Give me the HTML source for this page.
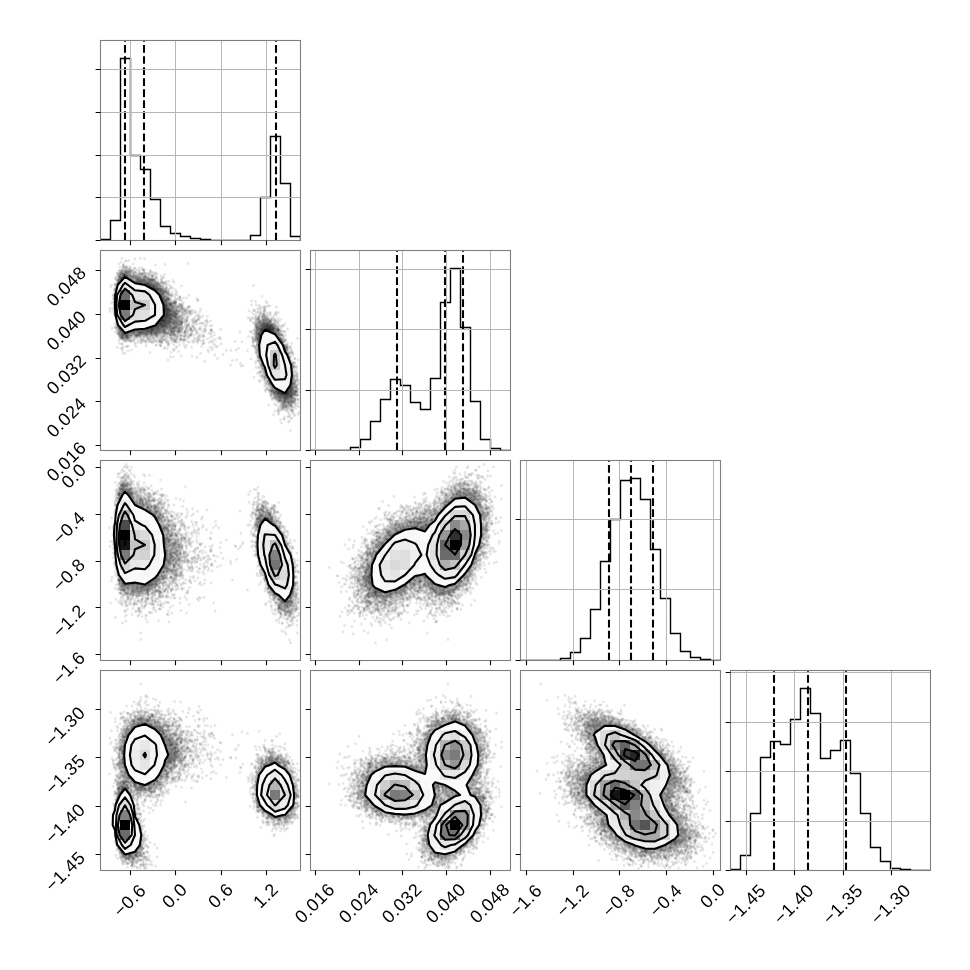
<!DOCTYPE html>
<html><head><meta charset="utf-8"><title>corner</title>
<style>html,body{margin:0;padding:0;background:#fff}svg{display:block}</style>
</head><body>
<svg width="970" height="970" viewBox="0 0 970 970" font-family="'Liberation Sans', sans-serif" font-size="16.7">
<rect width="970" height="970" fill="#fff"/>
<defs>
<clipPath id="c00"><rect x="100.0" y="40.0" width="200" height="200"/></clipPath>
<clipPath id="c10"><rect x="100.0" y="250.0" width="200" height="200"/></clipPath>
<clipPath id="c11"><rect x="310.0" y="250.0" width="200" height="200"/></clipPath>
<clipPath id="c20"><rect x="100.0" y="460.0" width="200" height="200"/></clipPath>
<clipPath id="c21"><rect x="310.0" y="460.0" width="200" height="200"/></clipPath>
<clipPath id="c22"><rect x="520.0" y="460.0" width="200" height="200"/></clipPath>
<clipPath id="c30"><rect x="100.0" y="670.0" width="200" height="200"/></clipPath>
<clipPath id="c31"><rect x="310.0" y="670.0" width="200" height="200"/></clipPath>
<clipPath id="c32"><rect x="520.0" y="670.0" width="200" height="200"/></clipPath>
<clipPath id="c33"><rect x="730.0" y="670.0" width="200" height="200"/></clipPath>
<filter id="hb" x="-5%" y="-5%" width="110%" height="110%"><feGaussianBlur stdDeviation="1.2"/></filter>
</defs>
<g clip-path="url(#c00)">
<path d="M100.5 240.5V239.5H110.5V220.5H120.5V58.5H130.5V155.5H140.5V169.5H150.5V199.5H160.5V226.5H170.5V233.5H180.5V236.5H190.5V238.5H200.5V239.5H210.5V240.5H220.5V240.5H230.5V240.5H240.5V240.5H250.5V235.5H260.5V197.5H270.5V136.5H280.5V183.5H290.5V236.5H300.5V240.5" stroke="#000" stroke-width="1.4" fill="none" stroke-linejoin="miter"/>
<path d="M125 240.5V40.5M144 240.5V40.5M276 240.5V40.5" stroke="#000" stroke-width="2.08" stroke-dasharray="7.71 3.33" fill="none"/>
<path d="M130.5 40.5v200M175.5 40.5v200M221.5 40.5v200M266.5 40.5v200M100.5 69.5h200M100.5 112.5h200M100.5 155.5h200M100.5 197.5h200M100.5 240.5h200" stroke="#b6b6b6" stroke-width="1" fill="none"/>
</g>
<rect x="100.5" y="40.5" width="200" height="200" fill="none" stroke="#7f7f7f" stroke-width="1.1"/>
<path d="M130.5 240.5v4.86M175.5 240.5v4.86M221.5 240.5v4.86M266.5 240.5v4.86M100.5 69.5h-4.86M100.5 112.5h-4.86M100.5 155.5h-4.86M100.5 197.5h-4.86M100.5 240.5h-4.86" stroke="#000" stroke-width="1.1" fill="none"/>
<g clip-path="url(#c10)">
<g transform="translate(-.5 -.5)">
<g filter="url(#hb)">
<path d="M122.1 271l2.9-0.9l3 0.3l2 1.4l3 3.9l12 0.8l9 3.1l4 2.5l7.1 6.9l1.6 2l2.3 6.6l3.4 4.4l2.5 6l2.8 4l0.8 2l0 7l1 4l-0.6 2l-1.9 2.5l-3 1.9l-5 0l-4 2l-8 2.7l-17 1.8l-6-1.7l-4 3l-4 1.5l-3-0.3l-2-1.4l-1.6-2l-1-3l-0.3-5l1-3l-2.9-9l-0.1-9l-0.9-3l0.9-3l0.1-9l1.9-6l-1.4-6l2.4-7l1.5-2ZM263.2 319l1.8-0.5l2 0.2l5 2.4l5.7 4.9l4.1 7l0.2 3l-2.2 3l0 2l4 6l1.2 4.6l3.8 6.4l1.2 4.6l1.8 3.4l0.2 13.3l3.2 1.7l1.5 3l0.3 5l-0.5 7l-3.8 7l-2.7 1.8l-3-0.2l-8-3l-6.7-6.6l-1.7-3l0-3l2.4-3l0-1.3l-5.8-9.7l-1.2-6.6l-2.8-5.4l-3-8l-0.2-10.3l-4-2.1l-1.5-3.6l0.2-8l0.8-3l5-7Z" fill="#000" fill-opacity="0.100" fill-rule="evenodd"/>
<path d="M122.5 272l2.5-0.9l3 0.5l1.6 1.4l2.4 4l1 0.4l10 0l8 2.2l6 3.1l7.7 7.3l1.2 2l2 6l3.8 5l1.8 5l2.9 4l0.8 2l0.4 3l-0.6 4l1.1 4l-0.7 2l-1.4 1.6l-3 1.6l-4-0.1l-13 5.1l-6 0.2l-10 1.4l-7-2.3l-3 3.4l-3 1.4l-3 0.2l-2.5-1.5l-2.1-4l-0.3-4l0.6-3l-3-10l-0.2-9l-1-3l1-3l0-8l2.2-9l-1-3l0.2-2l2.5-6ZM263.5 320l2.5-0.4l5 2.1l5 4l1.7 2.3l2.9 5l0.4 2l-0.7 2l-1.9 2l1.4 3l2.6 3l2.6 7.5l3.3 5.5l1.5 5l1.5 3l0.5 14l0.2 0.6l2 0.8l1.4 1.6l0.6 6l-0.9 7l-3.1 6l-2 1.6l-2 0.1l-8-2.7l-7-6.9l-1.2-2.1l0.1-3l2-3l-0.7-2l-5.5-9l-1.5-7l-2.5-5l-3-8l-0.5-11l-0.2-0.6l-3.2-1.4l-1.3-3l0.3-8l0.9-3l4.3-6ZM132 330.9l-0.2 0.1l0.2 0.6l1 0.1l0.8-0.7l-0.8-0.1Z" fill="#000" fill-opacity="0.100" fill-rule="evenodd"/>
<path d="M125.8 272l2.2 0.7l1.2 1.3l1.3 3l0 1l-1.1 2l2.6 2.2l1 0.3l1-0.5l-0.9-2l0.4-1l1.5-0.7l5-0.4l6 0.9l9.8 4.2l8.2 7.5l1.3 2.5l1.4 5l3.9 5l1.8 5l3.6 6l0.4 3l-0.8 4l1.1 4l-1.7 2.7l-2 1.1l-4 0.2l-12 5.1l-7 0.3l-9 1.6l-3-0.5l-2.6-1.5l-0.7-1l0.2-1l2.5-2l-2.4-0.5l-4.3 1.5l-0.5 1l1 1l0 2l-2.2 2.4l-4 1.1l-2-0.5l-1.2-1l-1.7-4l-0.1-3l0.6-2l-3.5-11l-0.2-9l-0.9-3l0.9-3l0.2-9l2.3-9l-0.8-2l0.1-2l2.8-6l1.5-1.3ZM263.4 321l2.6-0.4l4 1.5l6.7 5.9l2.9 5l0.5 2l-0.3 1l-1.8 1.5l-0.2 1.5l4.6 7l2.1 6l2.9 5l3.5 9l0.4 14l0.7 1.6l2.4 1.4l0.7 6l-0.7 6l-3 6l-1.4 1.4l-2 0.2l-8-2.6l-3-3.6l-3-2.5l-1.3-1.9l-0.2-2l2.1-3l-0.3-1l-6.2-11l-1.2-6l-5.8-14l-0.6-12l-0.5-0.6l-2-0.5l-1-1l-0.7-1.9l1-10l4-6Z" fill="#000" fill-opacity="0.136" fill-rule="evenodd"/>
<path d="M125 273l2 0.3l1.6 1.7l0.6 2l-1.3 2l0.5 1l6.6 4.5l1 0.3l1.9-0.8l-2.8-3l0.1-1l0.8-0.5l4-0.6l6 1l9 3.9l8 6.9l1.3 2.3l0.9 5l4.7 6l1.7 5l2.6 4l0.6 4l-0.9 4l0.9 3l-0.8 2.2l-1.1 0.8l-3.9 0.7l-12.1 5.3l-6.9 0.3l-9 1.7l-3.6-1l-0.8-1l0.2-1l2.2-1.2l4-0.8l1.4-1l-1.4-0.6l-3 1.1l-5-0.6l-3.5 1.1l-3.3 2l1.8 2l-0.9 2l-1.1 0.7l-3 0.7l-2.8-1.4l-1.2-3l0.3-5l-1.9-4l-2-7l-0.2-9l-1-3l1-3l0.2-9l2.8-9l-0.6-4l2.4-5ZM263.6 322l2.4-0.4l3 1.1l5.7 4.3l1.3 1.6l2.8 5.4l0 1l-1.8 1.6l0.3 2.4l4.3 6l2.5 7l3.5 6l1.4 4.9l1.6 3.1l0.2 16l0.2 0.5l2 0.5l0.8 1l0.3 5l-0.9 6l-3.2 5.8l-1 0.6l-8-1.9l-7-7l-0.4-2.5l1.6-2l0.1-1l-6.9-12l-1.4-6.9l-2.6-5.1l-3-8l-0.1-13l-0.3-1.1l-2 0.4l-1-0.6l-0.8-1.7l-0.1-2l1.3-8Z" fill="#000" fill-opacity="0.186" fill-rule="evenodd"/>
<path d="M123.8 275l1.2-0.6l2 0.6l0.4 2l-1 2l8.6 6.1l4 0l2 0.6l4-0.7l-6.1-3l-0.3-1l0.4-0.2l8.6 1.2l6.8 3l3.6 3.8l4 2.4l0.9 1.8l-0.1 2l-0.8 2.3l-1-0.1l-0.4 0.8l1.4 4.5l1.2 1.5l-0.4-3l0.2-1l1 0l4 4l3.7 9l0.9 4l-0.4 2l-2.7 5l-1.8 2l-12.7 6l-10 0l1.5-3l-1.5-1l-2-0.2l-3 1l-6 0l-5.8 2.2l-1.2 1l-1.1 1l0.7 1l-0.1 1l-1.5 0.5l-2-0.8l-0.6-1.7l0.6-3l-3.3-6l-2-7l-0.2-9l-1-3l1-3l0.2-9l1.9-7l1.7-3l-0.6-3ZM264.4 323l1.6-0.2l3 1.2l6.1 5l1.4 4l0 1l-1.4 1l1.7 4l5.5 8l1.4 5l3.6 6l1.4 5l1.6 3l0.3 14l-0.6 3l1 1.7l1-0.2l0.3 0.5l0.6 4l-0.9 5.3l-3 4.1l-6 0.2l-2-0.5l-6-6.1l-0.1-2l1.4-2l-6-11l-1.6-2l-1.4-7l-2.6-5l-3-8l-0.3-11l0.6-3.8l-1-1.5l-1 1.1l-1 0l-0.8-1.8l1.6-9l3.2-4.9ZM139.7 333l1.3-0.9l1.1 0.9Z" fill="#000" fill-opacity="0.246" fill-rule="evenodd"/>
<path d="M125 280l1-0.4l9 5.9l10 0.9l2 1.6l2 0.5l5 2.8l4 3.7l4.6 10l0.4 10.5l1 0.8l0.7-1.3l0.5-6l0.8-1.8l1 0.1l1 1.2l1.5 6.5l0.1 2l-0.6 1l-5 5.9l-5 3.2l-2-0.1l-0.2-2l-0.8-0.2l-2.8 1.2l-0.2 0.7l-1-0.3l-5 1.3l-4-0.3l-3 1l-6 0l-8 3.2l-2-1.7l-3-3.9l-2-5.1l-1.2-4.9l0-8l-1-3l1-3l0-8l2.2-8l3-4.2ZM149 285l1-0.2l2.3 1.2l1.2 1l-0.2 1l-1.8 0l-1.5-0.7l-1-1.3ZM162 317.7l-3 2.8l0 1.5l3-3l0.6-1ZM264.8 325l1.2-0.2l2 0.5l5 3.2l1 1.2l0.3 2.3l-1.7 2l2.9 3l2.9 5l2.6 3.1l2.4 6.9l3.5 6l1.5 5l1.6 3.1l0.3 13.9l-0.6 2l0 3l-1.1 3l0.4 0.7l2 0.6l0.1 2.7l-1.1 2.9l-2 1.3l-6 0.4l-5.1-4.6l-0.3-1l0.4-0.5l2.2-0.5l-1.2-0.6l-3-4.4l-5.9-10l-1.5-7l-2.5-5l-3.1-8.1l-0.3-10.9l0.7-2l0-4l1.8-5l-0.2-0.5l-2.1 0.5l-0.9-2l1.1-3ZM153.5 327l3.5 0l-1 0.3l-0.8 1.7l-1.2 0.9l-2.1 0.1l-1.8-1l0.9-1.1Z" fill="#000" fill-opacity="0.326" fill-rule="evenodd"/>
<path d="M124.7 281l1.3-0.6l1 0.4l8 5.1l10 1.1l2 1.6l7 3.4l4 4l4.3 10l0.1 9l-0.4 1.3l-3.7 3.7l-1.3 2.5l-1.6 1.5l-8.4 3.1l-5 0.1l-2 0.8l-6 0.1l-8 2.9l-4-4.2l-1.8-3.8l-2-7l-0.1-8l-0.9-3l0.9-3l0.1-8l1-4l1.3-4ZM265 329l1-0.8l1 0l3 0.8l1.9 1l0.2 1l-1.1 0.9l-3-0.3l0-0.6ZM265.5 333l1.5-0.9l2 0.2l6 4.7l3.6 6l2.4 2.9l2.1 6.1l2.9 4.9l3.5 9.1l0.4 14l-0.9 5l-2.2 4l-0.1 1l0.3 1.3l1-0.2l1.2 0.9l-0.2 1l-1 1l-2.3 0l-0.7-2l-7-3.8l-4.5-6.2l-4.3-8l-1.3-6l-5.7-14l-0.1-10l0.7-2l0-3Z" fill="#000" fill-opacity="0.448" fill-rule="evenodd"/>
<path d="M125.9 281l4.1 1.9l5 3.6l10 1.2l9 5l3.3 3.3l4.3 10l0.1 9l-0.3 1l-3.9 4l-1 2l-1.5 1.4l-9 3.2l-3-0.2l-3 1l-6 0.1l-7 2.7l-1.3-0.2l-3.7-3.9l-2.1-5.1l-1.2-5l0-8l-1-3l1-3l0-8l2.2-8ZM266.9 333l7.1 3.7l4.1 6.3l1.9 2l2.5 7l3.5 5.8l1.5 5.2l1.6 3l0.2 14l-1 5l-3.3 5.8l-7-3.5l-4-5.3l-2.4-5l-1.6-2l-1.5-7l-2.5-4.8l-3.1-8.2l-0.2-11l0.7-2l0-3l2.2-5Z" fill="#000" fill-opacity="0.594" fill-rule="evenodd"/>
</g>
<g fill="none" stroke="#000" stroke-opacity=".1" stroke-width="2.8" stroke-linecap="round">
<path d="M111 287.5h0m7-13.5h0m-1.5 6h0m1.5 7.5h0m-0.5 0h0m-1.5 7h0m1.5 31.5h0m2 1.5h0m-1 7.5h0m7-65.5h0m-4 4.5h0m2.5 1h0m3 1.5h0m1 2.5h0m-4.5 0h0m-2 3.5h0m-1.5 1h0m1.5 45.5h0m6.5 9.5h0m-6.5 0h0m-1 0.5h0m2.5 5.5h0m7.5-77.5h0m-0.5 7.5h0m0.5 1.5h0m-1.5 4.5h0m2.5 1h0m2.5 2h0m-4.5 48h0m5 0.5h0m-4.5 0h0m5 0h0m-1.5 1.5h0m-3.5 8h0m12.5-66.5h0m-0.5 6.5h0m-2.5 47.5h0m3.5 2h0m0 0.5h0m7.5-57.5h0m-0.5 2h0m0.5 4h0m-1.5 0h0m-2 1.5h0m1 1.5h0m1.5 3.5h0m1 2h0m1.5 42h0m-2.5 0.5h0m-3 1h0m5 9h0m-5 1h0m10-68.5h0m-0.5 5.5h0m-3.5 2h0m7 5h0m-2 1h0m0.5 5h0m1 29h0m0 1.5h0m-2.5 3h0m2 0.5h0m-0.5 1.5h0m-1.5 0h0m1.5 2.5h0m-1 2.5h0m1.5 3h0m6.5-52h0m-4.5 0.5h0m2.5 3h0m4 1.5h0m0 3h0m-2 0.5h0m0.5 0.5h0m-1 0h0m-4 4h0m0.5 0.5h0m3 1h0m4 8h0m-4 3h0m2.5 6.5h0m-2 0.5h0m-2 4h0m2 1.5h0m-1 1h0m3 2h0m-5.5 1h0m5.5 7h0m-3 5h0m3.5 0.5h0m0.5 3.5h0m6-60.5h0m-5.5 13h0m7.5 1.5h0m-7 5.5h0m3 1.5h0m3.5 0.5h0m-2 0.5h0m-2.5 2h0m-2 10h0m3 4h0m-0.5 1.5h0m3.5 9h0m-3 0.5h0m-2.5 2h0m5.5 8.5h0m7.5-40h0m-1.5 4h0m-1.5 2h0m0 0.5h0m-0.5 0h0m3 1.5h0m-1.5 2h0m-3 4h0m4.5 1h0m-5 0h0m2.5 0.5h0m0 4.5h0m-2.5 1h0m3 2.5h0m2 1h0m-5.5 4.5h0m3 0.5h0m1 15h0m10.5-31h0m7-15.5h0m0.5 17.5h0m-1.5 5.5h0m0.5 12.5h0m10.5-13h0m-6.5 6h0m2 8h0m-1 11.5h0m3 15h0m5.5-35.5h0m2 11h0m-1.5 0.5h0m1 4h0m29 22h0m15-44h0m-5.5 12h0m1.5 1h0m7-21h0m4 8h0m-3.5 3h0m3 7h0m-2 12h0m-1 0h0m-1 0.5h0m1.5 2h0m0.5 0h0m-2 1h0m2 0h0m-0.5 0h0m0 0.5h0m0.5 7h0m0 0.5h0m-1 5h0m2.5 2h0m-5.5 7.5h0m6 1h0m6.5-49.5h0m-1.5 1h0m2.5 2h0m-1.5 3h0m-1 1h0m4.5 1h0m-2.5 1h0m-5.5 1h0m3 0.5h0m-2.5 35h0m0 7h0m1.5 3.5h0m5.5 8h0m-1.5 1h0m-1 5h0m2.5 1.5h0m0 4h0m-2.5 10.5h0m6-81.5h0m4.5 1h0m-0.5 5.5h0m-1 0.5h0m-2 6h0m-4 48h0m3 2.5h0m-1.5 0.5h0m4.5 6.5h0m-1.5 4h0m3.5 2.5h0m-1.5 9.5h0m0.5 4.5h0m3.5-72h0m-0.5 0.5h0m5 3h0m-2.5 2.5h0m3 1.5h0m0 3.5h0m-4.5 38.5h0m3.5 0.5h0m0.5 4.5h0m-2.5 4h0m0 0.5h0m1.5 0.5h0m1.5 0.5h0m-3.5 6h0m1 8.5h0m6-66.5h0m-2 6.5h0m-0.5 1.5h0m4 6.5h0m-0.5 10h0m0 1h0m1.5 2h0m-0.5 0h0m-2 1h0m4.5 3.5h0m-5 1h0m5.5 8.5h0m-4 0.5h0m-1.5 3.5h0m2 1.5h0m3 4h0m-1.5 0.5h0m-5 0.5h0m2 0.5h0m1 3h0m-3 3.5h0m-0.5 7.5h0m9.5-11.5h0"/>
<path d="M116 290h0m-1.5 13.5h0m1.5 1h0m0 2h0m-2.5 3h0m5 14.5h0m0.5 3.5h0m-1 6.5h0m9-66h0m-3 0h0m3 4h0m-2.5 5h0m-3.5 0.5h0m0.5 53h0m-1.5 3h0m1.5 1.5h0m5 1h0m-5.5 2h0m2 0.5h0m4.5 0h0m-3.5 9h0m9.5-83h0m-5 12h0m0 1.5h0m0 1.5h0m5.5 52h0m-1.5 1h0m1.5 0.5h0m-4 0.5h0m2.5 1.5h0m10-61h0m-5.5 5.5h0m7 1h0m-0.5 0.5h0m-2.5 1.5h0m-2.5 0.5h0m-1 0.5h0m-0.5 0.5h0m5.5 55.5h0m2.5-66.5h0m3.5 1h0m-0.5 0.5h0m-2 3h0m3.5 3h0m-1.5 2.5h0m-2.5 2.5h0m5 0.5h0m-1 42h0m-0.5 0h0m-1.5 0.5h0m2 3.5h0m-2 2h0m2.5 6h0m6-74.5h0m1 12.5h0m-2 8h0m0.5 4h0m4.5 31.5h0m-2 5h0m2 6.5h0m-3 2h0m-5 0h0m8 5h0m-2 2h0m8-53h0m1 3.5h0m-4.5 2h0m1.5 4.5h0m1.5 2h0m-0.5 0.5h0m-1.5 1.5h0m2 8h0m-1.5 1.5h0m-2.5 12h0m4.5 2.5h0m-1 5h0m-3 4.5h0m0.5 1.5h0m-0.5 5h0m12.5-60h0m-5.5 2.5h0m2 1h0m1.5 6.5h0m-4 1h0m1.5 10h0m4.5 0h0m-3 2h0m-2 4h0m4.5 0.5h0m-3.5 1h0m-1.5 1.5h0m5.5 2h0m-3 8h0m3.5 5.5h0m-0.5 0.5h0m-1.5 0.5h0m0 2h0m1.5 0h0m-6 2.5h0m2.5 3h0m0.5 4.5h0m-2.5 0h0m8.5-49h0m4.5 12h0m-5 4.5h0m3.5 3h0m3.5 1.5h0m-3 1.5h0m-3.5 0h0m4 1.5h0m0 1h0m-2.5 1h0m0.5 3h0m2.5 1h0m-4.5 1.5h0m5 0.5h0m-2 2h0m-1.5 0.5h0m0.5 5h0m0 1h0m2 3.5h0m0.5 3h0m-4.5 7.5h0m4 9.5h0m6-42.5h0m0.5 5.5h0m-1 9.5h0m-1.5 4.5h0m4.5 2h0m-1 2.5h0m5.5-19h0m-2 8h0m3 2.5h0m4.5 6h0m1-26h0m-1 25h0m1 3h0m53-51.5h0m0.5 25h0m-2 2h0m-1 19h0m0 27.5h0m3 18.5h0m8-81h0m-4.5 12h0m4.5 8h0m-4 1.5h0m1.5 1.5h0m0 2.5h0m-4 2h0m6.5 2.5h0m-5 3h0m6 0.5h0m-2 0.5h0m1 0.5h0m-2 3h0m-1 10h0m0.5 2h0m-1 4h0m0.5 7h0m0.5 0.5h0m2 2h0m1.5 2.5h0m-0.5 7h0m-3.5 11.5h0m4.5-65h0m5 0h0m-1 3h0m1 0.5h0m-2 2h0m4 0.5h0m0.5 1.5h0m0.5 0.5h0m-7.5 41h0m1.5 3h0m-0.5 1.5h0m1 0.5h0m0 1.5h0m-0.5 0.5h0m0.5 3.5h0m-2 2h0m1 3h0m0 2.5h0m12.5-60h0m-5 4h0m-1 7h0m7.5 0.5h0m-1.5 3.5h0m0.5 1.5h0m-6 44.5h0m2 9.5h0m0 1.5h0m1 1h0m3 0.5h0m-1.5 0.5h0m1.5 0.5h0m-2 8h0m2.5 7h0m6.5-88h0m-2 11h0m1 2h0m-3.5 2.5h0m4 1.5h0m-2 1h0m4.5 3.5h0m-1.5 0h0m-2.5 0h0m1.5 1.5h0m1 1.5h0m-1 1.5h0m-4 43.5h0m6.5 5h0m-6.5 2.5h0m2 0.5h0m1.5 3h0m1.5 3.5h0m-2.5 1.5h0m-1 1h0m9.5-58.5h0m-0.5 31.5h0m-0.5 1h0m5 10h0m-5 0.5h0m1 0.5h0m1 2.5h0m-1 8.5h0m-1.5 0.5h0m1.5 3.5h0m1 1h0m4-20h0"/>
<path d="M120 278.5h0m-2 9.5h0m-0.5 3.5h0m-0.5 2h0m-1.5 8h0m0.5 11h0m0.5 2.5h0m0 3h0m2 4h0m-1 5.5h0m-1.5 5.5h0m6.5-60h0m1.5 2.5h0m-1.5 5h0m-2 47.5h0m4 4.5h0m-2.5 12h0m13.5-85h0m-5 13h0m-0.5 0.5h0m1.5 4.5h0m0.5 3h0m-1 1h0m2.5 48.5h0m-0.5 0.5h0m0 0h0m-4.5 7.5h0m5 2.5h0m-2.5 1h0m3.5 0h0m6.5-59h0m-2.5 1h0m-2.5 0h0m7 0.5h0m-5.5 45.5h0m4.5 0h0m-4.5 2.5h0m0.5 0.5h0m1.5 2.5h0m2 8h0m4.5-68h0m0 5.5h0m3 5h0m-1 1h0m-1.5 57.5h0m6.5-64h0m5 1h0m-2.5 0h0m1.5 0.5h0m0 6h0m-2.5 0.5h0m1.5 0.5h0m4 1h0m-5.5 1.5h0m-2 39.5h0m0 1.5h0m3.5 2.5h0m2 1.5h0m-5.5 0.5h0m13-71.5h0m-5 21h0m6.5 3h0m-1.5 3h0m2 1.5h0m-6 6h0m5 7h0m0.5 3h0m-3.5 3h0m1 0h0m-2 7.5h0m3 1h0m-3 3.5h0m2 1.5h0m-1.5 1h0m-2.5 3.5h0m5 0h0m-1 1.5h0m-1 1.5h0m3.5 0.5h0m2.5-44h0m6.5 10h0m-4 4h0m-0.5 1h0m3 7.5h0m-5 7h0m1.5 1h0m3 2.5h0m1 5h0m-2 4.5h0m-0.5 2h0m0 0.5h0m1 0h0m-3 0h0m8-35.5h0m5.5 3.5h0m-8 0h0m5.5 2.5h0m1 7h0m-4.5 0.5h0m-0.5 1h0m-1.5 3.5h0m4 3h0m-3.5 4.5h0m6 2.5h0m-2 3h0m-1.5 2.5h0m1 6.5h0m8.5-75.5h0m1.5 43.5h0m-4 2h0m-1 1h0m4 0.5h0m-0.5 2.5h0m-2 7h0m4 8h0m-5 4h0m6.5 0.5h0m-8 7.5h0m9-8.5h0m7 4.5h0m6-6.5h0m-2.5 7h0m-2.5 4.5h0m2.5 3h0m10.5-0.5h0m7-14h0m-3 17h0m13 18.5h0m17-14.5h0m4-49.5h0m4 39h0m-1 6h0m1.5-41h0m7 10h0m0.5 1.5h0m-5 2h0m5 0.5h0m-3.5 2.5h0m-3.5 12.5h0m2.5 2h0m2 0h0m-3 3.5h0m1 18h0m4 9h0m-4 1h0m1 14h0m8-63.5h0m0 1h0m3.5 1.5h0m-4 3h0m0.5 0.5h0m-2.5 6h0m4.5 2.5h0m-6.5 0.5h0m1.5 35h0m-1.5 1.5h0m0.5 0h0m2 0.5h0m0.5 3h0m1.5 4h0m-0.5 2h0m1 0h0m-4 1h0m4 0.5h0m2.5 1h0m-5.5 0h0m4 2.5h0m-3 0.5h0m4 0.5h0m-0.5 1.5h0m-1 4h0m3-65.5h0m5.5 4h0m-4 3h0m2 3h0m1.5 3h0m2 1.5h0m0 0h0m-6.5 45.5h0m-0.5 3h0m-0.5 1.5h0m0.5 0.5h0m7 2.5h0m-4.5 1h0m0.5 2h0m-3 3.5h0m4.5 0.5h0m2 3h0m1-72h0m2 1h0m0 11h0m6 0.5h0m-6.5 0h0m3 2h0m0.5 6h0m1.5 0.5h0m1 2h0m0 36h0m-5 3.5h0m2 0h0m3.5 1h0m-7.5 0h0m7 2.5h0m-2.5 2h0m0 4h0m7.5-59h0m-0.5 6h0m-4 5.5h0m2.5 2.5h0m0 4.5h0m3 0.5h0m-2.5 0.5h0m-0.5 0.5h0m1 1.5h0m0.5 4h0m2 1h0m-2 0.5h0m-0.5 1h0m4.5 0.5h0m-3.5 2.5h0m0.5 0.5h0m-1.5 1h0m-0.5 14h0m1 6.5h0m3.5 3h0m-2.5 9.5h0m3.5-40h0m3 15h0m-2.5 1h0m1.5 29.5h0"/>
<path d="M119.5 283.5h0m-0.5 2h0m-0.5 0h0m-2.5 2.5h0m-1 10h0m-3 5h0m4 8.5h0m-2 0.5h0m1.5 12h0m3.5 3h0m0.5 0.5h0m-4 0h0m2.5 0.5h0m1.5 0.5h0m-1.5 1h0m1.5 7.5h0m4-70h0m3 5h0m1 0h0m-1.5 4.5h0m-3 2h0m-1.5 49.5h0m0 3h0m2 1.5h0m2 1h0m0.5 0.5h0m-3.5 0.5h0m0 2h0m4.5 1h0m0.5 9.5h0m2-86h0m1.5 11.5h0m2 1h0m1.5 1h0m1 2h0m-7.5 2.5h0m4 3h0m1.5 0.5h0m-1.5 50.5h0m2.5 0.5h0m0 0.5h0m1 0.5h0m4-63.5h0m-1 8h0m1 3.5h0m1 1.5h0m2 49.5h0m-4 9.5h0m3 0.5h0m-5 3.5h0m14.5-76h0m-2.5 4.5h0m0 1h0m-0.5 2h0m2.5 0h0m-3.5 7h0m3 3.5h0m2 39h0m-7.5 9h0m3.5 2.5h0m5.5-66.5h0m-1.5 7h0m6 5h0m-3.5 1h0m0.5 1.5h0m3 0h0m0 1.5h0m-3 0.5h0m-2.5 0h0m6 4.5h0m1 2.5h0m-4.5 29.5h0m-3 5h0m4.5 2h0m-1 7.5h0m-2 1h0m2.5 0.5h0m6-59h0m5 1.5h0m-3.5 8.5h0m-1 5.5h0m-1 1.5h0m3.5 3.5h0m0 1.5h0m2 3h0m-2.5 2.5h0m3 4h0m0.5 2.5h0m-6 1.5h0m-1.5 5h0m7 5h0m-5.5 3h0m0.5 0.5h0m3 0.5h0m-2 7.5h0m-2.5 2.5h0m4.5 5.5h0m6.5-52h0m2.5 5.5h0m0.5 4h0m1 0.5h0m-1.5 3h0m0.5 7h0m-0.5 6h0m-2 8h0m-0.5 2h0m2 1h0m-1 1.5h0m10-25h0m-4.5 3h0m-1.5 0.5h0m6 2.5h0m-5.5 3h0m0.5 1h0m-1 3h0m4 0.5h0m1 1h0m-1.5 0h0m-1 2.5h0m0 2h0m6-17.5h0m1.5 10.5h0m-1 4h0m6 9.5h0m-7 1.5h0m2 9.5h0m8.5-24.5h0m-1.5 3h0m-1 0h0m12.5-2.5h0m-1.5 2h0m4-7h0m2.5 30.5h0m10.5-8h0m0.5 5h0m29.5-24h0m2.5 21.5h0m10.5-28h0m-1.5 3.5h0m-3.5 2.5h0m5 0.5h0m-3.5 3h0m0.5 1.5h0m1 11h0m-1.5 5.5h0m-1 0.5h0m-0.5 2h0m-1 0.5h0m-2 3.5h0m4.5 1.5h0m-1 6.5h0m1.5 1h0m-2 0.5h0m3.5 2.5h0m0.5 3h0m-2 1.5h0m1.5 0.5h0m-0.5 2h0m1.5 0.5h0m0 1h0m-2.5 3.5h0m2 4.5h0m7-70h0m-5 5h0m-0.5 0.5h0m1 3h0m6.5 4h0m-3 11h0m-4.5 36h0m2 3h0m-0.5 0.5h0m0 2.5h0m1 2.5h0m-0.5 3h0m-0.5 0h0m4 5h0m9-69.5h0m-6.5 17.5h0m7.5 3h0m0 7.5h0m-8 42h0m3.5 4.5h0m-3 4h0m3 1h0m1.5 9h0m-3 14h0m9.5-89.5h0m-2.5 9h0m-0.5 4h0m0.5 2.5h0m3.5 4.5h0m-1 3h0m4 1.5h0m0 2h0m-6.5 41h0m5.5 5.5h0m-5.5 2h0m2 1h0m2 0.5h0m-2 0.5h0m2.5 2.5h0m3-51.5h0m0.5 4.5h0m0 1.5h0m4.5 4h0m1.5 3.5h0m-2.5 1.5h0m0.5 6.5h0m-1.5 3h0m2.5 0h0m-1.5 0h0m-0.5 2.5h0m-0.5 1.5h0m3 1h0m-2.5 3h0m-3 1.5h0m-1 0.5h0m7 7h0m-3 1h0m3.5 2.5h0m-1.5 3.5h0m-0.5 0h0m-2 4.5h0m-3.5 0h0m5 1h0m3 1h0m-1 6h0m2.5-40.5h0m-1.5 7h0m1.5 6h0"/>
<path d="M118 276.5h0m-1.5 1.5h0m3 2.5h0m-0.5 3h0m0.5 0.5h0m-1 2h0m-1.5 0.5h0m0.5 1.5h0m-0.5 4h0m-0.5 2h0m-3 2h0m1.5 18h0m1.5 1h0m-0.5 0.5h0m1 4h0m2 7h0m1 0.5h0m-1 0h0m1 2.5h0m-0.5 2.5h0m4.5-67.5h0m-2 7h0m4.5 2.5h0m0.5 0.5h0m-1.5 1.5h0m1 0.5h0m-2.5 0h0m1 1h0m-2.5 1h0m4 0h0m-6.5 48.5h0m2.5 3h0m3 3.5h0m-1 0.5h0m5-61.5h0m5.5 1h0m-0.5 0h0m-5.5 1h0m6 4h0m-4 1h0m-2 1h0m3.5 0h0m0 0.5h0m3 49h0m-4 2.5h0m-3 7h0m15.5-68h0m-4 2.5h0m2 0.5h0m-1.5 3.5h0m3.5 3h0m-6.5 49h0m3 3h0m1.5 3h0m-4 0h0m6 2h0m-5.5 3h0m5.5-67.5h0m2 3.5h0m1 3.5h0m3 1h0m1.5 7h0m0.5 1h0m-0.5 45.5h0m-5.5 6.5h0m9-62h0m-2 1h0m6 2.5h0m-3 0.5h0m4 1.5h0m-6.5 4h0m4.5 35.5h0m-1.5 9.5h0m-2 1.5h0m1.5 1h0m0.5 1h0m5-50.5h0m4.5 4.5h0m-2 3h0m-3 2h0m-0.5 1.5h0m3.5 8h0m1.5 0.5h0m-0.5 8.5h0m-3.5 3.5h0m4 0.5h0m-2 2.5h0m-1 7.5h0m2.5 2h0m-0.5 4h0m2 7h0m9-44h0m-1.5 6h0m-1.5 0.5h0m2.5 2h0m-3 5h0m-1 3.5h0m3 1.5h0m-1 6h0m-3 0h0m-0.5 2h0m1 2h0m4.5 1h0m-1.5 1h0m-2 11h0m7.5-29h0m3.5 4h0m-2.5 3h0m-3.5 1.5h0m4 1.5h0m-2 0h0m2 1h0m0.5 0.5h0m-2 0.5h0m1.5 2h0m2.5 3h0m-6.5 0.5h0m7 0.5h0m-1 0.5h0m-3 2h0m1 0h0m-4 1h0m-0.5 0.5h0m3 19.5h0m13-41h0m-7 5h0m3.5 10h0m-0.5 2.5h0m3.5 1h0m-6 2.5h0m-1 6h0m1.5 2h0m12.5-25.5h0m1 2.5h0m-2.5 3.5h0m-1 2h0m7.5-6h0m12.5 23.5h0m-7 12.5h0m33.5-10h0m12-32h0m-0.5 32.5h0m7-33.5h0m-2.5 3.5h0m-0.5 7h0m2.5 2.5h0m3.5 2h0m-2.5 1.5h0m-5 3h0m1 2h0m-0.5 2h0m3 2h0m1.5 3.5h0m-1 0h0m0.5 5h0m-1.5 2.5h0m-0.5 3h0m2 3.5h0m-1.5 0.5h0m1.5 2h0m1 6h0m-2.5 0.5h0m-0.5 0.5h0m2.5 1.5h0m2 0h0m-2 2.5h0m2 9.5h0m1.5-63.5h0m6 3.5h0m-5.5 0.5h0m1 1h0m-1 0.5h0m-1 3.5h0m0 0.5h0m0.5 9.5h0m4.5 0h0m2.5 2h0m-6 42h0m1 5.5h0m3.5 0.5h0m0.5 14.5h0m6.5-73.5h0m-5.5 2.5h0m0.5 0.5h0m5.5 5h0m-4.5 2h0m-1 1.5h0m2.5 1h0m3 0.5h0m-2 1.5h0m1 0.5h0m2.5 0h0m0.5 0.5h0m-1.5 2.5h0m-5.5 44.5h0m0.5 6h0m-1.5 2h0m2.5 1.5h0m4.5 0.5h0m0 6h0m3-72.5h0m1.5 10.5h0m-0.5 1h0m-1 2.5h0m-0.5 0h0m0 1.5h0m1 0.5h0m4.5 3.5h0m-0.5 48h0m-1.5 5h0m3 0.5h0m-3.5 1h0m-2 1.5h0m-0.5 3h0m4 0.5h0m3-54h0m4.5 14.5h0m0 1.5h0m-2 10h0m-1.5 9h0m4.5 6.5h0m-2 4.5h0m-3.5 1h0m-0.5 5h0m7 0h0m-4 6h0m-3 2h0m9.5-39h0m0 16h0m-1.5 2h0"/>
<path d="M110.5 312h0m9-41h0m-1 10h0m-1 8h0m0 1h0m-2.5 2h0m1.5 7h0m1.5 22.5h0m0.5 3h0m-3 3.5h0m4.5 6h0m5-58.5h0m0 0h0m-4.5 0.5h0m2 5h0m4 51.5h0m-1.5 3h0m-4 0.5h0m5.5 0.5h0m-1.5 5.5h0m6-71h0m0 3.5h0m1 2h0m0.5 1h0m3 6h0m-1 0h0m-4 47.5h0m3.5 0.5h0m-6 1.5h0m4.5 2.5h0m11-61.5h0m-6 6h0m-0.5 4.5h0m4.5 47.5h0m-1.5 2h0m-2.5 4.5h0m7.5-79.5h0m4.5 20.5h0m-5 1.5h0m5.5 0h0m-1 4h0m0.5 2.5h0m-2 41h0m0 0.5h0m-2 3.5h0m2.5 2h0m2 1.5h0m0 0.5h0m-5.5 2.5h0m7.5-63h0m0 4h0m2.5 1.5h0m4 8.5h0m-5 36.5h0m0 1.5h0m-1 1.5h0m2 0.5h0m3.5 3.5h0m-6 0.5h0m10-55h0m5.5 3h0m-0.5 11.5h0m-4 7h0m5 0h0m-0.5 4h0m-1 1.5h0m1 2.5h0m-1.5 1h0m-3.5 12h0m-2 0.5h0m2 3.5h0m1 5h0m-1.5 12h0m-0.5 0h0m8-60.5h0m-0.5 12h0m1.5 2h0m5.5 7h0m-3 0.5h0m-3 0.5h0m2 1h0m0.5 4h0m-3.5 0.5h0m2.5 1.5h0m-2.5 5.5h0m0 4h0m0 1h0m3 6.5h0m1.5 0h0m0 1h0m1 1.5h0m-3 4.5h0m4 7h0m4.5-37.5h0m2.5 1.5h0m-5 3.5h0m-0.5 1h0m-1 2h0m2.5 2h0m3 5.5h0m-3.5 0.5h0m0 1.5h0m-1.5 0h0m4.5 0h0m-3.5 2h0m0.5 3.5h0m2 1h0m-2 0.5h0m0 0.5h0m-0.5 2.5h0m1 1.5h0m-1.5 1h0m0.5 1.5h0m1.5 1h0m2 2h0m9-25.5h0m-2 3.5h0m-0.5 3.5h0m-2.5 3h0m6.5 6.5h0m-1.5 5.5h0m-1.5 7h0m7-29h0m3.5 6h0m-5 2.5h0m3 9h0m-3 0h0m13-10.5h0m-4 11.5h0m1.5 5.5h0m-1 6.5h0m9-18h0m39.5-20.5h0m-2.5 6h0m5 3.5h0m-1 3.5h0m0.5 12.5h0m-0.5 15h0m3-32h0m2 14.5h0m0 6.5h0m2 21.5h0m-1.5 3.5h0m3 0.5h0m-5.5 1h0m5 2.5h0m1.5 2.5h0m2-56h0m-0.5 13.5h0m4.5 1.5h0m1.5 1h0m-6 0h0m5 0.5h0m0.5 2h0m1.5 1h0m-4 1h0m-2 38.5h0m1 2h0m-1 0h0m-1 1h0m2.5 2.5h0m1.5 2h0m1.5 4h0m-0.5 1.5h0m1.5 0.5h0m-0.5 1h0m-0.5 0.5h0m2 10.5h0m-0.5 2.5h0m5.5-84h0m-0.5 1h0m-2.5 14h0m-0.5 2.5h0m0 3.5h0m2.5 2h0m2 1.5h0m-4 49.5h0m0 0h0m3.5 3h0m-2 2h0m2 1h0m-4.5 4.5h0m8.5-71.5h0m4.5 9.5h0m-4 4.5h0m4 0h0m-4.5 0.5h0m2.5 0.5h0m0 0h0m-2.5 0.5h0m-1 0h0m0.5 1h0m1.5 2h0m5 4h0m-2 1h0m2 0.5h0m-1 42h0m-6 6.5h0m1.5 2.5h0m3 0h0m-3.5 3h0m5 3h0m-3 1h0m-1 0.5h0m-1 1h0m6 1h0m-6.5 9.5h0m7-74.5h0m1 8.5h0m2.5 7h0m3.5 1.5h0m-2.5 2h0m-0.5 5h0m0 1.5h0m0 2h0m3 3.5h0m-6 14.5h0m3 1h0m-1.5 1.5h0m1.5 2h0m-0.5 0.5h0m0 4.5h0m2 1h0m-1 0.5h0m-1 3.5h0m4.5 0.5h0m-7 0h0m8.5-26.5h0m0.5 12.5h0m-1 4h0"/>
<path d="M118 276.5h0m0.5 3.5h0m-2.5 4.5h0m-1 5h0m0.5 6h0m-0.5 3.5h0m0.5 1h0m1 18h0m0.5 4h0m0 6.5h0m3.5-60.5h0m6 3.5h0m-5 0.5h0m1.5 7h0m1 0.5h0m-1.5 1h0m-0.5 48h0m-1.5 3.5h0m7 3.5h0m-4 0.5h0m-2.5 1h0m5 2h0m-1 1h0m-1.5 0.5h0m-1 8.5h0m12.5-80.5h0m-3 3h0m-1.5 0h0m5 1h0m-0.5 3h0m-6 1h0m7 0.5h0m-4 1h0m0 4h0m1 0.5h0m1.5 0h0m-0.5 1h0m0.5 0h0m-2 47.5h0m1 2h0m1.5 2h0m-6 2.5h0m14-67.5h0m-4 4h0m0.5 1.5h0m-1.5 1.5h0m3.5 3h0m-3.5 1h0m0.5 2h0m0.5 2h0m2 44h0m2.5 3.5h0m-6 3h0m9.5-7h0m0.5 0h0m0 3h0m4 1.5h0m-7 1.5h0m13.5-60h0m-5 2h0m3.5 0.5h0m-2 3.5h0m-2.5 3h0m7.5 1h0m-2 0h0m-2 5h0m2 1h0m-0.5 2.5h0m2 1h0m-5.5 33h0m1 0.5h0m3 1h0m-2 0h0m3.5 8h0m-5 2h0m11-55h0m-0.5 3.5h0m-3.5 2.5h0m5.5 1.5h0m-4.5 5.5h0m2 1h0m-1 1.5h0m0.5 1.5h0m-2 0h0m4.5 0.5h0m0 5h0m0.5 3.5h0m-2.5 3h0m-1.5 4.5h0m3 8h0m-3 1.5h0m-1.5 2.5h0m1 2h0m3 0.5h0m0 2.5h0m-5 0h0m2.5 3h0m6-37.5h0m1.5 3.5h0m4 0.5h0m1 5.5h0m-1 1.5h0m-4.5 0h0m0.5 9.5h0m0.5 10.5h0m-1.5 1.5h0m5.5 1.5h0m0.5 1h0m-1.5 16h0m1 0.5h0m-3.5 6.5h0m5.5-55h0m0 1.5h0m3.5 6h0m1.5 1h0m2.5 0h0m-7 0.5h0m7 1h0m-7 8.5h0m4 1h0m-4 0.5h0m-0.5 6h0m1 4h0m0 5.5h0m6 3h0m1-4.5h0m11.5-19.5h0m1.5 8h0m2 4.5h0m-7.5 4h0m6 5h0m-5.5 18.5h0m8-45h0m-0.5 12h0m7.5 0.5h0m5.5 23.5h0m6-9.5h0m21.5-6h0m13-9.5h0m-4.5 14h0m4.5 1.5h0m8-26.5h0m-4.5 13.5h0m2 0h0m2.5 0h0m-2.5 1h0m-1 0.5h0m4.5 4.5h0m1 0h0m0 2h0m-0.5 1h0m-3 10.5h0m0 1h0m-2.5 3.5h0m4.5 9.5h0m0.5 1h0m-4.5 14h0m11-67.5h0m-3.5 3h0m0 7.5h0m2.5 10h0m2.5 0h0m-3.5 2h0m-0.5 1h0m-1 37.5h0m0 1h0m-1.5 2h0m2 0.5h0m0 2.5h0m1 0.5h0m-1.5 4h0m4.5 2.5h0m1 0.5h0m-2.5 1h0m2.5 0.5h0m0.5 5h0m7-68.5h0m-5 10.5h0m6 0.5h0m-6.5 3h0m3 1.5h0m-2.5 50.5h0m0.5 1h0m-1.5 0.5h0m2 0.5h0m-0.5 7h0m7-74h0m0.5 11h0m3 1h0m-2 4h0m-2 3h0m2.5 2.5h0m-1 0.5h0m0 1h0m0 1h0m2.5 1.5h0m3 2.5h0m-2 3.5h0m0 0.5h0m0.5 0.5h0m-6 39.5h0m3 2.5h0m2.5 1.5h0m-0.5 2h0m-1 7.5h0m0.5 14h0m9-65h0m-5 0.5h0m1 3.5h0m4 7.5h0m0 6h0m0.5 2h0m-2 8h0m-1 1h0m1.5 1h0m0.5 1h0m2.5 9.5h0m-1.5 0h0m-2 0.5h0m3.5 4.5h0m-2 2.5h0m-4 1h0m3 1h0m-1.5 1.5h0m-1 16h0m7.5-44h0m0.5 4h0m-0.5 5h0m1 9.5h0m0 4h0"/>
<path d="M119.5 274h0m-4 5h0m3.5 3h0m0.5 3h0m-4 17.5h0m-0.5 6.5h0m1 0h0m0 7.5h0m2 8.5h0m2 2h0m-2.5 4.5h0m8-62.5h0m-1 1.5h0m-0.5 0.5h0m3.5 1.5h0m-2.5 3.5h0m-3.5 3h0m-1.5 5.5h0m0.5 45h0m1 1.5h0m2 4.5h0m3.5 1.5h0m0.5 1h0m-4 0.5h0m4 0h0m-6 0.5h0m9-60.5h0m-2 1h0m2.5 0h0m-0.5 55.5h0m-1.5 11.5h0m13-72h0m-4.5 0.5h0m1 3h0m-1.5 1h0m1 1h0m1.5 0h0m3.5 0.5h0m-5 1h0m3.5 0.5h0m-1 1h0m-2.5 1h0m0 1h0m0 45.5h0m4.5 0h0m-5.5 0.5h0m0.5 6.5h0m6 3.5h0m0.5-70.5h0m1.5 3.5h0m1 3h0m-1.5 4.5h0m0.5 3h0m0.5 2h0m2.5 41.5h0m-0.5 1h0m-3.5 2h0m7 3h0m-3.5 4h0m1.5 4h0m-3 4.5h0m8.5-58h0m-2.5 1h0m6 3.5h0m1 2.5h0m-2.5 31h0m-4.5 4h0m7 2h0m-5 0.5h0m5 8h0m-7.5 1.5h0m2 0.5h0m6 1.5h0m3-61h0m3 1.5h0m-1.5 5h0m-3.5 2h0m0.5 5h0m5 4h0m-1 6h0m-1.5 0h0m2.5 3h0m-2 0.5h0m1.5 1.5h0m-1 0.5h0m2.5 0.5h0m-0.5 2h0m-1 0.5h0m-3.5 5h0m4 3.5h0m0.5 0h0m0 0.5h0m-4 3h0m3.5 2.5h0m-4 4h0m3 0h0m5.5-45.5h0m-2 7h0m3 5h0m1.5 2.5h0m-2.5 2h0m-1 2h0m4 5h0m-4.5 2.5h0m0.5 0.5h0m2 3.5h0m-4 6.5h0m3.5 3.5h0m-1 0h0m-1.5 1h0m0 4.5h0m5.5 1.5h0m-3 2h0m1.5 5.5h0m-4.5 2.5h0m5.5 12h0m6.5-60h0m-1 9h0m2.5 1h0m-5.5 4.5h0m0 5.5h0m3 0.5h0m-1.5 6.5h0m0.5 1h0m1 2.5h0m-2.5 1h0m3 3h0m0.5 3h0m2 1.5h0m-4.5 3h0m3.5 0h0m5-26h0m4.5 2h0m1 14.5h0m-5 4h0m11-33h0m-1 31.5h0m-2.5 3h0m19.5-3h0m-1 17.5h0m-1 0.5h0m41-31.5h0m4 0h0m0.5 1h0m4.5 2h0m-5.5 0h0m0 0.5h0m6.5 1.5h0m-1 7h0m-4 4h0m2.5 1.5h0m-1 0.5h0m1 0h0m-4.5 1h0m1.5 2h0m-1 0.5h0m4.5 2h0m-0.5 4h0m-1.5 4h0m-2.5 3h0m4 6h0m-0.5 2h0m3 1.5h0m1 2h0m-1.5 0.5h0m-1 6h0m3-63h0m1.5 9h0m0 0h0m0.5 3.5h0m3.5 5h0m-5 2h0m6 0h0m-6.5 0h0m5 2h0m-3 40.5h0m0 7h0m-1 0.5h0m6 3h0m0 1h0m-0.5 0.5h0m1 2.5h0m-7 2h0m2 3h0m4 1.5h0m1.5-71h0m2 5h0m1 0.5h0m2.5 1.5h0m-2 2.5h0m3 1h0m-3.5 4h0m3 5h0m-1 56.5h0m1 0.5h0m-1 2h0m1 0h0m0.5 2.5h0m9-72h0m-6.5 5.5h0m0.5 4h0m0.5 5.5h0m1 2.5h0m3.5 45.5h0m-3.5 1.5h0m-1 1h0m1.5 2.5h0m-3.5 0.5h0m3 7h0m-0.5 4h0m2.5 1h0m5.5-63h0m-1 13h0m2 12h0m3.5 3.5h0m-4 2h0m2.5 2h0m-2.5 0h0m-0.5 5.5h0m0 4h0m1.5 6.5h0m-1.5 5.5h0m0.5 9.5h0m2 3.5h0m-4.5 3h0m0 5.5h0m8.5-22.5h0m-1.5 1h0m3 2h0m-0.5 0.5h0"/>
<path d="M112 285.5h0m3 5.5h0m0 8.5h0m-0.5 3h0m9.5-37h0m0.5 1.5h0m3 1.5h0m-0.5 0h0m-5.5 5.5h0m-1.5 3h0m3.5 57h0m4 1h0m-0.5 0.5h0m-4.5 2h0m8.5-66h0m-1 0.5h0m-1.5 1h0m5 4.5h0m2.5 4.5h0m-5.5 54.5h0m0 2h0m1 3.5h0m4 3h0m5.5-86h0m1.5 9.5h0m-6 4h0m4.5 2h0m2 3h0m-1 5.5h0m-2.5 1.5h0m-3.5 0h0m3 0h0m3 1h0m-3.5 43.5h0m-0.5 0.5h0m1 0h0m1 0.5h0m1 2.5h0m-2 1h0m-3 3.5h0m15.5-56h0m-6 3.5h0m2.5 2h0m3 0.5h0m0.5 42h0m-1 5h0m-4 1.5h0m8-55.5h0m-1 2h0m1.5 1h0m-1.5 3.5h0m0.5 4.5h0m1.5 0h0m3 30.5h0m-1.5 4h0m-3.5 2.5h0m4.5 1.5h0m-5.5 0h0m6 2h0m0 2h0m-1 4.5h0m6.5-60.5h0m-2.5 3h0m1.5 2h0m-2.5 3.5h0m1.5 0.5h0m4 11h0m-4.5 0.5h0m4.5 2h0m-2.5 8.5h0m3.5 0.5h0m-2 0h0m2 6.5h0m-2 0h0m0.5 0.5h0m-3.5 1h0m2 0.5h0m2.5 1.5h0m-6 1h0m0.5 0.5h0m6.5 6.5h0m-2.5 0.5h0m-2.5 14.5h0m-1 4.5h0m10.5-58.5h0m-2.5 4.5h0m-0.5 7.5h0m7 5h0m-4.5 0.5h0m2 1.5h0m-5 3.5h0m4.5 9.5h0m2 3.5h0m-4.5 3h0m3 2.5h0m-5 0h0m1.5 1.5h0m1.5 1.5h0m-0.5 3h0m4 0.5h0m-2 3h0m7-41h0m0 14.5h0m2.5 0.5h0m-3 4h0m3.5 2h0m-0.5 0.5h0m-1.5 0.5h0m2 3h0m-3 1.5h0m1 8.5h0m1 3h0m-5.5 3.5h0m0.5 4h0m9-31.5h0m0.5 17h0m-0.5 20h0m12.5-47.5h0m-4.5 19h0m-1 1h0m4 0.5h0m-2.5 7h0m-1.5 12.5h0m5.5 0.5h0m-3.5 0.5h0m10.5-16h0m-5 3.5h0m5 1h0m6 0h0m48.5-21h0m1 4h0m-2 2.5h0m4.5 0.5h0m-4.5 2.5h0m0.5 1h0m4 2h0m-4.5 1.5h0m0 0h0m-1.5 2.5h0m1.5 1h0m-0.5 0.5h0m3 1.5h0m0.5 2.5h0m0 6.5h0m-0.5 2h0m-5.5 1h0m4.5 4h0m0 4h0m-1.5 4h0m-1.5 2h0m3 0.5h0m0.5 9h0m-2 4h0m4.5 5h0m1.5-67h0m2 0.5h0m-2 13h0m-0.5 1h0m6 1h0m-3 3h0m0 7h0m-3 37h0m2 1h0m0.5 0h0m2 7.5h0m-0.5 1.5h0m0 2h0m3 0.5h0m0 2.5h0m-0.5 9h0m8.5-71.5h0m-1 8h0m-4 57h0m-1.5 1.5h0m5 1.5h0m0.5 0h0m1.5 0.5h0m0 1.5h0m-0.5 0.5h0m-3 7.5h0m3 7h0m5.5-66.5h0m-3.5 0.5h0m-0.5 1.5h0m2 1h0m1.5 5.5h0m2 2h0m-1.5 0h0m0.5 0.5h0m0 2.5h0m-4 37.5h0m2.5 9h0m0 4.5h0m1.5 0.5h0m-2 1h0m5.5-57.5h0m-0.5 1h0m5 3.5h0m-2.5 1h0m2 2h0m-3.5 0.5h0m6 2.5h0m-4.5 2.5h0m1 3h0m-0.5 6.5h0m0.5 2.5h0m3.5 3.5h0m-2 1.5h0m-2 1h0m4 5h0m-4.5 0.5h0m4.5 2h0m-5 1.5h0m4.5 2.5h0m-6.5 6.5h0m2 0.5h0m3 1h0m-4 4h0m6.5 0.5h0m-3 0.5h0m-1 1.5h0m-4 3h0m0.5 0h0m4 10.5h0m5-51.5h0m-1 22h0m2.5 3.5h0m-0.5 2h0m0.5 12.5h0m0.5 5.5h0"/>
<path d="M119.5 280.5h0m0 3h0m-5.5 11.5h0m2.5 5.5h0m-1.5 8.5h0m0.5 4h0m0 2h0m4.5 14h0m-2 3h0m8-70.5h0m-4.5 1h0m2 4h0m-1 3.5h0m3 2h0m-1 0.5h0m-0.5 1.5h0m-3.5 5.5h0m3 0.5h0m-1 49h0m2 2.5h0m2.5 5.5h0m-1.5 16.5h0m7.5-82.5h0m2.5 6.5h0m-1.5 4.5h0m0 0.5h0m-0.5 0h0m0 48h0m0 0h0m0.5 0.5h0m-3.5 0h0m4.5 1h0m1 0h0m-7.5 3h0m2.5 4.5h0m12.5-55h0m-2.5 0.5h0m2 44.5h0m-3.5 6h0m1.5 5.5h0m3-64.5h0m0.5 0h0m7 3.5h0m-5.5 5h0m3 3h0m-5 42h0m4 0.5h0m-1.5 5.5h0m0.5 0h0m3 3h0m-4.5 2.5h0m8-61.5h0m-1 5.5h0m0.5 3h0m5 6h0m-1.5 41.5h0m0.5 9.5h0m9-63h0m-4 0h0m-0.5 8h0m1.5 1.5h0m5 6h0m-1 12.5h0m-2 1.5h0m-1 3.5h0m0.5 2h0m-3 2h0m4.5 1.5h0m2 2h0m-8 7.5h0m1 2.5h0m5.5 0.5h0m-6 2.5h0m4 1h0m-4 1h0m4 2.5h0m-2.5 0h0m5 2.5h0m1.5-50h0m0 2h0m3.5 0h0m-3 3.5h0m1 1.5h0m-1 0h0m6.5 2h0m-5 3h0m5 2.5h0m-0.5 4h0m-1 3h0m-4 2.5h0m5 0.5h0m-3.5 2h0m0 0h0m-1.5 3.5h0m0.5 4h0m1 2.5h0m3 2.5h0m-2.5 1h0m2.5 0.5h0m-1.5 6h0m7.5-40h0m0 1h0m-3.5 6h0m5.5 0h0m-0.5 3h0m-5.5 1h0m1 4.5h0m1.5 6.5h0m3.5 1.5h0m-6 4h0m2 3.5h0m4 0h0m-6 5h0m4.5 0.5h0m-4.5 0.5h0m7.5-38h0m2.5 13h0m1 13.5h0m-1.5 6.5h0m1.5 2h0m-2.5 1h0m2.5 2.5h0m1 1.5h0m-3.5 8h0m9-35.5h0m-1 2h0m4.5 20h0m10.5-10.5h0m-5.5 1.5h0m-1.5 6h0m4 2.5h0m6.5-2h0m0 2.5h0m-3.5 6.5h0m35.5 27h0m11.5-42.5h0m0.5 10h0m7.5-26h0m-5 16.5h0m0 0h0m-1.5 1h0m0 7.5h0m0.5 9.5h0m1 2.5h0m0 1h0m2 7h0m0 0.5h0m-0.5 0.5h0m2.5 4h0m-0.5 0h0m0 1.5h0m-3 2h0m5 0.5h0m-1.5 5h0m-2 6h0m2.5 5.5h0m0.5 1.5h0m4.5-76.5h0m-3 10.5h0m5.5 7.5h0m-1 1h0m-1.5 0.5h0m-0.5 4.5h0m3 4.5h0m-2.5 0h0m-1.5 35.5h0m0 1.5h0m0 3h0m1 1h0m-2 3.5h0m3 1h0m1 0.5h0m0.5 0.5h0m2 5h0m-4 0h0m4.5 0.5h0m-3 1.5h0m1.5 0h0m1 1h0m-5.5 5.5h0m10.5-76.5h0m-2 0.5h0m-1.5 2h0m2.5 2.5h0m-0.5 4h0m3 6.5h0m-1.5 2h0m1 5.5h0m-2.5 48.5h0m3 2h0m-1 3.5h0m-1 1.5h0m2 0h0m0.5 5h0m-3.5 5.5h0m4 4h0m4-68.5h0m-1 2h0m2.5 0.5h0m-1 1.5h0m3.5 0.5h0m-1.5 2h0m-2.5 0h0m3.5 1h0m1 0h0m-1.5 3.5h0m0 3h0m-2 44h0m3 1h0m-2.5 0h0m-1 8.5h0m9-54.5h0m-2.5 4h0m2 17h0m0.5 4.5h0m-1 0.5h0m0 0.5h0m1.5 1h0m-1 9h0m-1 2h0m-2 1h0m5.5 2h0m-6 5h0m4.5 1.5h0m-2 1.5h0m0.5 1h0m-0.5 27.5h0m5.5-64h0m0 25h0m0 3h0"/>
<path d="M119.5 277.5h0m-1.5 5h0m-3 3h0m2 7h0m-1 6.5h0m-1.5 4h0m2 7.5h0m1.5 12.5h0m1 11h0m0.5 0.5h0m8-67.5h0m-7 5h0m2 2.5h0m2.5 1.5h0m-4 5h0m-1 0.5h0m2 0.5h0m-1 45.5h0m-1 1h0m3.5 2h0m-0.5 0h0m0.5 0.5h0m-1 2h0m5 0h0m-3.5 1.5h0m3.5 0.5h0m-1 0h0m-4 4h0m2.5 1h0m6-71h0m-1.5 1h0m-1.5 0h0m5 1h0m-3.5 2h0m4 0.5h0m-5 0h0m5 3.5h0m-5.5 1h0m6.5 0.5h0m-1 4.5h0m-4.5 48.5h0m2.5 0.5h0m3 2h0m-2 3h0m3.5 1h0m-6.5 3h0m10.5-66.5h0m-3 1.5h0m-0.5 1.5h0m3 3.5h0m3.5 4.5h0m-1.5 47h0m-3.5 3.5h0m4 4h0m2 2h0m6.5-70h0m-5.5 5h0m-0.5 1.5h0m2.5 0h0m1.5 6.5h0m0.5 0h0m-3.5 0.5h0m6.5 44h0m-1.5 2.5h0m-2 2h0m-2 2h0m1 2.5h0m5-61.5h0m6 13h0m-4 0.5h0m0 0.5h0m3 32h0m-1.5 3h0m2.5 3h0m-3.5 5h0m0.5 1h0m-1 5.5h0m8.5-51h0m1.5 2.5h0m2 3.5h0m-6 1.5h0m7 0.5h0m-6.5 1h0m0.5 0.5h0m2 0.5h0m-0.5 2h0m1 4.5h0m-0.5 1h0m2.5 16.5h0m-0.5 2.5h0m-0.5 4h0m-3 3h0m1.5 0h0m-1 2h0m9.5-37.5h0m-3 1.5h0m6 2.5h0m1 1.5h0m-7 6.5h0m-0.5 2.5h0m7 2h0m-4 1h0m4 2h0m-2 3.5h0m2 4.5h0m-0.5 1h0m0.5 1h0m-3 5h0m2 1.5h0m-3 0h0m-1 0.5h0m5 6.5h0m-1 9.5h0m6-52h0m0 2h0m3 8h0m-6.5 3.5h0m0.5 7h0m-1 4.5h0m5.5 0h0m0.5 7h0m-1 10.5h0m5.5-42h0m1.5 9h0m3 4h0m-2.5 0h0m-4 15.5h0m4 5h0m-5 1h0m1.5 4h0m7-5.5h0m5 11.5h0m0.5 0.5h0m6.5 0h0m7-8.5h0m21.5 26h0m23-49.5h0m0 17.5h0m-3 17.5h0m8.5-32h0m-2 3h0m4 1h0m-6.5 5.5h0m0.5 4.5h0m4 1.5h0m-4.5 2h0m4 1h0m-1.5 0.5h0m1.5 0.5h0m-0.5 1h0m0 1.5h0m-3.5 1.5h0m4.5 2h0m-2 0.5h0m-2.5 5.5h0m2 1.5h0m-3 1.5h0m1 3h0m2 5.5h0m2 2h0m1 1.5h0m1.5 1h0m-0.5 4.5h0m-2.5 0h0m10-52.5h0m-3.5 5h0m3.5 3h0m-4 2.5h0m4.5 1.5h0m-6 39h0m0.5 2h0m0 0.5h0m1.5 7.5h0m-2 3h0m2.5 0h0m2.5 1.5h0m0 4h0m-4.5 7h0m4.5 2h0m9.5-65h0m-1 2.5h0m-6 0.5h0m0.5 4h0m1 0h0m6 1.5h0m-0.5 1h0m-2 1h0m2.5 2.5h0m-7.5 42.5h0m0.5 1h0m-0.5 8h0m7.5-62.5h0m6 3h0m-6 2.5h0m0.5 2.5h0m-0.5 4.5h0m3 2.5h0m2 2h0m-2 0h0m1 0h0m4 3h0m-2 42.5h0m-6 5.5h0m7.5 6h0m-5 2.5h0m-1 0h0m8-58h0m-1 11h0m2.5 4.5h0m1.5 2h0m0 1.5h0m2 0.5h0m-0.5 9.5h0m-2.5 1h0m2 6.5h0m-3 0.5h0m4 1h0m-0.5 1.5h0m-1 3h0m2 3h0m-4.5 2h0m1 10h0m2.5 2h0m-3.5 1h0m2.5 3.5h0m-2.5 4h0m1 2.5h0m7.5-36.5h0m-2.5 6h0m2.5 12h0"/>
<path d="M116.5 285h0m-0.5 11h0m-2 0.5h0m2 0h0m2 26.5h0m1.5 11.5h0m7.5-73h0m-3 13h0m-1.5 6.5h0m-1 47.5h0m1 1h0m-1.5 3h0m6.5 0.5h0m-2 5h0m-2.5 1h0m4.5 3h0m6.5-65.5h0m-5 3h0m1.5 0.5h0m-1 52h0m-1 5.5h0m3.5 13h0m12-80h0m-4 1h0m0 0.5h0m-3.5 11h0m6 46.5h0m-3.5 0h0m4.5 2h0m-3 2.5h0m2 0.5h0m-6 1h0m4 2h0m11-65h0m-3.5 5.5h0m2 4.5h0m-5 1.5h0m-1 1.5h0m4 2h0m2.5 41h0m-2.5 0.5h0m2 0h0m-2 2h0m-3.5 0.5h0m3.5 2.5h0m-2.5 0h0m6.5 0.5h0m-4 1h0m2.5 7h0m0 10.5h0m2-78.5h0m1 2.5h0m-0.5 3.5h0m3 2.5h0m1 0.5h0m0.5 1.5h0m0.5 0h0m0 42h0m-1 0.5h0m-2.5 1.5h0m4.5 1h0m0.5 1h0m-5 2.5h0m-2 2h0m7.5 6.5h0m3.5-63.5h0m3.5 9h0m-3.5 2.5h0m-0.5 1h0m2 2.5h0m-1 2h0m0.5 7h0m2.5 14.5h0m-6 3h0m2 0.5h0m0.5 5.5h0m1 2.5h0m0 2h0m0 1.5h0m2 7.5h0m-5.5 1.5h0m1.5 2h0m11-54h0m-4.5 1.5h0m0 1h0m2.5 4h0m2 0.5h0m-5 4h0m1.5 0.5h0m1.5 9.5h0m3 3.5h0m1 3.5h0m-0.5 8h0m-1.5 6.5h0m-1.5 0.5h0m0 2.5h0m-2 1h0m2 0.5h0m4 0.5h0m-0.5 3.5h0m-0.5 2h0m-5.5 3h0m5 0.5h0m-5.5 0.5h0m2.5 7h0m6-53h0m0.5 8h0m2.5 0h0m-2 0.5h0m5 0.5h0m-7 6.5h0m6.5 1.5h0m1 0.5h0m-6.5 1.5h0m-0.5 0.5h0m5 2.5h0m-1 3.5h0m-4 1.5h0m-0.5 0.5h0m5.5 0.5h0m-4 0.5h0m-1.5 12.5h0m13.5-34h0m0.5 5.5h0m-2 5h0m-4 0.5h0m1 1h0m4 7h0m1.5 10h0m8-16.5h0m0.5 0.5h0m-6 7h0m5.5 13h0m-3.5 0h0m7.5 1h0m8-19.5h0m0 21h0m-1.5 0.5h0m7 4.5h0m10.5 3.5h0m10 9.5h0m18.5-35h0m-1.5 15.5h0m8.5-16.5h0m-6 2h0m3.5 3h0m0 0.5h0m-0.5 4h0m2 3h0m-5 0h0m3 4.5h0m-1.5 3.5h0m1.5 11h0m2 2.5h0m0 0.5h0m2 4h0m-0.5 6.5h0m-1 0h0m0.5 8h0m2-66h0m2 7.5h0m2.5 5.5h0m0 5h0m-1 1h0m-3.5 34h0m1.5 4h0m2 8.5h0m1.5 2h0m1 1h0m0.5 0.5h0m-0.5 2.5h0m-2 0.5h0m2 1h0m0 6h0m4.5-68.5h0m3 4h0m-0.5 0h0m-2 2h0m-1.5 1h0m4 3h0m-2.5 2h0m0.5 0.5h0m3 1h0m-3 1.5h0m2 0h0m2 2h0m-5 47.5h0m0 0h0m2.5 4h0m-4 1h0m6 0h0m-4 4.5h0m-1 2.5h0m0.5 1h0m10-52h0m1.5 1h0m-1.5 1.5h0m-0.5 0h0m0.5 0.5h0m2 3h0m-5 39h0m1.5 0.5h0m-3.5 0h0m0.5 0h0m1 7h0m4 2h0m1 3h0m-4.5 18.5h0m9-75.5h0m-3 6.5h0m7 5h0m-4 5.5h0m3.5 2.5h0m-2.5 3.5h0m0 7h0m3.5 2.5h0m-2 1h0m-0.5 2.5h0m-3.5 2.5h0m-1 2h0m4.5 0.5h0m2.5 3h0m-2 6.5h0m-1.5 3h0m-1 2h0m-0.5 0h0m6.5-28h0m0 11h0m0.5 3.5h0m-1 2.5h0"/>
<path d="M119 283.5h0m0.5 0.5h0m-4 6h0m2 0.5h0m-3.5 9h0m2 4.5h0m0.5 3.5h0m0 5h0m1 7h0m-1 9.5h0m3 1h0m1-53.5h0m0.5 2h0m4 0.5h0m-4 0h0m2.5 1h0m-2 50.5h0m1 8h0m4.5 1.5h0m-1 1h0m-3 10h0m9-76.5h0m2 1h0m0 55h0m1.5 1h0m-4.5 0.5h0m-1 0h0m0 0.5h0m6 2.5h0m-2 2h0m-3.5 0.5h0m-1 0h0m-0.5 0.5h0m6 2h0m5-71.5h0m-3.5 5h0m3 9h0m-2.5 1h0m2 0.5h0m3.5 1h0m0.5 44h0m-0.5 0.5h0m-3.5 2h0m1 1h0m4 1.5h0m-1 0h0m-3 2h0m0.5 2.5h0m-4.5 5h0m9.5-66h0m-0.5 1.5h0m2 5h0m2.5 0h0m1.5 42.5h0m-1 1.5h0m0 0h0m-3.5 1h0m1 1h0m-3 0h0m1.5 1h0m5.5 2h0m-5.5 1h0m2.5 7h0m6.5-66h0m-2.5 2.5h0m5 1h0m-2.5 7h0m-1.5 3h0m3.5 2.5h0m2.5 4h0m-5 31h0m-1.5 11h0m3.5 4.5h0m0 4.5h0m7-61h0m0 4h0m-1.5 0h0m3.5 8.5h0m-2.5 1.5h0m-0.5 5h0m3.5 1.5h0m-1 17h0m3 12h0m-2.5 1h0m-1 2h0m1.5 2.5h0m-4.5 6h0m7-46.5h0m5.5 6h0m-0.5 0.5h0m1.5 0.5h0m-2 0.5h0m2.5 2h0m-6.5 3h0m2.5 3.5h0m4 2.5h0m0 2.5h0m-6.5 2.5h0m5.5 0.5h0m-6 3.5h0m-0.5 0h0m2 4h0m1.5 1h0m2 4.5h0m1.5 0.5h0m-6 7h0m-0.5 16.5h0m7.5-70h0m1.5 5h0m-1 7h0m4.5 5.5h0m-4 2.5h0m6.5 9.5h0m-4 4.5h0m2 0h0m0 0.5h0m-3 6.5h0m1.5 0h0m-1.5 3.5h0m-1.5 5.5h0m2.5 2h0m10-46.5h0m-1 11.5h0m-3 1.5h0m5.5 21h0m-4.5 0h0m0.5 0.5h0m-2 2.5h0m0 7h0m13.5-19.5h0m6 8.5h0m1.5 2.5h0m17.5 23.5h0m-5.5 4h0m38-41.5h0m-5 3.5h0m3.5 13.5h0m-1 8.5h0m2.5 21h0m4.5-57h0m-1.5 14h0m1.5 1.5h0m-2 5h0m-0.5 1.5h0m5.5 5h0m-3.5 0h0m-2 5h0m1.5 2.5h0m1 1.5h0m-3 3.5h0m3 6h0m-3.5 1h0m4 2.5h0m1 2h0m0 1h0m-0.5 0.5h0m-1.5 2.5h0m3.5 0h0m-1 14h0m7.5-54.5h0m-5.5 2.5h0m0 1.5h0m3 4.5h0m2.5 3h0m-5.5 32.5h0m0 1.5h0m2 1h0m-1 2h0m2.5 8.5h0m-0.5 3.5h0m3.5 3h0m-1.5 2h0m5-68h0m1 2.5h0m1.5 2h0m-4.5 2h0m5 2.5h0m1 2.5h0m-5 2.5h0m3 1.5h0m2 2h0m-4.5 50.5h0m-1.5 0h0m5 10.5h0m1 13.5h0m5.5-79h0m-3 8.5h0m1.5 3h0m2.5 4.5h0m0 2h0m0 1h0m1 1.5h0m-4.5 39h0m1.5 1h0m4.5 1.5h0m-1 5h0m-4.5 4.5h0m1.5 1h0m1 0.5h0m2 1h0m-1.5 0.5h0m-3 1h0m5.5 1h0m-3 11h0m4-64.5h0m1.5 7h0m2.5 5.5h0m0 1h0m-0.5 4h0m0.5 2h0m2.5 5.5h0m-2.5 0.5h0m0 0.5h0m-0.5 3.5h0m-2 3h0m3.5 1h0m1 2.5h0m1.5 1h0m-0.5 0.5h0m0 1.5h0m-1 0.5h0m-6.5 2h0m0 6h0m1 1h0m-0.5 2.5h0m9.5-67h0m0.5 21.5h0m-2 11.5h0m1.5 5.5h0m-1.5 4.5h0"/>
<path d="M117.5 273.5h0m2.5 10h0m-2 0.5h0m-3 12.5h0m-1 3h0m2 5h0m0 0h0m-1.5 3h0m5.5 18.5h0m-0.5 0.5h0m0 3h0m3.5-59.5h0m1.5 1.5h0m-3.5 3h0m5.5 0.5h0m-6 2h0m2 2.5h0m0 2h0m-1.5 48h0m3.5 3h0m-1 2.5h0m-1 0.5h0m-0.5 1h0m4 0.5h0m-4 12h0m1.5 5h0m6-84.5h0m0 2h0m1 9h0m2 1.5h0m2 2h0m0 47h0m-3 1h0m3 7.5h0m-1 0h0m-5 0.5h0m15.5-65h0m-3.5 3h0m0 0.5h0m1 6.5h0m-4 50.5h0m9-62h0m-2 2h0m5.5 5h0m1.5 3h0m-4 0.5h0m-1 0.5h0m1.5 43.5h0m1.5 0.5h0m-2.5 1h0m3 7.5h0m-2.5 0.5h0m8-63.5h0m-3.5 7h0m3.5 1h0m3 2h0m-5 42.5h0m6 1h0m-7 3h0m1.5 0.5h0m3 0h0m-2.5 0.5h0m3 2h0m-4 5.5h0m8.5-58h0m-1.5 8.5h0m1 1.5h0m6.5 1h0m-5 2.5h0m-2 4h0m5.5 2h0m-4.5 0.5h0m2 1h0m1 1h0m-1.5 6.5h0m2.5 3h0m-1.5 2.5h0m-4 13h0m7 1.5h0m0.5 3.5h0m-3 3h0m2.5 0.5h0m-6 2h0m3 2h0m-4 5.5h0m13-38h0m0 8.5h0m0 7.5h0m-3 5h0m4.5 0h0m-3.5 3.5h0m1 0.5h0m-3 0h0m1.5 6h0m-2.5 4.5h0m12-37.5h0m-2.5 1h0m-1 0.5h0m6 2h0m-4 2.5h0m-2.5 2.5h0m0.5 2h0m1.5 1.5h0m0.5 0h0m3 5.5h0m-5 2.5h0m4 3h0m2 0h0m-3.5 0.5h0m-3.5 1.5h0m6 1h0m-3 0.5h0m2 8.5h0m-4.5 7.5h0m8.5-37h0m1.5 0.5h0m-0.5 3h0m1.5 3h0m-3 2h0m0 2h0m2 0.5h0m3 2.5h0m-2 2h0m3 0.5h0m0 0.5h0m-5 3h0m3 0h0m1 6h0m-5.5 4h0m8.5-20.5h0m6 17h0m-3.5 1h0m5-22h0m2 7h0m2.5 17.5h0m-3.5 13h0m14-18.5h0m-1 5.5h0m-5.5 9.5h0m7 5h0m26 11h0m9-48h0m2 19h0m1 2.5h0m7-25.5h0m3.5 0h0m-3.5 2h0m1.5 3h0m-0.5 2h0m-3.5 1.5h0m-1 3h0m0.5 1h0m1 2h0m4.5 1.5h0m1 2h0m-2 0.5h0m-3 7.5h0m2 0.5h0m-0.5 1h0m-4 8.5h0m3.5 2h0m0.5 1.5h0m0 2.5h0m-2 0.5h0m-1 1h0m4.5 0.5h0m-0.5 14.5h0m0 2h0m-1 1.5h0m6-74.5h0m-1 6h0m2 5.5h0m-2.5 6.5h0m3.5 0.5h0m-1 0h0m2.5 9.5h0m-6 38h0m6 12.5h0m1.5 2.5h0m0.5 0.5h0m-5 1.5h0m-1.5 0h0m2 3h0m4 2.5h0m0 5.5h0m4.5-83h0m-3 13.5h0m1 1h0m1 0.5h0m3.5 3.5h0m-4.5 3.5h0m5 4.5h0m-0.5 0h0m-2.5 48.5h0m-4 1h0m4.5 0.5h0m-1.5 9h0m0.5 13.5h0m7-77h0m4 5.5h0m-2.5 9h0m1.5 0h0m-4.5 42h0m2.5 2h0m-3.5 8.5h0m5.5 0.5h0m1 4.5h0m-3 0.5h0m3 3.5h0m3-53.5h0m6 6.5h0m-2 2.5h0m1 0h0m-2 1h0m0 9h0m-1.5 3h0m4 5h0m0.5 3h0m-7.5 6.5h0m1.5 2.5h0m1.5 1.5h0m4 2h0m-4 0.5h0m3 2h0m0.5 0.5h0m0.5 0.5h0m-5 1.5h0m7.5-28.5h0m-1 16h0m1 3.5h0"/>
<path d="M111 309h0m-1 0.5h0m9-35h0m0.5 0.5h0m-0.5 8.5h0m0 1h0m1 0h0m-4 0.5h0m1 3.5h0m-0.5 1.5h0m-1 13.5h0m2 18h0m0.5 2.5h0m-1 1h0m-4.5 4h0m10-70h0m5.5 12h0m-7.5 1h0m1.5 0h0m-2 1.5h0m1.5 0.5h0m5.5 4h0m-4 1h0m-1.5 4h0m-1 53h0m1 0h0m1.5 2h0m3.5 3h0m0.5 6h0m3.5-78h0m4.5 0h0m-0.5 3h0m-3.5 4.5h0m-2.5 0.5h0m5 0.5h0m-0.5 2.5h0m-3.5 0.5h0m0.5 0h0m2 50.5h0m2.5 1.5h0m-2.5 2.5h0m-2.5 0h0m2 6h0m1.5 1h0m-4.5 9.5h0m13.5-75h0m-4 0h0m-2 0h0m2 1.5h0m2 0.5h0m0.5 1h0m0 1h0m-2.5 4.5h0m4.5 0.5h0m-1 43.5h0m-4.5 1h0m2 0h0m-1 2.5h0m3 3.5h0m-2 1h0m-3 0h0m9-66.5h0m4 8.5h0m-0.5 48.5h0m1 5h0m-5 1.5h0m3 0.5h0m-2 1.5h0m12.5-52.5h0m2 5h0m-5.5 0.5h0m4 0.5h0m-3.5 1h0m3.5 4h0m0.5 29h0m-6.5 4.5h0m1 6h0m2 1.5h0m1.5 1h0m-2.5 1.5h0m3.5 0.5h0m2 3.5h0m-7.5 1h0m11-59.5h0m2.5 6.5h0m-0.5 2h0m2.5 7h0m-1.5 2.5h0m-1.5 1.5h0m-1.5 2.5h0m4.5 12.5h0m-2.5 2.5h0m-4.5 5h0m6 1.5h0m-3.5 4.5h0m-1 8.5h0m5.5 9h0m-3.5 0h0m11.5-55.5h0m-6.5 3h0m6 7.5h0m0 0h0m-3 3.5h0m-2.5 3h0m2.5 2h0m3.5 1.5h0m-3 1.5h0m2.5 5.5h0m-5 2h0m-1 1h0m6 7h0m-1.5 0.5h0m0 3h0m-3.5 1h0m3.5 3.5h0m-1.5 1h0m3.5 2.5h0m6-56h0m1 18.5h0m-0.5 1.5h0m-0.5 13h0m-3.5 6.5h0m-1 0.5h0m3 3h0m-1.5 2h0m2.5 1.5h0m-3.5 4h0m6 7h0m4-34.5h0m2 3h0m2 1.5h0m-4.5 7.5h0m2 1.5h0m-2 4h0m3.5 3.5h0m-4.5 5.5h0m9.5-24h0m0 12h0m-4 12.5h0m7.5 3h0m-1.5 1.5h0m3.5-23h0m5 9h0m5.5 3.5h0m-2.5 3.5h0m11 4h0m11 13h0m7.5-2h0m-2.5 1.5h0m18.5-11h0m-0.5 7.5h0m1.5-45h0m3 19.5h0m-1.5 0.5h0m6.5 0h0m-5 2h0m2 0.5h0m-5 3h0m1 3.5h0m5 1h0m1 3h0m-1.5 3.5h0m-1 0h0m-2.5 0.5h0m2.5 8h0m-1 1.5h0m-1.5 2h0m0 5.5h0m3 3h0m1 2.5h0m0.5 3.5h0m8-52h0m0 10h0m-6 43h0m0.5 7.5h0m1.5 1.5h0m-1 4h0m5 1h0m0.5 3.5h0m-3.5 5.5h0m1 1h0m7-69.5h0m0.5 6h0m-2.5 8h0m4 1.5h0m-0.5 1h0m2 0.5h0m-6 46.5h0m1.5 13h0m9.5-70.5h0m-0.5 10h0m-2 2.5h0m-0.5 3.5h0m3 0h0m2 6h0m2 5h0m-1.5 1h0m-1 39.5h0m2 1h0m-2.5 0.5h0m-0.5 0h0m-4.5 2h0m6.5 3.5h0m-6 0h0m4.5 2.5h0m-0.5 4h0m-3.5 1.5h0m-1 2h0m9-58h0m1.5 0.5h0m0 4.5h0m3.5 5.5h0m-1 12.5h0m0.5 0h0m-0.5 0.5h0m1 5.5h0m1.5 0.5h0m-1 0h0m-4 0.5h0m1.5 4.5h0m-2 2h0m3.5 3h0m-1.5 1h0m-3.5 2.5h0m6.5 0.5h0m-2 6h0m-3.5 11.5h0m9-34h0m0 4.5h0m-1 11h0"/>
<path d="M119.5 264.5h0m-1.5 16.5h0m1.5 3.5h0m-1 0.5h0m0 0.5h0m0 0.5h0m0 0.5h0m-2.5 11h0m0 1h0m0 5h0m0 9.5h0m-0.5 1h0m3 10.5h0m1 16.5h0m-1.5 7h0m8-81h0m0.5 6.5h0m-1.5 2h0m-1 0.5h0m-3 52.5h0m1.5 0.5h0m1.5 9.5h0m-4 5.5h0m11-68h0m0.5 4h0m-0.5 0h0m1 1h0m3.5 3h0m-3.5 48h0m-4 1h0m3.5 3.5h0m5.5-66.5h0m3.5 5.5h0m-2 1h0m-1.5 5.5h0m4.5 47h0m0 0h0m-4 0.5h0m3 0.5h0m0.5 3.5h0m-3.5 2.5h0m-1.5 0.5h0m6.5 4.5h0m7.5-66.5h0m-5 3.5h0m4.5 7.5h0m-3.5 0.5h0m5 51.5h0m0.5 1.5h0m-2.5 0.5h0m5-63h0m3 8h0m0.5 5h0m0.5 5h0m0 28.5h0m1.5 1.5h0m-7 2h0m4 8h0m0.5 0.5h0m8-60h0m-3.5 1.5h0m-0.5 14.5h0m6.5 6.5h0m-6 2.5h0m6 3h0m-1.5 2h0m-2 0.5h0m0.5 2.5h0m3 5h0m-6.5 7h0m3 0.5h0m4 1h0m-2.5 1.5h0m-0.5 3h0m-1.5 0.5h0m0.5 1.5h0m2 5h0m-1.5 0.5h0m-4 0h0m6 0.5h0m1 0h0m-0.5 1h0m3-40h0m0 4h0m0 0.5h0m0.5 4.5h0m2 2h0m0.5 2h0m-2.5 3h0m4.5 2h0m-3 1.5h0m-2 4h0m4 10.5h0m1 7h0m-6 2h0m5.5 3h0m4-34.5h0m-0.5 1h0m1 4.5h0m0 1h0m-2.5 1.5h0m4.5 3h0m1.5 0.5h0m0 3.5h0m-3.5 2h0m-0.5 0h0m4 1.5h0m-1.5 2h0m-1.5 2h0m5-14.5h0m1 7.5h0m2.5 3h0m3.5 10h0m-5.5 6h0m4 1.5h0m3.5-19.5h0m0.5 4h0m0.5 0.5h0m1 2.5h0m-2 13h0m-1.5 5h0m5.5 10h0m7-22h0m7-5h0m4 14.5h0m20-3.5h0m13-23.5h0m7 4h0m-0.5 8.5h0m-2 8h0m6.5-33h0m-3 11h0m7 0h0m-4 0.5h0m-3 2.5h0m0 7h0m0.5 7.5h0m-0.5 1h0m3 1.5h0m1 5.5h0m-2.5 0.5h0m2 4.5h0m-1.5 0.5h0m-2.5 0h0m4 1h0m-0.5 1h0m1 0.5h0m-2 1h0m0.5 0h0m-2.5 0.5h0m5 5.5h0m2.5 7h0m-1.5 0h0m-3 8.5h0m8-57h0m-2 2h0m6 2h0m0 6.5h0m-2.5 1.5h0m-1.5 2.5h0m-1 38.5h0m0 0.5h0m-1 0.5h0m-0.5 2.5h0m0.5 1h0m1.5 1h0m-0.5 0.5h0m3.5 5.5h0m1.5 2.5h0m5.5-75.5h0m-2.5 18h0m-0.5 3.5h0m5.5 3h0m-1.5 6.5h0m1.5 0.5h0m-0.5 1h0m-6 44.5h0m1 2.5h0m-1 3.5h0m-0.5 0h0m7.5 0.5h0m-7 1h0m0 1h0m2.5 5h0m-2.5 2h0m6 1h0m0 12.5h0m1.5-80.5h0m1.5 3h0m0 4h0m3 1.5h0m-4 0h0m3 5h0m0.5 0.5h0m0 1h0m2 0h0m-0.5 0.5h0m1 2.5h0m-1 1h0m1.5 5.5h0m-1 34.5h0m-3 2h0m1 1h0m-3 3h0m4.5 1.5h0m0 7.5h0m3-48h0m1.5 1h0m0.5 5.5h0m3 7.5h0m-0.5 0.5h0m-2 1.5h0m0 4h0m1.5 4h0m-3.5 5.5h0m2.5 1.5h0m-3.5 0.5h0m5 2h0m-3.5 5h0m5 4h0m-6 1h0m-0.5 3h0m5 5.5h0m1.5 5.5h0m2-36.5h0m-0.5 8h0m2.5 1.5h0m-2.5 2h0m0 0h0"/>
</g>
<path d="M118.2 285.5L125.5 277.4L135.5 283.7L145.5 285.5L145.5 285.5L155.5 291L159.9 295.5L164 305.5L164.4 315.5L156.2 325.5L155.5 325.9L145.5 329.2L135.5 330L125.5 333.4L118.5 325.5L115.9 315.5L115.5 306.6L115.2 305.5L115.5 304L115.7 295.5ZM261.9 335.5L265.5 330.2L275.5 334.8L276.1 335.5L283.3 345.5L285.5 352.1L287.7 355.5L291.5 365.5L292.4 375.5L290.9 385.5L285.5 393.6L275.5 388.4L273.2 385.5L267.4 375.5L265.5 367.7L264.1 365.5L260.3 355.5L259.7 345.5Z" fill="#fff" fill-rule="evenodd" shape-rendering="crispEdges"/>
<g shape-rendering="crispEdges">
<path fill="rgb(250,250,250)" fill-opacity="0.02" d="M110.5 320.5h10v10h-10zM130.5 270.5h10v10h-10zM130.5 330.5h10v10h-10zM140.5 270.5h10v10h-10zM150.5 330.5h10v10h-10zM160.5 330.5h10v10h-10zM170.5 300.5h10v10h-10zM170.5 330.5h10v10h-10zM180.5 310.5h10v10h-10zM180.5 320.5h10v10h-10zM250.5 320.5h10v10h-10zM250.5 330.5h10v10h-10zM250.5 340.5h10v10h-10zM260.5 310.5h10v10h-10zM270.5 320.5h10v10h-10zM280.5 400.5h10v10h-10zM290.5 370.5h10v10h-10zM290.5 380.5h10v10h-10zM290.5 390.5h10v10h-10zM290.5 400.5h10v10h-10z"/>
<path fill="rgb(245,245,245)" fill-opacity="0.04" d="M110.5 280.5h10v10h-10zM140.5 330.5h10v10h-10zM150.5 280.5h10v10h-10zM160.5 290.5h10v10h-10zM170.5 310.5h10v10h-10zM170.5 320.5h10v10h-10zM260.5 370.5h10v10h-10zM270.5 390.5h10v10h-10zM280.5 340.5h10v10h-10z"/>
<path fill="rgb(240,240,240)" fill-opacity="0.06" d="M120.5 270.5h10v10h-10zM120.5 330.5h10v10h-10zM160.5 320.5h10v10h-10zM260.5 320.5h10v10h-10z"/>
<path fill="rgb(235,235,235)" fill-opacity="0.08" d="M110.5 290.5h10v10h-10zM110.5 310.5h10v10h-10zM160.5 300.5h10v10h-10zM160.5 310.5h10v10h-10zM280.5 390.5h10v10h-10z"/>
<path fill="rgb(230,230,230)" fill-opacity="0.10" d="M110.5 300.5h10v10h-10zM140.5 280.5h10v10h-10zM150.5 320.5h10v10h-10zM270.5 330.5h10v10h-10z"/>
<path fill="rgb(224,224,224)" fill-opacity="0.12" d="M130.5 280.5h10v10h-10zM260.5 360.5h10v10h-10zM270.5 380.5h10v10h-10zM280.5 350.5h10v10h-10z"/>
<path fill="rgb(219,219,219)" fill-opacity="0.14" d="M140.5 320.5h10v10h-10zM150.5 290.5h10v10h-10zM260.5 330.5h10v10h-10z"/>
<path fill="rgb(214,214,214)" fill-opacity="0.16" d="M130.5 320.5h10v10h-10z"/>
<path fill="rgb(209,209,209)" fill-opacity="0.18" d="M260.5 350.5h10v10h-10zM280.5 380.5h10v10h-10z"/>
<path fill="rgb(204,204,204)" fill-opacity="0.20" d="M260.5 340.5h10v10h-10z"/>
<path fill="rgb(199,199,199)" fill-opacity="0.22" d="M150.5 300.5h10v10h-10zM150.5 310.5h10v10h-10zM280.5 360.5h10v10h-10z"/>
<path fill="rgb(189,189,189)" fill-opacity="0.26" d="M120.5 320.5h10v10h-10zM280.5 370.5h10v10h-10z"/>
<path fill="rgb(184,184,184)" fill-opacity="0.28" d="M120.5 280.5h10v10h-10zM270.5 340.5h10v10h-10z"/>
<path fill="rgb(178,178,178)" fill-opacity="0.30" d="M140.5 290.5h10v10h-10z"/>
<path fill="rgb(173,173,173)" fill-opacity="0.32" d="M130.5 290.5h10v10h-10zM270.5 370.5h10v10h-10z"/>
<path fill="rgb(168,168,168)" fill-opacity="0.34" d="M140.5 310.5h10v10h-10z"/>
<path fill="rgb(163,163,163)" fill-opacity="0.36" d="M130.5 310.5h10v10h-10z"/>
<path fill="rgb(143,143,143)" fill-opacity="0.44" d="M140.5 300.5h10v10h-10z"/>
<path fill="rgb(138,138,138)" fill-opacity="0.46" d="M270.5 350.5h10v10h-10z"/>
<path fill="rgb(133,133,133)" fill-opacity="0.48" d="M270.5 360.5h10v10h-10z"/>
<path fill="rgb(128,128,128)" fill-opacity="0.50" d="M130.5 300.5h10v10h-10z"/>
<path fill="rgb(71,71,71)" fill-opacity="0.72" d="M120.5 310.5h10v10h-10z"/>
<path fill="rgb(61,61,61)" fill-opacity="0.76" d="M120.5 290.5h10v10h-10z"/>
<path fill="rgb(0,0,0)" fill-opacity="1.00" d="M120.5 300.5h10v10h-10z"/>
</g>
<path d="M118.2 285.5L125.5 277.4L135.5 283.7L145.5 285.5L145.5 285.5L155.5 291L159.9 295.5L164 305.5L164.4 315.5L156.2 325.5L155.5 325.9L145.5 329.2L135.5 330L125.5 333.4L118.5 325.5L115.9 315.5L115.5 306.6L115.2 305.5L115.5 304L115.7 295.5ZM261.9 335.5L265.5 330.2L275.5 334.8L276.1 335.5L283.3 345.5L285.5 352.1L287.7 355.5L291.5 365.5L292.4 375.5L290.9 385.5L285.5 393.6L275.5 388.4L273.2 385.5L267.4 375.5L265.5 367.7L264.1 365.5L260.3 355.5L259.7 345.5ZM123.5 285.5L125.5 283.3L128.5 285.5L135.5 290.8L145.5 291.9L150.1 295.5L155.5 305.3L155.6 305.5L155.5 315.5L155.5 315.5L145.5 321.3L135.5 322.1L129.2 325.5L125.5 327.5L123.8 325.5L117.8 315.5L116.9 305.5L117.6 295.5ZM268.1 345.5L275.5 342.4L277.9 345.5L282.6 355.5L285.5 365.5L285.5 365.6L287 375.5L285.5 379.6L275.5 380.3L272.1 375.5L268.5 365.5L266.7 355.5ZM120.9 295.5L125.5 289L132.7 295.5L135.5 302.5L145.5 305.5L135.5 309.6L133.5 315.5L125.5 321.7L121.1 315.5L119.3 305.5ZM274.5 355.5L275.5 354L276.3 355.5L277.3 365.5L275.5 368.3L274.2 365.5Z" fill="none" stroke="#000" stroke-width="2.08" stroke-linejoin="round"/>
</g>
</g>
<rect x="100.5" y="250.5" width="200" height="200" fill="none" stroke="#7f7f7f" stroke-width="1.1"/>
<path d="M130.5 450.5v4.86M175.5 450.5v4.86M221.5 450.5v4.86M266.5 450.5v4.86M100.5 445.5h-4.86M100.5 401.5h-4.86M100.5 358.5h-4.86M100.5 314.5h-4.86M100.5 270.5h-4.86" stroke="#000" stroke-width="1.1" fill="none"/>
<g clip-path="url(#c11)">
<path d="M310.5 450.5V450.5H320.5V450.5H330.5V450.5H340.5V450.5H350.5V447.5H360.5V439.5H370.5V421.5H380.5V399.5H390.5V379.5H400.5V385.5H410.5V402.5H420.5V409.5H430.5V378.5H440.5V302.5H450.5V268.5H460.5V327.5H470.5V401.5H480.5V439.5H490.5V448.5H500.5V450.5H510.5V450.5" stroke="#000" stroke-width="1.4" fill="none" stroke-linejoin="miter"/>
<path d="M397 450.5V250.5M445 450.5V250.5M463 450.5V250.5" stroke="#000" stroke-width="2.08" stroke-dasharray="7.71 3.33" fill="none"/>
<path d="M315.5 250.5v200M359.5 250.5v200M402.5 250.5v200M446.5 250.5v200M490.5 250.5v200M310.5 269.5h200M310.5 329.5h200M310.5 390.5h200M310.5 450.5h200" stroke="#b6b6b6" stroke-width="1" fill="none"/>
</g>
<rect x="310.5" y="250.5" width="200" height="200" fill="none" stroke="#7f7f7f" stroke-width="1.1"/>
<path d="M315.5 450.5v4.86M359.5 450.5v4.86M402.5 450.5v4.86M446.5 450.5v4.86M490.5 450.5v4.86M310.5 269.5h-4.86M310.5 329.5h-4.86M310.5 390.5h-4.86M310.5 450.5h-4.86" stroke="#000" stroke-width="1.1" fill="none"/>
<g clip-path="url(#c20)">
<g transform="translate(-.5 -.5)">
<g filter="url(#hb)">
<path d="M123.7 485l2.3 0.3l2 1.1l4 3.1l2.2 2.5l0.7 2l-0.2 3l-2.8 3l1.1 2.5l3.5 3.5l2.5 0.5l0.4-1.5l1.6-2l3-0.5l2 1.5l0.7 2l-1.8 4l2.7 2l2 0l1.4-2.4l2-0.5l3 0.5l3.5 2.4l1.2 2l0.2 2l-0.9 2.5l-2.3 1.5l0.3 2.6l4.8 10.4l1.2 5l2-0.5l2 0.3l1.5 1.2l1 2l-0.5 2l-1 0.9l-2 0.4l-3-1.3l-0.1 2l1.1 3.7l4-0.3l2 1.5l1.4 2.1l0.7 4l-0.7 6l-3.4 4.2l-2 0.7l-3-0.7l-2 2.3l-2 2.9l-1.4 3.6l2.4 3l0.1 2l-0.8 2l-4.3 5.7l-5 3.6l-3 1l-8 0.4l-8-3l-8-0.2l-4-2.2l-1.4-2.3l0.1-4l2.1-3l-1.6-3l-0.2-2.6l-1.8-5.4l-0.1-4l-0.9-2l-0.1-13l-0.9-2l-0.1-8l-0.8-3l0.8-2l0.1-8l0.9-2l0.1-8l0.9-2l0.1-4l0.8-1.4l0.2-2.6l2.6-6l-2.1-2l-0.4-3l2-7l1.7-1.6ZM263.4 514l2.6-0.5l4 0.9l3.4 2.6l1.2 2l0.7 3l-1.3 3l7.8 10l3.2 9.6l4.8 8.4l2 5l0.1 3l0.9 2l0.1 6l0.9 2l0 13l-4.2 13l0.2 1l1.8 2l0.7 3l-1.3 2.8l-2 1.3l-6 0.7l-2.7-1.8l-0.7-3l1.7-5l-2.3-2.6l-2-1.2l-4.3-4.2l-3.5-5l-3-8l-0.2-2.6l-4.8-9.4l-2-6l-0.1-3l-0.9-3l0-16l1.9-7l-3.5-3l-0.5-3l3.6-7Z" fill="#000" fill-opacity="0.100" fill-rule="evenodd"/>
<path d="M121.8 487l2.2-0.9l2 0.4l3 1.9l3.9 3.6l0.9 2l0 2l-0.8 1.6l-2 1.3l0 1.1l1.8 3l3.2 3.2l4 1.5l1-2.9l1-0.9l2 0l1.1 1.1l0.1 2l-2.3 2l4.1 3.2l4 1.9l0.9-3.1l2.1-0.6l3 0.9l1.9 1.7l0.9 2l-0.3 2l-0.7 1l-2 1l-0.1 1l6.6 16l0.3 9l0.9 3l0.5 4.4l1-1.9l2-0.9l2.4 1.4l1.4 3l-0.1 6l-1.3 3l-1.4 1.6l-2 1l-3-1.4l-0.5 1.8l-3.7 5l-2.6 5l0.2 1l1.6 0.7l0.7 1.3l-0.4 2l-1.8 3l-2.6 3l-5.9 3.9l-8 0.6l-10-3.3l-7 0.2l-3-1.6l-1.6-2.8l0.1-2l1.9-3l0-1l-1.7-3l-3.2-15l0-12l-1-3l0-7l-0.8-3l0.8-2l0-7l1-3l0-7l1-3l0.2-4l1-4l2.7-6l0.1-1l-1.5-1.4l-0.6-1.6l1.3-6ZM264.3 515l5.7 0.6l2.8 2.4l1.3 4l-1.5 3l5.1 5l3.7 5l3.6 10.5l4.4 7.5l1.9 5l0.2 3l1 3l0 5l1 3l0 12l-5 14l2.2 3l0.4 2l-1 2l-2.1 1.1l-5 0.5l-1.8-1.6l-0.4-2l1.6-4l-0.4-1l-9.7-9l-2.7-4l-2.9-8l-0.5-3l-4.5-9l-2-6l-0.2-3l-1-3l0-16l1.9-7l-0.4-2l-1.9-1l-0.7-1l-0.1-2l3.1-6l1.6-1.7ZM166.3 540l1.7 0l0.5 1l-0.5 1.3l-1.5-0.3l-0.6-1Z" fill="#000" fill-opacity="0.100" fill-rule="evenodd"/>
<path d="M122.4 488l1.6-0.8l2 0.4l6 4.9l0.9 2.5l-0.9 2l-1.6 1l0.2 2l2.4 3.6l3 2.9l6 2.7l8 5.2l2 0.7l0.8-0.1l-0.1-2l1.3-1.3l2 0.2l2 1.5l0.8 1.6l-0.6 2l-2.7 1l7.4 18l0.2 9l1 3l0.3 5l0.6 1.3l1 0.1l0.8-2.4l1.2-0.9l1.6 0.9l1.1 2l0.2 4l-1.3 4l-2.6 2.3l-1-0.3l-1-1.2l-1 0l-1.1 3.2l-7.1 11l-0.3 1l2.1 1l0.3 1l-2 4l-4.9 4.7l-3 1.4l-8 0.1l-6-2.5l-4-1l-6 0.7l-2.5-1.4l-1.2-2l0.1-2l1.8-3l-2.1-4l-2-8l-0.2-4l-0.8-2l-0.2-13l-0.8-2l-0.2-8l-0.8-3l0.8-2l0.1-7l0.9-3l0.1-7l0.9-3l0.2-4l1-4l3.1-7l0-1l-1.2-1.2l-0.4-1.8ZM142.1 506l0.9-0.7l0.8 0.7l-0.6 1l-0.2 0.1l-0.3-0.1ZM264.9 516l5.1 0.6l2.4 2.4l0.6 3l-1.3 2l0.1 1l5.5 5l3.6 5l3.6 10l4.9 9l1.5 4l0.2 3l0.9 3l0.1 5l0.9 3l0 12l-3.1 10l-2.1 4l-0.1 1l2.2 3l-0.5 2l-1.4 0.9l-4 0.6l-1.3-0.5l-0.8-2l1.4-3l-0.2-1l-3.5-4l-2.6-1.7l-4-4l-2.3-3.3l-1.6-3l-2.6-9l-4.4-9l-2-6l-0.2-3l-0.9-3l0-16l1.8-7l-0.3-3l-1.8-1l-0.3-2l3.3-6ZM165 557.6l-0.1 0.4l0 1l0.1 0.6l0.1-0.6l0.1-1ZM140 583.9l-0.3 0.1l0.3 0.1l1 0.3l0.6-0.4l-0.6-0.2Z" fill="#000" fill-opacity="0.136" fill-rule="evenodd"/>
<path d="M123.1 489l0.9-0.5l2 0.3l5.1 4.2l0.5 2l-0.5 1l-2.1 1l3.1 6l2.9 3.1l10 5.3l7 4.3l2.4 2.3l5.2 10l3 8l0.2 9l1 3l0.1 5l1.1 3l-1 2l-0.1 4l-0.9 1.6l-0.4 2.4l-3.5 5l-2.1 3.9l-3 3.8l-5 2.8l-1.2 1.5l1.2 0.7l2-0.2l2.6-2.5l1.1 0l-0.9 3l-3.9 4l-1.9 0.9l-9-0.9l-6.5-3l2.5-1.1l6 2.3l3.1-1.2l-3.1-2l-3 0.2l-2-0.8l-3 0.1l-2 0.9l-3.4 0.6l-0.6 1.7l-2 0.7l-2-0.5l-1.7-1.9l0.1-2l1.8-2l-2.8-5l-2-8l-0.2-4l-1-3l0-12l-1-3l0-7l-0.8-3l0.8-2l0-7l1-3l0-7l1-3l0.2-4l1-4l3.6-8l0-1.4l-1-1.4l0-1.2ZM154.4 514l0.6-0.7l2 0.7l0.1 2l-1.7 0ZM263.3 518l1.7-0.8l3-0.1l2 0.5l1.3 1.4l0.7 2l-1.2 3l1.2 1.7l4.9 4.3l3.7 5l3.5 10l2.9 5.9l1.6 2.1l2 5l0.2 3l1 3l0 5l1 3l0 12l-3.2 10l-2.9 5l0 1l1.4 1l0.4 1l-0.2 1l-1.3 0.7l-3-0.1l-0.4-0.6l0.8-3l-4.4-5.1l-3-2l-3.9-3.9l-2.7-4l-3-8l-0.4-2.9l-4.6-9.1l-2-6l-0.2-3l-1-3l0-16l1.8-6.2l0.6-4.8l0-1l-1.2-1l1.5-4ZM167.6 555l0.4-0.8l1 0l0.7 1.8l-0.5 3l-1.2 1.9l-1-0.7l-0.1-3.2Z" fill="#000" fill-opacity="0.186" fill-rule="evenodd"/>
<path d="M124 491l1-0.6l2.2 1.6l0 2l2.6 6l2.2 3.4l3 3.1l10 5.2l6.6 4.3l3.1 3l4.6 9l3 8l0.2 9l1 3l0.1 5l0.9 3l-0.6 1l-0.2 4l-1.4 5l-3.6 5l-1.7 3.5l-3 3.3l-9 6l-4-1.1l-3-0.1l-2-0.8l-3 0l-2 0.9l-3.9 0.3l-3.1 1.6l-1-0.4l-0.3-1.2l1.3-0.6l0.4-1.4l-3.7-6l-2-8l-0.2-4l-1-3l0-12l-1-3l0-7l-0.8-3l0.8-2l0-7l1-3l0-7l1-3l0-3l1.2-5l5.3-11l-1-1.4ZM265.3 519l2.7-0.7l2 0.9l0.6 1.8l-0.8 1l0.3 2l6.4 6l3.8 5l3.4 10l3 6l1.6 2l2 5l0.4 4l0.8 2l0 5l1 3l0 12l-3.2 10l-1.3 2.5l-3 3.1l-5-5.1l-2.4-1.5l-4.1-4l-2.8-4l-3-8l-0.4-3l-4.6-9l-2-6l-0.4-4l-0.8-2l0-16l1.8-6l0.2-3l2-5l1.5-2ZM146.6 586l0.4-0.2l1 0.1l0.2 0.1l-0.2 0.4l-1 0.5Z" fill="#000" fill-opacity="0.246" fill-rule="evenodd"/>
<path d="M125.5 495l0.5-0.4l1 0.7l4.4 7.7l3.7 4l9.9 5l6.1 4l3.1 3l4.7 9l3.3 9l0 8l1 3l0.1 5l0.8 3l-0.6 1l-0.2 4l-1.3 4.9l-3.6 5.1l-1.4 3l-3 3.3l-9 6l-9-1.9l-3 0l-3 1l-4 0.1l-4.9-7.5l-2.3-9l-0.2-4l-0.8-2l0-12l-1-3l0-7l-0.7-2l0.7-3l0-7l1-3l0-7l0.8-2l0.2-4l1.2-4.9l4-8.5ZM265.4 522l0.6-0.5l2 0.7l3.2 3.8l4.9 4l3.8 5l3.5 10l3 6l1.6 2.1l2 5l0.4 3.9l0.8 2l0.2 6l0.8 2l0 12l-3.3 10l-1.9 3.2l-2 1.7l-11-9.8l-3-4.2l-3-8l-0.4-2.9l-4.5-9l-2.1-6.1l-0.4-3.9l-0.8-2l0-16l1.8-6l0.3-3l1.7-4Z" fill="#000" fill-opacity="0.326" fill-rule="evenodd"/>
<path d="M125 496l1-0.6l0.8 0.6l4.8 8l3.4 3.4l10 5.1l6 4l3 2.8l4 7.6l3.8 10.1l0.1 8l0.9 3l0.8 8l-0.6 5l-1.1 4l-5.4 9l-2.5 2.7l-7 5l-2.8 1.3l-8.2-2l-4 0.2l-2 0.8l-3 0.1l-1-0.4l-4.4-6.7l-2.4-9l-0.1-3l-0.9-3l-0.1-12l-0.9-3l-0.1-7l-0.5-2l0.5-3l0.1-7l0.9-3l0.1-7l0.7-2l0.3-4l1-4ZM264.9 523l1.1-0.7l2 0.6l3 3.4l5 4.1l3.5 4.6l4 11l4.5 7.9l1.8 5.1l0.3 3l0.7 2l0.1 5l0.9 3l0 12l-3.8 11.1l-3 3.3l-10.6-9.4l-3.4-4.9l-2.8-8.1l-0.3-2l-4.4-9l-2.3-7l-0.3-3l-0.7-2l0-16l2.2-9Z" fill="#000" fill-opacity="0.448" fill-rule="evenodd"/>
<path d="M124.8 497l1.2-1l5.1 8l3.9 3.9l10 5.1l6 3.9l3 3l4 7.9l3.3 9.2l0.1 8l0.9 3l0.1 5l0.7 3l-2.1 10l-3.6 5l-1.4 3l-2 2.1l-9 6.1l-1 0.2l-2-0.9l-3-0.1l-3-1l-9 1.1l-5-6.5l-2.3-9l-0.2-4l-0.8-2l0-12l-1-3l0-7l-0.8-3l0.8-2l0-7l0.8-2l0.2-8l0.8-2l0.2-4l1.2-5ZM265.9 523l2.1 0.7l3 3.2l2 1.1l6 7l3.5 10l2.9 6l2.6 3.8l1.1 3.2l0.4 4l0.8 2l0.2 6l0.8 2l0 12l-3.3 10.2l-1 1.9l-2 1.7l-5-4.7l-2-1.1l-4-4l-2-3l-3.1-8l-0.4-3l-4.5-8.8l-2.1-6.2l-0.4-4l-0.8-2l0-16l1.8-6l0.4-3l1.9-4Z" fill="#000" fill-opacity="0.594" fill-rule="evenodd"/>
</g>
<g fill="none" stroke="#000" stroke-opacity=".1" stroke-width="2.8" stroke-linecap="round">
<path d="M118.5 494h0m1 0.5h0m-2.5 12h0m-2 20.5h0m-1.5 18h0m3 18.5h0m-1.5 1h0m3 6h0m0 2.5h0m1.5 2h0m5.5-102h0m2 8.5h0m-4 12.5h0m-1.5 3h0m0 0.5h0m0 2.5h0m-1 76h0m1 2h0m-0.5 2h0m-0.5 1h0m4 0h0m-3 0.5h0m-0.5 2.5h0m7 0.5h0m-0.5 0.5h0m-6 5.5h0m2.5 0.5h0m-2.5 7.5h0m-0.5 2.5h0m5.5 20.5h0m2-136h0m3.5 3h0m-3 3h0m7 3.5h0m-6 2h0m4 1.5h0m-0.5 2.5h0m0.5 1.5h0m0 0h0m-1 86h0m-4.5 1h0m1 1h0m2 0h0m4 13.5h0m5-113.5h0m1 5h0m-1.5 5.5h0m-2.5 0.5h0m0 2h0m0.5 1.5h0m2.5 79.5h0m0.5 1.5h0m-2.5 4h0m5 3h0m-3 0h0m-1.5 3.5h0m11-120.5h0m1.5 10.5h0m-4.5 1h0m-2.5 11.5h0m4.5 3h0m-2.5 0h0m2.5 1.5h0m-0.5 1h0m3 1.5h0m-2.5 2h0m-5 1.5h0m2 77h0m0 8h0m3 0.5h0m-2 4h0m2.5 5h0m9-112.5h0m-5.5 9h0m5.5 0.5h0m1 4h0m-3 3h0m-1.5 1.5h0m4 3h0m-1 66.5h0m0.5 3h0m0.5 1.5h0m-1.5 0.5h0m2 0h0m-0.5 1h0m-2.5 1h0m-2 0h0m-1.5 1h0m0 1h0m0 1.5h0m4.5 1.5h0m2.5 0.5h0m-4.5 3.5h0m1 17h0m2.5 9.5h0m1.5-117.5h0m4 0.5h0m2 6.5h0m-6 5.5h0m0 0.5h0m3.5 1h0m-3.5 1h0m3 1h0m-3 0.5h0m0.5 0.5h0m0.5 6h0m-1 0h0m0 2.5h0m3.5 0.5h0m-2.5 1.5h0m4.5 0.5h0m-3.5 1.5h0m2 4.5h0m1 2.5h0m-0.5 0.5h0m0.5 1h0m0.5 2.5h0m0 3h0m-0.5 2h0m-0.5 3h0m2 1.5h0m-1.5 5h0m1.5 1h0m-3 0h0m1 1h0m-1 3h0m3.5 3h0m-2.5 1h0m-0.5 0.5h0m-2.5 2.5h0m1.5 0h0m0 1h0m4 1h0m-3 3h0m-2 0h0m3 1h0m2.5 4h0m4-64.5h0m2 0.5h0m0 3h0m-5.5 0h0m0 2h0m1.5 3.5h0m0.5 14.5h0m-1.5 0.5h0m3 3h0m1.5 0.5h0m-3 1h0m5.5 8h0m-1.5 1h0m1 5.5h0m-1.5 6h0m1 1.5h0m-6 2.5h0m0 9.5h0m5.5 1.5h0m-2 3h0m-2.5 1.5h0m-1 2h0m4 19.5h0m-0.5 7.5h0m5.5-90.5h0m0 17h0m0.5 1.5h0m3.5 3.5h0m-2 1h0m1 2.5h0m3 3h0m-1 9.5h0m-0.5 4.5h0m-5 9h0m3.5 9.5h0m4.5-45.5h0m-0.5 23.5h0m4 0h0m1 6.5h0m-2.5 2h0m2.5 10.5h0m-2 9.5h0m11.5-60.5h0m0 3.5h0m8-23.5h0m-2 37h0m-5.5 5h0m7.5 14.5h0m0.5-10.5h0m6 47h0m9.5-44.5h0m17-47.5h0m14-21.5h0m-0.5 36.5h0m1 1h0m7.5-21.5h0m-5 5h0m5.5 4.5h0m-1.5 1h0m-2 1h0m-1 1.5h0m5 3h0m-5.5 5h0m2.5 0.5h0m-1 1h0m-2 0.5h0m1 7.5h0m0 2h0m-2 10h0m1.5 1.5h0m-1 5.5h0m2.5 0.5h0m-0.5 0.5h0m-0.5 0.5h0m1.5 6.5h0m2.5 8.5h0m-0.5 3h0m9.5-66h0m-3.5 2.5h0m1 11h0m-3.5 53h0m2.5 8h0m0.5 5h0m-1 2.5h0m2 1.5h0m6-72h0m1 1h0m-3 0.5h0m4 2.5h0m-2 0.5h0m3 0.5h0m0.5 5.5h0m-4 65h0m1.5 0.5h0m-1 1h0m-2.5 2.5h0m6.5 8.5h0m1.5-85.5h0m2 3.5h0m3.5 10h0m-4.5 0h0m2.5 0.5h0m0 6h0m2 3.5h0m-3.5 53h0m-1 1h0m3 0h0m-3.5 7.5h0m3.5 1.5h0m0 1h0m-1.5 1h0m4 1.5h0m1-63h0m4 18h0m1 6.5h0m0 7.5h0m2.5 2h0m-0.5 1.5h0m-1 3h0m-2.5 2h0m-0.5 1.5h0m1 0.5h0m-0.5 2h0m-3 2h0m5.5 10h0m-0.5 2h0m-2 2h0m-2.5 1.5h0m1 0h0m0.5 2.5h0m8-41.5h0m-1 11h0m0.5 4h0m-1 2.5h0m-1 16h0m0.5 0.5h0m0 2h0m0 0.5h0"/>
<path d="M110.5 547h0m9-47.5h0m-2 6h0m-0.5 5.5h0m-0.5 0h0m-1 25.5h0m-0.5 12h0m1.5 6.5h0m1.5 14h0m-1 0h0m2.5 11h0m3-109.5h0m-1 9h0m5 4h0m-4 2.5h0m3.5 0h0m-3 9.5h0m-1 83.5h0m1 0.5h0m2 3h0m-1.5 0.5h0m0.5 1h0m1 1.5h0m0.5 1h0m-3 1h0m3 0.5h0m2.5 1h0m0 4.5h0m-3 2h0m0.5 8.5h0m-0.5 7.5h0m0.5 0.5h0m6-138h0m-3 2.5h0m0.5 10.5h0m1.5 3h0m-1.5 6h0m4 0.5h0m-3 1.5h0m1.5 1h0m3 84h0m1 0h0m-5 1h0m1.5 1h0m0.5 1h0m0.5 0.5h0m-2.5 0.5h0m0.5 1.5h0m-1.5 1h0m3.5 2.5h0m2.5 0h0m-4 2h0m-3.5 4h0m3.5 2h0m6.5-101h0m3 1.5h0m-3 2.5h0m-1 80h0m6.5 6h0m-2 2.5h0m-4.5 1h0m3 2h0m3 5h0m-1.5 40.5h0m4-146.5h0m0.5 6.5h0m0 3.5h0m1.5 0h0m3.5 4h0m-3.5 1h0m-1 0.5h0m2.5 75.5h0m1 1h0m-3.5 0.5h0m-0.5 0h0m-1 5.5h0m2.5 2h0m3.5 1.5h0m-5 10.5h0m10.5-112.5h0m-0.5 14.5h0m-0.5 7.5h0m-1.5 1.5h0m4.5 1h0m-0.5 4h0m1.5 0.5h0m-1 53h0m0 2h0m1.5 3h0m-3.5 1h0m-4 8h0m6.5 1.5h0m-3.5 1.5h0m-3.5 6h0m6 0.5h0m-5.5 1h0m8-97h0m0.5 0.5h0m1 1.5h0m-1.5 10h0m3 1.5h0m-3 7h0m7 2.5h0m-7 2.5h0m7 1h0m-2 0h0m-1 6h0m3 0.5h0m0 3h0m-4 0h0m1.5 1.5h0m1.5 4h0m-0.5 0h0m1.5 5h0m-1.5 1.5h0m-1 1h0m-0.5 1.5h0m2 0.5h0m-1.5 0.5h0m2 5h0m-2.5 7h0m2 0.5h0m-4.5 0.5h0m5 2h0m0.5 2.5h0m-5 1.5h0m-1.5 1h0m4 1h0m-2.5 1h0m1 2.5h0m-1.5 1h0m3.5 4h0m-1.5 0.5h0m0 1h0m0.5 1h0m-1 4h0m1 1.5h0m-3.5 0.5h0m7 0.5h0m-2 3.5h0m-5.5 13.5h0m7.5-89.5h0m0.5 2h0m3 5h0m-0.5 6.5h0m4.5 9h0m-5 0.5h0m-0.5 2.5h0m-1.5 2h0m1.5 5h0m0.5 1h0m2.5 3.5h0m-2.5 3.5h0m-2 0.5h0m0 5.5h0m1.5 0.5h0m-2 2h0m2 4.5h0m0 9h0m1.5 9.5h0m-1 16h0m-1.5 3.5h0m9.5-97.5h0m2 16h0m-0.5 0.5h0m1 4.5h0m-2.5 1.5h0m4.5 1h0m-2 2h0m-3.5 5.5h0m3 5.5h0m-2 3h0m2 0h0m-3 2.5h0m4.5 1h0m-0.5 2h0m0 13.5h0m-3.5 13.5h0m1 3h0m10.5-61.5h0m-3 19.5h0m4 5h0m-0.5 16h0m-5.5 2h0m1.5 14h0m0.5 10h0m9.5-71h0m1 2.5h0m2.5 72.5h0m6.5-45h0m-6 16.5h0m16-47.5h0m-2 34h0m28.5-11h0m15.5-43h0m5.5 4.5h0m-4.5 4.5h0m0.5 2h0m-3 0.5h0m6.5 2h0m-2 4h0m-3 0h0m-2 2.5h0m2 1h0m5.5 0h0m-7.5 0h0m7 1h0m-7 2h0m3 5.5h0m-1 10.5h0m0.5 1h0m-1.5 12h0m7 15h0m2-63.5h0m1 6.5h0m-1.5 6.5h0m4 0.5h0m0.5 3.5h0m-5 48.5h0m1 4.5h0m2 3.5h0m3.5 11h0m-0.5 1h0m0.5 2.5h0m1.5-85.5h0m-0.5 9h0m3 0h0m-3.5 1.5h0m6 2.5h0m-2.5 4h0m3.5 2.5h0m-6.5 61.5h0m6.5 5.5h0m-3.5 3h0m4.5 8h0m1-83.5h0m6.5 9h0m-7 1h0m4 3.5h0m2.5 5h0m1 3h0m-1.5 1h0m-5 52.5h0m4 4h0m0 1h0m-1 1h0m-3.5 0.5h0m1 0.5h0m-1.5 0.5h0m5 8h0m-3.5 1h0m4.5 1h0m0.5 4.5h0m1-77h0m4 9.5h0m1.5 7h0m-0.5 18h0m0 9.5h0m-1 2.5h0m1.5 1.5h0m-2.5 7h0m5 0h0m-4 0h0m-1.5 2.5h0m2 0.5h0m-1 4.5h0m-0.5 4h0m-1 4.5h0m-0.5 12h0m0.5 14.5h0m7.5-74h0m-1 19.5h0m2 22.5h0m-0.5 1h0m0.5 0h0"/>
<path d="M116.5 495.5h0m2.5 0h0m0 9.5h0m-2.5 6.5h0m-2.5 42h0m5 26.5h0m7.5-115h0m-0.5 2.5h0m-3 17h0m4 2.5h0m-3.5 3h0m-1.5 1.5h0m1.5 1h0m-1.5 87.5h0m2.5 2h0m-3 5h0m3 3h0m-1 0h0m-1 0.5h0m2 1.5h0m3 1.5h0m-1.5 0h0m-3.5 3.5h0m0.5 26.5h0m6.5-138h0m1.5 0h0m-1.5 7.5h0m2.5 0.5h0m-1.5 4.5h0m2 0.5h0m0.5 3.5h0m1.5 1.5h0m0 1.5h0m-4.5 79h0m3.5 0.5h0m-1 30.5h0m4-126h0m5 1.5h0m-1 2h0m-4.5 10h0m2.5 4h0m3 2h0m-0.5 0h0m-0.5 0h0m0 75h0m2 7h0m-4 1.5h0m5 0.5h0m-1 0.5h0m-4 0h0m0 4h0m1 11.5h0m9-119h0m-2.5 6h0m-1 4.5h0m5 1.5h0m-1.5 6h0m2.5 0h0m-1.5 1h0m1.5 0h0m-3.5 1.5h0m2 1h0m2.5 0.5h0m-1.5 2h0m0.5 0h0m0 69.5h0m-0.5 1h0m1.5 1h0m-1.5 3.5h0m-5.5 2h0m4 1.5h0m-3 9h0m0 1h0m4.5 11h0m3.5-114.5h0m1 2h0m3 0.5h0m-5.5 0h0m4.5 10.5h0m-1 1h0m3.5 1.5h0m-4 1.5h0m0 2h0m4.5 1h0m-2.5 3h0m2.5 50.5h0m-2.5 3h0m0 1h0m2 1h0m-3 0.5h0m-1.5 4.5h0m4.5 1.5h0m-3.5 0.5h0m-4 2h0m6.5 6h0m-6 13h0m2.5 5.5h0m7-121h0m1.5 5.5h0m4 6h0m-5.5 17.5h0m0 1h0m3 2.5h0m-2 0.5h0m-0.5 1.5h0m2 3.5h0m-1.5 0.5h0m-1.5 2.5h0m3.5 2.5h0m1 0h0m-2.5 3.5h0m4 3h0m-0.5 2h0m-2.5 10h0m2 1h0m-1 0.5h0m0 1.5h0m-0.5 2.5h0m-0.5 3.5h0m-1 4.5h0m3 1h0m-3 0.5h0m2.5 1h0m-4 1.5h0m0.5 8h0m-0.5 7h0m0.5 9.5h0m5 2.5h0m-5 1.5h0m-1.5 0h0m8.5-91.5h0m2.5 5.5h0m0.5 5.5h0m0 4h0m0.5 5.5h0m3 0h0m-7 1h0m-0.5 3h0m5 3h0m-3 3h0m-1.5 4.5h0m1 5.5h0m1.5 4.5h0m1.5 1h0m0 1h0m2 1h0m-3.5 8.5h0m-2 0.5h0m2 1.5h0m-2 0h0m5.5 1.5h0m-0.5 0.5h0m-1 3h0m-3.5 2.5h0m0.5 9h0m-1 7h0m2 3h0m-2 31.5h0m10-100.5h0m0.5 8h0m-3.5 5.5h0m0.5 4h0m-0.5 2.5h0m2 4h0m-0.5 5h0m0.5 4.5h0m1.5 8h0m1.5 3.5h0m1 6h0m1 6h0m7.5-34.5h0m-5.5 8.5h0m-0.5 5h0m2.5 2.5h0m4 3h0m-3.5 1h0m0.5 2h0m2 5h0m3.5-44.5h0m0.5 31h0m3 3h0m0 1.5h0m-5.5 1h0m2 13.5h0m8-57.5h0m-1 32h0m7 12h0m-4 4h0m10-39.5h0m-3 23h0m4 5.5h0m-2.5 7.5h0m0.5 2h0m-1.5 17.5h0m4 28h0m2.5-54.5h0m0 10.5h0m19-7.5h0m16-55h0m-2 16.5h0m-2.5 4h0m5.5 9.5h0m-0.5 11h0m8.5-45.5h0m-5 2.5h0m0 2h0m1 6h0m2.5 2.5h0m-0.5 10h0m0.5 1h0m-3.5 1h0m4.5 1.5h0m-3 1h0m-2 0h0m4 3h0m-2 12.5h0m-0.5 23.5h0m14-57h0m-3 1h0m-4 2.5h0m5 1h0m0.5 0h0m-6 1.5h0m1.5 1h0m5.5 4.5h0m-6.5 54h0m2 3.5h0m-0.5 0.5h0m-1 1h0m3 9h0m-3 2h0m7.5-72h0m3.5 4h0m-3.5 1h0m2 2h0m4.5 3h0m0 2.5h0m-7 60.5h0m0.5 0.5h0m2.5 2h0m0 3.5h0m-1.5 1.5h0m2 3h0m5.5-71h0m-1 0h0m3.5 8h0m1 3.5h0m-2.5 54h0m0 5.5h0m2 5.5h0m-3 1.5h0m2 1h0m5-78.5h0m5 16.5h0m1 11h0m-1.5 7h0m0.5 2.5h0m1 16h0m0.5 0h0m-2.5 2h0m1 2.5h0m-1 1.5h0m-1 2.5h0m1.5 0.5h0m3 1h0m-3 1.5h0m-3.5 0h0m-0.5 9h0m4 0h0m-1 0.5h0m0 7h0m-1 30h0m5.5-59.5h0m2 2.5h0m-2 8.5h0"/>
<path d="M119 494h0m0.5 3.5h0m0 6.5h0m-4 2h0m2 6.5h0m-2.5 13.5h0m0.5 23.5h0m4.5 24.5h0m-3.5 26h0m-0.5 18h0m7.5-135h0m2 1.5h0m-2.5 1.5h0m3 0h0m-2.5 3.5h0m-2 0.5h0m-1 4.5h0m2 1h0m0 1.5h0m-1 80.5h0m3 5.5h0m-1.5 4.5h0m1.5 3h0m-2 0.5h0m0.5 15h0m8.5-126h0m2 5h0m-3.5 5.5h0m2 3.5h0m0.5 0.5h0m-3.5 0.5h0m0.5 1.5h0m5.5 8.5h0m-7 85h0m6 1h0m0.5 1h0m-1.5 0h0m-4.5 7.5h0m6.5 1h0m2.5-115.5h0m6.5 5h0m-3 3h0m3 0.5h0m-2.5 6h0m-2 0.5h0m-0.5 0h0m-0.5 2h0m1.5 0.5h0m3 0h0m-3.5 1h0m4 1.5h0m-2.5 2.5h0m-2.5 0h0m1 76h0m-0.5 3h0m-0.5 0h0m3 1.5h0m-4 1h0m1 2.5h0m0.5 3.5h0m1.5 1h0m2.5 3h0m-0.5 7h0m6.5-107h0m1 3h0m-0.5 2.5h0m-1 0.5h0m0 6.5h0m2.5 3h0m-0.5 66.5h0m-2.5 2h0m3.5 1.5h0m-2 4.5h0m-4 3h0m3.5 1h0m-2.5 1.5h0m1 5h0m0 1h0m-2 6.5h0m1.5 8.5h0m13-116h0m-8 7.5h0m6.5 3h0m-6 5.5h0m7.5 0h0m-6.5 0.5h0m5 2.5h0m0.5 0.5h0m0.5 1h0m-2.5 2h0m1 0h0m-1 54h0m-3 3h0m4 3h0m2 10h0m-1 0h0m-1 13.5h0m3-110.5h0m0.5 17h0m-0.5 1h0m1.5 5h0m3 3.5h0m2 2h0m-7.5 2h0m5 3h0m-3 5h0m1.5 0.5h0m1 1.5h0m0.5 1h0m-1.5 0.5h0m1 2.5h0m-0.5 0h0m0 3h0m2 1.5h0m-2 4.5h0m3 2.5h0m-0.5 5.5h0m-0.5 1.5h0m-0.5 1.5h0m-0.5 7h0m-2 2h0m2 1h0m-1.5 0.5h0m1 2.5h0m2 2.5h0m-4.5 1h0m1 1.5h0m0 1.5h0m1 1h0m-1 0h0m-3 8h0m11-74h0m5 0.5h0m-4 2h0m-3 11h0m3 2h0m-3.5 2.5h0m6.5 1.5h0m-4.5 4.5h0m0.5 0.5h0m4.5 1.5h0m-0.5 0.5h0m-2.5 6h0m0 1h0m0.5 1h0m1 4.5h0m-1 3h0m1.5 5h0m-2 3.5h0m2 2h0m-0.5 0.5h0m0 1.5h0m-5 1.5h0m5 1.5h0m-2 0.5h0m-0.5 5.5h0m1.5 2h0m-4 7.5h0m3 3h0m9.5-75.5h0m-0.5 11.5h0m-2.5 6.5h0m-1.5 4h0m4 8.5h0m1.5 2.5h0m-2.5 0.5h0m-4 2h0m5 2.5h0m-5 1.5h0m5 0.5h0m-2 5h0m-2.5 9h0m0 1h0m-0.5 4h0m0.5 1h0m9-47.5h0m4 18h0m-4 15.5h0m-0.5 0.5h0m3.5 1h0m4.5-52.5h0m5.5 49h0m-6 9h0m4.5 0h0m3 1.5h0m3-41h0m0.5 30.5h0m-2 1h0m3 10h0m7-18.5h0m0.5 1h0m37-57h0m4.5 24h0m2.5 4h0m-2.5 13h0m5-48h0m4.5 9h0m-4 3h0m2.5 11h0m0 4h0m-2 0.5h0m-1.5 4h0m3.5 2h0m-4 1h0m5 0h0m-4.5 2h0m0.5 21.5h0m-2 1h0m5 23.5h0m2 3h0m-2 9h0m3-85h0m0.5 4h0m5.5 13h0m1 2.5h0m0 71h0m-3 0.5h0m3.5 0.5h0m-2 7.5h0m7.5-84h0m-5 6.5h0m2.5 2h0m5 1h0m-0.5 9.5h0m-6.5 61.5h0m1 1.5h0m2.5 11.5h0m-4 4.5h0m8.5-95h0m-1 2.5h0m1 5.5h0m3 17h0m0 0.5h0m3.5 3.5h0m-3 0.5h0m-3 53h0m-0.5 0h0m6.5 0.5h0m-3.5 1h0m-2 2.5h0m2 0h0m3.5 3.5h0m-1.5 0.5h0m-5.5 3.5h0m2 1h0m4 0.5h0m-1 0h0m-2.5 12.5h0m8-83h0m0 3h0m-3 2.5h0m2.5 5.5h0m-1.5 1h0m2.5 2h0m0 6.5h0m2 20h0m0 1h0m1.5 1h0m-2.5 5h0m-1 5h0m4 0.5h0m-6.5 3h0m2 1h0m-0.5 0.5h0m-1.5 0h0m6.5 2.5h0m-6 1.5h0m4 4.5h0m-1.5 1h0m-0.5 5h0m-2.5 2.5h0m2.5 6.5h0m7-60.5h0m-2 40.5h0"/>
<path d="M119.5 474.5h0m-2 24h0m2 4.5h0m-2 4.5h0m-1.5 39h0m1 14h0m1.5 13h0m1 1.5h0m-1.5 15h0m7.5-114h0m1 1h0m-2 6h0m0 3.5h0m-3.5 0.5h0m1 0h0m3 6h0m-0.5 1.5h0m-3.5 82h0m0 0.5h0m0.5 1h0m0.5 0.5h0m1 4h0m0 4.5h0m4.5 9.5h0m-0.5 5.5h0m-6 2h0m6.5 2.5h0m1.5-128.5h0m1.5 6.5h0m1 2.5h0m4 1h0m-6 1h0m0.5 3.5h0m3.5 0h0m-1 2.5h0m3 1.5h0m-4.5 1.5h0m2 1h0m-0.5 1h0m2.5 0.5h0m-2.5 0.5h0m2 3.5h0m1 81h0m-1.5 5h0m0 2h0m2 3h0m-1.5 0.5h0m-5.5 2h0m-0.5 2.5h0m6 5h0m5-123h0m-1.5 1h0m1.5 2h0m-3 7h0m4.5 2.5h0m1 1.5h0m0 1h0m-1 2.5h0m2.5 1h0m-7 4.5h0m-0.5 1h0m6 78h0m-3 0.5h0m-0.5 3h0m2 0.5h0m-1.5 4.5h0m1 0h0m-2 0.5h0m3 1.5h0m-4.5 2h0m2 3h0m3.5 0h0m0.5 8h0m-0.5 0.5h0m4-117.5h0m2.5 2.5h0m-0.5 3.5h0m3.5 0h0m-7 9h0m3.5 2.5h0m-1 2h0m4 1.5h0m-4 72h0m3 1h0m-0.5 1h0m-1.5 7.5h0m10-99h0m-5 6.5h0m1.5 5h0m-0.5 2.5h0m-2 7h0m3.5 3.5h0m3.5 1.5h0m0 0.5h0m-1.5 1h0m2 1.5h0m0.5 4h0m-1.5 47h0m-2 2h0m-3.5 2.5h0m4.5 1.5h0m-0.5 2h0m-1 2.5h0m-3 0.5h0m4.5 0.5h0m-2 2.5h0m0 2.5h0m1.5 1h0m-1 9.5h0m6.5-105.5h0m1 12h0m4 2.5h0m-3.5 7h0m-3.5 5.5h0m7 1.5h0m-2.5 1.5h0m0.5 1h0m-4 2h0m4.5 1h0m-2.5 0.5h0m3.5 3.5h0m-4 1.5h0m0.5 4h0m4 7.5h0m-2 5h0m0.5 1h0m-1 0.5h0m1.5 7.5h0m-2.5 0.5h0m0 1.5h0m4 1h0m-3.5 7h0m-3.5 1h0m3.5 1h0m-3.5 3.5h0m6.5 13.5h0m-7 15.5h0m15-86.5h0m-3.5 2h0m1 5h0m-3 0h0m5.5 0.5h0m-4 9h0m-0.5 0.5h0m-1 5h0m6 4h0m-7.5 1h0m2.5 0h0m-2.5 1.5h0m6.5 0h0m-2.5 5.5h0m-1.5 0.5h0m4 1h0m-4 1h0m3.5 8h0m0 2h0m-2 5.5h0m3 0h0m0 1h0m0 3h0m-2 7.5h0m1.5 1h0m-7 7.5h0m12.5-91h0m2 14.5h0m-0.5 6h0m-1.5 1.5h0m3.5 3.5h0m-4 9h0m-3.5 1.5h0m2 6h0m0.5 1.5h0m-3 7h0m1 1.5h0m-0.5 3h0m3.5 1h0m-2.5 2.5h0m1.5 2h0m-2 1.5h0m4.5 2h0m-0.5 4h0m-2.5 1.5h0m1 5.5h0m1 1h0m11.5-29h0m-5.5 5h0m-2 2h0m6.5 28.5h0m1.5-49.5h0m1.5 19h0m5 4h0m-1.5 6.5h0m1 16h0m2.5-33h0m0 53h0m18-70h0m29 62h0m5.5-82h0m8 1.5h0m2 1.5h0m-3 1h0m-0.5 1.5h0m-1 1.5h0m-3 0.5h0m5.5 1h0m-2 2h0m-2 1h0m6 0.5h0m-5.5 1.5h0m1.5 4h0m0 0.5h0m-1.5 0.5h0m2.5 0.5h0m-1 1h0m-2 15h0m-0.5 8.5h0m6.5 23h0m0.5-72h0m6.5 6h0m-3.5 0.5h0m0.5 0.5h0m-2 2h0m5.5 1.5h0m-1 2.5h0m1.5 3h0m-3.5 0h0m-2.5 61h0m3.5 3h0m2 16h0m2.5-90.5h0m5.5 14.5h0m-5 2h0m4.5 2.5h0m-3 66h0m-2.5 2h0m6 3h0m0.5 1h0m-1.5 0h0m-3 0h0m4 0.5h0m-4.5 0.5h0m4.5 10.5h0m1.5-84h0m5 0.5h0m-2.5 6h0m3 8.5h0m0 0.5h0m1 7h0m-5.5 47.5h0m1 1.5h0m-0.5 0h0m4.5 6.5h0m1 2.5h0m-7.5 0h0m6 1h0m-4 0.5h0m-1.5 4.5h0m15-35.5h0m-3 10h0m1 2h0m-1 1.5h0m-1 2h0m-2 7h0m1.5 1h0m2 1h0m1 4.5h0m-4 4h0m-1.5 1h0m4.5 2h0m-1.5 0h0m-1.5 2.5h0m6-25h0m2 5.5h0m1.5 18.5h0"/>
<path d="M118.5 474.5h0m1 20.5h0m-1.5 0.5h0m0 3.5h0m1.5 2h0m-1.5 7.5h0m-0.5 3h0m-2.5 20h0m0.5 15.5h0m-0.5 7h0m1 1.5h0m1.5 8.5h0m1 5h0m1 12h0m-0.5 4.5h0m0 17h0m8-118.5h0m-7 0h0m5.5 1h0m-3.5 0.5h0m5 0.5h0m-6.5 14h0m0.5 0h0m-0.5 87h0m5 0.5h0m-2.5 2h0m-1.5 4h0m4.5 8h0m2-124h0m2 2.5h0m1 1.5h0m-2 15.5h0m6 6.5h0m1 2.5h0m-1.5 76.5h0m-5 0.5h0m1.5 0h0m1.5 0.5h0m2.5 6h0m-0.5 14.5h0m4-117h0m-2 5h0m2.5 5h0m5 0h0m-3.5 6.5h0m1.5 1.5h0m-5 0h0m1.5 2.5h0m-2 76h0m0.5 1.5h0m4.5 7.5h0m-4 4h0m1 5h0m2.5 1h0m1.5 14.5h0m8-119.5h0m-0.5 3.5h0m-3.5 5h0m0 3.5h0m3.5 0h0m1 3.5h0m-0.5 68h0m-0.5 2.5h0m1.5 2h0m-6.5 3.5h0m3.5 1h0m-4.5 0.5h0m4 0h0m-2 11h0m8.5-99.5h0m0.5 1h0m2.5 3.5h0m-3.5 0.5h0m5.5 1.5h0m-6 3h0m2.5 0.5h0m-2.5 2.5h0m2 2h0m0.5 1.5h0m0.5 1h0m2.5 0.5h0m-1.5 0.5h0m1 4h0m0.5 0h0m-1 51.5h0m-4 5h0m2.5 1.5h0m-2 5h0m5 8h0m-6.5 0h0m-0.5 4.5h0m4 1h0m3 9h0m-7 4h0m8.5-133h0m6 16h0m-6.5 3h0m1.5 1.5h0m1 2h0m-0.5 2h0m-2 9.5h0m1.5 0.5h0m-2 3h0m0.5 2.5h0m2 1.5h0m1.5 3h0m1.5 2h0m-5 1.5h0m2 4.5h0m4.5 9h0m-3 7h0m1.5 1.5h0m0 4h0m2 0h0m-2.5 3.5h0m-0.5 0.5h0m0.5 2.5h0m0.5 1h0m-0.5 4h0m0 3h0m1 1.5h0m-3.5 2h0m-0.5 0.5h0m0.5 0.5h0m5.5 1h0m-3.5 2.5h0m1 1h0m-4.5 2h0m4 2h0m-0.5 10h0m-4 5h0m1.5 7h0m-1 2h0m8-105h0m1.5 23h0m2.5 10h0m-1.5 2h0m-3 2h0m3 1.5h0m0 1.5h0m-0.5 0.5h0m4.5 3h0m-5.5 2h0m4 0.5h0m-4 1.5h0m0.5 0h0m1 2h0m4 8.5h0m0 2.5h0m-2 0.5h0m-4 2h0m1 0h0m5 0h0m-3 1h0m1 0.5h0m-4 1h0m0 3.5h0m-0.5 3h0m0 1h0m6.5 1.5h0m-1 3h0m-1 11h0m-5 4h0m14.5-86.5h0m-7 18.5h0m4.5 3.5h0m-1.5 4.5h0m5 5.5h0m-5.5 3h0m-2 0.5h0m5 0h0m2.5 3h0m-4.5 0.5h0m-2.5 5h0m1 10.5h0m1.5 2h0m-2.5 2h0m2 1h0m-1 10.5h0m-1.5 4h0m1 3h0m4.5 2h0m0.5 4h0m5-74h0m-2.5 19h0m4 5.5h0m2.5 2.5h0m-6.5 10h0m-0.5 4h0m6 4.5h0m0.5 16h0m-5 3h0m5.5 3h0m-3.5 10h0m-2.5 4h0m1.5 2.5h0m0 13.5h0m6.5-89h0m2 25h0m-1 2h0m4 4h0m-3.5 2.5h0m-3 1h0m0.5 12.5h0m6.5 29.5h0m1.5-56.5h0m15 17h0m11.5-21h0m9.5 6.5h0m18-41.5h0m0.5 27h0m3-25h0m5.5 0h0m-6.5 13h0m3 1h0m4 0.5h0m-7.5 0h0m3.5 0.5h0m-3 3h0m3 2.5h0m0 1h0m-3.5 2h0m0.5 17h0m2.5 9h0m2 8h0m1 1h0m6-62h0m-1 7h0m1.5 2.5h0m1 2.5h0m-4 0h0m0.5 2.5h0m2 3h0m2.5 1h0m-1 0.5h0m-5 50.5h0m-0.5 2.5h0m5.5 11h0m6-79.5h0m-4 17.5h0m5 4h0m-4 62.5h0m1 4h0m5.5 27.5h0m3-87.5h0m3.5 9.5h0m1.5 54.5h0m-6.5 1h0m1.5 1.5h0m0 6h0m0.5 0h0m3 4.5h0m-5 1h0m1 3.5h0m7-65h0m1.5 0.5h0m4.5 15h0m-0.5 6h0m-0.5 5h0m0 7.5h0m1.5 3.5h0m-4.5 3.5h0m2 0h0m-2 0h0m4.5 4h0m-1 0h0m-1.5 3.5h0m-2.5 1h0m5 2h0m-3.5 1.5h0m-2 11h0m7.5-62.5h0m-1 45h0m0 6h0"/>
<path d="M117 491.5h0m3 4h0m-4.5 6h0m1 4h0m1 7h0m-1.5 1h0m-1 32.5h0m0 17h0m2 6h0m1 0.5h0m1 1h0m-1 0h0m0.5 4.5h0m6-107.5h0m1 14h0m-4 3.5h0m4.5 1h0m-4.5 0h0m6 0.5h0m0.5 3h0m-3 4h0m-1 1h0m-1.5 1h0m-2.5 4.5h0m8 83.5h0m-5.5 1.5h0m4.5 30.5h0m-1 1h0m3.5-140h0m-1 13.5h0m2 3h0m-2 0.5h0m7 0h0m-6.5 4h0m2.5 0h0m1.5 3.5h0m2.5 2.5h0m-0.5 0h0m-5 85h0m4.5 1h0m-1.5 3.5h0m-4.5 0h0m3.5 1h0m2 0h0m-5.5 0.5h0m0 2h0m5 12.5h0m9-120.5h0m-3.5 4h0m1 4.5h0m-3.5 3h0m6.5 1.5h0m-6 1.5h0m-0.5 3h0m4.5 0h0m0 0.5h0m-0.5 0h0m1 1h0m-2 0h0m0.5 0.5h0m1.5 1h0m-3.5 75h0m0 0h0m0.5 0h0m2.5 4h0m-2.5 0.5h0m-2.5 2h0m3.5 3.5h0m0.5 7.5h0m1 0.5h0m-4 10h0m10-107h0m1.5 2.5h0m2.5 6h0m-2 68.5h0m-3 2h0m0.5 0h0m-1.5 3h0m5 2.5h0m-4.5 4.5h0m6.5 4h0m-1 6h0m8.5-101h0m-3.5 2.5h0m-1 4h0m2 2.5h0m-2.5 3.5h0m0.5 1.5h0m1.5 1.5h0m0.5 1h0m2.5 6h0m-2.5 50h0m1.5 4h0m-2.5 2h0m-3 3h0m3 0h0m1 1h0m0 0.5h0m1.5 0h0m1.5 9.5h0m-6.5 13.5h0m0.5 0h0m9-113h0m-0.5 12.5h0m-1.5 0.5h0m1 1h0m-0.5 5h0m5.5 2h0m-6.5 8.5h0m0 1.5h0m7 0h0m-1 1.5h0m-2.5 1h0m0 0.5h0m-3 0.5h0m3 0.5h0m0 2.5h0m-0.5 1h0m4.5 1.5h0m-4 3.5h0m2 2h0m-0.5 1h0m1 2.5h0m-1.5 0h0m0 0.5h0m1.5 2h0m1 4h0m-0.5 5.5h0m-2 0h0m0.5 2h0m-1 2h0m0.5 1h0m-1.5 3h0m2 3h0m1.5 1h0m-5 2h0m5.5 1h0m-3.5 7.5h0m-0.5 7h0m-3 0.5h0m5 3h0m6-74h0m0.5 1.5h0m-2.5 4h0m3.5 5h0m-5 0h0m3 1.5h0m1 0.5h0m0.5 1h0m-0.5 3h0m-2 2.5h0m0 0h0m4 4h0m0.5 0.5h0m-2 1h0m-1 0h0m-3 1h0m6.5 2h0m-3 1.5h0m2 1.5h0m-3 1.5h0m-2.5 0h0m4.5 0h0m3 1h0m-2.5 0.5h0m-3 1h0m3 0h0m-2.5 0.5h0m-1.5 0h0m5 2h0m-3.5 4h0m3.5 1.5h0m-6.5 2h0m2.5 2h0m0 3.5h0m3 9h0m-2.5 23.5h0m-2.5 16h0m0.5 1h0m11.5-98h0m1.5 6h0m0.5 15.5h0m-3.5 6h0m3.5 4.5h0m-1.5 2h0m0 3.5h0m-4.5 5h0m1 0.5h0m5 1h0m-5.5 0.5h0m-0.5 1.5h0m3 12h0m8.5-62.5h0m-3 13h0m5.5 14.5h0m-2.5 15.5h0m-3.5 5h0m-0.5 22.5h0m11.5-30h0m-3 5h0m3 5h0m0 18h0m4.5-24h0m6.5 4.5h0m-2 2h0m0 34h0m7-59h0m1.5 7h0m-1.5 19h0m-2 4h0m7-43h0m4.5 40h0m18-16.5h0m11.5-57.5h0m4 10h0m-1 12h0m10-10h0m-4 0.5h0m2.5 2h0m-1.5 9h0m0 1.5h0m-2.5 1.5h0m3.5 4h0m-2 7h0m-3.5 1h0m3 1h0m-1.5 16h0m1.5 4.5h0m1 33h0m7-81h0m-2.5 1h0m1 8h0m4.5 2h0m2 3h0m-4 2.5h0m3 1h0m-4.5 56h0m1 3.5h0m1 2h0m-3 6h0m4 13h0m8-76.5h0m1.5 1.5h0m0 5h0m-6 62.5h0m4.5 1.5h0m1.5 0.5h0m-4.5 1.5h0m3.5 0h0m1 1.5h0m-3 4h0m3 2.5h0m0 2.5h0m-2.5 12.5h0m3.5-89.5h0m7.5 7h0m-2.5 3.5h0m-5 57.5h0m7.5 2.5h0m-0.5 4h0m-1.5 0h0m-4 9h0m3.5 1h0m-4.5 2.5h0m12.5-52.5h0m-0.5 0.5h0m-0.5 23h0m2 5h0m-3 8.5h0m2 0.5h0m0 7h0m-2 5h0m8-43h0m-1.5 17h0"/>
<path d="M116.5 500h0m3.5 2.5h0m-1.5 4.5h0m-4.5 23h0m0.5 3h0m1.5 13h0m-0.5 0.5h0m4.5 42.5h0m1.5-116h0m2.5 13h0m-2.5 12h0m-0.5 79h0m1 1h0m1.5 8h0m0 2h0m-2 0h0m3 3.5h0m-3.5 2h0m2.5 2h0m-1 7h0m4 4h0m-0.5 5h0m8-136h0m-2 13.5h0m-0.5 1.5h0m0 1h0m4.5 6.5h0m-2.5 0h0m-3.5 0h0m1 1h0m3 4h0m1.5 79.5h0m-2.5 2h0m-1.5 1.5h0m-1 0h0m3 0h0m0 0.5h0m0.5 0.5h0m-4.5 1.5h0m2 1h0m-0.5 2h0m0 2h0m-0.5 0h0m3 1.5h0m0 3.5h0m5.5-108h0m2 14.5h0m-3.5 0.5h0m1 1.5h0m4 1h0m-2 76.5h0m2 0.5h0m1.5 1.5h0m-8 2h0m2 1.5h0m1 21h0m7.5-113.5h0m0.5 1.5h0m1.5 2h0m-2 2.5h0m1.5 4.5h0m-2 2h0m4 1h0m-2.5 0h0m3.5 71.5h0m-1 0.5h0m1 3.5h0m-4 3.5h0m1 0.5h0m0 2.5h0m0.5 2.5h0m9.5-90.5h0m-2 1.5h0m-3 7h0m0 0.5h0m5.5 3.5h0m1 8.5h0m0.5 1.5h0m0 47.5h0m-1.5 1h0m-2.5 1h0m0 1.5h0m-3.5 2.5h0m-0.5 1.5h0m1 0.5h0m3 2h0m-0.5 2h0m0 2.5h0m2.5 1h0m-1.5 1h0m-4 10h0m14.5-89.5h0m-2 2h0m-2.5 8.5h0m-1.5 3.5h0m0.5 4.5h0m0.5 1h0m1.5 1.5h0m0.5 1.5h0m0 0.5h0m-1 3h0m1.5 0.5h0m0.5 5h0m0 8h0m0 8h0m1.5 1.5h0m-1.5 2.5h0m0.5 1h0m1.5 3h0m-0.5 0h0m0 2h0m1 0h0m-6 0h0m-1 1h0m6.5 6.5h0m0 1h0m-3.5 7h0m3.5 0h0m-1.5 6.5h0m-5 2h0m3 3h0m10.5-83.5h0m-2.5 9.5h0m3.5 1h0m-5.5 1.5h0m5.5 2.5h0m0.5 1.5h0m-2 2h0m-2.5 0.5h0m-2.5 1h0m3.5 1h0m3.5 1.5h0m-2 2h0m-4.5 6h0m6.5 0h0m-2.5 1h0m2.5 0.5h0m-1.5 0.5h0m-2 0.5h0m0 3.5h0m-2 1h0m1.5 3.5h0m-2 1h0m3.5 2.5h0m-2.5 2h0m3 1h0m-3.5 3.5h0m3.5 1h0m-5 3.5h0m3 3h0m2 0.5h0m1.5 6h0m1 7.5h0m-1 10h0m7-59.5h0m1 2h0m-6.5 3.5h0m6.5 0.5h0m-6 2.5h0m5.5 3h0m-5.5 1h0m2.5 1h0m-2 2h0m3 2.5h0m-3 3.5h0m5 1.5h0m-3 1.5h0m-3 4h0m1 4.5h0m-1 6.5h0m1 10.5h0m3 13.5h0m11.5-83h0m-5.5 2h0m2 10.5h0m-1.5 5h0m1.5 0h0m-3 4.5h0m-0.5 3.5h0m3.5 1.5h0m-3.5 11.5h0m2.5 2.5h0m7-26.5h0m0.5 30.5h0m5 12h0m3-55.5h0m-0.5 26.5h0m2.5 22.5h0m-0.5 8h0m7-41h0m1 38h0m8-23.5h0m11 16h0m10-30h0m10-2.5h0m2 10.5h0m5.5-34h0m1.5 1.5h0m-3 0.5h0m5.5 0.5h0m1 1.5h0m-2 1.5h0m-3.5 4.5h0m2 1h0m1 1h0m-2 3h0m-3.5 1.5h0m3 7h0m0 11h0m-2 0.5h0m1.5 5.5h0m1 13.5h0m3 14h0m2-66.5h0m5 4.5h0m-1.5 1h0m0 2.5h0m-2 60.5h0m-0.5 1.5h0m0 2.5h0m1 5h0m2 0.5h0m-0.5 0.5h0m-0.5 0.5h0m4.5 1h0m-0.5 3.5h0m-1 2h0m4-88.5h0m0.5 5h0m-1.5 12h0m-1 0.5h0m1.5 2.5h0m2 1h0m0.5 1h0m3.5 0.5h0m-4 66h0m1.5 1h0m-4 0h0m5.5 0.5h0m0.5 0.5h0m-0.5 2.5h0m0.5 9.5h0m3.5-73h0m2 1h0m0 8h0m2.5 0.5h0m-2 0.5h0m-3 52.5h0m4 1.5h0m1.5 2h0m-0.5 5h0m-2 3.5h0m2 1h0m-2 0.5h0m-4.5 1h0m12.5-65h0m-0.5 43.5h0m0.5 1.5h0m-2.5 3.5h0m0 0.5h0m-2.5 2.5h0m4 0h0m-0.5 2h0m-3.5 11.5h0m3 4h0m3 1h0m-6 1.5h0m9-37h0m-0.5 17h0m2 3h0m-2.5 1.5h0m0 5.5h0m2.5 4h0m-1.5 12.5h0"/>
<path d="M118.5 477.5h0m-0.5 8.5h0m0.5 6.5h0m-1.5 1h0m2 9.5h0m-3 7h0m0 36h0m0 8h0m1.5 10.5h0m0.5 10h0m1 0.5h0m1 10h0m-1 3.5h0m7-113h0m-2.5 2.5h0m-2.5 0h0m4.5 1h0m-1 2h0m-2.5 1h0m1.5 0h0m-3.5 2h0m4.5 3.5h0m-4.5 0.5h0m1 1.5h0m2 5h0m-2 83.5h0m1 0.5h0m-1.5 3h0m4.5 10h0m0.5 0.5h0m-1.5 1.5h0m-4 0h0m3.5 5.5h0m1 2h0m3.5 4.5h0m0-138.5h0m4 15.5h0m-1 6.5h0m2.5 1h0m-1.5 3h0m-2.5 4h0m0 0h0m3 4.5h0m-2.5 81.5h0m4 0h0m0 1h0m-2 0h0m2 0.5h0m-2 3h0m1.5 2.5h0m-1.5 2.5h0m2.5 2h0m0 0.5h0m-4 4h0m0 4h0m13.5-115.5h0m-4 1h0m0.5 11h0m0 1h0m3 2.5h0m-4.5 1h0m-1.5 1.5h0m4.5 2.5h0m1 0h0m-4 76h0m2 0h0m-3.5 0.5h0m5.5 2.5h0m-6.5 2.5h0m0 1.5h0m4.5 0h0m-3.5 4h0m1.5 1h0m-1 6h0m-1 2.5h0m8.5-105.5h0m5.5 3.5h0m-4 2h0m5 0h0m-8 1.5h0m3 1.5h0m1.5 5h0m2.5 68h0m0 1h0m-3.5 3h0m-1 2h0m2 7.5h0m-0.5 5.5h0m-1 5h0m-2 2h0m1 10h0m7-117.5h0m2.5 2h0m-3 0.5h0m3.5 6.5h0m1 4h0m-4.5 1h0m6.5 3h0m-2 3.5h0m1.5 4.5h0m1 49.5h0m-1.5 1.5h0m-1 3.5h0m3 0.5h0m-7 1.5h0m0.5 2h0m2.5 5h0m-0.5 2.5h0m2 1.5h0m-3.5 0.5h0m0.5 15.5h0m11-108h0m-5.5 4h0m0.5 12h0m5.5 2.5h0m-4.5 5.5h0m0 1h0m0.5 2.5h0m-1.5 0.5h0m2 0.5h0m0.5 0.5h0m-2.5 1h0m6.5 0h0m-4 6.5h0m1.5 2.5h0m1 0.5h0m-1 5.5h0m3 1h0m-2 2h0m2 1h0m0 0h0m-2 0h0m1.5 3h0m-2.5 0.5h0m2.5 6.5h0m-2.5 3h0m1.5 3.5h0m0 0.5h0m0 6.5h0m-4 2.5h0m2 4.5h0m3.5 0h0m-6 3.5h0m4 0h0m0.5 3.5h0m0.5 3.5h0m-4 6h0m7-63.5h0m-0.5 1h0m6.5 1h0m0.5 9h0m-2 0.5h0m-2 1.5h0m-2.5 1.5h0m4.5 0.5h0m-2 7h0m4 2.5h0m-4 2h0m-3.5 3.5h0m3 1.5h0m3 5h0m-3.5 1.5h0m-0.5 8.5h0m1.5 0.5h0m3 4h0m-2.5 6.5h0m-4 8h0m6 1h0m3-82.5h0m4.5 9h0m-5 10.5h0m1 17h0m0 1h0m1 4.5h0m-2.5 0.5h0m4 3h0m0 7h0m-3.5 5h0m5.5 1.5h0m-5.5 1h0m-0.5 2.5h0m1 11h0m3 14h0m4-74.5h0m1 10.5h0m1.5 10h0m2 5.5h0m-1.5 0h0m-1 4.5h0m-0.5 0h0m3.5 9h0m0.5 0.5h0m6-12h0m2 15h0m1.5 12.5h0m4-58.5h0m7.5 25.5h0m44.5-53h0m5 11h0m-4 1.5h0m5.5 5h0m-5.5 0h0m7 5h0m-3 4h0m-0.5 3.5h0m-1 1.5h0m0 8.5h0m-2.5 4.5h0m1.5 6.5h0m1 13h0m2.5 7.5h0m7-61h0m1.5 2.5h0m0 0h0m1.5 0.5h0m-1.5 1h0m-3.5 2h0m2 4h0m-1.5 58h0m3 10.5h0m0 1.5h0m2 1.5h0m0 15.5h0m0.5-97.5h0m2 3.5h0m-1 4.5h0m3.5 1h0m-3.5 7h0m-1 0h0m3 2h0m1 0.5h0m3 2.5h0m-6 63h0m3.5 1h0m-1.5 1h0m2.5 0h0m-1 0.5h0m-2 0h0m1.5 1h0m3 1h0m-5.5 1h0m6 6.5h0m-4 10h0m3 5.5h0m4.5-85.5h0m1 7h0m2 6.5h0m-4 50h0m2.5 3h0m-1 2.5h0m-3.5 0.5h0m2 2.5h0m2 0h0m1 6h0m-0.5 0h0m9-44h0m-0.5 5h0m0.5 5.5h0m1.5 5h0m-0.5 1h0m-1 2.5h0m0 1.5h0m-1.5 2.5h0m1.5 4.5h0m2 0.5h0m-5.5 3h0m1.5 4h0m-3 4h0m3.5 12.5h0m-4.5 3h0m10-51.5h0m0 11.5h0m1.5 16.5h0m-3.5 11h0"/>
<path d="M119.5 489.5h0m-1.5 0h0m1.5 2.5h0m-1 12.5h0m-1.5 2.5h0m-0.5 8.5h0m0.5 0h0m-5 3h0m4.5 1h0m-2.5 8h0m-1.5 50.5h0m6.5 2.5h0m-2.5 5h0m3.5 4.5h0m8-121.5h0m-0.5 5.5h0m-5 7.5h0m3 2.5h0m1 0.5h0m-4.5 1.5h0m2 0.5h0m3 2h0m-4.5 90.5h0m-0.5 0.5h0m4.5 5.5h0m-0.5 5.5h0m-5 3.5h0m1 10.5h0m9-134h0m-2 13h0m-1 2.5h0m3.5 4.5h0m-3 1h0m3 4h0m-2 0.5h0m3 1.5h0m1.5 1h0m1.5 3.5h0m-3 81.5h0m-4 2h0m-0.5 1h0m0.5 1.5h0m5.5 3h0m1 1.5h0m-3.5 2.5h0m1 2h0m0 2h0m-1.5 2.5h0m10.5-109.5h0m-1 5h0m3.5 1h0m-2.5 1.5h0m-4.5 3h0m0 0.5h0m4 1h0m2.5 0.5h0m-4.5 0.5h0m-1.5 1h0m6 4h0m-3 73.5h0m-3 8.5h0m6 4.5h0m7-102h0m-1 3.5h0m-4.5 1.5h0m2.5 0.5h0m2 5.5h0m-0.5 0.5h0m-2 1h0m-3 2h0m6.5 1.5h0m-6.5 0h0m1 0h0m6.5 1h0m-3 0h0m0.5 0h0m-1 0.5h0m2 0h0m2 0h0m-1 3h0m0 65.5h0m1 1h0m0 12h0m-7.5 2h0m5 4.5h0m-3 19.5h0m8-119h0m4 4.5h0m-4.5 2.5h0m-2 1h0m5 0h0m1 10h0m2 56h0m-2.5 1h0m-1 1h0m-1 2h0m3.5 0h0m-5 1h0m-1.5 0.5h0m4.5 11h0m-2.5 1h0m5 1h0m-5.5 12h0m7-109h0m1 5h0m3 3h0m-1.5 3.5h0m2 12.5h0m-2.5 5.5h0m4.5 2.5h0m-3.5 1h0m3.5 0.5h0m-4.5 0.5h0m-1 0.5h0m2 1.5h0m-2 0.5h0m0.5 1.5h0m3.5 2h0m-2.5 0h0m1.5 2h0m1 10h0m1 5h0m-2 0.5h0m-0.5 5.5h0m0 9h0m3 1.5h0m0 2.5h0m-5 2h0m-2 2.5h0m2 0h0m0.5 7h0m5 2h0m-3 6.5h0m-5 5.5h0m6.5 0.5h0m1.5 5h0m0.5-81.5h0m5.5 2h0m-5.5 3h0m0.5 4h0m5.5 6h0m-6 3h0m2 0.5h0m-1.5 3.5h0m-1 1h0m6 2.5h0m0.5 2.5h0m1 4.5h0m-4 1h0m0 1.5h0m0 1h0m2.5 0.5h0m0.5 1.5h0m0 0.5h0m0 8.5h0m-3 2h0m2.5 0h0m-0.5 2.5h0m1 2.5h0m0 5h0m-1 0.5h0m2 6h0m-2 9h0m9-60.5h0m-5.5 12h0m2 1.5h0m-2 5h0m1 0.5h0m0 6.5h0m-1 3h0m5 4.5h0m-4.5 2h0m-1.5 1.5h0m0.5 4.5h0m4.5 0h0m0.5 34.5h0m5-69h0m2 50.5h0m1 12.5h0m7.5-71h0m1 9h0m-5 27h0m17.5-23h0m10.5-4h0m22.5 0h0m12-33h0m-2.5 3.5h0m0 15.5h0m3 7.5h0m2-39h0m1 7h0m2.5 0h0m2 3.5h0m-1 2h0m0.5 2h0m-1.5 4h0m1 0.5h0m0.5 5h0m0 2h0m-6.5 2h0m5 0.5h0m-4 1h0m1 3.5h0m0 9h0m-0.5 0h0m-0.5 0h0m-1 6.5h0m4.5 27.5h0m6-62.5h0m0.5 1.5h0m3 11.5h0m-6 47h0m0.5 1h0m1.5 5.5h0m3 7.5h0m-0.5 8h0m2.5 14.5h0m3-101.5h0m1.5 6.5h0m-1.5 11h0m-1.5 0.5h0m4 2.5h0m-0.5 0.5h0m0.5 69h0m2 0h0m-4 4h0m3.5 0.5h0m-3 10.5h0m3 2h0m2-85.5h0m0.5 1h0m1.5 4h0m2 1h0m-0.5 2h0m0.5 6h0m-4 55h0m0.5 0.5h0m0 0h0m-0.5 2.5h0m0.5 1h0m6.5 2h0m-7 1h0m0 1.5h0m0 0.5h0m-0.5 1.5h0m7.5 6.5h0m-2.5 1.5h0m-2.5 9h0m2.5 8.5h0m7-83.5h0m1.5 16h0m1.5 3.5h0m-1.5 1.5h0m1.5 7.5h0m-0.5 7h0m-1.5 1.5h0m0.5 0.5h0m-2 3h0m2 0.5h0m0 3h0m0 1.5h0m-5 4h0m0 0.5h0m2 3.5h0m-0.5 0h0m0 2.5h0m-0.5 6h0m6 0.5h0m-4 0h0m-0.5 1h0m-2 0h0m5 3h0m4.5-21.5h0m0.5 9.5h0"/>
<path d="M116 483h0m1.5 18.5h0m-1 8h0m-1 2.5h0m-0.5 1h0m0.5 2h0m-1 33h0m2.5 12.5h0m0.5 3h0m1.5 12h0m-0.5 2h0m0.5 3h0m-7 0.5h0m10.5-91.5h0m0 1.5h0m2 0h0m-2 3.5h0m-2 0h0m2 2h0m-0.5 0.5h0m-0.5 0.5h0m0.5 1.5h0m1.5 86h0m3.5 2.5h0m-5 2.5h0m-0.5 1h0m5.5 3.5h0m-0.5 9h0m5.5-136h0m3.5 10h0m-7.5 1.5h0m0 3.5h0m1.5 2h0m0 5.5h0m-1 0.5h0m5 2.5h0m-2 1h0m-1.5 1.5h0m4 2.5h0m0.5 0.5h0m-3 1.5h0m4.5 1.5h0m-1.5 81h0m-2.5 2h0m0.5 0.5h0m-3.5 1h0m5 0h0m-1.5 5h0m3.5 1.5h0m-5 2.5h0m1 1h0m-2 8.5h0m8-110h0m-1.5 3h0m2.5 2h0m-1.5 1h0m3.5 1.5h0m1.5 1h0m-2 5.5h0m2.5 0.5h0m0.5 0.5h0m-5 74h0m4.5 1.5h0m0 1.5h0m-6 3h0m1 2h0m-1.5 0h0m1 13h0m4.5 0h0m-2.5 5h0m1.5 3.5h0m9-118.5h0m-2 1.5h0m1 1.5h0m-2.5 4.5h0m2.5 2h0m1 1.5h0m-1 1h0m1 0h0m1 1h0m0.5 3h0m-4 0.5h0m2.5 71h0m-1.5 5.5h0m-0.5 3.5h0m1 0.5h0m-0.5 4h0m6-94h0m3 10h0m-0.5 2h0m-4.5 1.5h0m7 3h0m0 6.5h0m0 1.5h0m0 46h0m-2.5 7h0m-0.5 0.5h0m2.5 0.5h0m-5.5 0.5h0m3.5 4h0m-3 0h0m5.5 4.5h0m-6.5 4.5h0m11.5-84h0m1.5 2.5h0m0 1.5h0m-2.5 1h0m-1 3h0m-1 2h0m1.5 3h0m-3 2.5h0m7 2.5h0m-6 0.5h0m3.5 0.5h0m3 2.5h0m-2.5 0.5h0m2 4h0m-0.5 3h0m1.5 0h0m-3 1h0m0.5 2h0m-1 0.5h0m-0.5 1h0m1 2.5h0m1 0h0m0 0h0m0 9h0m-0.5 3h0m-0.5 2.5h0m-1.5 7h0m4.5 0.5h0m-4.5 0.5h0m4.5 1h0m-7.5 1.5h0m3 2h0m-0.5 0.5h0m2.5 3h0m-2.5 1h0m1 0.5h0m1 1h0m0.5 1h0m-2 1h0m1 2h0m-4 0.5h0m7 5h0m-7.5 7.5h0m8 2h0m4.5-72.5h0m1 4.5h0m-4.5 1h0m5.5 0h0m-5.5 3.5h0m3 1.5h0m1.5 5h0m1.5 5h0m0.5 7h0m-2 4.5h0m-4.5 0.5h0m4 2h0m-1.5 0.5h0m3 1h0m-6 0.5h0m3 0.5h0m-2 2.5h0m-0.5 1h0m1 5.5h0m4 2.5h0m-0.5 1h0m-1 11.5h0m4-87h0m6 22h0m-2 10h0m1 7h0m-3 1h0m1 6.5h0m-2.5 1h0m2 0.5h0m0 4h0m1.5 7h0m-0.5 7.5h0m-0.5 0h0m1.5 8h0m-1.5 7h0m2.5 8.5h0m4-45.5h0m-1 13h0m1 0.5h0m6 11h0m-2 12.5h0m8-68.5h0m-1 11h0m1.5 25h0m8.5-17.5h0m-3.5 42h0m7-33.5h0m22.5 41.5h0m19.5-63.5h0m2 17.5h0m-2.5 7.5h0m7-48h0m4.5 8.5h0m0 5h0m-5 3h0m3 4h0m0 2h0m-1.5 1.5h0m0.5 3h0m0 6h0m-1.5 31.5h0m0.5 0.5h0m4 9.5h0m2-60h0m-1.5 3h0m7.5 2h0m-0.5 0.5h0m-1 1h0m-1.5 4.5h0m2 3h0m1 0h0m-6 49h0m0.5 6.5h0m-1.5 0.5h0m5.5 14.5h0m1.5 9.5h0m4-88.5h0m-2 7h0m1 4h0m0.5 0h0m0.5 0h0m-3 0.5h0m3 0h0m-1 1h0m3.5 0.5h0m-5.5 62h0m0.5 1h0m3.5 4.5h0m-0.5 3h0m3 2h0m0.5 7h0m1-81.5h0m5.5 6.5h0m1 6.5h0m-2.5 2.5h0m1 6.5h0m-5 49h0m-0.5 4h0m0.5 1h0m4.5 0.5h0m-1 0h0m-2.5 0.5h0m0 3h0m4.5 4.5h0m-4.5 0h0m5 25h0m5-80.5h0m1 3h0m-0.5 5.5h0m2 0.5h0m1.5 4h0m0 4.5h0m-2 8.5h0m2 2.5h0m0 1.5h0m-2 5h0m-2.5 2.5h0m1.5 3.5h0m-2 3h0m-0.5 6h0m-0.5 4.5h0m-0.5 2.5h0m0 1h0m7.5-15.5h0m2 3h0m-1 21.5h0"/>
<path d="M120 488.5h0m-0.5 3h0m0 4h0m-2 3.5h0m1 7h0m-1 56.5h0m-2 3h0m2 5h0m0.5 0.5h0m1 9h0m-3.5 9h0m9.5-113h0m-3 9h0m5 0h0m-3 2.5h0m0 2.5h0m0 0h0m-2 0.5h0m2.5 1.5h0m-3.5 1.5h0m3.5 1h0m-4 2.5h0m0 0.5h0m-0.5 1.5h0m1 78h0m-0.5 1.5h0m0.5 0.5h0m0.5 0.5h0m3 4h0m3 3h0m-2.5 1h0m0 1h0m3 10.5h0m6-117h0m-4.5 12h0m-1 0.5h0m5 5.5h0m2 3.5h0m-4 79.5h0m1.5 6h0m-4.5 2.5h0m5 0.5h0m-3.5 3h0m6 17h0m5.5-122.5h0m-5 2.5h0m-0.5 2.5h0m2.5 0.5h0m-0.5 1.5h0m6 7.5h0m-7.5 2h0m4 0.5h0m-1.5 76.5h0m-2.5 3.5h0m7 0.5h0m-6.5 0.5h0m3 5.5h0m3.5 2h0m0 7.5h0m-2 9h0m-2 4h0m5-132h0m5 5.5h0m-0.5 5h0m0 0.5h0m1 5h0m-1.5 8.5h0m0.5 5h0m2 67.5h0m0 1.5h0m-7 4.5h0m8 2h0m-4.5 2h0m3 0.5h0m2-100h0m3.5 16.5h0m2.5 1.5h0m-0.5 4h0m-3 5.5h0m1 59h0m3.5 7.5h0m-6 8.5h0m0 2.5h0m0 6h0m9-104h0m3 5h0m-5.5 3.5h0m4.5 0h0m-2 2h0m-2.5 3h0m2 1h0m5 1.5h0m-5 2h0m1 2h0m-2.5 2.5h0m2.5 6h0m-0.5 3h0m2.5 11h0m2 0h0m1 1.5h0m-3 2.5h0m0 0.5h0m-0.5 0.5h0m2.5 0.5h0m0 0.5h0m0.5 3h0m-1.5 0.5h0m1 0h0m-1.5 0.5h0m1.5 1.5h0m-3 8.5h0m3 4h0m-3.5 2.5h0m1 1h0m0 2.5h0m1 0.5h0m-1.5 0h0m3 1.5h0m-1.5 4.5h0m-1.5 0.5h0m3.5 0h0m-3.5 0.5h0m2 1h0m-6 2h0m1 0.5h0m2.5 7h0m-2.5 4.5h0m0 16.5h0m7.5-97h0m0 0.5h0m6.5 12.5h0m-6 8.5h0m2 3.5h0m1.5 3.5h0m3.5 0h0m-6.5 1.5h0m2.5 1h0m-0.5 1h0m3 0h0m-1.5 6.5h0m0 1.5h0m-2.5 3h0m-0.5 5h0m1.5 0.5h0m1.5 0h0m-2.5 2h0m-1.5 7h0m0.5 1.5h0m2 2h0m-3.5 1h0m3.5 3.5h0m0.5 12.5h0m5-55.5h0m3 4.5h0m4 0.5h0m-2 1h0m-2.5 0.5h0m2 1h0m-3.5 1.5h0m2 1h0m2 3h0m-4.5 3h0m-1.5 0h0m2 6h0m2 3.5h0m-3.5 1.5h0m2.5 2.5h0m3 4h0m-5.5 2h0m2.5 2.5h0m-1.5 0h0m1 3.5h0m4.5 0.5h0m-2 0h0m0.5 1h0m2 6h0m-7.5 6.5h0m16-68.5h0m-4.5 15h0m2.5 6h0m-6 9.5h0m0 11h0m8 2h0m1-4.5h0m11.5-2h0m-3.5 2h0m11-12h0m-3.5 22h0m41-68h0m4.5 25.5h0m-2 19h0m3 4h0m4-55h0m4 10.5h0m-5.5 1h0m4.5 0.5h0m-3 2.5h0m1.5 0h0m2.5 0.5h0m-5 0.5h0m2.5 0.5h0m-4 3h0m2 1h0m5.5 1.5h0m-2 3.5h0m0.5 1h0m0.5 0.5h0m-5.5 14.5h0m1.5 3.5h0m-0.5 10.5h0m-0.5 0.5h0m1.5 8h0m1 5.5h0m0.5 1h0m-0.5 6.5h0m1.5 0h0m6-69h0m-1 3h0m1 4.5h0m0 0h0m-1 0.5h0m0.5 0h0m1.5 0.5h0m3 3h0m-1 1h0m-2.5 1.5h0m-3.5 0h0m0 0.5h0m2 59h0m2.5 11.5h0m-3 15h0m7.5-89.5h0m1.5 2h0m-2.5 5h0m-0.5 2.5h0m1.5 1h0m3 2.5h0m3 0.5h0m-8 61h0m3 3h0m-1.5 1.5h0m3 0.5h0m-2.5 1h0m1 0h0m4 14h0m1 3h0m3.5-84h0m1 15.5h0m-2.5 54h0m0.5 9.5h0m-1.5 1.5h0m6.5 1h0m-4 0.5h0m2 1h0m-3 20.5h0m6-96.5h0m0.5 9.5h0m4 19h0m2 9h0m-0.5 5h0m0.5 11h0m-2 5h0m-1.5 5.5h0m-0.5 0h0m2 3.5h0m-4.5 0.5h0m2.5 2.5h0m-2 2h0m3.5 2h0m0 2h0m1.5 1h0m1.5 5.5h0m-5 8h0m7-16.5h0"/>
<path d="M110 528.5h0m10-35h0m-4 4h0m2 4.5h0m1.5 2h0m-1.5 4.5h0m-1.5 6.5h0m-0.5 7h0m-1 1.5h0m-0.5 13.5h0m1.5 39h0m9.5-95h0m-1.5 3.5h0m1 2h0m-3 1.5h0m-1.5 2h0m3.5 1.5h0m3.5 0h0m-7.5 5h0m0.5 4h0m0 77h0m1 9.5h0m2.5 3.5h0m3 4h0m4-104.5h0m4 0h0m-6 2.5h0m4.5 1.5h0m-1.5 1h0m-1 0h0m3.5 0h0m-5.5 2h0m4 1.5h0m0.5 2.5h0m-3 82.5h0m-1.5 9.5h0m0.5 2h0m0.5 1.5h0m14-121.5h0m-5.5 14h0m-1 3h0m-1 1h0m1.5 3h0m0 2.5h0m3.5 0.5h0m-4.5 1h0m5.5 0h0m1 2h0m-0.5 0.5h0m-3 1h0m3.5 3h0m-7 76h0m-0.5 1.5h0m2.5 0.5h0m4 12h0m-1.5 37h0m9-137h0m0 3.5h0m-3.5 4h0m-2 4h0m0 2.5h0m2 1h0m4 1h0m1 2.5h0m-1 67h0m-2.5 4h0m-2 3h0m-0.5 9h0m3 0.5h0m-0.5 0.5h0m-3.5 9.5h0m3.5 14h0m6.5-128.5h0m1.5 12.5h0m-0.5 3h0m0 2h0m0 1.5h0m-2 2h0m6.5 2h0m0 1h0m-3.5 1h0m1.5 1h0m1.5 56.5h0m-3 1h0m1.5 2h0m1 1.5h0m-4.5 0.5h0m3.5 3.5h0m2 2.5h0m-4 11.5h0m2.5 4h0m4.5-85.5h0m1.5 0.5h0m-3 1h0m4 2h0m-2 0.5h0m0.5 0.5h0m1.5 5.5h0m-4.5 0.5h0m5 3.5h0m0 0h0m-1 3.5h0m-1 2.5h0m1.5 0.5h0m2 0h0m-2 4h0m1 9h0m0 0.5h0m-2 8h0m1.5 0h0m-1.5 2h0m-2 6h0m2.5 7h0m-1.5 9h0m-2 6.5h0m-1 1.5h0m1.5 1h0m4.5 10h0m-3 5h0m5-102.5h0m0 10h0m1 6h0m2 0h0m-2.5 4h0m6 3h0m-2 0.5h0m2.5 1.5h0m-4.5 1.5h0m-2.5 1h0m3.5 1.5h0m-2.5 1.5h0m2.5 1h0m-3 4h0m0 3.5h0m6 1.5h0m-1 4h0m-2.5 0h0m3.5 3h0m-0.5 1.5h0m-2.5 2.5h0m1.5 1h0m1.5 0h0m-4.5 1h0m3 2.5h0m-5 1.5h0m3.5 6h0m0 2.5h0m0.5 2.5h0m1.5 5.5h0m0.5 1.5h0m3.5-63.5h0m5.5 8.5h0m-1 21.5h0m-2.5 5h0m-2.5 0.5h0m-1.5 0.5h0m0.5 0.5h0m4.5 0.5h0m-4.5 2h0m2.5 1h0m0 2h0m0.5 0.5h0m-2.5 6.5h0m-0.5 14h0m9.5-92.5h0m-0.5 41h0m0.5 2.5h0m4 57h0m4-73.5h0m3.5 22.5h0m3 8h0m5.5 23h0m-5 15h0m4 1h0m6-24.5h0m-3 1h0m4 5h0m9.5-12h0m19.5-6h0m13.5-44h0m1.5 9.5h0m7-7h0m-6.5 9h0m1.5 5.5h0m2.5 1h0m2.5 0h0m-5 1.5h0m0 1h0m2 3.5h0m-3.5 3h0m3 3.5h0m-3.5 2.5h0m2 2h0m0 4h0m2 17h0m1.5 5h0m0.5 5.5h0m-1.5 1h0m-3 3h0m7.5-71h0m1 2.5h0m-1.5 3h0m0 4h0m2.5 1h0m1.5 1h0m-2.5 0h0m0 0.5h0m4 1h0m-4.5 2.5h0m1.5 1h0m4.5 4h0m-4.5 54.5h0m0.5 0h0m-1.5 0.5h0m0.5 6.5h0m6-78.5h0m6 6.5h0m-4 0.5h0m-2 3h0m3.5 2.5h0m3 0.5h0m-6.5 1.5h0m3.5 0.5h0m2 0h0m-1 0.5h0m-3.5 3.5h0m1.5 1h0m-2 64h0m6.5 5.5h0m-2 0.5h0m-3.5 0.5h0m4.5 3h0m0.5 0.5h0m0 2.5h0m1 2.5h0m-4.5 4.5h0m10-70h0m-0.5 1.5h0m-2 59.5h0m1 2h0m1.5 3h0m1.5 0.5h0m-6.5 1.5h0m1.5 2.5h0m4.5 4.5h0m-5.5 2h0m11.5-70h0m-3 2.5h0m6 15h0m-1.5 0.5h0m2 3.5h0m-1 1.5h0m-1.5 9.5h0m-0.5 9h0m-1 5.5h0m-0.5 0h0m0 1.5h0m-1 0.5h0m3 0.5h0m0.5 0.5h0m-0.5 0.5h0m-3 0.5h0m3 0.5h0m1 0.5h0m-0.5 1.5h0m-2 1.5h0m2.5 2h0m-5.5 1h0m1.5 0h0m0 1h0m0 7h0m6-41h0m0.5 22.5h0m0.5 12.5h0"/>
<path d="M119 494h0m-0.5 0.5h0m-5 47.5h0m0.5 7.5h0m2 12.5h0m2.5 9.5h0m-2.5 1h0m3.5 9h0m4.5-103.5h0m-0.5 5.5h0m4 1.5h0m-4 2.5h0m-2.5 2h0m1 2.5h0m1 4.5h0m-2.5 2.5h0m-0.5 0h0m0.5 77.5h0m0 7.5h0m6 2.5h0m0 2h0m-0.5 0.5h0m-4 1h0m2.5 0.5h0m1.5 3h0m-4 1h0m7.5-123h0m2 13h0m2 4h0m0.5 2.5h0m-3.5 7h0m-2 86.5h0m6.5 7h0m0.5 2.5h0m-2 0.5h0m1 0.5h0m-1 1h0m1 9h0m-6.5 5h0m16-117h0m-6 2.5h0m3 2.5h0m1.5 1.5h0m0 2.5h0m-5 0.5h0m3 0.5h0m3 3.5h0m-3 1.5h0m-4.5 75h0m2 1h0m-0.5 4h0m5 1h0m-5.5 9h0m2.5 13h0m6-134.5h0m-1 14h0m7.5 6h0m-4.5 5.5h0m-1 0h0m-1 4h0m-1 3.5h0m-0.5 0.5h0m4.5 0h0m-4 0.5h0m5.5 1.5h0m-1 1h0m0 69h0m0 1h0m-3 2.5h0m2.5 1h0m0.5 3h0m1 0.5h0m-2 1h0m0 1h0m7-99h0m0 0.5h0m-1.5 2h0m-1 11.5h0m2 0h0m4 1h0m-5.5 1h0m3 0.5h0m2.5 2h0m-2 2h0m-0.5 2h0m0 3h0m3.5 2h0m-2 0h0m0.5 54.5h0m-1 10h0m0 1.5h0m1.5 1h0m1.5 0.5h0m-5 6h0m0.5 1.5h0m3 4h0m-6 5h0m8.5-95.5h0m0.5 1h0m4 0.5h0m-1.5 3.5h0m1 6.5h0m0 5h0m-5 0h0m5 1.5h0m-3 0.5h0m4 0.5h0m-3.5 0h0m0 1.5h0m0.5 0.5h0m0 1h0m0.5 7h0m1.5 1h0m-1 3.5h0m0 1.5h0m0.5 1h0m0 2h0m2.5 9h0m-2.5 1h0m1 12h0m-5 1h0m2.5 2.5h0m1.5 0h0m-3.5 0.5h0m5.5 3h0m-2.5 1h0m-2.5 1h0m0 1h0m-0.5 0.5h0m1.5 0h0m4 3.5h0m0 0h0m-5.5 10.5h0m3.5 10.5h0m10-98.5h0m-4.5 16.5h0m-2 7.5h0m7.5 1h0m-6.5 0.5h0m2 5h0m-2.5 2h0m6.5 0.5h0m0 0.5h0m-6 0h0m3.5 0.5h0m-3 1.5h0m5.5 2.5h0m-3.5 12h0m1 2.5h0m-4 6.5h0m6 2.5h0m-4 1h0m1 0h0m-3 2h0m3.5 8h0m-0.5 5.5h0m-2.5 19.5h0m9.5-83.5h0m3 25h0m-2.5 2.5h0m-2.5 1h0m7 7h0m-0.5 3h0m-3 2h0m-1 0h0m3.5 2h0m-4 3.5h0m1 1h0m-3 4.5h0m2.5 0h0m4.5 5h0m-7.5 2.5h0m10.5-43.5h0m0 5h0m4 5.5h0m-3 16.5h0m9.5-21.5h0m-3.5 2h0m5 16.5h0m-2.5 0.5h0m7.5-8.5h0m-0.5 3h0m2.5 3.5h0m-3.5 28h0m53.5-59.5h0m-3.5 8h0m-0.5 0.5h0m4.5 7.5h0m-1.5 14h0m3.5-49h0m4 3.5h0m-2 0.5h0m3.5 1h0m-3 5.5h0m-2 2.5h0m2.5 5.5h0m-2 0h0m0 1h0m-2.5 2h0m3.5 1.5h0m-0.5 2.5h0m-0.5 0h0m-1 9h0m0.5 9.5h0m-2 4h0m2 0h0m0.5 3.5h0m0.5 7.5h0m-1.5 10h0m9-73.5h0m0 6.5h0m3 4.5h0m0 0.5h0m-1 0.5h0m2 0.5h0m-2 5.5h0m-1 1h0m-0.5 63h0m4 6h0m-1 2h0m0.5 3.5h0m4-90h0m0 4h0m-1.5 8h0m4 3.5h0m-3 3h0m-1 0.5h0m4.5 3h0m-4.5 63h0m-1 0.5h0m3.5 3h0m3.5 1h0m-2 8h0m1 2h0m-5 8.5h0m7-89h0m2.5 2h0m0 8.5h0m2.5 8h0m1.5 0.5h0m-0.5 3h0m0.5 1h0m-2.5 54.5h0m-2.5 3h0m6 2h0m-2 0h0m1.5 5h0m0.5 4.5h0m5.5-53h0m0 6h0m-0.5 3.5h0m1 2.5h0m-0.5 2.5h0m-0.5 11.5h0m-1 0h0m2.5 2.5h0m-4 3h0m-2 2h0m3 0.5h0m-1 3.5h0m2 1h0m-4.5 0.5h0m8 2.5h0m-1 1h0m-4.5 1.5h0m5 0h0m-6 0.5h0m4 1.5h0m0 14.5h0m-1.5 1h0m-3.5 1.5h0m8-49h0m1 0h0m-1 15h0"/>
<path d="M111 542h0m0 61.5h0m5.5-113h0m3 5h0m-4 9h0m-0.5 25.5h0m-1 28.5h0m2 9.5h0m3 8h0m0 8h0m5-113h0m-1 7.5h0m3.5 1.5h0m-5.5 2.5h0m2 2.5h0m-1.5 0.5h0m3.5 8.5h0m-3 2h0m-0.5 2.5h0m-1.5 1h0m0.5 82h0m4 2h0m0.5 1.5h0m-4 5h0m5 2.5h0m2 2h0m-3.5 1.5h0m4-112.5h0m2 2.5h0m0.5 10.5h0m3 7h0m1.5 2.5h0m-1.5 82h0m-6 1h0m3.5 1.5h0m-1 0.5h0m3 1.5h0m4.5-95h0m3.5 2.5h0m1 1h0m-3 0.5h0m2.5 1h0m-0.5 1.5h0m-4 1h0m2 0h0m3.5 81.5h0m-2 2.5h0m-0.5 1.5h0m1.5 0.5h0m0 0.5h0m1 2.5h0m-5.5 1.5h0m3 0.5h0m2 4.5h0m-2.5 12h0m5-122h0m6 12.5h0m-6.5 2h0m5 0.5h0m2 1h0m-2 0h0m1.5 2h0m-2 0h0m2 1h0m-1 2.5h0m-1 0.5h0m1.5 2h0m-1 71h0m-1.5 6h0m0.5 4.5h0m7-101.5h0m0 4.5h0m3 5h0m-4 2h0m1 3.5h0m4 1h0m-4 0.5h0m3 0.5h0m-5 4h0m0.5 1h0m2.5 2h0m0.5 0.5h0m0.5 0.5h0m2.5 53.5h0m-1.5 1h0m-1 2h0m1.5 1h0m0 3.5h0m-0.5 1h0m-5.5 4h0m0.5 2.5h0m-0.5 2h0m1 7h0m-0.5 4.5h0m0.5 3h0m8-99h0m-1 10h0m6.5 2.5h0m-6 2.5h0m4.5 0h0m-4 6h0m-0.5 0.5h0m3 1.5h0m2.5 2h0m0.5 5h0m0 3h0m0.5 5h0m0 1h0m-2.5 3.5h0m0 8.5h0m0 1h0m1.5 10h0m-4.5 0h0m0.5 2.5h0m4 1h0m0.5 1h0m-3 0.5h0m-3.5 5.5h0m1 0.5h0m-1.5 4.5h0m0 14.5h0m0 4h0m8-93.5h0m7.5 11.5h0m-7.5 10h0m4 6.5h0m-2.5 1h0m-1 2.5h0m1 2h0m3.5 1.5h0m-1 4.5h0m0.5 2h0m-4 1.5h0m1 10.5h0m0 0.5h0m0.5 3h0m4.5 1.5h0m-3.5 4.5h0m1.5 1.5h0m-1.5 5h0m-1.5 11.5h0m5.5 9.5h0m7-75h0m-0.5 3.5h0m-4 4.5h0m-0.5 6h0m4.5 2.5h0m-5.5 4.5h0m5 3h0m1.5 2h0m0 0.5h0m-2.5 4h0m-2 1h0m3 0h0m-5 4.5h0m4 2h0m-3.5 1.5h0m5.5 7.5h0m-6.5 1.5h0m5.5 2h0m10-39.5h0m-6.5 3.5h0m6 1h0m-2 2.5h0m-2 6h0m-1 10h0m2.5 2.5h0m-3 2.5h0m13.5-33.5h0m-1.5 2.5h0m-2 0h0m-1 1.5h0m-1.5 3.5h0m3.5 13h0m-0.5 1h0m-2 12h0m-2 0.5h0m1.5 5.5h0m0.5 10h0m4 21h0m3-34.5h0m8-8h0m0.5 3h0m26-13.5h0m19.5-32.5h0m-2.5 0.5h0m-1.5 1.5h0m-0.5 9.5h0m3.5 11h0m2 7h0m0.5-53h0m2 3.5h0m0.5 12h0m3.5 2.5h0m-4.5 0.5h0m4.5 0h0m-3 1h0m1 0.5h0m2.5 0h0m-3 3h0m3 0.5h0m-3.5 1h0m2.5 0.5h0m1.5 2.5h0m-7 1h0m3.5 0h0m2 0h0m-1 8h0m0 0h0m-2 1.5h0m0.5 2.5h0m-0.5 18.5h0m-0.5 0.5h0m0 2h0m-1 0.5h0m-0.5 1.5h0m8-46h0m0.5 0h0m5.5 3.5h0m0.5 7.5h0m-7 0.5h0m6.5 2.5h0m-5 59.5h0m3 2h0m0.5 5.5h0m-1 0.5h0m2.5 0.5h0m7-77.5h0m-5.5 11h0m2.5 0h0m-2.5 1.5h0m4.5 69h0m-1 0.5h0m4 2h0m-2.5 7.5h0m0.5 6h0m1 1h0m2.5-80.5h0m-0.5 3h0m-0.5 0h0m3.5 6h0m0 2.5h0m-2.5 58h0m0.5 0.5h0m-1.5 0h0m1.5 2h0m2.5 5h0m3 0.5h0m-7.5 0.5h0m3.5 2h0m2.5 4.5h0m-1.5 4h0m2 9.5h0m2-81h0m0.5 2h0m-1 1.5h0m3 3h0m1 6.5h0m2 7.5h0m-0.5 12.5h0m1.5 6.5h0m-1 5h0m-3.5 1.5h0m1 3h0m-2 5h0m-1.5 2h0m3.5 2.5h0m3.5 3.5h0m1 2h0m-3 6.5h0m-5 1.5h0m3.5 2h0m2 0.5h0m4.5-56.5h0"/>
<path d="M119.5 497h0m-0.5 1h0m-3.5 5h0m3 2.5h0m-4 26h0m1 16.5h0m4 28.5h0m0.5 5.5h0m3.5-104h0m0.5 6.5h0m-2.5 5h0m5 0.5h0m-5.5 3.5h0m0 0.5h0m0 2.5h0m1.5 1h0m-1.5 2h0m0 80.5h0m2.5 0.5h0m0.5 5h0m0 4.5h0m2 0.5h0m2 2h0m-2 1h0m5.5-111h0m1 1h0m-1 6h0m-3 4.5h0m5 0.5h0m-1.5 0.5h0m2 6h0m1 3h0m-1.5 79.5h0m-3.5 0h0m0.5 0h0m-1 3h0m-1 3.5h0m3.5 3h0m1 2h0m2 7.5h0m-3.5 2.5h0m11.5-114.5h0m-0.5 0.5h0m-1 9.5h0m-0.5 0.5h0m1.5 6h0m-2.5 1h0m0 0.5h0m0 0h0m1.5 0.5h0m-4 75h0m4.5 0.5h0m0.5 5.5h0m-2.5 0.5h0m3 0h0m-4 1h0m2 0h0m-1.5 1h0m3 1h0m-6 0.5h0m0.5 0h0m-0.5 0.5h0m2.5 14.5h0m-0.5 7.5h0m6.5-126.5h0m5 4.5h0m-4 0.5h0m2 6.5h0m0 6.5h0m-2 2h0m3 0h0m-4 1h0m5.5 0.5h0m-0.5 1.5h0m0 1h0m0.5 0h0m-0.5 67.5h0m-1 4h0m-1.5 4h0m-2.5 1h0m7 0h0m-5 0.5h0m4.5 0.5h0m-4.5 0.5h0m1.5 6.5h0m-2 4.5h0m3.5 10h0m4-118.5h0m4 13h0m-4.5 7h0m0 0.5h0m5 2.5h0m-2 1.5h0m3 8h0m0 46h0m-1 0.5h0m-4 5.5h0m1 2h0m0.5 3h0m-0.5 4h0m-3 5h0m3.5 0.5h0m0 9h0m8.5-106.5h0m-3.5 7h0m-0.5 9.5h0m3 3.5h0m1 8.5h0m2 0.5h0m-6 3.5h0m6.5 0.5h0m-2.5 1.5h0m-0.5 0.5h0m4 3h0m-0.5 1h0m-1.5 1.5h0m-0.5 0h0m0.5 3.5h0m-1 2h0m1 1.5h0m-1 1.5h0m0 0.5h0m2 1.5h0m-2 13h0m0 3h0m0 0h0m-0.5 5h0m2.5 0.5h0m-6.5 3.5h0m0 0.5h0m4 0.5h0m1.5 5.5h0m-2.5 1h0m3 10.5h0m-3 7.5h0m-2 8h0m6 9.5h0m2-102h0m-1 5h0m5 6h0m-3.5 2h0m5.5 0.5h0m-3 4h0m0.5 5h0m-3 7.5h0m4 2h0m2 3h0m-5 4h0m0 1h0m1 1.5h0m-0.5 4.5h0m1.5 2.5h0m2 2.5h0m-1 0.5h0m1 2.5h0m-0.5 4h0m-4 4.5h0m1 1.5h0m1.5 5h0m-3 3h0m0 0.5h0m3 10h0m4-62h0m-0.5 2.5h0m2.5 4.5h0m0 8h0m-2 7.5h0m3.5 2h0m-1 8h0m0 3.5h0m2.5 2.5h0m-0.5 3h0m-5 1h0m1 10.5h0m6.5 2.5h0m0-87.5h0m3.5 8.5h0m-3 13h0m5 16h0m-2.5 6.5h0m0.5 8.5h0m1 7.5h0m0 1h0m9.5-13.5h0m-5 10h0m12.5 21.5h0m25.5-19h0m22.5-49.5h0m2.5 34.5h0m3.5-46.5h0m4 10h0m0 5h0m-5 3.5h0m-1.5 0h0m1.5 0.5h0m4 3h0m-2 1.5h0m-4.5 1.5h0m2.5 2h0m2.5 1h0m-1 2.5h0m-3 7h0m0 2h0m1 2h0m0.5 2.5h0m-2 13h0m5 8.5h0m-1 11h0m3.5 3h0m2-77h0m1.5 11h0m0 0.5h0m-2 65h0m4 10h0m1.5 1h0m-2.5 3.5h0m-2.5 12h0m13-102.5h0m-4.5 6h0m0 1.5h0m3.5 9.5h0m-2.5 4h0m-1.5 1h0m2.5 2.5h0m0 75h0m-0.5 0h0m3 5h0m-0.5 1h0m6.5-78.5h0m-0.5 3.5h0m0 5h0m-0.5 1h0m0 1h0m0.5 3.5h0m2 1.5h0m0.5 1h0m-6 50.5h0m-1 2.5h0m1 0h0m3 0.5h0m2.5 0h0m0.5 2h0m0.5 1h0m-1 1.5h0m-1.5 4h0m-3.5 6h0m13.5-73h0m-6 2h0m1.5 3.5h0m5 14.5h0m0 1h0m-1.5 13h0m1 1.5h0m0 7.5h0m-2.5 11h0m-3 0.5h0m-0.5 0.5h0m0.5 0.5h0m0 0.5h0m1.5 1h0m4.5 2.5h0m-4.5 2h0m2.5 1h0m-4.5 2h0m-1 2.5h0m1.5 2.5h0m0.5 6.5h0m3 1.5h0m3.5-42h0m2.5 13.5h0m-2 4.5h0m1.5 7.5h0m-1 14h0m0.5 17h0"/>
</g>
<path d="M123 495.5L125.5 492.1L128.7 495.5L135.5 505.5L135.5 505.5L145.5 510.4L153.4 515.5L155.5 517.7L159.7 525.5L163.6 535.5L164.4 545.5L165.5 554.8L165.8 555.5L165.5 556.3L164.1 565.5L158 575.5L155.5 578.4L145.5 585L135.5 583.1L125.5 584.2L119.4 575.5L116.9 565.5L115.9 555.5L115.5 546.4L115.2 545.5L114.4 535.5L115 525.5L115.5 524.3L116.2 515.5L118 505.5ZM261 525.5L265.5 519.1L273.6 525.5L275.5 526.2L282.5 535.5L285.5 545.5L285.5 545.5L291.2 555.5L293.2 565.5L293.8 575.5L293.6 585.5L290.5 595.5L285.5 601.8L279.1 595.5L275.5 593.7L269 585.5L266 575.5L265.5 573.4L261.1 565.5L258.6 555.5L258 545.5L258.5 535.5Z" fill="#fff" fill-rule="evenodd" shape-rendering="crispEdges"/>
<g shape-rendering="crispEdges">
<path fill="rgb(250,250,250)" fill-opacity="0.02" d="M110.5 490.5h10v10h-10zM110.5 570.5h10v10h-10zM120.5 590.5h10v10h-10zM130.5 480.5h10v10h-10zM140.5 490.5h10v10h-10zM140.5 590.5h10v10h-10zM150.5 500.5h10v10h-10zM150.5 590.5h10v10h-10zM160.5 500.5h10v10h-10zM160.5 510.5h10v10h-10zM160.5 580.5h10v10h-10zM170.5 520.5h10v10h-10zM170.5 530.5h10v10h-10zM170.5 570.5h10v10h-10zM180.5 540.5h10v10h-10zM180.5 550.5h10v10h-10zM180.5 560.5h10v10h-10zM250.5 510.5h10v10h-10zM250.5 530.5h10v10h-10zM250.5 540.5h10v10h-10zM250.5 550.5h10v10h-10zM260.5 500.5h10v10h-10zM260.5 580.5h10v10h-10zM270.5 510.5h10v10h-10zM270.5 600.5h10v10h-10zM280.5 530.5h10v10h-10zM280.5 610.5h10v10h-10zM290.5 560.5h10v10h-10zM290.5 600.5h10v10h-10z"/>
<path fill="rgb(245,245,245)" fill-opacity="0.04" d="M110.5 500.5h10v10h-10zM110.5 560.5h10v10h-10zM120.5 480.5h10v10h-10zM130.5 490.5h10v10h-10zM130.5 590.5h10v10h-10zM160.5 520.5h10v10h-10zM160.5 570.5h10v10h-10zM170.5 540.5h10v10h-10zM170.5 550.5h10v10h-10zM170.5 560.5h10v10h-10zM250.5 520.5h10v10h-10zM290.5 570.5h10v10h-10zM290.5 580.5h10v10h-10zM290.5 590.5h10v10h-10z"/>
<path fill="rgb(240,240,240)" fill-opacity="0.06" d="M110.5 510.5h10v10h-10zM110.5 550.5h10v10h-10zM140.5 500.5h10v10h-10zM150.5 580.5h10v10h-10zM160.5 530.5h10v10h-10zM260.5 510.5h10v10h-10zM270.5 590.5h10v10h-10zM280.5 600.5h10v10h-10z"/>
<path fill="rgb(235,235,235)" fill-opacity="0.08" d="M120.5 580.5h10v10h-10zM130.5 580.5h10v10h-10zM140.5 580.5h10v10h-10zM150.5 510.5h10v10h-10zM160.5 540.5h10v10h-10zM160.5 560.5h10v10h-10zM260.5 570.5h10v10h-10zM270.5 520.5h10v10h-10z"/>
<path fill="rgb(230,230,230)" fill-opacity="0.10" d="M110.5 520.5h10v10h-10zM110.5 530.5h10v10h-10zM110.5 540.5h10v10h-10zM130.5 500.5h10v10h-10zM150.5 570.5h10v10h-10zM160.5 550.5h10v10h-10zM280.5 540.5h10v10h-10z"/>
<path fill="rgb(224,224,224)" fill-opacity="0.12" d="M120.5 490.5h10v10h-10zM140.5 510.5h10v10h-10zM150.5 520.5h10v10h-10z"/>
<path fill="rgb(219,219,219)" fill-opacity="0.14" d="M130.5 570.5h10v10h-10zM260.5 520.5h10v10h-10zM280.5 590.5h10v10h-10z"/>
<path fill="rgb(214,214,214)" fill-opacity="0.16" d="M260.5 560.5h10v10h-10z"/>
<path fill="rgb(209,209,209)" fill-opacity="0.18" d="M130.5 510.5h10v10h-10zM140.5 570.5h10v10h-10zM150.5 560.5h10v10h-10z"/>
<path fill="rgb(204,204,204)" fill-opacity="0.20" d="M120.5 570.5h10v10h-10zM150.5 530.5h10v10h-10zM280.5 550.5h10v10h-10z"/>
<path fill="rgb(199,199,199)" fill-opacity="0.22" d="M140.5 520.5h10v10h-10z"/>
<path fill="rgb(194,194,194)" fill-opacity="0.24" d="M150.5 540.5h10v10h-10zM150.5 550.5h10v10h-10zM270.5 530.5h10v10h-10zM270.5 580.5h10v10h-10z"/>
<path fill="rgb(189,189,189)" fill-opacity="0.26" d="M260.5 530.5h10v10h-10zM260.5 550.5h10v10h-10z"/>
<path fill="rgb(184,184,184)" fill-opacity="0.28" d="M120.5 500.5h10v10h-10zM130.5 520.5h10v10h-10zM140.5 560.5h10v10h-10z"/>
<path fill="rgb(178,178,178)" fill-opacity="0.30" d="M130.5 560.5h10v10h-10zM260.5 540.5h10v10h-10zM280.5 580.5h10v10h-10z"/>
<path fill="rgb(173,173,173)" fill-opacity="0.32" d="M280.5 560.5h10v10h-10z"/>
<path fill="rgb(158,158,158)" fill-opacity="0.38" d="M140.5 530.5h10v10h-10zM280.5 570.5h10v10h-10z"/>
<path fill="rgb(153,153,153)" fill-opacity="0.40" d="M120.5 560.5h10v10h-10zM130.5 550.5h10v10h-10z"/>
<path fill="rgb(148,148,148)" fill-opacity="0.42" d="M130.5 530.5h10v10h-10zM140.5 550.5h10v10h-10z"/>
<path fill="rgb(138,138,138)" fill-opacity="0.46" d="M140.5 540.5h10v10h-10z"/>
<path fill="rgb(133,133,133)" fill-opacity="0.48" d="M130.5 540.5h10v10h-10zM270.5 570.5h10v10h-10z"/>
<path fill="rgb(128,128,128)" fill-opacity="0.50" d="M270.5 540.5h10v10h-10z"/>
<path fill="rgb(117,117,117)" fill-opacity="0.54" d="M120.5 510.5h10v10h-10z"/>
<path fill="rgb(77,77,77)" fill-opacity="0.70" d="M270.5 550.5h10v10h-10z"/>
<path fill="rgb(71,71,71)" fill-opacity="0.72" d="M120.5 550.5h10v10h-10z"/>
<path fill="rgb(66,66,66)" fill-opacity="0.74" d="M270.5 560.5h10v10h-10z"/>
<path fill="rgb(41,41,41)" fill-opacity="0.84" d="M120.5 520.5h10v10h-10z"/>
<path fill="rgb(10,10,10)" fill-opacity="0.96" d="M120.5 540.5h10v10h-10z"/>
<path fill="rgb(0,0,0)" fill-opacity="1.00" d="M120.5 530.5h10v10h-10z"/>
</g>
<path d="M123 495.5L125.5 492.1L128.7 495.5L135.5 505.5L135.5 505.5L145.5 510.4L153.4 515.5L155.5 517.7L159.7 525.5L163.6 535.5L164.4 545.5L165.5 554.8L165.8 555.5L165.5 556.3L164.1 565.5L158 575.5L155.5 578.4L145.5 585L135.5 583.1L125.5 584.2L119.4 575.5L116.9 565.5L115.9 555.5L115.5 546.4L115.2 545.5L114.4 535.5L115 525.5L115.5 524.3L116.2 515.5L118 505.5ZM261 525.5L265.5 519.1L273.6 525.5L275.5 526.2L282.5 535.5L285.5 545.5L285.5 545.5L291.2 555.5L293.2 565.5L293.8 575.5L293.6 585.5L290.5 595.5L285.5 601.8L279.1 595.5L275.5 593.7L269 585.5L266 575.5L265.5 573.4L261.1 565.5L258.6 555.5L258 545.5L258.5 535.5ZM124.3 505.5L125.5 503.6L127.1 505.5L133.9 515.5L135.5 521.2L142.5 525.5L145.5 526.7L152.6 535.5L155.2 545.5L154.8 555.5L149.7 565.5L145.5 569.7L135.5 568.9L125.5 573.6L121.1 565.5L118.3 555.5L117.2 545.5L117.1 535.5L117.5 525.5L119.4 515.5ZM265.1 535.5L265.5 534.7L275.5 535.5L275.5 535.5L281.7 545.5L284.7 555.5L285.5 558.7L288.2 565.5L289.4 575.5L287.5 585.5L285.5 588.9L277.7 585.5L275.5 584.9L269.7 575.5L267 565.5L265.5 557.1L264.8 555.5L263.8 545.5ZM123.6 515.5L125.5 512.1L128 515.5L132.5 525.5L135.1 535.5L135.5 539.6L145.5 545.5L135.5 549.8L134 555.5L125.5 564L121.5 555.5L119.6 545.5L119.4 535.5L120.3 525.5ZM273.4 545.5L275.5 543.8L276.5 545.5L280.6 555.5L282.5 565.5L278.2 575.5L275.5 576.6L274.8 575.5L270.5 565.5L269.8 555.5ZM125.2 535.5L125.5 533.6L126 535.5L125.5 545.5Z" fill="none" stroke="#000" stroke-width="2.08" stroke-linejoin="round"/>
</g>
</g>
<rect x="100.5" y="460.5" width="200" height="200" fill="none" stroke="#7f7f7f" stroke-width="1.1"/>
<path d="M130.5 660.5v4.86M175.5 660.5v4.86M221.5 660.5v4.86M266.5 660.5v4.86M100.5 654.5h-4.86M100.5 607.5h-4.86M100.5 561.5h-4.86M100.5 514.5h-4.86M100.5 467.5h-4.86" stroke="#000" stroke-width="1.1" fill="none"/>
<g clip-path="url(#c21)">
<g transform="translate(-.5 -.5)">
<g filter="url(#hb)">
<path d="M460.7 491l10.3-0.2l3 1.5l2.4 2.7l2.3 8l-0.7 1.8l-2.1 1.2l4.9 10l0.1 10l0.9 2l0 6l-0.9 3l-0.1 3l-0.9 2l-0.1 3l-3.8 7.4l-4.2 12.6l-6.5 9l-10.3 10.3l-2 0.7l1.4 2l0.4 2l-1.3 3l-2.5 1.3l-9 2.1l-4-0.9l-3.8-3.5l-4.2-3l-2-4l-4-1.7l-1.4-1.3l-0.4-3l1.8-1.6l2.1-0.4l-0.1-1.3l-1-0.2l-3.5 0.5l-1.5 0.8l-3.2 0.2l-0.2 1l1.9 2l0.2 2l-0.8 2l-1.9 1.8l-2 0.7l-2-0.4l-1.3-1.1l-0.6-2l-1.4 0l-2.5 3l1.4 3l-1.6 2.7l-3 1.6l-6 2l-3.8-1.3l-0.2-1.3l-0.5 3.3l-1.4 2l-5.1 2.8l-3 0.1l-3-1.3l-5 0.1l-3.6-1.7l-1.7-2l-1.2-4l-2.2-3l-2.1-5l-0.3-3l1.2-9l0.9-2l2-1.1l4 1.7l0.2-3.6l3.8-7.4l0.2-1.6l1.6-3l3.3-4l-0.1-1.1l-2 0.2l-1.6-1.1l-0.3-2l0.6-1l1.3-0.9l2-0.1l1.3 1l0.7 2.1l6.3-6.1l-0.2-1l-1.5-1l-1.1-2l-0.1-2l1-2l1.6-1.3l6-2.2l3-2.5l2-0.8l3 0.8l0.8 1l0.3 2l0.9 0.4l4.2-0.4l0.5-1l-1-3l0.6-2l2.7-2.6l3-0.9l12 0.1l2 1.2l1.3 2.2l2.2 0l3.5-3.4l1.8-3.6l4.9-6l12.9-12l-0.6-3l1.4-3l1.6-1.2Z" fill="#000" fill-opacity="0.100" fill-rule="evenodd"/>
<path d="M461.7 492l9.3-0.1l3 2l1.5 2.1l1.3 6l-0.8 1.5l-2.6 0.5l3 4l3.9 8l0.2 10l1 3l0 5l-2 8l-0.2 3l-3.5 7l-3.5 11l-3.6 6l-3 4l-10.7 10.7l-4 1.3l-1 0.8l-2 0.2l-1 0.8l-3.7 0.2l3.7 0.6l3-0.9l2 0.2l1.1 1.1l0.2 1l-0.9 2l-10.4 3.2l-2-0.2l-2-0.9l-2.9-3.1l-4.3-3l-1-3l0.4-1l1.8-1l-0.2-1l-3.3-3l-2.4-4l-1.1-0.2l-5 1.5l-3 0.3l-2.9 1.4l-0.6 1l2.5 0.3l1.4 1.7l-0.3 2l-0.7 1l-1.4 0.9l-2 0l-1.1-0.9l-0.2-1l0.3-2.3l-4 2.1l-3.5 4.2l1.2 1l0.3 1l-0.3 1l-1.7 1.4l-7 2.5l-1-0.4l-1-1.6l-3.9 0.1l-0.5 1l0.6 2l-0.2 1l-1 1.2l-4 2.4l-3 0.1l-3-1.3l-5 0.2l-3-1.6l-1.4-2l-1.1-4l-2.5-3l-1.6-4l-0.2-5l0.9-6l0.9-1.9l1-0.6l2 0.7l2 1.9l0.7-6.1l4.9-11l3.5-4l1-2l8.7-9l-0.4-1l-1.4-0.5l-1.2-1.5l0.3-3l1.9-1.5l6-2l2-2l2-0.9l2 0.5l1 3.5l7-1.5l1.2-1.1l-1.3-3l0.7-2l1.4-1.3l3-1l11 0l2 1l2 3l3-1.5l3.2-3.2l2.1-4l4.9-6l11.8-10.8l2.7-1.2l-1.4-2l0.2-2l0.6-1l1.9-1.4ZM424.6 578l1.4-0.2l2 0.8l0.7 1.4l-0.2 1l-1.5 0.7l-2.3-0.7l-0.9-2Z" fill="#000" fill-opacity="0.100" fill-rule="evenodd"/>
<path d="M462.6 493l6.4-0.5l3 1l2.6 3.5l0.6 2l-0.2 2.3l-1 0.7l-2-0.4l-7-4.2l-5 0.5l-2-0.6l-0.5-1.3l0.5-1.2l2-1.3ZM462.4 499l0.6-0.7l2 0.1l8 6l2.4 2.6l4.5 9l0.2 10l0.9 3l-0.1 6l-0.8 2l-1.2 8l-3.4 7l-4.1 12l-6.1 9l-11.3 10.9l-8 2.4l-2 0l-3-0.9l-2.5 0.6l1.5 1.6l5.8 1.4l1.2 1l-0.4 1l-1.4 1l-2.2 0.8l-2 0.3l-2-0.7l-3-3.3l-4-2.6l-0.7-1.5l0.3-1l1.7-1l-0.2-1l-5.6-6l-1-2l-1.5-0.5l-10 2.5l-11 9.3l-8 4.3l-4 0.6l-4.3 1.8l1.5 1l0.4 1l-0.4 1l-4.2 2.8l-2-0.2l-3-1.4l-3 0.6l-2-0.2l-2.5-1.6l-1.1-2l-0.3-3l-3.1-3l-1.2-3l-0.6-6l0.8-4.5l1-2l1-0.2l1 0.7l2 3.1l1.1-9.1l5-11l4.5-6l9.5-10l0-1l-2.1-0.3l-0.9-0.7l-0.3-2l0.7-1l4.5-1.7l2 0.4l0.5 0.3l-0.3 1l1.8 0.3l2-1.2l6-2l3-0.2l4.8-1.9l-1.8-1l-1-2l1-2.1l3-1.3l11 0.4l1.9 2l0.1 3.4l1-0.3l1.4-2.1l2.6-1.5l3-2.9l2.7-4.6l4-5l5.3-5.3l2.6-1.7l5.4-5ZM398.3 530l1.7-1l1 0.5l0.2 1.5l-1.2 1.8l-2-0.1l-0.8-0.7ZM427 529.4l-2.7 2.6l1.8 0l1-1ZM414 580l1-0.3l1 1l-1 1.7l-1.6-0.4ZM381 590.6l-0.5 0.4l0.4 1l1.1 1.1l2 0l1-0.5l0.2-0.6l-1.5-1Z" fill="#000" fill-opacity="0.136" fill-rule="evenodd"/>
<path d="M467.1 494l1.9-0.4l2 0.5l2 3.2l0 2.5l-4-1.4l-1.8-1.4l-1.5-2ZM461.4 500l1.6-0.8l2 0l8 5.8l2.6 3l4 8l0.2 10l1 3l0 5l-2 8l-0.2 3l-3.6 7.1l-3.4 10.9l-6.7 10l-10.9 10.6l-2.7 0.4l-5.3 1.8l-7-0.9l-4-1.8l-7-7.1l-2-2.9l-9.8 1.9l-2.2 1.1l-10 8.7l-7 3.7l-11 3.3l-3.5-1.8l-2.5-0.3l-1 0.3l1 3l0 1l-0.8 1l-2.2 0.8l-2.7-0.8l-1.4-2l0.5-4l-0.4-0.6l-3-0.8l-2-2.6l-0.5-8l0.5-1.8l1-1l1 0.6l3 7l0.1-1.8l-0.8-1l1.1-13l3.5-7l1.5-4l4.7-6l12.9-13.5l10-4.1l10-1.6l9 3.2l1-0.4l5-6.6l2-1.1l3.1-2.9l2.9-4.9l4.1-5.1l4.9-4.9l3-2l5-4.8ZM414 524l3-0.4l4 1.3l4-0.1l1 0.9l0.1 1.3l-2.1 1.6l-3-1l-4 0.5l-3-0.4l-1.2-0.7l-0.5-1l0.4-1ZM392.3 534l1 0l0.5 1l-0.8 1.1l-2 0.3l-0.5-0.4l0.1-1ZM374 586.6l-0.6 1.4l0.6 0.4l1.4-0.4l-0.3-1ZM440.2 590l1.8 0l0.5 1l-2.3 0ZM383.7 595l1.5 0l-0.3 1l-1.2 0Z" fill="#000" fill-opacity="0.186" fill-rule="evenodd"/>
<path d="M462.3 500l2.7-0.4l7.5 5.4l2.8 3l4 8l0.2 10l1 3l0 5l-1.8 7l-0.4 4l-3.6 7l-4.4 13l-6.3 8.5l-10 9.8l-3 0.4l-5 1.8l-7-1l-4-1.9l-6.5-6.6l-1.5-2.4l-1-0.9l-1 0l-5 1.6l-4 0.4l-2 1l-10 8.7l-10 5l-8 1.9l-3-1.5l-5-1.3l-2-1.5l-1.9-2l0.1-4l-1-3l0.5-12l5.3-11.4l4.5-5.6l11.5-11.9l2-1.6l2-0.4l7-3.4l4-0.4l2-0.9l5 0.1l7 2.6l2 0.1l2-2l3-4.7l2.4-1.5l3.1-3l2.5-4.4l4.5-5.6l4.5-4.5l2.4-1.5l5.6-5.3ZM369.6 583l1.4-0.4l1 1.2l0.2 1.2l-0.6 1l-1.6-0.2l-0.7-1.8ZM375.9 590l1.1 0l1.4 2l-0.4 1.9l-1 0.5l-1.3-0.4l-0.8-1l0.1-2Z" fill="#000" fill-opacity="0.246" fill-rule="evenodd"/>
<path d="M462.9 500l2.1 0l3 2l5 3.9l2 2.2l4.2 8.9l0 9l1 3l0 5l-0.8 2l-1.4 8.9l-3.6 7.1l-4.4 12.9l-5.9 8.1l-9.1 9.1l-1.2 0.9l-2.8 0.4l-5 1.8l-7-1.1l-4-2l-6.1-6.1l-1.9-2.8l-2-0.8l-6 1.8l-3 0.2l-2 1l-10 8.6l-10 5l-8 1.8l-7-2.5l-3.4-2.3l-0.9-1l-0.2-4l-0.9-3l0.5-12l5-11l4.8-6l11.8-12l1.3-1.1l2-0.4l7-3.5l4-0.4l2-0.9l4-0.1l8 2.9l2 0l2-1.8l3-4.7l5.9-5l2.2-4l4.8-6l4.1-4.1l3-2l5-4.9l5-0.3Z" fill="#000" fill-opacity="0.326" fill-rule="evenodd"/>
<path d="M461.2 501l2.8-0.9l1 0.4l7.6 5.5l2.4 2.9l3.8 8.1l0.1 9l0.9 3l0 5l-0.7 2l-1.3 8l-3.7 8l-4.1 12.1l-6 8.5l-9 9l-2 1.2l-7 2.1l-6-1l-5-2.3l-6-6l-2-3l-2-0.5l-10 2.4l-2 1.1l-9 7.9l-11 5.4l-7 1.4l-6.5-2.3l-3.5-2.2l-1.1-1.8l-0.1-4l-0.8-2l0.5-12l5-11l2.9-3l1.6-2.6l12-12.2l10-4.7l4-0.6l2-0.8l4-0.1l8 2.9l2 0l2.3-1.9l3.2-5l2.5-1.6l3.4-3.4l2.1-4l2.9-3l1.6-2.6l4.4-4.4l2.6-1.6l5-4.9Z" fill="#000" fill-opacity="0.448" fill-rule="evenodd"/>
<path d="M462.8 501l2.2-0.1l3 2l5 4l2 2.9l3.3 7.2l0 9l1 3l0 5l-0.8 2l-1.4 9l-3.6 7l-4.5 13l-5 7l-10 10l-3 0.5l-5 1.8l-7-1.2l-4-2l-6-6l-2-3l-2-0.6l-6 1.8l-3 0.2l-2 0.9l-10 8.6l-10 5.1l-8 1.7l-5.3-1.8l-4.7-2.8l-0.5-1.2l-0.1-4l-0.8-2l0.4-12.2l3.5-6.8l1.5-4l2.9-3l1.1-2l12.9-13l2.1-0.5l7-3.6l4-0.4l2-0.8l4-0.1l8 2.9l2 0l2.9-2.5l3.1-5l2-1.1l3.9-3.9l2.1-4l2.9-3l1.1-2l5-5l2-1.1l5-4.9l6-0.5Z" fill="#000" fill-opacity="0.594" fill-rule="evenodd"/>
</g>
<g fill="none" stroke="#000" stroke-opacity=".1" stroke-width="2.8" stroke-linecap="round">
<path d="M330 568h0m21-2.5h0m0.5 9.5h0m-1.5 25h0m8-39.5h0m-0.5 11h0m1.5 8.5h0m-0.5 11.5h0m8-38h0m1 1h0m-5 3.5h0m-2 0.5h0m5.5 3.5h0m-1.5 1h0m-0.5 5h0m-3.5 3.5h0m5 5.5h0m-1 1h0m2 3.5h0m-1 1.5h0m1 2.5h0m-4.5 1.5h0m-0.5 3h0m5.5 1h0m-5 3h0m4.5 3h0m-1.5 2.5h0m1.5 1h0m6-79h0m2.5 23.5h0m-5 6.5h0m2.5 3.5h0m-3 0.5h0m4.5 0h0m0 8.5h0m-0.5 0.5h0m-3 3.5h0m0 7.5h0m2 2h0m0.5 3h0m-0.5 5h0m3 2h0m-4.5 0.5h0m-3 8h0m8 6.5h0m-6.5 0h0m4 1h0m-4.5 6h0m4.5 2h0m9.5-109.5h0m0.5 23h0m-5.5 15.5h0m-1 5.5h0m3 2h0m-1.5 4.5h0m-2 6h0m0 29.5h0m4 2.5h0m2 0.5h0m-2 0.5h0m3 1h0m-6 5h0m5 2.5h0m-2 2.5h0m-1.5 0.5h0m-1.5 4.5h0m3.5 0.5h0m1.5 7.5h0m-2.5 3.5h0m1.5 4h0m3.5-109.5h0m5 6.5h0m-0.5 8.5h0m-3.5 1.5h0m-0.5 0h0m4 3h0m2.5 0h0m-4 1h0m2 2.5h0m-0.5 3.5h0m-1.5 2.5h0m-0.5 0h0m3 49h0m-4 1h0m1 0.5h0m3.5 1.5h0m-1.5 1.5h0m-2.5 1h0m-2.5 2h0m2.5 1.5h0m-1 1h0m-0.5 3.5h0m4.5 0h0m-1.5 1.5h0m1 5.5h0m3.5-91h0m-0.5 2h0m6.5 2h0m0 1h0m-1.5 1.5h0m-3.5 2h0m4 2.5h0m2 1.5h0m-5 0.5h0m3 0h0m-1 0h0m-4 4h0m6 51h0m-5 1h0m4 0.5h0m-2 2.5h0m-4 3.5h0m6 0h0m-4 0.5h0m-0.5 2.5h0m2.5 9h0m-2.5 2.5h0m9-104h0m-1.5 11h0m0 7.5h0m5.5 3h0m-2 1.5h0m-3.5 0h0m5.5 54h0m-5 11h0m6 11h0m3.5-99h0m-0.5 9.5h0m-1 6.5h0m-1 0h0m0.5 4h0m-0.5 1h0m4.5 0.5h0m0 0.5h0m1.5 0h0m-4 0.5h0m0 0.5h0m3.5 47h0m0 0.5h0m1.5 1.5h0m-3.5 0h0m-1 0.5h0m1 0h0m3.5 6h0m-7 3h0m1 0.5h0m2 8.5h0m3.5 18h0m5.5-102.5h0m-0.5 8h0m-2.5 7h0m-1.5 0.5h0m6.5 0h0m-1 0h0m-1.5 2h0m3.5 43.5h0m-4 1.5h0m-1.5 1h0m4.5 1h0m1 1h0m-6 0h0m5 4.5h0m-4.5 0.5h0m2.5 0h0m0 2.5h0m-1.5 2h0m0 3.5h0m2.5 6.5h0m-4 2h0m7.5-97.5h0m6 5h0m-1 3h0m-1.5 1h0m3 0h0m-6.5 2.5h0m4 4.5h0m-0.5 7h0m1.5 1.5h0m-5 3h0m3.5 48.5h0m-2 0.5h0m4.5 0.5h0m0 0.5h0m-5.5 1.5h0m-1 3.5h0m0.5 6.5h0m2 0h0m3.5 2h0m-2.5 0.5h0m-1 1h0m10.5-99.5h0m1.5 14h0m-2 3.5h0m-1.5 0.5h0m1 1h0m-3.5 0.5h0m6 0.5h0m-3 6h0m-3 1h0m0 60.5h0m-1 1h0m3.5 0h0m1.5 9.5h0m2 1h0m-6.5 6h0m15.5-106.5h0m-1.5 3h0m1.5 0.5h0m-2.5 0.5h0m1 0h0m-2 7h0m3 0.5h0m-1.5 0.5h0m-1.5 3h0m-2.5 1.5h0m-0.5 0h0m0.5 2h0m3.5 74.5h0m-2 4.5h0m-2 2.5h0m4 0.5h0m-0.5 7.5h0m11-111h0m0 0.5h0m-6 2.5h0m0 0.5h0m-1.5 1.5h0m3.5 1h0m2.5 2h0m1 0.5h0m-2.5 0h0m0 0.5h0m-3 2h0m-2 1h0m2 0.5h0m-0.5 2h0m-1 0h0m6.5 80.5h0m-4.5 0.5h0m5 3.5h0m0.5 2.5h0m-6.5 0.5h0m3 3.5h0m-3.5 3h0m4.5 2h0m-0.5 0.5h0m-1 1.5h0m7-122.5h0m-2.5 3.5h0m7.5 0h0m-3.5 2.5h0m1 2.5h0m-4 8h0m4.5 1.5h0m0.5 78.5h0m0.5 0.5h0m1 0.5h0m-3.5 2.5h0m0 0h0m-3 0.5h0m1.5 0h0m3 1h0m-2.5 1.5h0m4 0h0m-5.5 3h0m13.5-112.5h0m-5.5 3.5h0m6 7.5h0m-1.5 4h0m-6 0h0m4.5 0.5h0m-1 0.5h0m0 0.5h0m-4 6h0m5.5 4h0m-0.5 67.5h0m-1.5 4.5h0m0.5 4h0m3 7.5h0m-5 6h0m10-120h0m3 6h0m-2 16h0m-4 9.5h0m4.5 3.5h0m1 4.5h0m0.5 38h0m-1.5 4h0m0 3.5h0m2.5 1h0m-3.5 2h0m-0.5 0.5h0m-2 1.5h0m5 1h0m-6 9.5h0m0.5 18h0m12-98.5h0m-5.5 1.5h0m6 12.5h0m-5 3h0m5.5 3h0m-6.5 2h0m4 0.5h0m0.5 5.5h0m-0.5 2h0m-2.5 3h0m0 0.5h0m-0.5 10.5h0m-0.5 6h0m2 6.5h0m3 6h0m-4 6.5h0m-0.5 2h0m9-43h0m-1 8.5h0m0 17h0m3.5 4.5h0m2 15h0m2-40h0m0.5 39h0"/>
<path d="M350.5 568h0m-0.5 20.5h0m0 18h0m10-50h0m-8 12h0m2 0.5h0m3.5 0h0m-2 10h0m3 3h0m-4 9h0m4 2.5h0m-3.5 1h0m0.5 11.5h0m-3.5 5.5h0m9-59.5h0m7 5.5h0m-0.5 1.5h0m-5.5 7.5h0m5 4h0m-7 5.5h0m6.5 2.5h0m0 3.5h0m-0.5 2h0m-5 0.5h0m2.5 1h0m2.5 14h0m-1 0h0m-3 0.5h0m1.5 1.5h0m1.5 0.5h0m-4 0.5h0m6 5.5h0m5-65.5h0m2.5 1h0m-1.5 2.5h0m-3.5 3h0m2.5 7h0m0 1h0m2.5 1.5h0m-0.5 2.5h0m-3.5 5h0m-1 1h0m3.5 0h0m-3.5 2.5h0m2 0.5h0m-2.5 12.5h0m2 1.5h0m2.5 3h0m-0.5 9.5h0m-1.5 3h0m2.5 3h0m-2.5 0.5h0m3.5 8.5h0m-4 1h0m6.5-75.5h0m4.5 1.5h0m-1 1h0m3 1.5h0m-1.5 2h0m-6 1.5h0m5.5 0.5h0m-5.5 9h0m0 0.5h0m0 0.5h0m5.5 38h0m-5.5 3.5h0m6.5 6h0m-1 7h0m-2.5 1h0m-1 0.5h0m2.5 4h0m0 11h0m6.5-106.5h0m3 4h0m-5.5 9.5h0m5 8h0m-5 0h0m3 1.5h0m0 0h0m-1 1.5h0m3 47h0m0.5 2h0m-3.5 1h0m-0.5 6.5h0m2.5 1.5h0m2.5 4h0m-7 15h0m8-105h0m2.5 1.5h0m2.5 7.5h0m-2 0.5h0m-1 10.5h0m2 54.5h0m0 2h0m-3 1h0m3 2.5h0m-3.5 2h0m6 2.5h0m6-90.5h0m-4 2h0m4 6h0m2 6.5h0m0 1.5h0m-2 1h0m-1 1.5h0m1.5 1.5h0m-3.5 1.5h0m-1 0.5h0m6.5 50h0m-4.5 7.5h0m0 1.5h0m-1.5 3.5h0m5.5 4h0m-6 6.5h0m2.5 1h0m-2.5 0.5h0m10-88h0m-1 1h0m0 2.5h0m1.5 1.5h0m-1 3h0m-2.5 4h0m1.5 52h0m-1 0h0m5.5 1h0m0 0.5h0m0.5 3h0m-3.5 4h0m8.5-86h0m4 6.5h0m-4 4h0m1 4h0m-3 4.5h0m3.5 5.5h0m-2 0.5h0m3.5 0h0m-3.5 0h0m4 0.5h0m-5 45.5h0m6 0.5h0m-5 1h0m4 2h0m-5 1h0m1.5 2h0m-3.5 0h0m2.5 1.5h0m1 4h0m4 3h0m-5.5 1h0m-0.5 7.5h0m8.5-105.5h0m3 15.5h0m-2.5 3h0m-0.5 2.5h0m5 6h0m-7 3h0m6.5 0.5h0m-4.5 0h0m2.5 53h0m0.5 3.5h0m2 0.5h0m-2.5 3h0m0.5 1.5h0m-4.5 7.5h0m7.5 2.5h0m-2 1.5h0m8-108h0m2 10h0m-1.5 7h0m-2 4.5h0m-3 1.5h0m2 3h0m-1.5 0h0m1 0h0m2 2.5h0m1 0.5h0m-6 1.5h0m0 2h0m1.5 0.5h0m6 77h0m-3 6h0m1.5 6.5h0m10-114h0m-0.5 1.5h0m-0.5 1.5h0m0 0.5h0m-3.5 1.5h0m1.5 1.5h0m1.5 0h0m-1 3h0m-4 1h0m2 1.5h0m-2.5 76.5h0m1.5 0h0m1.5 1h0m-1.5 0.5h0m5 5h0m-6.5 0.5h0m-0.5 1.5h0m2 8h0m11.5-124h0m1 9h0m0 3h0m-0.5 4h0m-5 3h0m6 1h0m-6.5 0.5h0m0.5 1.5h0m0.5 1h0m1.5 1h0m-1.5 0.5h0m5.5 81h0m-2 2.5h0m-5.5 1h0m3 1.5h0m-2 0h0m3.5 1h0m0.5 1h0m-4 2.5h0m7 0h0m-6 1h0m2.5 5h0m-1.5 4h0m1.5 3h0m4.5-139.5h0m2.5 18.5h0m0.5 2h0m-3 2h0m-0.5 4.5h0m3 86.5h0m-1.5 4h0m0.5 0.5h0m-1.5 2.5h0m6.5 1.5h0m-4 0.5h0m3 5h0m8-113.5h0m-2 4h0m-4 3.5h0m0 4h0m1.5 0h0m2.5 1.5h0m-4 0.5h0m7 71h0m0.5 3h0m-3 3.5h0m-1.5 0.5h0m-1.5 1h0m-1.5 1h0m4.5 1h0m1 0.5h0m-4.5 2h0m-1.5 5.5h0m2.5 0.5h0m0 1.5h0m4 0.5h0m-1 2h0m8-102h0m0.5 5h0m-4 2h0m1.5 12.5h0m1 0.5h0m1 0.5h0m0 1.5h0m1.5 1h0m-0.5 1.5h0m0.5 0.5h0m1 29h0m-0.5 7h0m-1.5 4h0m-1.5 1.5h0m0.5 2.5h0m1.5 2h0m-2.5 2h0m-3 1.5h0m1.5 3h0m0.5 0h0m-1.5 0.5h0m3 0.5h0m-1 1h0m-3 2h0m5.5 3h0m-5 6h0m10.5-99h0m-3 4.5h0m1 5.5h0m3.5 2h0m1 7.5h0m-5 13h0m1.5 0.5h0m-2 0.5h0m0 1h0m0.5 2h0m2 1h0m-0.5 2.5h0m4.5 5.5h0m-5.5 3h0m0.5 2h0m5.5 1.5h0m-3.5 0h0m0.5 3.5h0m-0.5 1.5h0m-2 1h0m3.5 2h0m-1 2h0m0 7.5h0m3 1h0m-4.5 1.5h0m-1 2.5h0m2.5 0.5h0m0 1h0m0 4h0m0.5 7.5h0m6-65.5h0m-2.5 14.5h0m0.5 6.5h0m0.5 17.5h0m-1.5 19h0m11.5-35h0"/>
<path d="M343.5 579h0m4-2.5h0m-0.5 4.5h0m2 25h0m4.5-58h0m2.5 14.5h0m0 4.5h0m3.5 3h0m0 1.5h0m0 7h0m-1.5 1.5h0m-2 1.5h0m-1 11.5h0m12-36.5h0m-5 2h0m1 2h0m1.5 0.5h0m3 3h0m-5.5 0.5h0m2.5 2.5h0m1.5 0h0m0.5 4.5h0m1 0.5h0m-3 7h0m3.5 2h0m-4.5 4h0m2.5 13h0m4.5-74.5h0m1.5 16.5h0m1.5 3h0m-1.5 4.5h0m0 0.5h0m-1.5 1.5h0m0 3.5h0m-1.5 1h0m6.5 2h0m-2 1h0m1 2.5h0m-6 0h0m-0.5 0.5h0m3.5 1.5h0m0 2h0m1 2.5h0m-0.5 5.5h0m0.5 0.5h0m0 0h0m-0.5 9h0m-3 1h0m-0.5 0h0m4 1h0m-2 2.5h0m2 1h0m-4.5 1h0m5 8.5h0m-3.5 1h0m1.5 7h0m1 10h0m12-84h0m-6.5 3h0m-1 9.5h0m2 3h0m2 2.5h0m0 3.5h0m-3.5 1h0m-0.5 35.5h0m2.5 1h0m-2 1h0m7 1.5h0m-4 0.5h0m2 0.5h0m-5.5 1.5h0m4.5 0h0m-2 2.5h0m1.5 16h0m6.5-81h0m-0.5 0h0m1 2.5h0m-1.5 3h0m0 0.5h0m5.5 1h0m-7.5 0.5h0m1 1h0m5.5 0.5h0m-2 1h0m0.5 50h0m-2.5 0.5h0m3 1h0m-2.5 0h0m3 1.5h0m-2 0.5h0m-0.5 5.5h0m-1.5 2h0m4 0.5h0m-5.5 1h0m7 0.5h0m-4.5 10h0m2 4h0m8.5-94h0m-5 4h0m5 1h0m0 1h0m1.5 3h0m-7 3h0m0.5 1.5h0m5.5 52h0m-2.5 0.5h0m0 0h0m-1 1.5h0m-1.5 0.5h0m1.5 6h0m1 3h0m1 5.5h0m10-92.5h0m-4 0.5h0m0.5 6h0m-2.5 3.5h0m1.5 0h0m0 1h0m0 2h0m1 58.5h0m3 1h0m1.5 1h0m-3 2.5h0m2.5 0h0m-4.5 1.5h0m-1 1.5h0m5.5 1.5h0m-6 4h0m6 1.5h0m8-103h0m0 21h0m0 4.5h0m-3.5 0.5h0m3.5 0.5h0m-4.5 2.5h0m-1 0h0m2 2.5h0m2.5 50h0m-1.5 0.5h0m-2 3h0m3.5 1h0m-4 0.5h0m2 2.5h0m2.5 0h0m-2.5 6h0m-1.5 11h0m7.5-95h0m-0.5 3.5h0m-0.5 0h0m5.5 7h0m-6 10.5h0m2 47h0m1.5 11h0m-3 1.5h0m4 18.5h0m6.5-101.5h0m1.5 2h0m-2 2h0m0 4h0m4 0.5h0m0.5 2h0m-7 2h0m4.5 0h0m-2 0.5h0m1 0.5h0m3.5 1h0m-3 1h0m0 5h0m-0.5 2h0m-2 2h0m0 1h0m-1.5 0.5h0m1 0.5h0m3.5 45h0m-4 0h0m0 0h0m0 0.5h0m7 3h0m-4.5 2h0m3 1h0m-4 1.5h0m5.5 6.5h0m-4.5 4h0m1.5 1.5h0m0.5 2h0m1.5 12.5h0m-3 6h0m6-108h0m1 1h0m3.5 2.5h0m-0.5 3.5h0m-0.5 0h0m-1.5 2.5h0m-3 65.5h0m4.5 4h0m-5.5 0.5h0m5 1h0m-0.5 1.5h0m1 3.5h0m-1.5 4.5h0m-3 2.5h0m12-101h0m2.5 1.5h0m-1 3h0m-3 1.5h0m2.5 1h0m-6 77h0m5.5 2h0m-0.5 0h0m2.5 0.5h0m-3.5 7.5h0m-3 0.5h0m1 7h0m-0.5 2.5h0m12.5-132.5h0m1.5 15.5h0m-5 5h0m4.5 3.5h0m-0.5 87h0m-1 0.5h0m-2.5 0.5h0m-2 1h0m1 0h0m5.5 1.5h0m-0.5 0.5h0m-0.5 2.5h0m-2 0h0m0 2h0m-3 2.5h0m7.5-117.5h0m3.5 7h0m2.5 3h0m-1.5 0.5h0m-4.5 3.5h0m-0.5 0.5h0m0.5 1.5h0m3 2h0m2 1.5h0m-0.5 80.5h0m-2 2h0m2 5.5h0m-2 1h0m3.5 0.5h0m-4 9.5h0m-2.5 2h0m10.5-120h0m-1 4h0m-2 6.5h0m2.5 1h0m-1 0.5h0m6 3.5h0m0.5 1h0m-5 4h0m0.5 1.5h0m3.5 1.5h0m-4 70h0m0 1.5h0m0 1h0m3.5 1.5h0m-5.5 0.5h0m5 0h0m-2 0.5h0m-2 0.5h0m1 0h0m1.5 2.5h0m10.5-100.5h0m-5.5 11.5h0m2.5 3h0m2 0.5h0m-1 0.5h0m-4 0.5h0m6.5 0.5h0m-5.5 1h0m4.5 4.5h0m-6 0.5h0m1.5 0.5h0m5.5 2h0m-1.5 3.5h0m1 37.5h0m0.5 3.5h0m0 6.5h0m-1 5.5h0m-4.5 3h0m-0.5 2h0m-0.5 2h0m6 0h0m-6 5h0m0 2h0m2.5 7h0m1 2.5h0m6-107h0m2 21.5h0m-1.5 9.5h0m2.5 1h0m0 7.5h0m-4 0.5h0m0 0.5h0m4.5 1h0m-3.5 0.5h0m3.5 0.5h0m-4.5 1h0m0.5 3h0m1.5 5h0m-2.5 1h0m4.5 1.5h0m2 0.5h0m-3.5 2.5h0m3 1h0m-5.5 2h0m3.5 8h0m0 8.5h0m-0.5 2h0m1.5 1h0m6.5-54h0m-2 9h0m-1.5 2h0m0.5 1.5h0m2 9.5h0m-1 24.5h0"/>
<path d="M349 567h0m3 17h0m-1 27h0m3-65.5h0m5 5.5h0m0 40h0m-2 0.5h0m-2.5 5h0m12-56h0m-0.5 5h0m-1 8.5h0m-2 2h0m0 3.5h0m3.5 14h0m-5.5 1.5h0m5 1h0m1 0.5h0m-6 1.5h0m4 1h0m1.5 1h0m-1.5 8h0m2 12.5h0m-0.5 3.5h0m-1.5 5.5h0m0.5 10h0m7-88h0m-0.5 11h0m0.5 1.5h0m0.5 0h0m-1.5 4.5h0m2 0h0m-2 6h0m1.5 0h0m0.5 0h0m-2.5 3h0m4.5 2.5h0m-2.5 2.5h0m-4 1h0m4 9.5h0m-0.5 2.5h0m-4 2.5h0m6.5 9h0m-7 1.5h0m0 6.5h0m6 2h0m-3 0h0m-2.5 1h0m4 9.5h0m3.5 2h0m2-76h0m3 0.5h0m0 3h0m-2 2h0m3 3.5h0m-2.5 0.5h0m3 0h0m0.5 1.5h0m-5.5 3h0m4 1h0m-2 0.5h0m-2 2.5h0m2.5 0.5h0m-4 0.5h0m1 0h0m0.5 1h0m1.5 0h0m-2 2.5h0m-0.5 2h0m0 0h0m4.5 39h0m-3.5 2h0m1 7.5h0m0 3h0m13-89.5h0m-1.5 8h0m1 3h0m-1 0h0m-3 0.5h0m-1.5 6h0m3 2h0m-1 0h0m2 1h0m-1 51h0m-4 0.5h0m2 0.5h0m-1 1.5h0m2.5 2.5h0m3 1h0m1 0.5h0m-7.5 0h0m13-86h0m-5 5h0m5 5h0m-2.5 6h0m0 2.5h0m4.5 0.5h0m-1.5 0.5h0m2 2h0m-4 2h0m0.5 55.5h0m2.5 2h0m-3 1.5h0m-3.5 1.5h0m2 13.5h0m1.5 1h0m5.5-104.5h0m3 2.5h0m1.5 9h0m-2.5 3h0m-1 0.5h0m4.5 0h0m-2 7.5h0m2 58h0m-5 3.5h0m3.5 0.5h0m2 3.5h0m-4 13h0m2 4.5h0m-2.5 1.5h0m5.5-100h0m7.5 9h0m-6 1.5h0m1 2h0m-2 4h0m1 0.5h0m5.5 46.5h0m-5 4.5h0m-1 0h0m1 1.5h0m5.5 2.5h0m-8 4.5h0m4 3h0m0 0.5h0m-1 1.5h0m-1 1.5h0m5 1.5h0m1.5-93.5h0m0 4.5h0m3.5 0.5h0m1.5 6h0m-1.5 2h0m-0.5 6h0m2 5.5h0m-4.5 1h0m6 0h0m-0.5 2h0m0.5 44h0m-5 1h0m2 3h0m-2 0h0m1 1.5h0m4.5 0.5h0m-3.5 0.5h0m0.5 8h0m-0.5 0h0m-1 0.5h0m0 8h0m5 1h0m7-88.5h0m-5.5 0.5h0m5.5 0h0m0 2.5h0m-2.5 1.5h0m2 1h0m-5.5 1.5h0m6 4.5h0m-4.5 2.5h0m2 2h0m-2.5 5h0m0 0.5h0m2 47.5h0m1.5 4.5h0m-4.5 0.5h0m3.5 1.5h0m-2.5 0.5h0m3 0h0m-3.5 0.5h0m6 1h0m-3.5 0.5h0m0.5 0.5h0m3 0.5h0m-7.5 3.5h0m6 5.5h0m-2 5.5h0m11.5-106h0m-4 1.5h0m2 8h0m-1 2.5h0m-4.5 1.5h0m7 0.5h0m-6 7h0m2.5 0.5h0m0.5 0h0m-2 1.5h0m-1.5 0.5h0m0 60h0m0 6h0m3.5 0h0m0 1.5h0m1 3.5h0m-4.5 0.5h0m4.5 1h0m-0.5 0.5h0m0.5 0h0m2.5 4h0m1.5-105.5h0m2 1.5h0m2.5 7h0m0.5 5.5h0m0.5 79.5h0m-3 7.5h0m0 0.5h0m2.5 0h0m-1.5 2h0m1.5 1h0m-0.5 1h0m10.5-110.5h0m-7.5 1h0m6.5 0.5h0m-3 0.5h0m3.5 0.5h0m-2 4h0m1.5 4.5h0m-2.5 0h0m2.5 0.5h0m-3.5 0h0m1 2h0m-1 84h0m4 10.5h0m-1.5 5h0m-1.5 10h0m8.5-131.5h0m1 3h0m-4 2h0m3.5 0.5h0m0.5 4.5h0m-1.5 1h0m3.5 2.5h0m-7 3.5h0m1 0.5h0m3.5 0h0m-1 82.5h0m1 0h0m-0.5 2.5h0m-3.5 4.5h0m7-104h0m1.5 8.5h0m4.5 1h0m-1 3h0m-3 1.5h0m0 2.5h0m1 0.5h0m4.5 65h0m-0.5 1h0m0 1h0m-1 2h0m-4 4h0m3 0h0m-3.5 2h0m1.5 2h0m-2.5 4h0m1.5 8.5h0m4.5 2.5h0m0.5 13.5h0m8.5-109h0m-5.5 0.5h0m3.5 0h0m1 1.5h0m-1 2h0m1 2h0m-0.5 0h0m-3.5 3.5h0m4.5 1.5h0m-1 0.5h0m-0.5 2h0m1 34.5h0m-0.5 7h0m-2.5 1.5h0m2 3h0m-0.5 1h0m-0.5 1h0m-2 0.5h0m-0.5 0.5h0m-1 0.5h0m3.5 0h0m0.5 1h0m-1.5 1h0m-0.5 0.5h0m-2.5 0.5h0m5.5 2.5h0m-5 4h0m-1 1.5h0m1 0.5h0m1 4h0m1 1h0m-2 3.5h0m6.5-86h0m2.5 6h0m4.5 2.5h0m-5.5 1h0m6 5h0m-5.5 7.5h0m3.5 1.5h0m1 8.5h0m-5 1h0m5 3.5h0m-5.5 1h0m1.5 0h0m3.5 2.5h0m-6 7.5h0m8 0.5h0m-4.5 3.5h0m1 0.5h0m-3.5 3h0m7.5-77h0m1.5 32.5h0m4 5h0m-5.5 26h0m10-1.5h0"/>
<path d="M343.5 632.5h0m14-75h0m-1 1h0m-3 1h0m5.5 10.5h0m-3 4.5h0m-0.5 3.5h0m2.5 1.5h0m1 15.5h0m-1 5h0m1 10h0m-4 11.5h0m12.5-68h0m-3 2h0m-1.5 2h0m-0.5 0.5h0m5 2.5h0m-2.5 3.5h0m-3 2.5h0m5 1h0m-2 0h0m-3 0.5h0m3 3.5h0m1.5 0.5h0m0.5 1h0m-2.5 4.5h0m-3 2.5h0m-0.5 5h0m7 3h0m-6.5 4.5h0m5 10h0m1.5 4.5h0m-1.5 4h0m-1 0h0m-3.5 1.5h0m5 3h0m6.5-81.5h0m0.5 1.5h0m0 15.5h0m1.5 1h0m-5 1.5h0m1 2h0m4 0h0m-1.5 3h0m-0.5 1.5h0m-0.5 1.5h0m-2 8h0m1.5 3.5h0m-3.5 2h0m2 1h0m-1.5 1.5h0m3 2h0m-0.5 1.5h0m-2 2.5h0m2 4h0m0.5 2h0m-1 0h0m-1 0.5h0m1.5 0h0m3 0.5h0m-6.5 0.5h0m0 2.5h0m3 0h0m3 3h0m-0.5 1.5h0m-4.5 0.5h0m0.5 4h0m-1.5 5h0m14-72.5h0m-1.5 2h0m-4 4h0m6 2h0m-3.5 3h0m-1.5 2.5h0m0 0h0m3 0.5h0m-1.5 1.5h0m-0.5 1h0m0 37.5h0m3 2h0m0 1.5h0m-0.5 3h0m-1.5 2.5h0m-3.5 1.5h0m4 2.5h0m2.5 3h0m-5.5 14h0m8-103h0m3 5.5h0m3.5 7h0m-3.5 1.5h0m1 2h0m1.5 2.5h0m-0.5 0.5h0m0 1h0m-3.5 0.5h0m1 3h0m1.5 1.5h0m-2.5 2h0m-2.5 2h0m7 46h0m-4 1.5h0m0.5 0h0m-3.5 0h0m6.5 2h0m-1.5 3.5h0m2 1h0m-4 6h0m3 0.5h0m-0.5 0.5h0m-4 17.5h0m10.5-98.5h0m-3.5 0h0m-0.5 12.5h0m7.5 52h0m-3 5h0m-2 1h0m2.5 0.5h0m-1 6h0m2.5 2h0m0 11h0m4.5-103h0m1.5 72.5h0m0.5 2h0m0 1.5h0m-5.5 1h0m3.5 0h0m-3 1.5h0m0 0.5h0m4 2h0m3 0h0m-7.5 1h0m6 0.5h0m-3.5 1.5h0m1 2.5h0m4.5 1h0m-3.5 9.5h0m6-98.5h0m1.5 3h0m0.5 1.5h0m3 3h0m-6.5 4.5h0m5 55.5h0m-2 2h0m-1.5 0.5h0m4 0.5h0m-4 0.5h0m-0.5 1h0m5 5h0m-2.5 6h0m2 2.5h0m-4 2h0m-0.5 25.5h0m11-115.5h0m-4 2.5h0m6.5 3.5h0m-2 4.5h0m0 1h0m-3 0h0m2.5 8.5h0m-4 1h0m2 1.5h0m4.5 1.5h0m-4.5 44.5h0m1 2h0m0 0.5h0m1 3h0m-2 4h0m0.5 3.5h0m2.5 2h0m5-75.5h0m4.5 4h0m-4 0.5h0m-0.5 3h0m0.5 0.5h0m0 0.5h0m3 1h0m-3 3h0m-0.5 48.5h0m-1.5 1.5h0m6.5 7h0m-3 0h0m1.5 3.5h0m0.5 5h0m3.5-90h0m0 3h0m0.5 8h0m2 1.5h0m0 2h0m-1 1.5h0m-0.5 0.5h0m-2.5 1.5h0m-0.5 0h0m2 0h0m0 61.5h0m1 1h0m3 1h0m0 0.5h0m0.5 0h0m-7 0h0m8 1.5h0m-6 2.5h0m1 2.5h0m-2.5 1h0m4.5 2h0m-0.5 27h0m10-127h0m0 4.5h0m-6 1h0m1.5 3.5h0m4 0.5h0m1.5 0h0m-3.5 3h0m-1.5 3.5h0m4 75.5h0m-0.5 1h0m-0.5 5h0m1 1h0m-0.5 1h0m-6 3h0m4 1h0m4 0h0m-7.5 16h0m3.5 0.5h0m4.5-128.5h0m3 9h0m1 0.5h0m-0.5 2h0m-2.5 4.5h0m2 0.5h0m-2 0.5h0m-1 0.5h0m0.5 1h0m7 83.5h0m-5.5 1h0m3.5 0h0m-2.5 0.5h0m-1.5 1.5h0m0.5 1h0m4 0.5h0m-4 2h0m5 7h0m6.5-115.5h0m-3.5 4h0m-2.5 5.5h0m7.5 79h0m-2.5 2.5h0m-1.5 3.5h0m3.5 0h0m-2.5 0h0m0.5 0.5h0m1 13.5h0m-3 9h0m-1.5 4.5h0m12-134h0m2.5 6.5h0m-2 8.5h0m-3 0.5h0m3.5 1h0m-1.5 0h0m-2 3.5h0m-2.5 3h0m4.5 1.5h0m1 2h0m0.5 65.5h0m0.5 0h0m-3 11h0m-2.5 2.5h0m4.5 1h0m-5 8h0m14.5-122h0m-6.5 16.5h0m3 4.5h0m1 5h0m2 1h0m-3 2h0m1.5 2h0m-3 1.5h0m5.5 3.5h0m-4.5 1h0m4 40h0m-1 6.5h0m-2 2h0m-1 0.5h0m-0.5 1h0m0.5 2h0m-0.5 3.5h0m-1.5 0h0m8.5-77h0m-1 9h0m1.5 6h0m-1 0.5h0m3.5 1.5h0m-5 4h0m5.5 10.5h0m1 1h0m-5.5 0h0m1.5 0.5h0m-2.5 0.5h0m2 0h0m3.5 3.5h0m1.5 3h0m-4 2h0m3.5 2h0m0 3h0m-5.5 0h0m0 0h0m1 1h0m2 0h0m-1 7.5h0m-1 4.5h0m4.5 2.5h0m-1.5 0.5h0m-0.5 1.5h0m-4 1h0m6.5 5.5h0m5-37h0m0 5h0m-2.5 15.5h0"/>
<path d="M342.5 612.5h0m3-67h0m0.5 34h0m9-38h0m4.5 20.5h0m-6 16h0m-1 1h0m6 30.5h0m-5.5 1h0m13-63.5h0m2 1.5h0m-1 4.5h0m-0.5 1h0m-5 14.5h0m0 0.5h0m1.5 0h0m4 1.5h0m-1.5 0.5h0m-0.5 9.5h0m-2 1h0m0.5 1h0m-2.5 0h0m5.5 0h0m-3 0h0m1.5 0h0m-2 2.5h0m2 1.5h0m-2.5 0.5h0m3 11h0m1.5 3.5h0m-6 10h0m14-67.5h0m0.5 0.5h0m-1.5 8h0m-5.5 3h0m4.5 4h0m-5 0h0m6.5 0h0m-2 0.5h0m0 1.5h0m0.5 2h0m-1 0h0m1 1h0m-3 2.5h0m1 6.5h0m0.5 1h0m-2.5 2h0m1 2.5h0m3 0.5h0m-2.5 2.5h0m5 5h0m-5.5 3h0m4 2.5h0m1.5 0.5h0m-3.5 3.5h0m-3.5 0h0m5.5 2h0m1 3.5h0m-3.5 2.5h0m4 1h0m-7 1h0m2 3.5h0m12-74h0m-2 5.5h0m0 3h0m2 0.5h0m-6 7h0m0.5 1.5h0m-0.5 4h0m3.5 32h0m2 3h0m0 13h0m-3 2h0m-1.5 1.5h0m1 1.5h0m11-90.5h0m1.5 1.5h0m-6 7.5h0m5 2.5h0m-2 0.5h0m-2 2h0m0.5 1h0m3.5 1h0m-6 3.5h0m2 1h0m3.5 1h0m-5 1.5h0m0.5 0.5h0m0 48h0m5 1h0m-6 4.5h0m1 5h0m-1 0h0m1 6.5h0m0.5 0.5h0m12.5-92.5h0m-2 9h0m-2.5 1h0m2 2h0m2.5 3h0m0.5 0.5h0m-2 3h0m-4 1.5h0m6 51.5h0m-1.5 2h0m-1 3.5h0m1 3.5h0m-4.5 7h0m1.5 3.5h0m5 0.5h0m0 6.5h0m7.5-103.5h0m-2.5 12.5h0m-2 0h0m0 2h0m1 1.5h0m1 0h0m-2 0h0m-0.5 3.5h0m0.5 1h0m-0.5 0h0m2.5 53.5h0m2.5 1.5h0m-5 1.5h0m-0.5 3.5h0m1.5 1h0m2 1h0m-2.5 3.5h0m-2 0h0m4 1.5h0m-1.5 4.5h0m-1 11h0m9.5-104h0m2.5 4h0m-3.5 2h0m5.5 6.5h0m-7 5.5h0m4 1h0m1 49.5h0m-3.5 4.5h0m2.5 1h0m1 2h0m-2 3h0m2.5 0.5h0m-5.5 4.5h0m13.5-87.5h0m-5 11.5h0m6.5 1h0m0 0.5h0m-3.5 3.5h0m-1 0.5h0m3 5h0m-2 1.5h0m-2.5 45.5h0m4 6.5h0m0 7h0m0.5 2h0m7-83.5h0m1 6h0m-5.5 5.5h0m2 6h0m2 3h0m-1.5 3h0m-0.5 0.5h0m-0.5 46.5h0m6 5h0m-5.5 3.5h0m1.5 1.5h0m3 0.5h0m0 3.5h0m-5 1h0m-1 5h0m0 4h0m3.5 1.5h0m11.5-100h0m-5 6.5h0m3 2h0m-0.5 0.5h0m-2.5 1.5h0m-2.5 2.5h0m0.5 2.5h0m3 0h0m-0.5 1.5h0m1 0.5h0m1 64h0m2.5 1h0m-3.5 1.5h0m-1 0h0m-3 2.5h0m0.5 3.5h0m7 0.5h0m-7.5 2h0m0.5 0h0m6.5 13h0m-5 10.5h0m12.5-136h0m-2 14h0m-1.5 1.5h0m-1 0h0m4 2h0m-0.5 1h0m-4 2.5h0m0 1.5h0m3 0.5h0m-4 4h0m4.5 77.5h0m-1 3.5h0m-1.5 2.5h0m1.5 0.5h0m-3 6h0m14-126.5h0m-2.5 16.5h0m2 4.5h0m-1.5 90.5h0m-3 0.5h0m-2.5 0h0m1 0h0m5.5 3.5h0m-5.5 2h0m5 1h0m-1 2h0m0 2h0m-3 11.5h0m8-123h0m-1 1h0m4.5 7h0m-5.5 1.5h0m5 1.5h0m1 2h0m-2.5 1.5h0m2 78.5h0m0.5 0.5h0m1.5 1h0m-3 1.5h0m-2.5 0h0m-0.5 1h0m0.5 0h0m5.5 3.5h0m-1 0.5h0m0.5 1h0m-3 0h0m2 5h0m-4 3h0m10.5-128h0m-4.5 17h0m4 1h0m-3.5 4h0m5 0h0m-0.5 0.5h0m-1 1h0m3 2.5h0m0 0h0m0.5 5.5h0m0 69.5h0m-1.5 2.5h0m-3 1h0m0 0.5h0m-0.5 4.5h0m-2 1h0m7 6.5h0m-6 0.5h0m1 0h0m12.5-109h0m-2 0.5h0m-1 10.5h0m0 2h0m0 3.5h0m0 11.5h0m3.5 0.5h0m0 1h0m-5 0h0m2.5 0h0m-1.5 0.5h0m2 44h0m1.5 1h0m-1 4h0m-1 1h0m-2 2.5h0m-1 1h0m-1 0h0m2.5 1.5h0m0.5 1.5h0m0.5 1h0m-2 0.5h0m-1.5 16h0m12-81h0m-1 2.5h0m-3.5 4h0m5.5 1h0m1 2.5h0m-5.5 3.5h0m-0.5 1h0m1 1h0m0 1.5h0m5.5 0h0m-2.5 1h0m-3.5 1h0m1.5 1h0m3 10h0m-4 2.5h0m2.5 0.5h0m-2 2h0m-1.5 3h0m1.5 0.5h0m4.5 4.5h0m-6 2h0m6 2h0m-5.5 2h0m0 0h0m2 6.5h0m9-63h0m-2 5.5h0m-1 17.5h0m3.5 9.5h0m-4.5 6.5h0m5.5 1.5h0m-5 20.5h0m13-66h0m0 13.5h0"/>
<path d="M338.5 576.5h0m16-12.5h0m4 1h0m1 3.5h0m-3 4.5h0m2 2.5h0m-4 1.5h0m3 0.5h0m2 0.5h0m-1 2h0m6.5-37.5h0m2 5h0m0.5 8.5h0m-6 5.5h0m-0.5 3h0m1 2h0m3 2.5h0m-4 0h0m0 3.5h0m2 4.5h0m0.5 2.5h0m-3.5 2h0m6 5h0m-1.5 5h0m-0.5 4.5h0m-1 6h0m-1 1.5h0m0.5 4h0m6-73.5h0m3.5 15.5h0m1.5 0h0m-2.5 5h0m2.5 6h0m-5 1h0m1 0.5h0m3 1h0m-0.5 2h0m-3 0.5h0m0 0.5h0m1 2h0m2 1.5h0m0 1.5h0m-0.5 5.5h0m-0.5 13h0m-2.5 0.5h0m1.5 3.5h0m2 0.5h0m4 0h0m-7.5 1h0m4.5 1.5h0m-4.5 6h0m3.5 0.5h0m1.5 5.5h0m6.5-99.5h0m-3.5 24h0m2.5 3h0m4.5 5h0m-4.5 1h0m2 1.5h0m2.5 0.5h0m-5 3h0m-1 2h0m1 0.5h0m2 1h0m-4 39.5h0m5 1h0m1.5 1h0m-5.5 7h0m4.5 0h0m-3.5 2h0m6.5-82h0m6 1h0m0.5 7h0m-3.5 3.5h0m-0.5 1h0m3 0.5h0m-5.5 5.5h0m4 2h0m-0.5 0.5h0m-1.5 0h0m-2 1.5h0m2.5 0.5h0m-3.5 0.5h0m1.5 0h0m0.5 2h0m1 51.5h0m0 1h0m2.5 0.5h0m2.5 2.5h0m0 1.5h0m-2 0h0m-4 3.5h0m4 6h0m-2 3.5h0m8.5-101h0m3 13h0m-3 2h0m-4 7h0m5.5 53h0m-1.5 1.5h0m-3 2h0m4 1.5h0m-5.5 0h0m3 4h0m-0.5 7h0m1 0h0m-3 6h0m3 1h0m12.5-90.5h0m-3.5 64.5h0m-1.5 0.5h0m3.5 1h0m-5 0h0m6.5 2h0m-5.5 2h0m3 1.5h0m-2 1h0m0.5 1h0m-1 1h0m0.5 4h0m1 1.5h0m-2.5 13.5h0m6.5-107h0m0 3h0m3 1h0m2 2h0m0.5 7.5h0m-3 2.5h0m1.5 5h0m0.5 50.5h0m-2 2h0m-1.5 5h0m-1 1.5h0m0 19h0m11-89h0m1.5 2h0m1 3h0m0.5 9h0m1 43h0m-2 1.5h0m0.5 3.5h0m-1.5 2h0m1.5 0.5h0m1 4.5h0m-2 0.5h0m1.5 13.5h0m-2 3.5h0m10.5-90.5h0m-6.5 0.5h0m4.5 4h0m-5 1h0m0.5 2.5h0m4.5 2.5h0m2.5 0.5h0m-3.5 0.5h0m1.5 2.5h0m-1.5 0.5h0m-1.5 2.5h0m-1 0.5h0m-1 1.5h0m1.5 42.5h0m-1 1.5h0m4 1.5h0m0.5 0.5h0m1 1.5h0m0 0.5h0m-1.5 0h0m-4 0.5h0m0 10.5h0m1 1.5h0m5 1.5h0m-3 7h0m-1 1.5h0m1 30.5h0m11.5-134.5h0m-5 7h0m3 1h0m-5 7h0m6 0.5h0m0 2.5h0m-3 0.5h0m-1 3h0m0.5 0.5h0m0 62.5h0m4 2h0m-5.5 0h0m1 1.5h0m5.5 0.5h0m-8 0.5h0m1.5 1h0m0.5 2.5h0m3.5 0.5h0m-1 1h0m0 4.5h0m-2.5 7h0m3 17h0m9.5-121.5h0m1 0.5h0m0.5 0.5h0m0 1.5h0m-6 1.5h0m4.5 1h0m-6.5 1.5h0m1 2h0m0.5 1h0m6.5 81h0m-5 0h0m2.5 1.5h0m2.5 1h0m-6 0.5h0m2.5 3h0m0.5 2.5h0m0.5 2h0m-2 5h0m-1 7h0m7-129.5h0m2.5 8.5h0m-4 4.5h0m6 1h0m0.5 3h0m-4 3h0m1 0.5h0m4 80.5h0m-4 2h0m1 2h0m0 0h0m1.5 2.5h0m-0.5 0h0m-0.5 1h0m-1.5 0.5h0m0 10h0m-2 4h0m7.5-126.5h0m2.5 11.5h0m-1.5 4h0m3.5 3h0m-2.5 0h0m4 77.5h0m-1 1h0m-1 2h0m-1 0.5h0m0.5 0.5h0m-1 0h0m-3 3h0m4 3.5h0m-3 0h0m-1 2h0m0 2.5h0m2 12h0m7-127h0m0 6h0m0.5 12h0m1.5 1.5h0m1 4.5h0m2 0.5h0m1.5 63.5h0m-3 7h0m-2.5 2h0m5 1h0m-6.5 0h0m4 1.5h0m-3 3h0m1.5 0h0m-1.5 0.5h0m-1 0h0m6 15h0m6.5-103.5h0m-2.5 1h0m1.5 2.5h0m0 0.5h0m0.5 1h0m0.5 0.5h0m-4 1h0m-0.5 4.5h0m0 0h0m-1 0.5h0m8 3h0m-3 2.5h0m2.5 0.5h0m-2 2.5h0m0 40h0m2 7h0m-3 0.5h0m-2.5 1.5h0m1 1.5h0m-0.5 6.5h0m1.5 3h0m-1 30.5h0m5.5-93.5h0m1 2.5h0m2 0h0m-1.5 0.5h0m0 1.5h0m3.5 2h0m-2 0h0m-1.5 1h0m-1.5 4h0m6 3h0m-3.5 3h0m2 0h0m-4 2h0m1 8.5h0m1 0.5h0m1.5 3.5h0m-3 0h0m4.5 0h0m-3.5 3.5h0m2 2h0m-4 5h0m0 0.5h0m0.5 4.5h0m2.5 0.5h0m8.5-53.5h0m-3 5.5h0m2 4h0m-2 8h0m0 4h0m-0.5 8h0m8-13h0"/>
<path d="M344.5 585h0m5.5 2h0m-2 28.5h0m8-45.5h0m-2.5 0.5h0m4.5 16h0m0.5 12.5h0m-6 28h0m10-83h0m0.5 21h0m4.5 0.5h0m-4 1h0m2 8.5h0m-5.5 22.5h0m4.5 11.5h0m11-90h0m0.5 14.5h0m-7 12h0m5 6.5h0m1 0.5h0m-4.5 1h0m2.5 1.5h0m-1 0.5h0m0.5 2h0m-3.5 3h0m0.5 0.5h0m0 2.5h0m0 1.5h0m3 1.5h0m-4 2.5h0m1 4h0m1 2.5h0m-0.5 3h0m3 1.5h0m0 2.5h0m0 0h0m-5 6h0m1.5 0.5h0m0 4h0m3 8h0m-2 4.5h0m-2 28h0m7.5 10h0m1-125.5h0m-1 9.5h0m2 2.5h0m-1.5 7h0m2.5 2h0m0 4.5h0m1 1h0m0 0.5h0m-4 1h0m5 0.5h0m1 0.5h0m1 0.5h0m-3 2.5h0m0 0.5h0m-1.5 3h0m0 0h0m-2 0.5h0m1.5 0.5h0m-2 1.5h0m0.5 2h0m2 31.5h0m5.5 2h0m-7.5 7h0m3.5 1h0m-3 1h0m0 0.5h0m5.5 1h0m1.5 6.5h0m5-102.5h0m2 12h0m-0.5 5h0m0 4h0m-3 1h0m1.5 5h0m-0.5 3.5h0m-3 2.5h0m2.5 0h0m0 0.5h0m0.5 0h0m-2.5 5h0m4 51h0m-2.5 2h0m-3.5 13h0m12-89h0m2.5 0.5h0m1 1.5h0m-1.5 3.5h0m-1.5 3h0m0.5 0h0m1.5 3h0m-2.5 0.5h0m-0.5 0h0m-1 2h0m4.5 53h0m-1 0h0m-5 5.5h0m2 8h0m-2.5 9.5h0m7 5.5h0m3-104h0m5 4h0m-0.5 1h0m-2 5h0m3 7h0m-5.5 0.5h0m0.5 1h0m3 53.5h0m-2 3h0m1 3.5h0m-3.5 2h0m2.5 6h0m-4 0h0m15.5-96.5h0m-6 11.5h0m0 0.5h0m-0.5 1h0m5 3.5h0m-2.5 2h0m3.5 7h0m-4 1.5h0m3 47.5h0m-2.5 2h0m3.5 1.5h0m-2.5 4h0m1 0.5h0m-1 0h0m-0.5 1h0m1 0.5h0m-1 0.5h0m9-69h0m-1.5 0.5h0m-2 0h0m-0.5 1.5h0m2 3.5h0m0 51.5h0m-0.5 0h0m5.5 0.5h0m-4.5 10h0m0.5 2.5h0m-2.5 3h0m2 2h0m1.5 7.5h0m6-102.5h0m0 3.5h0m-1.5 4.5h0m2.5 0h0m-2.5 4.5h0m2 1h0m-2 2h0m5.5 1.5h0m-1.5 6h0m-3.5 0h0m-2 0.5h0m5.5 1h0m-3 2.5h0m2.5 0h0m-1 3h0m-1.5 1h0m-0.5 3h0m0 41h0m0.5 4h0m-1.5 0.5h0m4.5 1h0m2.5 1.5h0m-1.5 0.5h0m-2.5 2.5h0m2 0h0m-0.5 4h0m0 6.5h0m-2.5 6h0m4.5 11h0m-0.5 3h0m4.5-123.5h0m1.5 12.5h0m-3.5 0.5h0m6 7h0m-3.5 0.5h0m1.5 1h0m-0.5 1.5h0m-3.5 3h0m5.5 0h0m-5.5 0.5h0m0 71.5h0m1 2.5h0m-1 0h0m5.5 8.5h0m-3 5h0m5.5-113h0m5.5 3.5h0m-6 1.5h0m5 9h0m-0.5 1h0m1 1h0m-3 1h0m0 0h0m-2.5 78.5h0m6.5 1h0m-3 3h0m-4.5 3.5h0m6 7h0m-0.5 2.5h0m-0.5 4.5h0m5-131h0m3.5 6h0m-5 6h0m7 0.5h0m-1.5 5h0m-1 2h0m1.5 1h0m-5 3h0m-0.5 2h0m5.5 81h0m0 0.5h0m-2 1h0m-2.5 1h0m0 7.5h0m-1.5 1h0m0 0.5h0m4 0.5h0m2 6h0m-6 38h0m12-165.5h0m-3.5 11.5h0m2.5 0.5h0m0 6h0m-2 2h0m2 1.5h0m-3.5 2.5h0m3 81.5h0m0.5 1h0m0 3h0m-3 4h0m1.5 0.5h0m2 1.5h0m-3.5 14h0m5 6h0m6.5-126.5h0m-2 1.5h0m2 1h0m-2 4.5h0m2.5 2.5h0m2.5 0.5h0m-5.5 4.5h0m5 72h0m-1.5 0.5h0m3 3h0m-2 0h0m-1 0.5h0m-2 1.5h0m2.5 0.5h0m-2 0.5h0m-2.5 3h0m0 1.5h0m4 3h0m-1.5 6h0m-3 2.5h0m12-110h0m-0.5 0h0m3.5 10h0m-7 1h0m2 1h0m1 3.5h0m4.5 1h0m-4 1h0m3 1h0m-5 0h0m1 1.5h0m0.5 0.5h0m2 6.5h0m0.5 0h0m0.5 37.5h0m1 4h0m-1.5 5h0m-3 0.5h0m0.5 1h0m0 0.5h0m1.5 1h0m-4 2h0m2 2h0m0.5 0.5h0m-3 7.5h0m0 0h0m14.5-80.5h0m-6.5 13.5h0m7 5.5h0m-3 4h0m-1 0.5h0m-3 2h0m5 1h0m-4.5 6h0m2.5 3h0m3.5 1h0m0.5 3h0m-6 1h0m3 3h0m0 0h0m-1 1h0m-3 1.5h0m4.5 0h0m1 0.5h0m-5.5 1h0m4 0h0m-2 0h0m-2 1.5h0m1 11.5h0m1 2h0m1 1.5h0m-3 6h0m11.5-36h0m-2 3h0m0 3h0m0 5.5h0m-0.5 10h0m4.5 3.5h0m0 2.5h0m2.5-32.5h0"/>
<path d="M347 592h0m3 21.5h0m-5 12.5h0m9-66.5h0m1.5 3h0m4 6h0m-5 3h0m-2 5.5h0m3 3.5h0m4.5 3.5h0m-4.5 3h0m2 1h0m-1 9h0m6-59h0m2.5 2.5h0m-2.5 13h0m-1 3.5h0m0 0.5h0m4 2h0m2 2h0m-0.5 1h0m-3 1h0m2.5 5h0m1 0h0m-3 2.5h0m0 1.5h0m-0.5 5h0m2 6.5h0m1 2h0m0.5 0.5h0m-5.5 1.5h0m5 2.5h0m-0.5 0.5h0m0.5 0h0m-4.5 6.5h0m5.5 4h0m-8 6h0m4.5 2h0m0 22h0m7.5-86h0m-2 5h0m-1.5 0h0m2.5 4h0m5 2.5h0m-4.5 2.5h0m2 0.5h0m-0.5 0.5h0m-0.5 0.5h0m-1 3h0m-2.5 2.5h0m3 0.5h0m0.5 1h0m-4.5 2h0m4.5 2h0m-1 9h0m2 3.5h0m1 4.5h0m-5 4h0m5.5 1.5h0m0 0.5h0m-5 1.5h0m1.5 1h0m-3 8h0m9-79h0m6 8h0m-3.5 3.5h0m-3.5 3h0m0 0.5h0m6.5 1.5h0m-1.5 0h0m1 2h0m-2.5 0.5h0m-1 1.5h0m3 0.5h0m-1.5 0h0m-2.5 0.5h0m-1.5 0.5h0m3.5 1.5h0m-2.5 0h0m1 50h0m2 3h0m-3.5 2h0m5.5 5h0m-5.5 1h0m2.5 12h0m7-110.5h0m-1 3h0m6 23h0m-4.5 1.5h0m-1 1h0m2 2h0m1 49.5h0m-3 0h0m1.5 1.5h0m3.5 0h0m-4.5 0h0m2.5 2.5h0m-3 3.5h0m-1 3.5h0m5 22h0m4.5-128.5h0m2 25.5h0m-0.5 3h0m2 7h0m-2 3h0m-4 1.5h0m5 51.5h0m0 4.5h0m0 1.5h0m-2 0.5h0m0 18h0m8-100.5h0m5 12h0m-2.5 2h0m-5.5 1h0m4 1h0m0.5 0.5h0m-1.5 0.5h0m5 53.5h0m-1 2h0m-1.5 3h0m0.5 5.5h0m1.5 5h0m-7 4h0m3 3h0m10-91h0m2.5 1.5h0m-1.5 3h0m0.5 0.5h0m1 1h0m-7.5 6.5h0m0 3h0m3.5 49h0m0 1h0m3 0.5h0m-7 2.5h0m8 1.5h0m-5.5 1.5h0m0.5 1h0m3 2h0m-4 1.5h0m0 4.5h0m3.5 1h0m-4.5 10h0m14-96.5h0m-4 3h0m-2.5 1h0m0 5.5h0m6 1.5h0m1 0.5h0m-2 2h0m1.5 4.5h0m-5 1h0m5 3h0m0.5 0.5h0m-5.5 44.5h0m-0.5 2.5h0m3.5 2.5h0m-2 0.5h0m1 1.5h0m-3.5 0.5h0m7.5 1h0m-7.5 3.5h0m4.5 0h0m-3 7h0m11-77.5h0m0.5 1h0m-1 0.5h0m3 0.5h0m0 0.5h0m-4 0h0m4 1h0m-7 1h0m5 1.5h0m-0.5 0h0m0.5 0.5h0m-1.5 2.5h0m-3 0h0m0 47h0m6 5.5h0m-1 0.5h0m0.5 0.5h0m-4 1.5h0m4.5 0.5h0m-4 0h0m2 13.5h0m1.5 9h0m0 1.5h0m-4.5 2.5h0m12-111h0m-3 10h0m-1 2h0m0.5 1h0m2.5 4.5h0m-0.5 4h0m-2.5 1h0m-1 1.5h0m2.5 62.5h0m-2.5 8h0m5.5 4h0m-2 0.5h0m-3 19.5h0m12.5-122.5h0m-2.5 1.5h0m1.5 13h0m-1 1.5h0m-0.5 0.5h0m-2 76h0m-1 3h0m5.5 2h0m-5.5 4h0m5 2h0m-5 3h0m5.5 11h0m9-133.5h0m-2 16h0m2 0.5h0m-1.5 4.5h0m0.5 0h0m-6 0h0m7 1.5h0m-5.5 2.5h0m0.5 0h0m-1 2h0m5 80.5h0m-4 0h0m3 1h0m1.5 0.5h0m-6.5 5h0m6 0.5h0m-4.5 0.5h0m1.5 0.5h0m2 10.5h0m9.5-123.5h0m-1.5 3.5h0m0 6h0m2.5 1h0m-2.5 0h0m1.5 0.5h0m-1 1.5h0m1.5 3.5h0m-1.5 1h0m-0.5 0h0m-1.5 1h0m2.5 0h0m-2.5 0.5h0m4 77h0m-1.5 2h0m-0.5 3h0m-3 1.5h0m0.5 1.5h0m-1.5 6h0m1 0h0m4.5 0.5h0m-3 13.5h0m4-118h0m3.5 1.5h0m-2.5 3h0m2 1.5h0m2 1.5h0m-4.5 1h0m7.5 4.5h0m-2 2h0m1 0.5h0m0 63.5h0m-0.5 4h0m-4 6.5h0m-1.5 0.5h0m0 2h0m2.5 4h0m-1.5 3.5h0m2 2.5h0m0 3h0m10.5-105h0m1 1h0m-6 3h0m-0.5 0.5h0m3 2.5h0m-1 0.5h0m3.5 6.5h0m-1.5 5h0m-1 2.5h0m3.5 5.5h0m0.5 29h0m-0.5 4h0m-2 7h0m-3.5 7h0m-1 1.5h0m7 8h0m-5 0h0m2.5 15.5h0m3-99.5h0m1.5 16h0m5 0.5h0m-5 0.5h0m-1.5 3.5h0m2.5 2h0m-1.5 1h0m4.5 1h0m1.5 3.5h0m-7 1.5h0m1.5 2.5h0m5.5 0h0m-3 2.5h0m-0.5 8h0m3 0.5h0m-0.5 3.5h0m-3 3h0m-1 0h0m1 0.5h0m1.5 0.5h0m-1 2h0m-4 4.5h0m0.5 1.5h0m0.5 2h0m-0.5 2.5h0m0.5 11.5h0m13-92.5h0m-5 49.5h0"/>
<path d="M342 587.5h0m7-38h0m10 23.5h0m0.5 8h0m0 1h0m0 9.5h0m-1.5 3h0m-2.5 4h0m0.5 7.5h0m3 2h0m3-60.5h0m-2 8.5h0m7.5 1h0m-3.5 1.5h0m1.5 11h0m0.5 0h0m0 2.5h0m0.5 1.5h0m-3.5 4h0m2 2.5h0m-0.5 0.5h0m-4.5 3.5h0m3 1h0m3 5.5h0m1 5.5h0m-4.5 6h0m0.5 0.5h0m2.5 0h0m2.5 0h0m-6 1h0m4 0.5h0m-1.5 4.5h0m0 2h0m-0.5 2.5h0m10-72h0m1 6.5h0m-7 0.5h0m2.5 2h0m3 3h0m-2.5 3.5h0m3 0.5h0m-4.5 1h0m3 6.5h0m-4 0h0m1.5 13.5h0m1.5 1h0m2 3h0m0.5 4h0m-4 5h0m5.5 1h0m-4 2h0m-2.5 0h0m-1 11h0m2 1.5h0m4.5 0.5h0m6.5-86.5h0m2 10h0m-4 2h0m-1.5 4.5h0m2.5 1h0m1.5 2.5h0m-3.5 0h0m-0.5 6h0m-0.5 0.5h0m-1 0.5h0m7.5 0.5h0m-1 1h0m-1.5 2h0m-3 2h0m-1.5 2h0m3 35h0m2.5 6.5h0m0.5 0h0m-3.5 0h0m-2.5 0h0m6.5 4h0m-1 5h0m0 7h0m5-94h0m0.5 1h0m4 10h0m-2.5 4h0m0 2.5h0m-2.5 1h0m0 1.5h0m2 2.5h0m-4 4h0m1 0.5h0m0 0h0m4.5 46h0m-5.5 0h0m3.5 0h0m-3.5 5.5h0m7.5 4h0m-5.5 1h0m-2 1h0m2 1h0m-2.5 1h0m7.5 3.5h0m-7 3.5h0m4 0h0m2 3h0m-2.5 1.5h0m6-98.5h0m-2 3h0m6 3h0m0.5 1.5h0m-0.5 3h0m-5 0h0m3.5 1.5h0m-1.5 60h0m0.5 0.5h0m-3.5 4.5h0m2.5 0.5h0m1.5 4h0m1.5 0.5h0m-5 1.5h0m4.5 2h0m-4.5 5h0m4.5 1h0m9-90h0m1 4h0m1 2h0m0 2h0m-6.5 4.5h0m4.5 52h0m1 0h0m-2.5 1h0m1 0.5h0m-3 1h0m3 0.5h0m-2.5 0.5h0m2.5 0.5h0m-5.5 0h0m5 3h0m0 3.5h0m-3 2h0m1 8.5h0m13-91.5h0m-2 5.5h0m-3.5 3.5h0m-2 3.5h0m4.5 1.5h0m-0.5 0h0m0 1h0m-1 0.5h0m0.5 51h0m-1 1.5h0m4 3h0m-4 3.5h0m1.5 0h0m-2 1h0m0 0.5h0m-1.5 0.5h0m2.5 0h0m3.5 7h0m-1.5 1h0m8-84.5h0m-1 2.5h0m-4.5 2.5h0m1 0h0m1.5 2h0m2.5 2h0m1.5 0h0m-4 3h0m-2 2.5h0m7 1h0m-1.5 1.5h0m0 1h0m-3.5 44h0m3 0h0m2 1.5h0m-3 1h0m1 8h0m-2.5 12h0m2 1.5h0m-4 12h0m8.5-111h0m5 3.5h0m0.5 3h0m-1 0.5h0m-2 2h0m1 5h0m2 7h0m-4 0h0m1.5 1h0m-2.5 6h0m-0.5 47.5h0m1 1.5h0m-1 0h0m5.5 2h0m-6 0h0m4 0h0m2 0h0m-2 0.5h0m0 1h0m0.5 1.5h0m-4 1h0m3 2.5h0m-1.5 0.5h0m3.5 2.5h0m-3 17h0m1 9h0m6.5-112.5h0m1 0h0m2 6h0m-5 1.5h0m0.5 1.5h0m5 2h0m-3.5 0.5h0m3 0.5h0m1 0.5h0m-5 0h0m-1 4.5h0m0 1.5h0m0.5 62.5h0m5 1.5h0m-2 5h0m-4 0h0m1 0.5h0m2 1.5h0m0.5 5h0m0.5 4.5h0m-1 1h0m4 3h0m3-117.5h0m-0.5 1.5h0m-1 11h0m3 2.5h0m4 1.5h0m-2.5 1h0m1.5 0.5h0m-1 1h0m-5.5 7h0m0 72h0m4.5 2h0m-0.5 1.5h0m-3.5 1h0m2 3h0m4.5 4.5h0m-3 3.5h0m-4.5 6h0m4 3h0m-2.5 0.5h0m1.5 1h0m4 1.5h0m6.5-117.5h0m-0.5 2.5h0m1.5 1.5h0m-3 0.5h0m-1.5 84.5h0m-1.5 10.5h0m3.5 2.5h0m1 7h0m3.5-122.5h0m1.5 5.5h0m1.5 5.5h0m3.5 88.5h0m0 1h0m-2.5 0h0m-4.5 2.5h0m3.5 4.5h0m-3 7h0m4.5 0h0m-2 1.5h0m10.5-123h0m-1 10.5h0m-4.5 7.5h0m7.5 1.5h0m-6 3h0m0.5 1.5h0m4 69h0m0.5 2.5h0m-4 1.5h0m1.5 9h0m-1 4h0m-1 8h0m10.5-109.5h0m-0.5 11h0m-3 0.5h0m3 2h0m-0.5 1.5h0m1 0.5h0m3 1h0m-1 2h0m0.5 0h0m-1 0.5h0m-3.5 1h0m1.5 0.5h0m2 1h0m-1.5 0.5h0m0.5 0.5h0m0.5 4h0m-1 40h0m2.5 0h0m-3 3.5h0m-1 5h0m0.5 9.5h0m-0.5 5.5h0m-2.5 7.5h0m12-92h0m-0.5 10.5h0m3 7h0m-3 9h0m-3 1h0m1 0.5h0m4 10h0m-1.5 0.5h0m-1 1h0m1 11h0m-2.5 2.5h0m1.5 2h0m-2.5 3h0m0 9h0m7.5-48h0m0 2.5h0m4 1h0m0.5 3h0m-5 1.5h0"/>
<path d="M340.5 617h0m10-51h0m1.5 3h0m0.5 19h0m7 2h0m-0.5 13.5h0m-5.5 5h0m1 5h0m5.5 3.5h0m7.5-75.5h0m0 4h0m-5.5 15h0m6 5.5h0m-4.5 3h0m-0.5 3h0m3 1h0m-4 3.5h0m-1.5 4h0m3 0.5h0m2 1.5h0m-2 0h0m2.5 4h0m0 11.5h0m-2 4.5h0m11-52.5h0m-1 3h0m-4.5 2h0m5.5 6.5h0m-3.5 2h0m-0.5 0h0m1.5 0.5h0m-0.5 1h0m-1.5 2.5h0m0 2h0m-1.5 1h0m3 0h0m1 1.5h0m-2.5 3.5h0m2.5 3.5h0m-1.5 5h0m4.5 4h0m-6.5 2h0m1.5 0h0m3 4h0m-5 0.5h0m6.5 0h0m-7.5 2h0m2 1h0m0.5 4h0m12.5-69.5h0m-5.5 1.5h0m0 3h0m6 5h0m-6 3h0m4 0.5h0m0.5 0.5h0m0.5 0h0m-5.5 0h0m0.5 2.5h0m4.5 0.5h0m-5.5 4h0m1.5 0.5h0m-2 35.5h0m0.5 0h0m7.5 3h0m-5.5 0.5h0m2.5 6h0m-3.5 4h0m2.5 0.5h0m-2.5 2.5h0m6.5 3.5h0m6-83.5h0m-1.5 1.5h0m1.5 6h0m0 0.5h0m1 5h0m-6 2.5h0m1.5 0h0m2 1h0m-1.5 1h0m1 49h0m-2 2h0m4.5 1.5h0m-1.5 0.5h0m2.5 2h0m-7 1.5h0m0.5 0.5h0m3 11h0m3 9.5h0m8.5-108.5h0m-5 2.5h0m2 10h0m-4.5 0.5h0m3.5 5.5h0m-0.5 1.5h0m4 1h0m-6 4h0m2.5 54.5h0m-2.5 3.5h0m-0.5 0.5h0m-0.5 3h0m6 15.5h0m0 3.5h0m-3.5 1h0m5.5-98.5h0m6 2.5h0m0.5 1h0m0 2.5h0m-2.5 1.5h0m1.5 1.5h0m-0.5 2h0m0 0h0m-2.5 1h0m-2 2h0m3 52h0m2.5 0.5h0m2 0h0m-7.5 6.5h0m1 2h0m0.5 1h0m3 0.5h0m-4.5 1.5h0m1 2.5h0m5.5 6h0m8-97.5h0m-1.5 12.5h0m-4.5 0h0m1 1h0m4.5 6.5h0m1.5 47.5h0m-1 2h0m-2 1h0m1.5 1h0m-3.5 2.5h0m0.5 0.5h0m0.5 1h0m2 0h0m-4.5 0.5h0m1 1h0m1.5 3h0m-1 12h0m-2 0h0m13.5-96h0m-3 13.5h0m-2 5h0m2.5 0h0m3.5 4.5h0m-0.5 0.5h0m-2.5 0.5h0m0 2h0m0.5 46.5h0m-3 0.5h0m0 0.5h0m2.5 0.5h0m0.5 0.5h0m-1 1.5h0m2 0h0m-2 1h0m-3 0.5h0m3.5 0.5h0m1.5 0.5h0m-0.5 1h0m-1.5 1h0m1 4h0m-3 3h0m1.5 0h0m-3 6.5h0m2.5 13h0m12.5-93.5h0m-3.5 2h0m-3 1.5h0m2 0.5h0m5 2.5h0m-2.5 0.5h0m-2 1.5h0m-3 49.5h0m0 0.5h0m0.5 0.5h0m2.5 0.5h0m1 1.5h0m-3.5 6h0m6.5 2h0m-4.5 1h0m1 3.5h0m0.5 1h0m-1 0.5h0m1.5 5.5h0m-0.5 8h0m9.5-113.5h0m-2 11.5h0m-2 10.5h0m-0.5 7.5h0m2 61.5h0m4 2.5h0m-0.5 2h0m-3.5 3h0m-0.5 2.5h0m4.5 1h0m-0.5 7.5h0m-6.5 6h0m12.5-119h0m-1 2.5h0m-2 1h0m4 3h0m-2 7h0m-3.5 0h0m0.5 0.5h0m0 0.5h0m3.5 1.5h0m2.5 1.5h0m-4.5 80h0m-1 0h0m1.5 8.5h0m-2.5 13.5h0m10.5-127.5h0m2 4.5h0m-4 5.5h0m3 0.5h0m1.5 1.5h0m-2 2h0m4.5 2h0m-3.5 4.5h0m-0.5 0.5h0m-2.5 2h0m3.5 80.5h0m-0.5 1.5h0m3.5 0.5h0m-7.5 0h0m0 2h0m1.5 1h0m0 2.5h0m4.5 0.5h0m-4 2h0m-2 3.5h0m12-115h0m1 2.5h0m0.5 0h0m-0.5 3h0m-1 4h0m3 0h0m-2 5h0m-3.5 0.5h0m0 1h0m4 79h0m-0.5 3h0m-2 1h0m-3.5 2h0m4 3h0m-2 1.5h0m0.5 1.5h0m13-114.5h0m-7.5 14h0m6 0.5h0m1.5 4.5h0m0 69h0m-0.5 3.5h0m-3 4.5h0m-2.5 1h0m-1 1h0m1.5 1h0m-1 3h0m3.5 3h0m2.5 7.5h0m7-110h0m-4.5 11h0m-0.5 1h0m2.5 6.5h0m0 3h0m-3 1h0m5.5 2h0m-0.5 0.5h0m-3.5 1h0m5.5 1h0m-1.5 4.5h0m1.5 0h0m-0.5 3.5h0m0.5 35.5h0m-5.5 8h0m1 2h0m4.5 2h0m0 5.5h0m-4 10.5h0m1 2h0m4.5-101.5h0m5.5 18.5h0m-6 1h0m0 3h0m6 1h0m-2.5 4h0m-3 1h0m2.5 2h0m2 1h0m-5 0h0m2.5 2.5h0m0.5 0.5h0m0.5 2h0m-2 3h0m0.5 0h0m4.5 1h0m-5.5 2.5h0m3 1h0m2.5 4h0m-6 1.5h0m1.5 2h0m1 1.5h0m-0.5 2.5h0m4 0h0m-6 1h0m5 0.5h0m-3.5 1h0m-0.5 1.5h0m5 4h0m-4.5 3.5h0m-2 0h0m2 3.5h0m7-39.5h0m-0.5 15.5h0m-1 13.5h0m12 4h0"/>
<path d="M337.5 576.5h0m2 6.5h0m6.5 1.5h0m13-29.5h0m-2.5 22.5h0m-1 6h0m2 1h0m-3.5 9.5h0m4.5 0.5h0m-1 1h0m-2.5 1.5h0m2.5 4.5h0m10-71h0m-2.5 10h0m3 13.5h0m-1 6.5h0m-6 7h0m0 1h0m6.5 0.5h0m-6 3.5h0m4.5 1.5h0m0.5 2h0m-3.5 1.5h0m-1.5 8h0m5 0h0m-6 2.5h0m1.5 1.5h0m4 6h0m-6 18.5h0m16-87h0m-1 8.5h0m-1 8h0m-2 8h0m2.5 1h0m0.5 1h0m-2 4.5h0m1.5 0.5h0m1.5 0.5h0m-3.5 0.5h0m1.5 0.5h0m-4 1h0m1.5 2h0m-2 3h0m2.5 4h0m0 1.5h0m-2.5 1h0m3 0.5h0m-1 10.5h0m3.5 10h0m-6.5 1h0m1.5 2h0m0 0.5h0m-1 1h0m0 0h0m6.5 2h0m-5.5 3h0m5.5 5.5h0m0 2.5h0m4.5-72.5h0m2 5h0m-2.5 0.5h0m1 2h0m3.5 0.5h0m-2.5 0h0m-1 2.5h0m-2.5 4h0m-0.5 2.5h0m6 35.5h0m-4.5 0.5h0m-2.5 0.5h0m4 0.5h0m2.5 1h0m-5.5 3.5h0m5 0.5h0m1.5 3h0m-5 1.5h0m2.5 1h0m-5 1h0m2 1.5h0m4 14.5h0m7.5-107h0m-2 13.5h0m-3.5 0.5h0m7.5 2.5h0m-4.5 6h0m2.5 0h0m-1.5 3h0m2 1h0m0 1.5h0m-5.5 4h0m5.5 46.5h0m0.5 1.5h0m-6.5 4h0m0.5 1h0m-0.5 1h0m1 8.5h0m1 9h0m4.5 4.5h0m1 7.5h0m5-107h0m-0.5 3h0m2 9h0m-2 0.5h0m-3 3h0m6 54h0m-5.5 0h0m6 0h0m-6.5 1.5h0m6 0.5h0m-0.5 1.5h0m-1 4h0m-2.5 1.5h0m2 0h0m0 0.5h0m-4 19h0m14-98.5h0m-2.5 2.5h0m-4.5 0.5h0m2.5 1.5h0m4.5 1h0m-6.5 0.5h0m5.5 0.5h0m-3 0.5h0m-1.5 0.5h0m2 0.5h0m1.5 0.5h0m-1 2h0m3 53h0m-3.5 0.5h0m2.5 0.5h0m-2 5.5h0m0 9.5h0m9.5-84.5h0m-2.5 4.5h0m2 0h0m-2.5 0.5h0m4 0.5h0m-6 0.5h0m4 0h0m-2.5 1h0m-2.5 2h0m7 0.5h0m-2 0.5h0m-1.5 0.5h0m-2.5 1h0m1 0.5h0m2 1h0m-0.5 0h0m3.5 0h0m0.5 47h0m-2 2.5h0m-3.5 4.5h0m1.5 1.5h0m-1 1h0m0.5 4.5h0m4 0h0m-5.5 7.5h0m11.5-86.5h0m3 7h0m-1.5 0h0m-2 2h0m-3.5 2h0m4 0.5h0m-3 1h0m3.5 0h0m-5 3h0m7 2h0m-5.5 1h0m5.5 46.5h0m-2 0h0m-5.5 0.5h0m3.5 0.5h0m0.5 0h0m-0.5 3.5h0m1 1h0m-3 4h0m0 9.5h0m2 3.5h0m-2.5 5h0m5 6h0m4.5-104h0m4.5 5h0m-6.5 4h0m1 3h0m5.5 7h0m-4.5 5.5h0m-2 1.5h0m2 45h0m-1.5 1h0m0 5.5h0m2 0h0m-1.5 2h0m-0.5 0.5h0m-0.5 0.5h0m4.5 1h0m-4.5 34.5h0m12-124h0m3 3.5h0m-1 2h0m-2 6.5h0m-2 3h0m5 0.5h0m-4.5 0.5h0m4 0h0m-3.5 0.5h0m1.5 0h0m0 1h0m-0.5 0h0m1 1h0m-4 67.5h0m5 2.5h0m-2 0.5h0m-3 2.5h0m1.5 1.5h0m3.5 3h0m-3 4h0m-2.5 4h0m4 7h0m-2 7h0m8.5-122h0m1.5 5.5h0m1 3.5h0m2 0.5h0m0 1h0m-2.5 4h0m-4.5 77.5h0m2 2h0m-2 2h0m0.5 1.5h0m5.5 2h0m-5.5 3h0m2 4.5h0m11.5-115h0m-5 0.5h0m-1 9h0m4.5 3h0m-1.5 1h0m1 1h0m-2.5 85h0m1 0h0m2 0.5h0m-1.5 0h0m1 1h0m-5 2.5h0m4.5 1h0m0 0.5h0m0.5 1h0m0 1.5h0m-1.5 2.5h0m8.5-112h0m-1 8.5h0m-1.5 0.5h0m0 2h0m4.5 0.5h0m1 0.5h0m-4.5 0.5h0m1.5 0h0m2 2.5h0m-0.5 83.5h0m-4 1h0m0 4h0m-1 0h0m1 1.5h0m-1 15.5h0m1 5.5h0m7-126h0m4.5 6h0m-4.5 0.5h0m4 0.5h0m-4 2h0m4 7h0m1 71.5h0m1 1h0m-4.5 1h0m0 5h0m3 1h0m-4 3h0m4.5 1.5h0m3-101h0m5 6h0m-3 3h0m1.5 2.5h0m0 0.5h0m-2.5 2h0m4 0.5h0m-3.5 6.5h0m1 0h0m0.5 2.5h0m2.5 1.5h0m0.5 4h0m1.5 2h0m-3.5 39h0m-3 5.5h0m6 0.5h0m-2.5 4h0m-3 2.5h0m-1 1h0m8-70.5h0m1 5h0m-1 5.5h0m6.5 8.5h0m-6 7.5h0m0.5 3.5h0m-0.5 3.5h0m5.5 3h0m-4.5 8.5h0m-2 2h0m4 1.5h0m-3.5 3h0m0 1h0m-1 0h0m1 7h0m6.5 3.5h0m-1.5 1h0m0.5 13.5h0m3-64.5h0m6.5 43.5h0m5.5-34h0m-2 26h0"/>
<path d="M350 540h0m1 33h0m0 5h0m4-9.5h0m-2.5 9.5h0m7.5 13.5h0m-6.5 12h0m4 3h0m8.5-67.5h0m1 21.5h0m-1 0h0m-2.5 7h0m4.5 0.5h0m-0.5 2h0m0 11h0m-3 0.5h0m-3 13.5h0m4.5 1.5h0m0.5 10.5h0m-2 4h0m6.5-77h0m-2.5 11.5h0m7.5 2h0m-2.5 0h0m-5 2h0m5 0h0m1.5 1.5h0m-1.5 3h0m-1.5 3h0m3.5 1h0m-7.5 8h0m2 2.5h0m2 4h0m0 1h0m0.5 0.5h0m0 1h0m-0.5 1h0m-1 2.5h0m-0.5 3h0m-1 1.5h0m5 4h0m-1 0.5h0m0.5 0.5h0m-5 1.5h0m1 1h0m-1.5 6.5h0m6 16.5h0m5.5-80h0m3 0.5h0m0.5 0.5h0m-2 5h0m-4 0h0m2.5 3h0m-3.5 9.5h0m0.5 3.5h0m-1 33.5h0m6 1h0m-0.5 1h0m2.5 0h0m-7 1h0m0 3.5h0m1 9h0m0 1.5h0m1 5h0m10.5-96.5h0m-5 17h0m4 2h0m-4.5 2.5h0m1 8h0m6 46.5h0m-3 1.5h0m-2.5 1h0m5 4h0m-3.5 0h0m0 1.5h0m0.5 3.5h0m-2 5h0m6.5 6h0m-5 27.5h0m7-121.5h0m5.5 6.5h0m-6.5 0.5h0m-1 0h0m7 1.5h0m-6.5 4.5h0m4.5 0.5h0m-0.5 1.5h0m-2.5 2.5h0m4 53.5h0m0 1h0m-2.5 1.5h0m1 0.5h0m-1.5 0h0m3.5 0.5h0m-5.5 10.5h0m10-96h0m1 2h0m-3 5.5h0m5.5 2.5h0m0.5 2h0m-4 4.5h0m0.5 1h0m-2 4h0m3.5 55.5h0m-0.5 1.5h0m-1 2h0m1.5 0.5h0m-0.5 1h0m-3 0h0m2 2h0m-2.5 10.5h0m8-95h0m4.5 2.5h0m-2.5 9h0m-1.5 0h0m-1 0.5h0m0.5 2h0m-0.5 0.5h0m4 0.5h0m0.5 4.5h0m-5 0.5h0m7.5 0.5h0m-0.5 1h0m0 48.5h0m-2 2h0m-0.5 1.5h0m-1 1.5h0m0 0h0m2.5 2.5h0m0 0.5h0m-0.5 2.5h0m-2.5 0.5h0m4.5 2.5h0m-1 4h0m-3.5 2h0m6.5-84h0m4.5 0.5h0m-5.5 3h0m1.5 3h0m2.5 0.5h0m0.5 2h0m-3 4.5h0m4.5 5h0m-3 46h0m-3 0.5h0m5.5 3h0m-2 3h0m3 3.5h0m-2.5 3.5h0m-1 2.5h0m4.5 11.5h0m1-96.5h0m3.5 3h0m-1 0.5h0m-3 4.5h0m1.5 2.5h0m6 2h0m-6 1.5h0m5.5 0.5h0m-1.5 2.5h0m-3.5 0.5h0m2.5 1h0m-1 1h0m-1.5 1h0m0.5 1h0m-1.5 43.5h0m-1 0.5h0m0 0.5h0m0 0h0m0.5 0.5h0m0.5 0h0m-1 0h0m3 1h0m-2.5 1h0m3.5 2h0m-2 0.5h0m3.5 4.5h0m1 5h0m-0.5 2.5h0m-6 5.5h0m6 16.5h0m4-112h0m5.5 10h0m-3.5 0.5h0m-4.5 4h0m7 70h0m-1 0h0m0.5 0.5h0m-6.5 1h0m0.5 1h0m2 1.5h0m1.5 2.5h0m2.5 2.5h0m-1 1h0m2 0.5h0m-4.5 8.5h0m1.5 4.5h0m10.5-107h0m-4 9h0m-1 75h0m3 1h0m0.5 0.5h0m-0.5 5.5h0m0.5 0h0m-2.5 1.5h0m5 7.5h0m-7 1.5h0m13.5-116h0m-2.5 1.5h0m-1.5 0.5h0m-1 0.5h0m2.5 2h0m1.5 2h0m-3.5 2h0m3 3h0m2 85h0m-4.5 1.5h0m4 0.5h0m-5 5.5h0m-0.5 0h0m0 1.5h0m5.5 3h0m4-106.5h0m1.5 1.5h0m0.5 0h0m-3 1.5h0m2.5 5h0m-3 2h0m5.5 77h0m-0.5 0.5h0m-4 5h0m4 0h0m-5 1h0m-1 0h0m6 1.5h0m-3.5 1.5h0m0 1h0m-2.5 2.5h0m2.5 8.5h0m4.5 7h0m-5 4h0m7.5-125h0m1 4.5h0m0.5 2h0m-1.5 4h0m0.5 0.5h0m5.5 1.5h0m-7 1h0m3 1.5h0m3 2.5h0m-0.5 0h0m0.5 65h0m1 1.5h0m-2 1h0m-1.5 0.5h0m3 5h0m0.5 3h0m-2.5 0h0m-1 3h0m-4 5.5h0m10.5-102h0m3.5 3h0m-5 1h0m1 2.5h0m0.5 3h0m4 3.5h0m1.5 0h0m-4 0h0m0 2.5h0m1 2h0m-4.5 0h0m6.5 6h0m-2 0h0m0.5 0.5h0m0 2h0m1.5 38.5h0m-3.5 3.5h0m2 0.5h0m-1 1h0m-0.5 9h0m-1 0h0m2 3.5h0m7.5-101.5h0m-2.5 28.5h0m2 1h0m-1 2.5h0m-2.5 9h0m2 0.5h0m-2 1.5h0m2.5 0.5h0m-1.5 0h0m-1.5 2.5h0m0.5 1h0m0 0h0m2 1.5h0m2.5 0h0m-1.5 1.5h0m0.5 0h0m-3 1h0m-0.5 1.5h0m0 0h0m4 0.5h0m-0.5 5h0m-3 1h0m3 3h0m2.5 4h0m1.5 8h0m-7.5 9.5h0m1.5 18h0m-1 2.5h0m14.5-71.5h0m-5.5 2h0m3 7h0m-4.5 7h0m0.5 1.5h0m1.5 4h0m5 15.5h0m-4.5 17h0m-1.5 12.5h0"/>
<path d="M341.5 562.5h0m2.5 1h0m4 48.5h0m11-43h0m0 12.5h0m-1.5 14h0m2.5 18.5h0m5-70.5h0m2 7h0m0 0.5h0m-2 3h0m-1 8.5h0m0.5 1.5h0m2.5 1h0m-3.5 1h0m2 6.5h0m1 0.5h0m-4.5 0.5h0m3 2.5h0m3 1.5h0m-2.5 2h0m-2.5 0h0m3 6.5h0m-2 3.5h0m-2 0.5h0m3 1.5h0m1.5 0.5h0m-5 6h0m-0.5 0h0m6 9.5h0m-6.5 8.5h0m3 0h0m11-67h0m0 2h0m-1.5 3h0m-4.5 1.5h0m6 4h0m-1.5 0.5h0m2 1.5h0m-2 1h0m-2.5 8h0m0 0h0m-1 1h0m2 1.5h0m0 1h0m-0.5 2h0m1 3.5h0m3 7h0m-1.5 5.5h0m1.5 8.5h0m-5.5 1.5h0m0.5 1h0m2 1h0m4 0h0m-6 0h0m2 9.5h0m-0.5 10.5h0m9-99h0m-1 8.5h0m3.5 5h0m-7 1.5h0m3 1.5h0m1.5 8.5h0m1 0.5h0m-2 0h0m-0.5 2.5h0m1.5 41h0m-0.5 0.5h0m2 8.5h0m-4 6.5h0m-0.5 8h0m10-87.5h0m0 2.5h0m-2 4h0m2.5 3.5h0m3.5 56h0m-0.5 0h0m-7 0h0m2 1.5h0m5.5 0h0m-1 2h0m-1 0h0m1.5 3h0m-2 3h0m-2.5 2.5h0m2 0.5h0m-3 6.5h0m-1 3h0m10.5-94h0m5 1h0m-0.5 1.5h0m0 1h0m-4.5 0h0m1 4h0m-2.5 4h0m2 0h0m-2 2h0m6 56h0m-2 3.5h0m-5.5 7h0m8 8.5h0m-0.5 3h0m1.5-107h0m6.5 5h0m-1 0h0m-5 5.5h0m5.5 5h0m-3 1h0m2 2.5h0m-5 5h0m6 50.5h0m-2.5 2h0m1 2.5h0m-4.5 0.5h0m1 5h0m-1 1.5h0m7 5.5h0m4-77h0m2.5 0h0m-3.5 1.5h0m0.5 3.5h0m3.5 0.5h0m1 0h0m-6 0.5h0m-0.5 0.5h0m-1 0.5h0m7 46h0m0.5 5.5h0m-6 1h0m5.5 8.5h0m-1.5 2.5h0m-0.5 1h0m-3.5 5h0m14-104.5h0m-6.5 16.5h0m6 3h0m-6.5 0.5h0m7 4h0m-5 5h0m4.5 1.5h0m-1.5 1h0m-5.5 0.5h0m6.5 4.5h0m-1 46h0m-4.5 0h0m2.5 2h0m0 2.5h0m-1 1h0m-0.5 0.5h0m5 4h0m-5 4.5h0m0.5 6h0m-1.5 16.5h0m7-120.5h0m1.5 17h0m5.5 1h0m-4 7.5h0m2.5 2.5h0m-4 0h0m-0.5 3.5h0m3.5 2.5h0m-3.5 4h0m-0.5 0h0m1 44h0m1.5 3h0m2 0.5h0m-2 0h0m4.5 2.5h0m-6.5 0.5h0m3.5 1.5h0m-4 0.5h0m2.5 5.5h0m3 8.5h0m-0.5 0.5h0m1.5 5.5h0m-4.5 1.5h0m8-101h0m0.5 8h0m4.5 0.5h0m-5 4.5h0m2.5 0h0m0 0.5h0m-4.5 1h0m-1 0.5h0m1.5 2.5h0m0.5 0.5h0m1.5 60.5h0m-1.5 0h0m-1 1h0m6 1.5h0m-0.5 0.5h0m-6.5 3h0m7.5 2.5h0m-3.5 1.5h0m-3.5 2h0m3.5 17.5h0m10-123h0m-3.5 2h0m3 1.5h0m0.5 8.5h0m-1 2h0m0 1h0m3 1h0m-5 1h0m0.5 0h0m1 3h0m-2.5 1h0m1 0h0m0 75h0m3 1.5h0m-0.5 0.5h0m-2 1.5h0m4 2.5h0m-4 1.5h0m-2 11h0m6 12.5h0m8-146.5h0m-2 17h0m2 9.5h0m-4 2h0m-1.5 1.5h0m1 0.5h0m-1.5 1h0m3 82.5h0m-3.5 1h0m4.5 5h0m-3 0h0m0 1h0m-2 0.5h0m1 2.5h0m0 0.5h0m2 1h0m-1.5 3h0m0 0h0m3 1h0m6-115.5h0m0 7h0m-1.5 1h0m2.5 0h0m0.5 2h0m1.5 3h0m-5.5 0.5h0m3 1h0m4 77h0m-1.5 1.5h0m-2 1.5h0m-1.5 1h0m-1 1.5h0m5 0h0m-5 3h0m3 0.5h0m0.5 2h0m-4 0.5h0m5.5 0.5h0m-6.5 1h0m4 4.5h0m-2.5 6.5h0m8.5-115h0m4.5 0.5h0m-4.5 11h0m0 1.5h0m3 1h0m1 68h0m-0.5 3.5h0m-1.5 0.5h0m2.5 2h0m-1.5 0h0m1 2.5h0m-0.5 5h0m-5 3.5h0m2 1h0m1 4.5h0m9-118.5h0m-0.5 14h0m-1 1.5h0m1 5.5h0m3 2.5h0m-0.5 5.5h0m-5 0h0m3.5 4.5h0m1.5 0.5h0m1.5 45h0m-4 1.5h0m1 0.5h0m-2.5 4.5h0m2 0.5h0m-2 7.5h0m-2.5 11.5h0m16-79h0m-4.5 3h0m-3 0h0m0.5 1.5h0m3 10.5h0m-0.5 1h0m-1 1h0m-1 1h0m5 0.5h0m-6.5 4h0m4 0h0m2.5 0.5h0m0.5 5.5h0m-1.5 4.5h0m-3 1.5h0m-1.5 1.5h0m6 4.5h0m-6.5 0.5h0m1.5 3.5h0m0 1.5h0m-2 3h0m2 0.5h0m1 5.5h0m3.5 1h0m-2.5 10h0m-3 1.5h0m1 13.5h0m9-101.5h0m0.5 30.5h0m1 17.5h0m-1.5 30h0"/>
<path d="M350 579.5h0m0 19h0m2.5-39.5h0m3.5 8h0m1 9.5h0m0.5 7h0m0.5 7h0m-0.5 0.5h0m-5 10.5h0m5.5 1h0m0 4h0m-4.5 28h0m14-82.5h0m-1 8.5h0m0.5 2.5h0m0 0h0m1 7.5h0m-8 3.5h0m5.5 3.5h0m0.5 2h0m-4.5 1h0m6.5 2h0m-4.5 1h0m4 0.5h0m-6.5 1.5h0m2.5 0.5h0m0.5 0.5h0m1.5 1h0m0 0.5h0m-1.5 1.5h0m-1 3h0m4 2.5h0m-6 1.5h0m6.5 7h0m0 2.5h0m0 4h0m-6.5 3.5h0m13.5-82h0m-2 11.5h0m-1.5 10h0m-2.5 1h0m5 1.5h0m2 0.5h0m-2.5 1h0m-4 1h0m0.5 8.5h0m1.5 0h0m-1.5 1h0m-1.5 1.5h0m2 5h0m1.5 2.5h0m1 0.5h0m-4.5 1h0m4.5 0h0m-2.5 2h0m-0.5 0h0m3.5 1h0m-2 7h0m1.5 0.5h0m-2 7h0m4.5 1h0m-0.5 1h0m0 2h0m-5.5 2h0m1 0.5h0m1 2.5h0m-1.5 4h0m0 3.5h0m2.5 0.5h0m-1.5 0h0m8.5-103.5h0m-2 24.5h0m3 2h0m4 7h0m-4.5 0h0m-2 2.5h0m4.5 1.5h0m-5.5 0h0m3 5.5h0m-1 2h0m-1.5 2.5h0m4 36.5h0m-4 1.5h0m3 2h0m2.5 0h0m0.5 3h0m-2.5 3.5h0m-1.5 10h0m1.5 2h0m-4.5 6.5h0m3.5 0.5h0m10-102h0m-4 9.5h0m2.5 4h0m2 1.5h0m-5.5 3.5h0m2.5 0h0m-3 7h0m7.5 45.5h0m-5 1.5h0m4 5h0m-5 3.5h0m5 2h0m9.5-81.5h0m-6 0.5h0m1 4.5h0m-0.5 0.5h0m-0.5 1h0m-0.5 2h0m4.5 3.5h0m-1 0.5h0m2 56h0m-4 0.5h0m3.5 1.5h0m-2 0h0m0 0.5h0m0 0.5h0m0.5 5.5h0m-3.5 2.5h0m1.5 2.5h0m0.5 7h0m11.5-104.5h0m-2 16h0m-1.5 4.5h0m3.5 1.5h0m-5.5 0.5h0m2.5 0h0m-2.5 2.5h0m-0.5 0.5h0m6.5 52h0m-2 3h0m0.5 1.5h0m-5.5 0.5h0m-0.5 0h0m2.5 0h0m4.5 0h0m-5 0.5h0m4.5 2.5h0m-0.5 1.5h0m-2.5 3h0m-1 3.5h0m1 3h0m4.5 10.5h0m-6.5 7h0m11.5-108.5h0m0 8.5h0m-1.5 2h0m2.5 0.5h0m0 7h0m2 46.5h0m0 2h0m-6 2.5h0m5.5 13h0m8.5-90.5h0m-4 1h0m1.5 2h0m-3 0.5h0m0.5 2h0m4 3.5h0m-0.5 2h0m0.5 1.5h0m-1.5 1h0m0 1h0m0 1.5h0m-4 3h0m-1.5 5h0m8 1h0m-3.5 47h0m-4 11h0m5 1.5h0m-5 1h0m7 0h0m2-79.5h0m4 2h0m2.5 5.5h0m-5.5 3h0m4.5 1.5h0m-4.5 5.5h0m2.5 2h0m-4.5 0h0m2.5 1.5h0m-2.5 0.5h0m7 49.5h0m-6 0.5h0m6.5 0.5h0m-4 1h0m2.5 4h0m-4.5 0.5h0m2.5 8.5h0m-2.5 3h0m-0.5 1.5h0m0.5 1h0m10-99h0m2 3h0m-3.5 4.5h0m5 6h0m-1.5 1.5h0m-6 4h0m1 61h0m0.5 1h0m1 8.5h0m5.5 2h0m-3 0.5h0m-2.5 4h0m-1.5 0h0m1 4h0m-0.5 3h0m4 5h0m-5 6h0m4 1h0m0 6h0m7.5-140.5h0m3 14.5h0m-5 8.5h0m-0.5 1h0m-0.5 1h0m1 4h0m0 1.5h0m-1 73.5h0m2 2h0m1.5 2h0m-0.5 3h0m-1.5 0.5h0m3 1h0m-5 0h0m2.5 17.5h0m2 0.5h0m10-126h0m-3.5 1h0m1.5 5.5h0m1.5 0h0m-2.5 5h0m-2.5 0.5h0m2.5 1h0m-3 1.5h0m7 84h0m-2.5 0h0m-3.5 2h0m-1 0.5h0m2.5 0h0m4 2.5h0m-4.5 6.5h0m-2 7h0m14-124h0m0 10h0m-2 3h0m-2 2h0m-1.5 0h0m3 4.5h0m-3 0.5h0m1.5 83.5h0m0 0.5h0m1 3.5h0m-2 0.5h0m9.5-119h0m1 13h0m-2 3h0m-2 2.5h0m1 11.5h0m1.5 0.5h0m4.5 0.5h0m-0.5 2h0m-0.5 64.5h0m-1.5 5.5h0m-1.5 1h0m-2 5.5h0m-1 0.5h0m1.5 0.5h0m1 0.5h0m0.5 4.5h0m-3 1.5h0m8.5-111.5h0m4 13.5h0m-4.5 2.5h0m2.5 1h0m2.5 1.5h0m-3 0.5h0m0.5 5.5h0m4.5 4.5h0m-7 0.5h0m7.5 0.5h0m-4.5 0.5h0m4 1h0m-3 0.5h0m2.5 8h0m-1.5 37.5h0m0 1h0m-1 2.5h0m-2.5 3h0m2.5 1h0m1.5 1h0m-0.5 4h0m-0.5 0.5h0m-4.5 0.5h0m3.5 3.5h0m9.5-88.5h0m-5.5 16.5h0m6.5 4.5h0m-5 6h0m6 2.5h0m0 3h0m-7 1.5h0m4 6h0m-3.5 0.5h0m0 1.5h0m6.5 1.5h0m-3.5 0.5h0m-3 2.5h0m6.5 0.5h0m-1 0h0m-2.5 1h0m-1.5 7h0m4.5 8h0m-6 1.5h0m4.5 5h0m-3 4h0m1.5 4h0m5-69h0m1 33h0"/>
<path d="M341.5 592.5h0m4.5 16h0m2.5 2.5h0m7.5-42.5h0m-2 7h0m5.5 0h0m-1 3h0m0 3.5h0m-6.5 0.5h0m2 2h0m4.5 2.5h0m-5 1h0m1.5 20h0m8.5-81h0m3.5 25.5h0m-4 22h0m0 1h0m1 1h0m0.5 0.5h0m3 1.5h0m0.5 1.5h0m-4 7.5h0m0 3h0m-0.5 2.5h0m0.5 6.5h0m4 1h0m-6 24h0m8-102h0m4 18h0m-1.5 3.5h0m2.5 3.5h0m-6.5 0.5h0m7 1h0m-6.5 3h0m2 0.5h0m-1 0.5h0m3.5 6h0m-0.5 0h0m0 0.5h0m2 0h0m-0.5 0.5h0m-0.5 0h0m-5.5 3.5h0m5 0h0m-4 1.5h0m-0.5 1h0m1.5 0.5h0m-2 0.5h0m3.5 0.5h0m-2 2h0m1 3.5h0m-2 3.5h0m6.5 15.5h0m-4.5 1h0m-0.5 1h0m-1 0.5h0m2.5 0.5h0m-3 3.5h0m6.5 7h0m-2 12.5h0m-1 8h0m6.5-100h0m1.5 4.5h0m-0.5 7.5h0m-2.5 2.5h0m-1 1.5h0m6 1h0m-4 1.5h0m4 0h0m0 2.5h0m0.5 1h0m-4 3h0m0.5 0.5h0m-2 3h0m0.5 0h0m3.5 36h0m-2 1.5h0m0.5 4h0m-2 1h0m6 3.5h0m-2.5 6h0m-5 3h0m2.5 0h0m0 0.5h0m9-94h0m3.5 9h0m-1.5 6h0m2 2h0m-7 1.5h0m7 3h0m-4.5 2h0m-1.5 1.5h0m-0.5 3.5h0m3.5 47.5h0m-2 6.5h0m-1.5 2h0m4.5 2.5h0m-5.5 1h0m1.5 1.5h0m4 0.5h0m-0.5 2h0m-0.5 4h0m6-97.5h0m5 4h0m-1.5 3.5h0m-5 2.5h0m2.5 2h0m4 2.5h0m-4 0.5h0m-0.5 1.5h0m-2.5 0.5h0m5 1h0m0 0h0m-5 1h0m3 2h0m0.5 54.5h0m-1 2.5h0m-3 2h0m7 0.5h0m0 2h0m-2.5 8h0m0 2.5h0m9.5-99.5h0m0.5 6h0m-3.5 5h0m2 1.5h0m-3.5 1h0m0.5 2h0m1 0.5h0m4 1h0m-2.5 0h0m-4.5 2.5h0m3 0h0m-1.5 2h0m-0.5 3.5h0m5.5 54.5h0m1 0h0m-7.5 1.5h0m6 3h0m-0.5 5.5h0m-1.5 13.5h0m9.5-102h0m-1 7h0m-5 0.5h0m1.5 10h0m0 54.5h0m-0.5 0.5h0m1 1h0m5 2h0m-3.5 0.5h0m3.5 6h0m-6.5 7h0m8.5-86.5h0m2 2.5h0m4.5 2.5h0m0.5 1h0m-2.5 5.5h0m-3.5 5h0m5.5 2.5h0m-1 0.5h0m1.5 43.5h0m-6.5 4h0m3.5 0.5h0m-4.5 1.5h0m3.5 1h0m4 4h0m-1.5 5h0m-5.5 1h0m4.5 2h0m0 6h0m2.5-99.5h0m6.5 5.5h0m-4.5 5.5h0m0.5 1.5h0m3 0.5h0m2 0.5h0m-2 0h0m-4 1.5h0m3 1.5h0m-0.5 0.5h0m-0.5 3.5h0m-1 7.5h0m1.5 1.5h0m-3 0.5h0m0 44h0m6.5 10h0m-4 1h0m-2 3h0m5 2h0m-4 0.5h0m5.5 8h0m3.5-88.5h0m-0.5 1h0m-1.5 8h0m2 65h0m-2 2h0m4.5 3h0m-4.5 0h0m6.5 1.5h0m-4 0h0m2 0.5h0m-6 9h0m4 1.5h0m11-112h0m-4 3.5h0m3 2h0m-3 6h0m3.5 0.5h0m-2.5 1.5h0m2.5 4.5h0m-3 0h0m-2.5 2h0m3 1h0m-0.5 0.5h0m-1 75.5h0m4 2.5h0m-4.5 3.5h0m1.5 1.5h0m4 12.5h0m-0.5 1.5h0m6.5-127h0m-2 7h0m-0.5 3h0m0.5 8h0m2 2h0m-1 1.5h0m-2.5 0h0m0.5 83h0m4 4h0m-5.5 10h0m1 1.5h0m-2 1h0m0 0.5h0m7 0.5h0m-6.5 1.5h0m2 0.5h0m0 0.5h0m-0.5 11h0m13.5-131.5h0m-7.5 4h0m1 6h0m0 3.5h0m4.5 0.5h0m2.5 76.5h0m-3 8.5h0m-1.5 1h0m1.5 1h0m-1.5 10h0m6-123h0m3 5h0m1.5 6.5h0m-1 0.5h0m1 2h0m-1 3h0m-2 9h0m2.5 0h0m0.5 0.5h0m-0.5 2h0m0 69h0m0 1h0m2 0.5h0m-1 1.5h0m-6.5 2h0m6 2h0m-2 1.5h0m0 3h0m0 9.5h0m7-104h0m3 3h0m-4 1.5h0m5 4h0m-2 4h0m-2.5 1h0m3 6h0m1.5 4.5h0m1 31h0m0 1h0m-3.5 15.5h0m0.5 2.5h0m-3.5 1.5h0m6.5 1.5h0m-5.5 1h0m3 2h0m-1.5 1.5h0m-1 0.5h0m-2.5 6h0m15.5-99h0m-7 13h0m-0.5 1h0m5.5 4.5h0m-4 1.5h0m0.5 0.5h0m-1 2h0m0 0h0m5 0.5h0m0 6.5h0m0 2h0m-3.5 3h0m2.5 1.5h0m-4 4.5h0m0 3.5h0m-1 3h0m7 1.5h0m-3 4h0m-1 0.5h0m-1 7h0m0.5 1h0m0 0h0m5 8.5h0m-5 1h0m-3 1h0m1 7h0m-0.5 8.5h0m5 6h0m4-82h0m0.5 5.5h0m1 16.5h0m-2.5 3.5h0m13.5 18h0"/>
</g>
<path d="M448.4 505.5L455.5 499.3L465.5 498.1L475.5 505.5L475.5 505.5L480.5 515.5L481.5 525.5L481.6 535.5L479.6 545.5L475.5 554.3L475.2 555.5L471.7 565.5L465.5 574L464.3 575.5L455.5 584.3L450.2 585.5L445.5 587.6L438.8 585.5L435.5 584.6L426.1 575.5L425.5 574.2L421 575.5L415.5 576.5L405.5 584.9L404.4 585.5L395.5 590.3L385.5 592.7L375.5 588.1L373.2 585.5L372 575.5L372.5 565.5L375.5 558.8L376.6 555.5L384.7 545.5L385.5 544.6L395 535.5L395.5 535L405.5 530.3L415.5 528.7L425.5 532L430.2 525.5L435.5 521.2L438.7 515.5L445.5 508Z" fill="#fff" fill-rule="evenodd" shape-rendering="crispEdges"/>
<g shape-rendering="crispEdges">
<path fill="rgb(250,250,250)" fill-opacity="0.02" d="M350.5 570.5h10v10h-10zM350.5 580.5h10v10h-10zM350.5 590.5h10v10h-10zM360.5 550.5h10v10h-10zM360.5 600.5h10v10h-10zM370.5 530.5h10v10h-10zM370.5 600.5h10v10h-10zM390.5 600.5h10v10h-10zM400.5 510.5h10v10h-10zM410.5 510.5h10v10h-10zM410.5 590.5h10v10h-10zM420.5 500.5h10v10h-10zM420.5 590.5h10v10h-10zM430.5 500.5h10v10h-10zM430.5 600.5h10v10h-10zM440.5 490.5h10v10h-10zM440.5 600.5h10v10h-10zM450.5 480.5h10v10h-10zM450.5 590.5h10v10h-10zM470.5 480.5h10v10h-10zM470.5 570.5h10v10h-10zM480.5 490.5h10v10h-10zM480.5 500.5h10v10h-10zM480.5 540.5h10v10h-10zM480.5 550.5h10v10h-10z"/>
<path fill="rgb(245,245,245)" fill-opacity="0.04" d="M360.5 560.5h10v10h-10zM360.5 590.5h10v10h-10zM370.5 540.5h10v10h-10zM380.5 600.5h10v10h-10zM390.5 520.5h10v10h-10zM400.5 590.5h10v10h-10zM420.5 510.5h10v10h-10zM420.5 580.5h10v10h-10zM430.5 590.5h10v10h-10zM460.5 480.5h10v10h-10zM460.5 580.5h10v10h-10zM470.5 560.5h10v10h-10zM480.5 520.5h10v10h-10zM480.5 530.5h10v10h-10z"/>
<path fill="rgb(240,240,240)" fill-opacity="0.06" d="M360.5 570.5h10v10h-10zM360.5 580.5h10v10h-10zM370.5 590.5h10v10h-10zM380.5 530.5h10v10h-10zM390.5 590.5h10v10h-10zM400.5 520.5h10v10h-10zM410.5 580.5h10v10h-10zM440.5 590.5h10v10h-10zM450.5 490.5h10v10h-10zM470.5 490.5h10v10h-10zM480.5 510.5h10v10h-10z"/>
<path fill="rgb(235,235,235)" fill-opacity="0.08" d="M380.5 590.5h10v10h-10zM410.5 520.5h10v10h-10zM420.5 520.5h10v10h-10zM430.5 510.5h10v10h-10zM440.5 500.5h10v10h-10zM460.5 490.5h10v10h-10z"/>
<path fill="rgb(230,230,230)" fill-opacity="0.10" d="M370.5 550.5h10v10h-10zM400.5 580.5h10v10h-10zM420.5 570.5h10v10h-10zM430.5 580.5h10v10h-10zM450.5 580.5h10v10h-10zM460.5 570.5h10v10h-10zM470.5 550.5h10v10h-10z"/>
<path fill="rgb(224,224,224)" fill-opacity="0.12" d="M370.5 580.5h10v10h-10zM380.5 540.5h10v10h-10zM390.5 530.5h10v10h-10zM410.5 570.5h10v10h-10zM420.5 530.5h10v10h-10zM440.5 580.5h10v10h-10zM470.5 500.5h10v10h-10z"/>
<path fill="rgb(219,219,219)" fill-opacity="0.14" d="M370.5 560.5h10v10h-10zM370.5 570.5h10v10h-10zM420.5 560.5h10v10h-10zM430.5 520.5h10v10h-10z"/>
<path fill="rgb(214,214,214)" fill-opacity="0.16" d="M390.5 580.5h10v10h-10zM400.5 530.5h10v10h-10zM410.5 530.5h10v10h-10zM420.5 540.5h10v10h-10z"/>
<path fill="rgb(209,209,209)" fill-opacity="0.18" d="M450.5 500.5h10v10h-10zM470.5 510.5h10v10h-10zM470.5 540.5h10v10h-10z"/>
<path fill="rgb(204,204,204)" fill-opacity="0.20" d="M380.5 580.5h10v10h-10zM420.5 550.5h10v10h-10zM430.5 570.5h10v10h-10zM440.5 510.5h10v10h-10zM460.5 500.5h10v10h-10z"/>
<path fill="rgb(199,199,199)" fill-opacity="0.22" d="M380.5 550.5h10v10h-10zM400.5 570.5h10v10h-10zM410.5 560.5h10v10h-10zM460.5 560.5h10v10h-10zM470.5 520.5h10v10h-10zM470.5 530.5h10v10h-10z"/>
<path fill="rgb(194,194,194)" fill-opacity="0.24" d="M410.5 540.5h10v10h-10z"/>
<path fill="rgb(189,189,189)" fill-opacity="0.26" d="M390.5 540.5h10v10h-10zM410.5 550.5h10v10h-10zM430.5 530.5h10v10h-10zM450.5 570.5h10v10h-10z"/>
<path fill="rgb(184,184,184)" fill-opacity="0.28" d="M380.5 570.5h10v10h-10zM400.5 540.5h10v10h-10zM430.5 560.5h10v10h-10zM440.5 570.5h10v10h-10z"/>
<path fill="rgb(173,173,173)" fill-opacity="0.32" d="M380.5 560.5h10v10h-10zM390.5 570.5h10v10h-10z"/>
<path fill="rgb(168,168,168)" fill-opacity="0.34" d="M390.5 550.5h10v10h-10zM430.5 540.5h10v10h-10z"/>
<path fill="rgb(163,163,163)" fill-opacity="0.36" d="M400.5 550.5h10v10h-10zM400.5 560.5h10v10h-10zM430.5 550.5h10v10h-10z"/>
<path fill="rgb(158,158,158)" fill-opacity="0.38" d="M390.5 560.5h10v10h-10z"/>
<path fill="rgb(153,153,153)" fill-opacity="0.40" d="M440.5 520.5h10v10h-10zM450.5 510.5h10v10h-10zM460.5 510.5h10v10h-10z"/>
<path fill="rgb(148,148,148)" fill-opacity="0.42" d="M460.5 550.5h10v10h-10z"/>
<path fill="rgb(133,133,133)" fill-opacity="0.48" d="M450.5 560.5h10v10h-10z"/>
<path fill="rgb(112,112,112)" fill-opacity="0.56" d="M440.5 560.5h10v10h-10z"/>
<path fill="rgb(107,107,107)" fill-opacity="0.58" d="M460.5 520.5h10v10h-10z"/>
<path fill="rgb(97,97,97)" fill-opacity="0.62" d="M460.5 540.5h10v10h-10z"/>
<path fill="rgb(92,92,92)" fill-opacity="0.64" d="M440.5 530.5h10v10h-10z"/>
<path fill="rgb(82,82,82)" fill-opacity="0.68" d="M450.5 520.5h10v10h-10zM460.5 530.5h10v10h-10z"/>
<path fill="rgb(61,61,61)" fill-opacity="0.76" d="M440.5 550.5h10v10h-10zM450.5 550.5h10v10h-10z"/>
<path fill="rgb(56,56,56)" fill-opacity="0.78" d="M440.5 540.5h10v10h-10z"/>
<path fill="rgb(25,25,25)" fill-opacity="0.90" d="M450.5 530.5h10v10h-10z"/>
<path fill="rgb(0,0,0)" fill-opacity="1.00" d="M450.5 540.5h10v10h-10z"/>
</g>
<path d="M448.4 505.5L455.5 499.3L465.5 498.1L475.5 505.5L475.5 505.5L480.5 515.5L481.5 525.5L481.6 535.5L479.6 545.5L475.5 554.3L475.2 555.5L471.7 565.5L465.5 574L464.3 575.5L455.5 584.3L450.2 585.5L445.5 587.6L438.8 585.5L435.5 584.6L426.1 575.5L425.5 574.2L421 575.5L415.5 576.5L405.5 584.9L404.4 585.5L395.5 590.3L385.5 592.7L375.5 588.1L373.2 585.5L372 575.5L372.5 565.5L375.5 558.8L376.6 555.5L384.7 545.5L385.5 544.6L395 535.5L395.5 535L405.5 530.3L415.5 528.7L425.5 532L430.2 525.5L435.5 521.2L438.7 515.5L445.5 508ZM446.6 515.5L455.5 507.4L465.5 506.8L473.4 515.5L475.4 525.5L475.5 535.5L474.4 545.5L471.8 555.5L465.5 565.3L465.3 565.5L457.6 575.5L455.5 577.6L445.5 579.3L439.1 575.5L435.5 572.2L430.9 565.5L427.1 555.5L428.7 545.5L433.1 535.5L435.5 532.7L438.6 525.5L445.5 516.5ZM393 545.5L395.5 543L405.5 540L415.5 543.9L417.1 545.5L421.9 555.5L415.5 563.6L414.8 565.5L405.5 575.5L405.5 575.5L395.5 581.9L385.5 581.7L381.6 575.5L380.1 565.5L385.5 555.8L385.8 555.5ZM446.2 525.5L455.5 516.6L465.5 516.6L469.8 525.5L471.2 535.5L469.9 545.5L465.5 555.5L465.5 555.5L457.6 565.5L455.5 567.9L445.5 570.5L440.3 565.5L437.1 555.5L437.4 545.5L439.8 535.5L445.5 526.4ZM450.5 535.5L455.5 529.5L461.6 535.5L461.5 545.5L455.5 555.1L445.5 545.5Z" fill="none" stroke="#000" stroke-width="2.08" stroke-linejoin="round"/>
</g>
</g>
<rect x="310.5" y="460.5" width="200" height="200" fill="none" stroke="#7f7f7f" stroke-width="1.1"/>
<path d="M315.5 660.5v4.86M359.5 660.5v4.86M402.5 660.5v4.86M446.5 660.5v4.86M490.5 660.5v4.86M310.5 654.5h-4.86M310.5 607.5h-4.86M310.5 561.5h-4.86M310.5 514.5h-4.86M310.5 467.5h-4.86" stroke="#000" stroke-width="1.1" fill="none"/>
<g clip-path="url(#c22)">
<path d="M520.5 660.5V660.5H530.5V660.5H540.5V660.5H550.5V660.5H560.5V658.5H570.5V652.5H580.5V638.5H590.5V609.5H600.5V561.5H610.5V519.5H620.5V480.5H630.5V478.5H640.5V499.5H650.5V549.5H660.5V598.5H670.5V633.5H680.5V651.5H690.5V657.5H700.5V659.5H710.5V660.5H720.5V660.5" stroke="#000" stroke-width="1.4" fill="none" stroke-linejoin="miter"/>
<path d="M609 660.5V460.5M631 660.5V460.5M653 660.5V460.5" stroke="#000" stroke-width="2.08" stroke-dasharray="7.71 3.33" fill="none"/>
<path d="M526.5 460.5v200M573.5 460.5v200M619.5 460.5v200M666.5 460.5v200M713.5 460.5v200M520.5 519.5h200M520.5 589.5h200M520.5 660.5h200" stroke="#b6b6b6" stroke-width="1" fill="none"/>
</g>
<rect x="520.5" y="460.5" width="200" height="200" fill="none" stroke="#7f7f7f" stroke-width="1.1"/>
<path d="M526.5 660.5v4.86M573.5 660.5v4.86M619.5 660.5v4.86M666.5 660.5v4.86M713.5 660.5v4.86M520.5 519.5h-4.86M520.5 589.5h-4.86M520.5 660.5h-4.86" stroke="#000" stroke-width="1.1" fill="none"/>
<g clip-path="url(#c30)">
<g transform="translate(-.5 -.5)">
<g filter="url(#hb)">
<path d="M143.1 719l4.9-0.6l4 2.3l1.2 2.3l0.2 2l-1.6 2l0.1 1l1.5 0l0.7-2l2.9-1.4l3 0.7l3 2.1l1.6 2.6l0 2l-0.7 2l-1.9 1.4l0 1.6l2-1.5l4 0.1l7.2 5.4l1.6 3l-0.1 5l2.7 4l0.5 2l-0.9 3l-3.8 3l-1.4 3l-2.8 2.9l-3 1.6l-2-0.2l-2-0.9l-1 1.1l-4.8 8.5l-5.6 5l1.9 2l-0.5 2.3l-2 1.2l-3-0.5l-3 3.8l-3 0.9l-4-1l-2.4-1.7l-1.5-2l-0.3-2l0.5-3l-5.5-6l-4.6-11l-0.2-13.1l-3.2-0.9l-0.8-1l-0.4-2l1.4-2.2l3-0.4l1-1l2-5l0-1.2l-2-1.7l-0.7-1.5l0-2l0.9-2l2.8-1.9l3-0.4l0.3-4.7l1.7-2.4l2-0.9ZM272.1 758l3.9 0.3l3 1.9l1 2.8l-0.7 3l6.7 4.7l4.8 6.3l0.2 2.6l2.8 8.4l0.1 6l0.7 2l-0.7 2l-0.1 7l-7.8 9.2l-3 1.6l-2.6 0.2l-1.4 0.8l-4 0l-9-5.6l-3.3-3.2l-2.5-3l-1.2-5.6l-1.8-4.4l0-2l0.9-2l0.1-9l0.9-2l0.1-3l3.6-6l5.1-5l-1.3-3l0.6-2l1.8-1.8ZM122.4 783l2.6-1l2 0.3l2.5 2.7l0 3l-1.1 4l5.4 12l0.2 2.6l0.8 1.4l0.2 7.6l4.8 10.4l0.2 2.6l0.8 1.4l0.1 3l0.9 2l0 2l-0.9 2l-0.1 4l-1 3l-2.4 4l1.3 2l-0.1 3l-3.6 3.8l-4 1.8l-2-0.2l-2.4-1.4l-1.1-2l-0.2-2l-1.3-2.5l-4.2-4.5l-1.6-3l-1-2l-0.1-3l-0.9-2l-0.2-6.6l-2.8-6.4l0-9l2.8-6.4l0.2-4.6l3.9-8l-0.1-1.1l-2.5-2.9l-0.4-4l1.5-3Z" fill="#000" fill-opacity="0.100" fill-rule="evenodd"/>
<path d="M143.9 720l4.1-0.5l2.8 1.5l0.8 1l0.4 2l-0.2 1l-2 2l2.9 2l2.1 0l0.6-2l1.6-1l2 0.2l3 1.8l1.3 2l0 2l-3.1 3l1.8 3.1l1 0.6l2-2l2-0.2l2 0.9l2.5 2.6l3.1 2l1.2 3l-0.7 4l2.9 4l0.6 2l-0.6 2.2l-4 2.8l-1.7 4l-2.3 2.3l-3 1l-2-1.1l-1 0l-6.3 10.8l-2.7 2.7l-8.2 5.3l0.1 2l-0.8 2l-3.1 1.5l-3-0.6l-2.9-1.9l-1-2l0.8-3l-7.3-8l-3.9-10l-0.7-15.2l-2 0l-0.7-1.8l0.7-0.9l2 0l3.2-7.1l0.3-3l-1.5-1.5l-0.5-1.5l0.8-2l1.7-1.2l1-0.1l2 1.5l2-2.2l0.6-2l-0.8-1l-0.5-2l1.7-2.6ZM272.7 759l3.3 0.4l2 1.4l0.9 2.2l-0.6 3l6.7 4.3l4.7 5.7l3.8 13l0.5 7l-0.7 9l-7.3 8.7l-3 1.6l-5 1.2l-3-0.2l-6-3.6l-3-2l-4.7-4.7l-3.8-12l1-3l0-8l1-3l0.2-3l3.6-6l3.7-3.8l2.7-1.2l-1.7-3l0.7-2l2.3-1.6ZM122.9 784l3.1-0.7l2.1 1.7l0.4 2l-1 5l2.9 5l2.9 7l1.2 5l0 6l1.5 4.5l3.3 6.5l2.2 10l-2.2 10l-2.6 4l0.9 3l-0.4 2l-3.2 3l-3 1.3l-2-0.2l-1.7-1.1l-0.7-3l-6.3-7l-1.7-3l-0.9-2l-0.2-3l-1-3l0-5l-3-8l0.2-8l2.8-7l0.2-4l3.7-8l0.1-2l-2.1-3l-0.2-3l0.9-2Z" fill="#000" fill-opacity="0.100" fill-rule="evenodd"/>
<path d="M144.4 721l3.6-0.4l2.3 1.4l0.5 2l-0.8 1.3l-1.8 0.7l0.5 1l3.2 2l4.1 1.7l0.5-2.7l1.5-0.8l2 0.5l1.6 1.3l0.7 2l-0.3 1l-1 0.8l-2.6 0.2l5.2 9l3.4 10.1l1-0.7l0.1-2.4l-4.1-9l0.9-2l1.1-0.5l2 0.5l2.8 3l3.3 2l0.6 2l-1.4 4l3.7 4.7l0.4 1.3l-0.9 2l-3.5 1.9l-1.3 4.1l-2.7 2.6l-2 0.5l-1-0.7l-0.7-1.4l-0.3-2.9l-0.5 3.9l-7.2 12l-2.3 2.3l-9.5 5.7l0 3l-1.5 1.3l-2 0.2l-3-1.2l-1.4-1.3l-0.4-2l1.2-2l-2.4-1.6l-5.3-5.4l-1.6-3l-3-8l-0.7-17l3.5-9l0.8-4l2.5-2l3.8-5l-1.3-2l0.1-2l1.3-1l5.9-1ZM272.6 760l2.4 0.2l2 1l0.8 1.8l-0.5 2l0.4 1l7.3 4.7l4.3 5.3l3.6 12l0.2 6l0.6 2l-0.6 2l-0.2 7l-0.6 1l-6.3 7.3l-3 1.6l-5 1.1l-3-0.1l-6-3.6l-3-2l-4.3-4.3l-3.7-12l0.9-3l0.1-8l0.9-3l0.2-3l3.6-6l3.3-3.3l3.6-1.7l0.8-1l-1.9-2l0.1-1l1.4-1.5ZM123.1 785l2.9-0.4l1.3 1.4l-0.6 6l2.7 4l3.5 8l1.1 5l0.1 6l4.8 11l2.1 10l-0.9 3l-0.2 4l-1 3l-2.9 4.4l-0.3 1.6l0.6 2l-2.3 2.6l-3 1.6l-2-0.3l-1-0.9l-0.3-1l0.4-2l-2.1-0.2l-0.8-0.8l-4.5-5l-2.1-4l-1.5-6l-0.2-6l-2.9-8l0.1-8l2.8-7l0.2-4l3.4-7l0.7-3l0.1-1l-1.9-2l-0.2-3l1.1-2Z" fill="#000" fill-opacity="0.136" fill-rule="evenodd"/>
<path d="M146 722l2 0.1l1.1 0.9l-0.2 1l-1.9 0.2l-2-0.6l-0.5-0.6ZM138.3 724l4.3 0l-2 2l5.4-0.3l9 5.1l2 1.8l3 3.5l1.7 2.9l5.5 15l0.1 3l-3.3 4.9l-0.2 3.1l-6.2 11l-3.6 3.6l-10 5.4l0.4 2l-1.4 1.3l-2-0.2l-1.9-1.1l-0.5-1l0.2-1l1.5-1l-0.7-1l-3.5-2l-5.7-6l-4.2-11l0.1-18l4.3-11l5.4-6.2l3.2-1.8l-0.2-0.9l-2.4-1.1ZM158.2 729l1.8 0.3l0.7 1.7l-0.7 0.4l-1.4-0.4l-0.7-1ZM166 739l1.1 0l2.3 3l3.6 1.9l0.3 1.1l-0.5 1l-1.8 1.2l-2.2-0.2l-0.9-1l-0.7-3l-1.5-2l-0.3-1ZM170.2 751l1.8 0.2l2.8 2.8l0.4 1l-3.2 2.3l-1.9 5.7l-2.1 1.4l-1-0.6l-0.1-2.8l2-4l0.4-4ZM271.6 762l2.4-0.8l1.9 0.8l0.7 3l1.4 1.8l3 1.6l5 3.7l3.6 4.9l3.2 12l0 5l0.6 2l-0.6 2l-0.2 7l-6.7 8l-2.9 1.6l-5 1.2l-3-0.2l-5-3l-3.9-2.6l-4-4l-1.7-4l-0.4-2.9l-1.8-5.1l1-3l0-8l1-3l0.2-3l3.6-5.9l3-3l5.6-3.1l0.4-1l-1.3-1ZM123.6 786l1.4-0.2l1 0.8l0.2 2.4l-0.8 2l3.2 4l4 9l1.2 5l0.2 6.9l4.6 10.1l2.2 10l-1 3l-0.2 4l-1 3l-4.6 6.6l-3.3 0.4l0.3 1l2.4 0l0 1l-2.4 1.7l-1.7-0.7l0.7-1.6l0.9-0.4l-2.9-0.8l-2 0.2l-5.6-6.4l-2-4l-0.2-3l-1-3l0-5l-3-8l0.2-8l2.6-6.1l0.4-4.9l3.5-7l1.4-4l0.1-1l-1.4-0.7l-0.8-1.3l0-2l1.6-2Z" fill="#000" fill-opacity="0.186" fill-rule="evenodd"/>
<path d="M142.8 727l1.2-0.7l2 0.1l8 4.2l5.5 5.4l3.9 8l3.1 9l0.2 2l-0.1 2l-2.7 4l-0.5 4l-6.4 11.4l-2.6 2.6l-5.4 3.4l-2 1l-3 0.5l-7-2.5l-5.5-5.4l-1.8-3l-3.2-9l-0.1-17l4.1-11l6.5-7.6l3-1.2ZM273.6 765l1.4-0.8l3 3l6 3.5l2 1.9l3.3 4.4l0.4 3l2.8 9l0.5 7l-0.7 9l-6.9 8l-2.4 1.3l-5 1.2l-3-0.2l-5-3l-3.4-2.3l-4.1-4l-1.8-4l-0.4-3l-1.8-5l1-3l0-8l0.8-2l0.4-4l1-2l2.3-3.4l3.6-3.6l2.4-0.8ZM122.8 788l1.2-0.3l0.7 1.3l-0.7 1.4l-1 0.6l-1.3-1l0.1-1ZM123.8 793l1.2-0.8l1 0.2l2 2.2l4.3 9.4l1.2 5l0.2 7l4.6 10l2.2 10l-2.2 10l-4.3 5.7l-2.8 0.3l-1.2 0.7l-4 0.2l-5.3-5.9l-2-4l-0.4-4l-0.8-2l-0.2-6l-1.6-3l-1.2-4l0-7l2.8-7l0.4-5l3.6-7l0.3-2Z" fill="#000" fill-opacity="0.246" fill-rule="evenodd"/>
<path d="M143.7 727l2.3-0.2l8 4.2l6 6l3 7l3.4 11l-0.2 2l-2.7 4l-0.5 4l-6.1 11l-2.9 2.9l-5 3.1l-2 1l-3 0.5l-7-2.5l-5.9-6l-4.1-10.1l-0.2-1.9l-0.1-16l4.2-11l6.1-7.1ZM274.8 765l3.2 2.6l7 4.3l3.9 5.1l3.3 12l0.4 7l-0.7 9l-6.9 7.9l-7 2.3l-2.8-0.2l-5.2-3.1l-3-2l-4.1-3.9l-0.9-1.2l-3.2-10.8l1-3l0-8l0.8-2l0.4-3.9l1-2l2.9-4.1l3.1-2.9l2-0.5ZM124.6 793l1.4-0.1l2 2.1l4 9.1l1.2 4.9l0.2 7l4.6 10.1l2.2 9.9l-0.8 2l-0.2 4l-1.3 4l-3.9 5.2l-5 1.2l-3 0l-4.9-5.4l-1.1-2.1l-1-2l-0.4-3.9l-0.8-2l-0.2-6l-2.8-7l0-7l2.8-7l0.4-4.9l3.6-7.1l0.4-2Z" fill="#000" fill-opacity="0.326" fill-rule="evenodd"/>
<path d="M144.9 727l9.1 4.5l5.5 5.5l3.4 8l3.1 9l0 2l-2.9 5l-0.2 3l-0.9 2.1l-5.5 9.9l-2.5 2.5l-5.9 3.5l-2.1 1l-2 0.1l-7-2.6l-6-6.4l-3.8-10.1l-0.2-16l4-11.3l4-5.3l2.9-2.4ZM273.5 766l1.5-0.5l10.5 7.5l2.9 4l3.4 12l0.4 7l-0.8 9l-6.4 7.5l-7 2.3l-3-0.4l-5-2.9l-3.6-2.5l-3.4-3.4l-3.8-11.6l0.9-3l0.1-8l1.8-7.1l2.5-3.9l2.9-3ZM124.1 794l0.9-0.7l1 0.1l1.5 1.6l4 9l1.3 5l0.3 7l4.7 11l2 9l-0.9 3l-0.1 3l-1.4 4l-3.4 4.6l-5 1.4l-3-0.2l-4.5-4.8l-1.5-2.9l-1.8-7.1l-0.3-6l-2.7-7l0-7l2.7-7l0.3-4l4.3-10Z" fill="#000" fill-opacity="0.448" fill-rule="evenodd"/>
<path d="M143.6 728l2.4-0.1l8 4l5 5l3.1 7.1l3.3 11l-0.3 2l-2.6 4l-0.4 4l-6.1 11l-2 2l-5 3l-3 1.4l-2 0.1l-7-2.5l-5-5l-2.5-7l-1.6-3l-0.2-2l0-16l3.3-9.2l4-5.8l2-2.1ZM272.7 767l2.3-0.9l10 6.9l3 4l0.5 3l2.8 9l0.4 7l-0.7 9l-3.9 4l-2.1 3l-2 1.1l-5 1.2l-3-0.3l-5-3l-3-2l-4-4l-3.3-11l0.8-2l0.2-9l0.8-2l0.5-4.2l3-4.8l3-3ZM124.8 794l1.2-0.1l1 1.1l4.1 9l1.2 5l0.2 7l4.6 10l1.2 5l0.2 3l0.8 2l-0.8 2l-0.2 4l-1.3 4l-3 4.1l-5 1.3l-3-0.3l-4-4.1l-2-3.8l-0.5-4.2l-0.8-2l-0.2-6l-1.6-3l-1.2-4l0-7l2.8-7l0.4-5l3.6-7l0.4-2Z" fill="#000" fill-opacity="0.594" fill-rule="evenodd"/>
</g>
<g fill="none" stroke="#000" stroke-opacity=".1" stroke-width="2.8" stroke-linecap="round">
<path d="M110 774.5h0m9-32h0m0.5 13h0m-3.5 14h0m2 16h0m0.5 11h0m1 1.5h0m-0.5 2h0m-0.5 0.5h0m-1.5 0.5h0m-2 9h0m12.5-86h0m0 4h0m-1.5 5h0m-0.5 8h0m-0.5 6h0m0 0.5h0m0 1.5h0m-1 0.5h0m1.5 0.5h0m-1.5 13h0m-4 0.5h0m6 0h0m-2 0h0m1 4.5h0m-0.5 0.5h0m-0.5 4.5h0m-1 2.5h0m-1 0.5h0m2.5 1h0m-2.5 0h0m-1.5 3h0m2 2h0m4.5 0h0m0.5 0.5h0m0 2h0m-2 1h0m2.5 2.5h0m-5 0.5h0m0.5 2h0m4 2h0m-4.5 0.5h0m-3 56h0m4 5h0m1.5 0.5h0m1.5 0.5h0m0.5 0h0m-2.5 2h0m-3 3h0m0.5 1h0m1 3.5h0m10.5-143.5h0m-0.5 0.5h0m-2 3.5h0m-3 50.5h0m0 0.5h0m0 2h0m3.5 0h0m-0.5 5h0m3 1.5h0m0 2.5h0m-2.5 0h0m-3.5 6h0m2.5 1h0m0 0.5h0m-1 0.5h0m4 1h0m-1 1.5h0m2.5 9h0m0 7h0m0 38h0m-5 5h0m0 5.5h0m2 4h0m7-162h0m-2.5 8h0m3 1.5h0m0.5 4.5h0m-2.5 5h0m0.5 1.5h0m4 2h0m-4 56.5h0m5.5 1.5h0m-1 0.5h0m-5 10.5h0m-0.5 9.5h0m4 43.5h0m1.5 0.5h0m-3.5 5h0m-1.5 0.5h0m2 6.5h0m8.5-150h0m-4 5h0m4 0.5h0m1.5 1h0m1.5 3h0m-5 5h0m4 0.5h0m-3.5 0h0m-3 61h0m7 2h0m-5 0h0m3 0.5h0m-4 37h0m2.5 26h0m-1.5 5.5h0m-1.5 8h0m12-165.5h0m-1 19.5h0m2.5 1h0m0 0.5h0m-5 1.5h0m3.5 2.5h0m-3.5 0.5h0m3.5 5h0m2 2h0m1 1.5h0m-1 42h0m-3.5 6.5h0m4.5 3.5h0m-5.5 3h0m-1 0.5h0m2 2h0m7-80.5h0m2 7.5h0m-3.5 6h0m5 0h0m-4.5 2.5h0m3 1.5h0m-0.5 1h0m2 4h0m2 3h0m-3 3h0m-0.5 2h0m1.5 3h0m2 12h0m-3 5.5h0m0.5 2h0m0 0.5h0m-3 4h0m0.5 2.5h0m0 0h0m3 0h0m-1 0h0m2.5 0.5h0m-4 0.5h0m-1 2.5h0m5.5 0.5h0m-6.5 2.5h0m-0.5 17.5h0m3 1.5h0m6.5-82h0m0 0h0m4.5 12h0m-3 3.5h0m-2.5 3h0m5 0.5h0m-5.5 2h0m5 3.5h0m-2 4h0m-1 6h0m4 5h0m-4.5 0.5h0m2.5 3.5h0m-4 1.5h0m0.5 3h0m-0.5 6h0m2.5 1h0m4.5 2.5h0m-6.5 1h0m-1 2.5h0m0.5 0h0m5.5 2.5h0m9-46h0m-6.5 0.5h0m3 5.5h0m-2 2.5h0m3 0h0m-3 0.5h0m-1 2h0m6 4h0m-1.5 3h0m2.5 1h0m-6.5 0.5h0m0 5h0m2 1h0m-1.5 2h0m3 1.5h0m1.5 2h0m-1.5 4h0m6.5-32h0m0.5 13h0m-2 1h0m0 16h0m5.5 2.5h0m-5 34.5h0m11.5-62h0m-4 20.5h0m10 2h0m-0.5 15.5h0m8.5-51.5h0m0.5 46h0m29-5h0m7.5 10h0m4.5 1.5h0m1.5 2h0m1 0.5h0m-0.5 6.5h0m-3.5 6.5h0m3 8h0m-4 4h0m12.5-48h0m-1.5 1h0m-3 1h0m-1 1h0m1.5 0.5h0m2.5 1.5h0m0.5 2.5h0m1 3.5h0m0 1h0m-2.5 3h0m-1.5 2.5h0m0.5 3h0m-2 3h0m0 9.5h0m0.5 6h0m0.5 0h0m-1.5 2h0m6.5 12.5h0m0 11h0m5.5-63h0m-1.5 0h0m-0.5 1h0m-2.5 4h0m2 0h0m2.5 0.5h0m-4 3h0m3 44.5h0m0 0.5h0m-1.5 1h0m1.5 1h0m1 0.5h0m2 1h0m2.5-68h0m0.5 6.5h0m0 1.5h0m4 0.5h0m-5 4.5h0m0.5 1.5h0m-1 50.5h0m-0.5 0h0m0.5 1h0m3 2h0m-3 0h0m6 0h0m-4.5 2.5h0m8-60h0m-1.5 2.5h0m3 3h0m1 2h0m0 47.5h0m0 0.5h0m-1 0.5h0m1.5 0.5h0m-1.5 1h0m-3.5 1h0m4.5 0.5h0m-3.5 12.5h0m14.5-58.5h0m-4.5 3.5h0m1.5 0.5h0m-2.5 0h0m3 6h0m2.5 3.5h0m0 3h0m-1.5 8.5h0m0 1h0m-0.5 9h0m-2.5 0.5h0m2.5 1.5h0m0.5 0.5h0m-1 3.5h0m2 1h0m-4.5 1.5h0m1.5 0h0m-3 2.5h0m7-50h0m1.5 18.5h0m0 17.5h0m0 1.5h0"/>
<path d="M119.5 757h0m-3 3.5h0m2 5.5h0m1.5 2.5h0m0 7.5h0m-2 1h0m2 1h0m-3 15.5h0m1 7h0m0 47h0m0 0.5h0m9-141.5h0m-6 7.5h0m2.5 3.5h0m4.5 9h0m-7 7.5h0m6 7.5h0m-0.5 0h0m-0.5 2.5h0m0 1.5h0m-5.5 0.5h0m4 0h0m-4.5 4h0m5.5 0.5h0m-2 2.5h0m-2 5h0m-0.5 1h0m0.5 0.5h0m4 3h0m-1 2.5h0m1 2h0m1 0h0m-1 4.5h0m-1.5 5.5h0m1.5 4h0m2.5 1h0m-1 10h0m-5.5 0.5h0m-1.5 56h0m3 3.5h0m-2.5 0.5h0m1 6.5h0m5 0h0m8-156.5h0m-2.5 13h0m-1.5 1h0m0.5 1.5h0m0 1h0m1.5 1h0m3 1h0m-5 2h0m3 3.5h0m-1.5 1h0m1 2.5h0m-3 49.5h0m3 0h0m-5 1.5h0m4.5 1h0m3 2.5h0m-7.5 2.5h0m7.5 0h0m-1.5 22.5h0m0.5 2h0m1 4.5h0m-0.5 0.5h0m0.5 1.5h0m-3.5 34.5h0m1 1h0m-3 2h0m4 2h0m-4.5 1h0m3.5 4h0m1 3h0m4.5-147h0m4.5 2.5h0m-2 4.5h0m2 0h0m-3.5 0h0m-3.5 60h0m5 4.5h0m-2.5 15h0m0 3.5h0m-0.5 12h0m0.5 1.5h0m5 12h0m-2 4.5h0m-1 4.5h0m-2.5 6.5h0m1 2.5h0m5 2h0m-7.5 2h0m10.5-143h0m1 8h0m3.5 3.5h0m0 0.5h0m-6.5 0h0m4.5 2h0m-1 0h0m2 55.5h0m0 0.5h0m0.5 1.5h0m-1 4.5h0m-4 1.5h0m3.5 6h0m-3.5 35.5h0m-0.5 1.5h0m3 26.5h0m1.5 1h0m8.5-149.5h0m-5.5 3.5h0m1.5 2.5h0m1 6h0m-3.5 3.5h0m3.5 0h0m1 4.5h0m3 1h0m-1 0h0m0 45.5h0m-3.5 2.5h0m0 0.5h0m2 0h0m-1 0.5h0m2 2.5h0m-0.5 1.5h0m-1 3h0m-1.5 2h0m-0.5 1.5h0m2 14.5h0m10-84.5h0m-3 8h0m-1.5 0.5h0m4.5 1.5h0m-6.5 2.5h0m0.5 0.5h0m5.5 2.5h0m-2.5 0h0m0 1h0m3 0h0m-2.5 3h0m2 7h0m-1 13h0m0 3h0m0 1h0m-1.5 3h0m0.5 0h0m0 1h0m-2.5 1h0m4.5 0.5h0m-5 0.5h0m3.5 3h0m-2 4h0m-2 1h0m5.5 0.5h0m1 3.5h0m-4 2.5h0m-2 0h0m3 0h0m-3 4.5h0m6.5 1h0m7.5-89.5h0m-1 8.5h0m0.5 12h0m-3 7h0m1 0h0m-2 6h0m-1 6h0m4 4h0m2 2.5h0m0 6h0m-7 1.5h0m6 7.5h0m0 1.5h0m-5.5 5h0m-0.5 8h0m6.5 2h0m-2 1h0m-4 13.5h0m7-71.5h0m3 4h0m1.5 7h0m1 5.5h0m-4 6.5h0m-1.5 9h0m6 1h0m-3 1h0m-3 3h0m2 1h0m-1.5 6.5h0m3 2.5h0m1.5 5.5h0m-2 2h0m1.5 3h0m5.5-38h0m-1 4.5h0m2.5 1.5h0m-1.5 3.5h0m0 5h0m-1 10.5h0m2.5 9.5h0m4.5 12h0m6-51h0m-2.5 3.5h0m-0.5 7h0m1 1.5h0m-2 4h0m11.5-27.5h0m-0.5 23h0m6.5 4h0m6.5 5h0m13 0h0m6-8.5h0m-1.5 1h0m18 29.5h0m2.5 7.5h0m1-37.5h0m2.5 7.5h0m-1.5 1.5h0m3.5 9h0m-4 5h0m2 2.5h0m-2.5 1h0m2.5 0.5h0m-3 4.5h0m2 6h0m-2 3.5h0m1.5 5h0m-1.5 1.5h0m0 1.5h0m0 2.5h0m4.5 6h0m-0.5 2.5h0m2.5 0.5h0m-4 2.5h0m6.5-64h0m5 0.5h0m0.5 0h0m-5 3h0m4.5 1h0m0.5 0.5h0m-5 4h0m3 0h0m2.5 3h0m-1.5 0.5h0m-0.5 0.5h0m-5 6.5h0m1 43h0m4.5 1.5h0m1.5 1.5h0m-3.5 3h0m-1 8h0m10-88.5h0m-4 8.5h0m2.5 8h0m-3 4.5h0m-0.5 6h0m0 50.5h0m3 2h0m4.5 4h0m-1 2h0m-5 6.5h0m8.5-73h0m4 10.5h0m-1 3.5h0m0.5 0h0m0 1h0m-0.5 46h0m1.5 2.5h0m0 10h0m3-65h0m-0.5 5h0m4 2.5h0m-2.5 1h0m-1.5 1h0m2.5 5h0m1 6h0m1 4h0m2.5 4.5h0m-2 8.5h0m1.5 1.5h0m-2 0h0m0.5 0.5h0m0.5 0.5h0m-2 4.5h0m-1.5 2h0m-2 0.5h0m4 0.5h0m3.5-20.5h0m2 1.5h0m-1 2h0m1.5 12h0"/>
<path d="M111 713h0m-0.5 25.5h0m1.5-7.5h0m5.5 15.5h0m2.5 2.5h0m-3 3h0m2.5 16h0m-0.5 10.5h0m0.5 11h0m-3 4h0m2.5 5h0m-3.5 31.5h0m1 10.5h0m1.5 4.5h0m6.5-114h0m2 5h0m-3 1.5h0m3.5 6h0m-5 0h0m3.5 0.5h0m-3.5 1h0m-2 4h0m2 0h0m2.5 2.5h0m-1.5 0h0m0 2.5h0m0 0.5h0m0.5 3.5h0m2 1.5h0m-2.5 1h0m-0.5 2h0m-2.5 0.5h0m4.5 0.5h0m-0.5 0h0m-3 1h0m5 1.5h0m-4 1h0m3.5 0.5h0m0.5 1.5h0m1 0h0m-6 0.5h0m2.5 7h0m1 0h0m3.5 2h0m-3 0.5h0m0 4h0m1 0.5h0m-0.5 5.5h0m2 2h0m-7.5 2h0m2.5 61.5h0m3 2.5h0m0.5 0.5h0m0 0.5h0m2 6h0m0.5-150h0m2.5 3.5h0m3.5 4h0m-2 0.5h0m-4 10h0m2.5 1.5h0m-2.5 4h0m1.5 45.5h0m4.5 1.5h0m-4.5 4.5h0m0 0.5h0m3.5 6.5h0m-0.5 7h0m-1.5 50.5h0m-1.5 3.5h0m3.5 2.5h0m7.5-158.5h0m-0.5 4.5h0m-3 4h0m3 1.5h0m-2 1.5h0m2.5 6h0m0 0h0m-1 8h0m0 57h0m2.5 0.5h0m-5 1.5h0m-1 2h0m4 0h0m2 2h0m-0.5 2.5h0m-3 5.5h0m-2 3.5h0m1.5 9.5h0m3 4.5h0m-2.5 3.5h0m-1.5 2h0m6 1h0m-1 9h0m1 14h0m-5.5 4h0m3 3.5h0m-3 1.5h0m2 2.5h0m-0.5 0.5h0m-2 2h0m0 0h0m6 2.5h0m-2.5 4h0m-0.5 3.5h0m8.5-152h0m0.5 3h0m-2 1.5h0m3.5 5.5h0m0.5 56.5h0m-3 1h0m0.5 2.5h0m0 5.5h0m-2.5 0.5h0m2 0.5h0m1.5 63.5h0m0.5 8.5h0m4.5-157.5h0m5 5h0m-8 3.5h0m6 5h0m-3 2.5h0m-0.5 1h0m-1.5 0.5h0m1 4h0m2.5 2h0m2 45h0m-2.5 3h0m-2.5 3.5h0m1 2.5h0m-1 0.5h0m11.5-66h0m-0.5 3h0m-3.5 1h0m4 2.5h0m2.5 1.5h0m-7.5 1.5h0m3 4h0m1 0h0m-3.5 2h0m4.5 0h0m2 0.5h0m0.5 1h0m-2.5 5.5h0m2 8.5h0m-2 12h0m0.5 3.5h0m-0.5 0h0m-1 0.5h0m-1.5 3h0m-1 1h0m5.5 0.5h0m0 0h0m-3.5 1.5h0m4 2h0m-5.5 2.5h0m-1 8h0m5 8.5h0m-3.5 7.5h0m-1 1h0m13-82.5h0m-1.5 6.5h0m-1.5 8.5h0m1.5 4.5h0m1.5 4.5h0m-1.5 0.5h0m2 0h0m-6.5 1.5h0m2.5 0h0m-2 0.5h0m0 2h0m5 0h0m1.5 1h0m-3 4h0m2 1h0m-4.5 3h0m5 0.5h0m0 3.5h0m0 0.5h0m0.5 7h0m-4 1h0m0 2h0m0.5 0.5h0m-3.5 0.5h0m2 0.5h0m1.5 10.5h0m11.5-71.5h0m-3 13.5h0m1 3h0m-2.5 6.5h0m0.5 4h0m1 0h0m1.5 2h0m0.5 0.5h0m-1.5 2.5h0m1 5h0m-1 0.5h0m-1.5 1.5h0m-0.5 28.5h0m-2.5 7.5h0m13.5-60h0m-3 8.5h0m3 5.5h0m1 11.5h0m0.5 11.5h0m-2.5 6.5h0m-4.5 1h0m14.5-58h0m-0.5 12.5h0m1 31h0m-2.5 11h0m-5 11h0m9.5-27h0m1.5 21h0m17.5-30h0m-2.5 7.5h0m5.5 9.5h0m29 18h0m1.5 7h0m-0.5 10h0m1 11.5h0m7-48.5h0m0.5 5h0m-3 12h0m-0.5 0h0m-1 0.5h0m2 4h0m-2 6h0m-1 0.5h0m3 20.5h0m-1 0.5h0m5 1.5h0m-1.5 2.5h0m-3 0.5h0m4 9.5h0m6-69h0m2.5 5.5h0m-3.5 1h0m2 0.5h0m-3.5 1h0m-1.5 7h0m0 44.5h0m2.5 0h0m3.5 4.5h0m-3 3.5h0m11-61.5h0m-4 5.5h0m2 1h0m-4 0.5h0m-1 51.5h0m4 1h0m1.5 0h0m-4 2h0m6 5h0m-5 12h0m6.5-77.5h0m4.5 2.5h0m2 1.5h0m-7 1h0m4.5 3h0m-3.5 0.5h0m6 1h0m0 46h0m-6.5 1h0m0.5 1h0m3.5 1.5h0m0.5 0h0m0.5 0h0m-2.5 2h0m-1.5 1h0m1 4h0m1.5 1h0m5.5-62h0m-2 8.5h0m0 1.5h0m1.5 0.5h0m-0.5 1h0m6.5 12.5h0m-1.5 9h0m0.5 1h0m0.5 1.5h0m0.5 8.5h0m-0.5 0.5h0m-6 4.5h0m5.5 1.5h0m-4.5 4.5h0m7.5-27.5h0m-1 3h0m0 2h0m2 7h0"/>
<path d="M115.5 750.5h0m4 15.5h0m-3.5 2h0m2.5 22.5h0m0 7h0m0.5 0.5h0m0.5 49.5h0m-1.5 11.5h0m3-139.5h0m4 2.5h0m2 5.5h0m-1 4.5h0m0.5 3h0m-3.5 0h0m-1 3h0m5 0h0m-6 0.5h0m3.5 0.5h0m-3.5 1h0m2.5 0.5h0m0 1h0m1.5 3h0m-0.5 1.5h0m0 5h0m0 0.5h0m-3.5 2h0m4.5 4.5h0m-2 1.5h0m0 1.5h0m-0.5 0h0m-2 2h0m5.5 2.5h0m1 4h0m-0.5 1h0m0 0.5h0m1 1.5h0m-2.5 1.5h0m-2.5 1h0m2.5 4h0m1.5 3h0m-1.5 2h0m-2 2h0m1 0.5h0m-2.5 3.5h0m-1 5.5h0m4 60.5h0m0.5 0h0m1 1h0m1.5 2h0m-3 0h0m9-145.5h0m2 4.5h0m-4.5 1.5h0m-2 6.5h0m4.5 3.5h0m-0.5 0h0m-1.5 2h0m-1 1.5h0m0 0.5h0m0.5 0.5h0m-1 42.5h0m0 1h0m2.5 4h0m3 3.5h0m-1.5 2h0m-2 0.5h0m-3.5 0.5h0m3 10h0m2.5 1h0m1.5 16h0m-1 2.5h0m-4.5 37h0m3 4h0m-5 1h0m13-175h0m-0.5 36.5h0m-2.5 6.5h0m-0.5 0h0m-1 0.5h0m-1 54h0m0.5 2h0m7 0.5h0m-1.5 3.5h0m-5.5 0.5h0m0 0.5h0m7 1.5h0m-0.5 14.5h0m-4.5 14.5h0m0.5 6h0m2.5 1h0m-0.5 17h0m1.5 2h0m-4 2.5h0m-2 3.5h0m5.5 1h0m-0.5 1h0m2 5h0m-2 2h0m7.5-147h0m3 1.5h0m-7 5h0m3 1h0m3.5 4.5h0m-3 58h0m-4 2.5h0m2.5 0h0m4.5 3h0m-6.5 5h0m1 46h0m-2 4.5h0m3.5 21h0m-3 0.5h0m14-160h0m-3 16.5h0m-2 4h0m1.5 0.5h0m-1 0.5h0m-0.5 53.5h0m6.5 13.5h0m-2 4.5h0m-3 46h0m1 21.5h0m10-150.5h0m-5 3h0m1.5 10.5h0m-0.5 1.5h0m1.5 5h0m4 3.5h0m-4.5 0.5h0m4.5 2h0m-2.5 5h0m2 4.5h0m-1 10h0m-0.5 0h0m-1 1.5h0m2.5 1h0m-1.5 0.5h0m0 1h0m0 5h0m-4.5 1h0m0.5 1h0m0 4.5h0m-1 0h0m6.5 1h0m-7 1.5h0m5.5 7h0m-4.5 2.5h0m2 6.5h0m-2 10h0m8-86h0m1.5 0h0m4.5 3.5h0m-6 4h0m3 7.5h0m-3 1.5h0m5.5 5h0m-4 0.5h0m4.5 7h0m0 1.5h0m-1.5 0h0m-1 6.5h0m-1 2h0m1 1h0m1.5 0.5h0m2 1.5h0m-4.5 0h0m1.5 0.5h0m1 0h0m0.5 2.5h0m-2.5 4h0m1.5 2h0m-2.5 1h0m-1.5 1h0m8.5-44h0m-1.5 7.5h0m3.5 1.5h0m2.5 1.5h0m-5 0.5h0m6.5 0.5h0m-3.5 3h0m-1.5 3.5h0m3.5 0h0m-4 0h0m3.5 2.5h0m-5.5 1h0m0.5 2.5h0m3 2.5h0m3 3h0m0.5 1.5h0m-2 2h0m-3.5 4.5h0m3.5 10h0m8-67h0m0.5 1h0m-1.5 3.5h0m6 17h0m-2 12h0m7.5 1.5h0m-3.5 3h0m1 9h0m-4.5 4.5h0m1 3.5h0m5.5 12.5h0m5-57.5h0m0 20.5h0m2.5 36.5h0m1-49.5h0m4.5 7.5h0m2.5 5h0m-4.5 21h0m0.5 2h0m45-15h0m-2.5 47.5h0m6.5-34h0m3.5 3.5h0m-1 0h0m-6.5 2h0m3 1h0m3 2h0m-2 4.5h0m-2 1.5h0m1 0.5h0m0.5 1h0m0 2h0m-3 1.5h0m2 9.5h0m-0.5 12h0m0.5 2h0m0.5 3h0m-2 0h0m0 1h0m5.5 2h0m0 3.5h0m0.5 3.5h0m5.5-66.5h0m2.5 7h0m-1.5 2h0m1.5 5h0m-6.5 0.5h0m2 1h0m0.5 0.5h0m-2 45h0m4.5 2h0m-5.5 0.5h0m8 1.5h0m-2.5 0h0m1 0h0m-0.5 0.5h0m-0.5 2h0m2.5-64.5h0m4.5 2.5h0m1.5 0.5h0m-0.5 0.5h0m-4 5h0m3 1h0m2 0.5h0m-3.5 0h0m1.5 0.5h0m-2.5 0.5h0m1 0h0m-2.5 1h0m5.5 0.5h0m-3.5 51h0m5 2h0m6-74h0m-2.5 17.5h0m4 0.5h0m-2 0h0m0 2h0m-2 50.5h0m4 1.5h0m-0.5 8h0m4.5-57h0m-2.5 4.5h0m0.5 0.5h0m-0.5 0.5h0m3 3h0m-1 1h0m4.5 1h0m1 5.5h0m-3 3h0m2.5 7.5h0m0 1.5h0m-2 8h0m2 0h0m0.5 4.5h0m-3 0.5h0m2 7h0m-3.5 2h0m5.5-22.5h0"/>
<path d="M112 742.5h0m4 5.5h0m4 1h0m-3.5 0h0m3 5.5h0m-3.5 10.5h0m1.5 0.5h0m2.5 18h0m-0.5 6h0m-4.5 6h0m-1 8.5h0m3 0.5h0m5-90h0m2.5 15h0m-1 4.5h0m0.5 3.5h0m-1.5 0.5h0m-1 2.5h0m0.5 3.5h0m2.5 2.5h0m1.5 0.5h0m-4.5 0.5h0m-0.5 2h0m2 0.5h0m0 2h0m0 2.5h0m1.5 1.5h0m0 4h0m1.5 8.5h0m1.5 0.5h0m0 0.5h0m-1.5 0.5h0m-3.5 1.5h0m0 1h0m5.5 1h0m-2.5 1.5h0m0 0h0m1.5 1h0m-1.5 2.5h0m-5.5 0h0m5.5 2.5h0m-1.5 1.5h0m-0.5 5.5h0m0 1h0m4.5 1.5h0m-0.5 1h0m-7 4.5h0m0 56h0m1.5 0.5h0m3 1h0m2 5h0m5-136.5h0m3 3h0m-6 1.5h0m0.5 3h0m3 0.5h0m0 0.5h0m-4 5.5h0m-0.5 2.5h0m1 34.5h0m3 8h0m-4 1.5h0m6.5 0h0m-1 1h0m1 9.5h0m-2.5 8h0m0.5 2h0m3 11.5h0m-1.5 38h0m1.5 0.5h0m-3.5 4.5h0m3 1h0m-2.5 4h0m3 4.5h0m7.5-153.5h0m-5.5 3.5h0m4 1.5h0m-2.5 2.5h0m0.5 1.5h0m-2.5 5.5h0m2.5 55h0m2 0.5h0m2.5 3h0m-6.5 4.5h0m1 2.5h0m-2 1.5h0m1.5 6h0m2.5 13.5h0m-4 3h0m1.5 4.5h0m-0.5 0.5h0m4 0.5h0m-2.5 2h0m2.5 14h0m0.5 8.5h0m-1 1.5h0m2 0.5h0m-6.5 1.5h0m1.5 2.5h0m2.5 0.5h0m-4 0.5h0m3.5 1h0m2 1h0m6-158.5h0m3.5 19.5h0m-0.5 65h0m0.5 0h0m-4 2.5h0m-3 4.5h0m4.5 0h0m0.5 1h0m1.5 18h0m-6.5 49h0m2 11h0m7-152.5h0m2 7h0m-3.5 1.5h0m1.5 3.5h0m4 1h0m-2.5 0h0m4 45.5h0m0.5 0.5h0m-2 2h0m1.5 0.5h0m-6 3.5h0m-0.5 0.5h0m0.5 1.5h0m2 0h0m-1 0.5h0m0 0.5h0m-2 9h0m1.5 18h0m14.5-100h0m-4.5 4.5h0m1 4.5h0m-4 5h0m0 0.5h0m6.5 0.5h0m-6 0.5h0m2 0.5h0m0.5 4.5h0m-2.5 5h0m5 10h0m0.5 0.5h0m1 0h0m-0.5 18.5h0m-1.5 6h0m1 3h0m0.5 2h0m-4.5 1h0m-2.5 0h0m7.5 4h0m-6.5 10.5h0m8-65.5h0m-0.5 3.5h0m7.5 3h0m-3 2.5h0m-2 0h0m-1.5 5.5h0m2 5h0m4 4.5h0m-5.5 4.5h0m6 0h0m-0.5 1.5h0m-6.5 2h0m0 8h0m2.5 2.5h0m3 9h0m-6 0.5h0m12.5-76h0m1.5 19h0m-6 3h0m0 8.5h0m0 0h0m-0.5 3.5h0m1.5 8h0m1 7h0m5.5 0h0m-3 1h0m-4 0.5h0m0 3.5h0m4.5 2h0m0.5 2h0m-5.5 6h0m6 2.5h0m0 1h0m-5 6h0m13.5-43h0m0 2h0m1 0h0m-2 2h0m-2 2.5h0m0.5 2.5h0m-1 6.5h0m-1 1h0m4 2h0m-6 8h0m3.5 5.5h0m-3 2h0m0 7h0m0 7.5h0m10.5-60.5h0m10.5 21h0m-5.5 7.5h0m10.5-12h0m41 44h0m1.5 7h0m6.5-41h0m-1.5 11h0m4.5 3h0m-1 1.5h0m0 0.5h0m1.5 3h0m-1.5 1.5h0m-4.5 5.5h0m1.5 1h0m-2 6.5h0m2 0.5h0m-0.5 3h0m-2 3h0m-0.5 1h0m1 1h0m-1 5h0m2.5 2.5h0m0 3h0m2 6.5h0m0 0.5h0m1.5 1h0m1.5 0h0m-2 2h0m-2.5 1h0m-1 7h0m7.5-77h0m0.5 8.5h0m3.5 2.5h0m-2 2.5h0m-2 2.5h0m1 1.5h0m3.5 0h0m-2.5 0.5h0m-1 2.5h0m4.5 2.5h0m-3 0.5h0m-2.5 0h0m3.5 1.5h0m0 0.5h0m-4.5 42.5h0m2.5 3h0m2 3h0m2 2.5h0m-2 5.5h0m0 2.5h0m3.5-84h0m6.5 5.5h0m0 11.5h0m-2.5 0.5h0m-1.5 2h0m-1.5 56h0m3.5 0h0m1 3h0m-0.5 4.5h0m-1.5 2h0m8-62.5h0m0.5 0h0m1 53.5h0m-4.5 2.5h0m0.5 1.5h0m4.5 1.5h0m-3.5 0.5h0m2.5 7.5h0m5.5-73h0m-2 10.5h0m4.5 3.5h0m-4 1h0m5.5 23.5h0m-1 9h0m-1.5 1h0m2 2h0m-1.5 0.5h0m-3 1h0m2 2h0m-3 0.5h0m6 0h0m-6 2h0m4 0.5h0m-1 3h0m7.5-47h0m-0.5 26h0m-0.5 7h0m-0.5 0.5h0"/>
<path d="M117.5 744h0m-1.5 0.5h0m3.5 13h0m0 6h0m-0.5 18h0m-0.5 0.5h0m-3.5 1.5h0m4.5 9.5h0m0 3.5h0m-0.5 2.5h0m-2.5 40h0m5.5-120.5h0m5 10.5h0m-0.5 0.5h0m0.5 1.5h0m-2.5 3h0m0.5 4h0m2 3.5h0m-1.5 0.5h0m-0.5 7.5h0m-4 1h0m3.5 0.5h0m-1.5 1.5h0m1 2h0m0 5.5h0m0.5 1h0m-1 3h0m2 1.5h0m-2 3h0m4 4h0m-2 1h0m-2.5 2.5h0m1.5 1.5h0m-4 1.5h0m7 10h0m0 3h0m-7 5h0m4 57h0m-3.5 0.5h0m4 0h0m-2.5 1.5h0m-0.5 1h0m0.5 0h0m3.5 5h0m10-138h0m-2 0h0m-4.5 6h0m-0.5 1h0m-0.5 2.5h0m2 0h0m0 1h0m-2.5 2h0m0.5 1.5h0m0.5 36.5h0m2 4h0m2 0h0m1 3.5h0m-1 0h0m2.5 1h0m-4 3h0m3.5 2h0m-3.5 1.5h0m1.5 2h0m2 21.5h0m0 1.5h0m-5 39h0m0 0.5h0m0 6.5h0m2.5 1h0m0 2h0m10-151.5h0m1.5 6.5h0m-3 1h0m-3 0.5h0m6 4h0m-2 2h0m-1 0.5h0m-4.5 59h0m4 0h0m1 1h0m0 1h0m-2.5 1h0m0 3h0m4 1h0m-5.5 0h0m-1 0h0m2 13.5h0m1.5 4.5h0m-1.5 3.5h0m3 7h0m-1 3h0m1 3h0m1 10h0m0.5 2.5h0m-2.5 8h0m-1 1h0m-3 4.5h0m1.5 0.5h0m5.5 1h0m-1 2h0m-4.5 1h0m0.5 2h0m5 5h0m7.5-147h0m-3 3.5h0m-3 3.5h0m1 60.5h0m0.5 0.5h0m-1 4h0m-0.5 3.5h0m5.5 3.5h0m-4.5 3.5h0m2.5 8h0m7.5-94h0m-1.5 7h0m4 1.5h0m-5.5 1h0m0 0.5h0m2.5 3h0m-3 1h0m6 0h0m-1 2.5h0m1 1h0m-0.5 1.5h0m1 0.5h0m0.5 42h0m-2.5 2h0m-1 1h0m-1.5 2h0m-1 0.5h0m4 0.5h0m-5.5 0.5h0m5.5 0.5h0m-1 1h0m-1 0.5h0m-0.5 3.5h0m3 0.5h0m-3 7.5h0m1 1.5h0m-2 0h0m6-74h0m4 1h0m2.5 0.5h0m0 8.5h0m-2 1h0m-1 5h0m0 2.5h0m2.5 5.5h0m1 3h0m-0.5 0.5h0m0 9.5h0m-2 2.5h0m2.5 0.5h0m0.5 4h0m-4.5 0.5h0m3 0h0m-1.5 1h0m-2 1h0m-1.5 1.5h0m6 1h0m0.5 2.5h0m-4 9h0m3.5 1h0m-3.5 0h0m-1.5 7h0m2.5 0.5h0m4.5-77h0m4.5 9h0m-3.5 7.5h0m2.5 7h0m0.5 6.5h0m2 5h0m-2 9h0m-1.5 1h0m2.5 0h0m0 6.5h0m1.5 14.5h0m4.5-49.5h0m1 11.5h0m-2.5 5.5h0m1 0.5h0m-2.5 3h0m1 0.5h0m3.5 1.5h0m-1 1h0m1 2.5h0m2.5 13.5h0m4.5-28h0m1 0.5h0m-2.5 1h0m3 7h0m-4.5 2h0m5 3.5h0m0 2h0m-5 7h0m3.5 1.5h0m10.5-60.5h0m0 13h0m-0.5 14h0m-6.5 7.5h0m6 15.5h0m-4 10h0m0 8h0m0 6h0m2.5 1h0m4-71.5h0m5.5 28.5h0m-3 11.5h0m2 10h0m-5.5 2.5h0m10.5-8h0m31 13h0m13.5 0.5h0m-3 5h0m-3 8.5h0m2 7.5h0m4.5 5.5h0m5.5-44.5h0m-3 12h0m0.5 5.5h0m-0.5 0.5h0m5.5 2h0m-6.5 9h0m2.5 0.5h0m-2.5 4h0m-1 6.5h0m2 8.5h0m-0.5 1h0m0 4h0m13.5-44.5h0m-0.5 0.5h0m0 0.5h0m-1.5 4.5h0m-1 1h0m-2.5 0.5h0m-0.5 1h0m2 45.5h0m4 3h0m-6.5 1h0m3 6.5h0m5-82.5h0m3 12.5h0m-2 0h0m-1 0.5h0m0 2h0m6.5 0.5h0m-4.5 2.5h0m5.5 0h0m-1.5 0h0m-1 0.5h0m1.5 3h0m-6.5 1.5h0m5 0.5h0m-5.5 50.5h0m0.5 0h0m3.5 2.5h0m-0.5 1h0m-3 0h0m0.5 4.5h0m4 7h0m-2 5h0m9.5-86.5h0m-2 8.5h0m-1 3h0m6 1.5h0m-4.5 1h0m2 5h0m1 3.5h0m1.5 2.5h0m-0.5 39.5h0m-4.5 3h0m-2 0.5h0m0 0.5h0m6.5 0h0m-1.5 3h0m2.5 5.5h0m3.5-58.5h0m3.5 5.5h0m-4 2.5h0m3 5.5h0m0.5 4h0m0 15h0m-1 1.5h0m-1.5 7h0m-1.5 2.5h0m0 0.5h0m-1.5 11h0m0.5 2h0m10-32h0"/>
<path d="M119 738h0m-3 3h0m3.5 11h0m-1.5 2h0m0.5 9.5h0m-4 5h0m4.5 5.5h0m-3.5 7h0m1.5 17h0m0.5 4h0m-2.5 5h0m0.5 23h0m4.5 20h0m4-131h0m-3.5 5.5h0m5 2.5h0m2 3h0m-5.5 0h0m2 0.5h0m2 3h0m0 0.5h0m-1 3.5h0m3 2h0m-7.5 1h0m3 0.5h0m2.5 8.5h0m-3.5 3.5h0m2 1.5h0m-4.5 0.5h0m1 0.5h0m2.5 3h0m0.5 0h0m1 2h0m-0.5 0h0m-4 0h0m4 1.5h0m-2.5 2h0m4 0h0m-3 0h0m0 3.5h0m2.5 0.5h0m2 2.5h0m0 0.5h0m-0.5 1.5h0m0.5 0.5h0m-4.5 9.5h0m1.5 1h0m-4.5 1h0m7.5 4.5h0m-5 2h0m-2 4.5h0m0 1h0m-0.5 1h0m0 50h0m1.5 2.5h0m1.5 2.5h0m-1.5 0h0m3.5 2h0m-2 1.5h0m11-144.5h0m1.5 8.5h0m-1 2h0m-5 0h0m3 8.5h0m-0.5 2h0m-4 1.5h0m2.5 0h0m-1 1h0m-1.5 38.5h0m3 3h0m2 3.5h0m-3 0h0m4 0.5h0m0 1h0m0 1.5h0m-3 0.5h0m3 0.5h0m0.5 0h0m-6.5 2h0m0.5 2.5h0m3.5 0.5h0m-0.5 1.5h0m-3 1.5h0m1 0.5h0m0.5 2.5h0m3 3h0m1 2.5h0m0 52.5h0m-6 0.5h0m3 2h0m0.5 0.5h0m2.5 4.5h0m7.5-152.5h0m-3 11.5h0m1.5 64.5h0m-4 2h0m5.5 4.5h0m-3.5 0.5h0m3 2.5h0m-3 0.5h0m-1.5 26.5h0m5 10.5h0m-0.5 11h0m-0.5 1h0m0.5 0.5h0m-1 3h0m1 0.5h0m-3.5 2h0m-0.5 0.5h0m7 0h0m-4 0h0m-3 1h0m-1 1h0m1 0h0m-1 1h0m4 0h0m1.5 3h0m9.5-138h0m-2 2.5h0m1 0.5h0m1.5 5.5h0m-3 0h0m0 0h0m2.5 0h0m0 1h0m0 57h0m-3 3h0m-0.5 0.5h0m0.5 0.5h0m-1.5 0.5h0m5 0.5h0m0 3h0m-2.5 4h0m1 1.5h0m1.5 4h0m-6.5 38h0m-0.5 2.5h0m3 4.5h0m5.5-136h0m2.5 0.5h0m-3 5h0m6 7h0m0.5 3.5h0m-6.5 1h0m5 0.5h0m2 3.5h0m-1.5 50.5h0m1.5 1h0m0.5 0h0m-6 0.5h0m-1.5 1.5h0m0 2h0m3.5 0.5h0m-2.5 5h0m4.5 3h0m-0.5 62h0m-5.5 5h0m11.5-137h0m3.5 6.5h0m-4 2h0m4 1h0m-6 0h0m5.5 1.5h0m-2.5 4h0m1 3.5h0m-0.5 0h0m2 2.5h0m-0.5 0h0m1 6h0m0 0h0m-2.5 10.5h0m0 3h0m0.5 0.5h0m2.5 0.5h0m-4.5 1.5h0m1.5 0h0m-2.5 4h0m6 1h0m-5.5 2.5h0m-0.5 13h0m7.5-66.5h0m-0.5 4h0m1 7.5h0m5 3.5h0m-5 2h0m1.5 1.5h0m1 1h0m1 7.5h0m-1.5 0h0m0.5 2h0m2 1.5h0m-6 2h0m3.5 8h0m3.5 4.5h0m-0.5 1.5h0m-1.5 4.5h0m0 6h0m6-58h0m-3 6h0m1 13h0m-1 4.5h0m-0.5 3h0m2.5 1.5h0m0 3h0m4 3h0m-3 23.5h0m3 1.5h0m4.5-53h0m-2 16.5h0m3.5 3.5h0m3.5 9h0m-5 20.5h0m11-36.5h0m-1 14.5h0m-3 5h0m-1 17h0m10.5-28.5h0m2.5 2h0m-3 5.5h0m9-22.5h0m-2.5 2.5h0m9.5 24h0m40.5-28h0m0 30.5h0m2.5 0h0m1 6h0m-3 1h0m-0.5 2h0m-1 4h0m1 3h0m-1 0.5h0m0 3h0m-0.5 8h0m0 12h0m2.5 4h0m1.5 2h0m0 2h0m1.5 3.5h0m8-58h0m-5 5h0m-1.5 4.5h0m3.5 1h0m-2 0.5h0m4.5 47.5h0m-4 0.5h0m-2.5 1h0m4.5 0.5h0m2.5 3.5h0m-3.5 3h0m10.5-70.5h0m-5 1h0m5.5 8h0m-3.5 0h0m0 1h0m4 0.5h0m-5 0.5h0m0 0.5h0m3 53h0m-3.5 0.5h0m-2 0h0m3.5 0h0m-1.5 2.5h0m-1.5 12h0m7.5-75h0m5 9h0m-1 1.5h0m-1 0.5h0m-1 0.5h0m6 2.5h0m-1 42h0m1 0h0m-2.5 1.5h0m-2 3.5h0m2 4.5h0m2 0.5h0m2-59h0m4.5 5h0m-2 3h0m1 1.5h0m-4 2h0m4 2.5h0m-2.5 0h0m3.5 21.5h0m0 4h0m-2 3.5h0m0.5 0h0m1 3.5h0m-4 6.5h0m2.5 6h0"/>
<path d="M117.5 727h0m-2.5 24h0m1.5 20h0m3 5h0m-2 1.5h0m2 6.5h0m-1.5 6h0m1.5 2h0m-1.5 3h0m-1.5 5.5h0m0 3h0m-2 2.5h0m2 2h0m-0.5 1.5h0m-1 0.5h0m1 23h0m1.5 9h0m2 7h0m6.5-129h0m-0.5 4h0m-2 11.5h0m3 1h0m-3 0h0m1.5 0.5h0m2.5 0.5h0m-2 4h0m0.5 4h0m0 0.5h0m-5 1.5h0m2.5 3.5h0m0.5 0.5h0m-0.5 2.5h0m2 4h0m0 0.5h0m-2.5 0.5h0m-0.5 4h0m-1 2h0m-1.5 1h0m4.5 1.5h0m1.5 2.5h0m-4.5 2h0m5.5 0.5h0m-0.5 2.5h0m1 4h0m-1 3h0m-2 0.5h0m-2 11h0m1 59h0m0.5 1h0m-0.5 3.5h0m-3 1h0m3 0h0m7-133.5h0m0 0h0m4 3.5h0m-1 1.5h0m-5 0.5h0m4.5 0.5h0m-3.5 1h0m-0.5 0.5h0m3 0h0m-2 1h0m-0.5 1h0m-1 1.5h0m0.5 40h0m5.5 8.5h0m-3.5 0.5h0m-2 6.5h0m5 2h0m1 2h0m-5 0.5h0m4.5 15.5h0m-5 43h0m2.5 2h0m2.5 6h0m-2.5 4.5h0m7-160.5h0m3.5 13.5h0m-3 0.5h0m-1 0.5h0m4.5 3.5h0m-5.5 3.5h0m2.5 55.5h0m1.5 0.5h0m1.5 1h0m1 3h0m-6 2h0m-1.5 0.5h0m5 0.5h0m-0.5 5h0m1 3h0m-4.5 5h0m0.5 16h0m3 20.5h0m1.5 2.5h0m-2.5 2h0m0.5 2h0m-3.5 5.5h0m0 1h0m-0.5 3h0m4.5 5h0m2.5 1h0m-0.5 3.5h0m4-169.5h0m-1.5 7.5h0m1.5 2h0m-1 3.5h0m4 6h0m-4.5 5h0m5.5 64.5h0m-1.5 3.5h0m0.5 3.5h0m-4 6.5h0m4 15.5h0m-4.5 33.5h0m2.5 12.5h0m1 0.5h0m5-160.5h0m3 15h0m-4 1.5h0m2.5 5.5h0m-3.5 4.5h0m1.5 3h0m6 0.5h0m-2 49h0m0 3.5h0m-5 5h0m2.5 1.5h0m2 0.5h0m-1.5 0.5h0m-2.5 2.5h0m-0.5 2.5h0m4 3.5h0m-3.5 0h0m4 4.5h0m5.5-87h0m-2 2h0m-0.5 1.5h0m3.5 7.5h0m-2.5 1h0m2 0.5h0m0 6h0m1.5 1h0m-3.5 0.5h0m4 2h0m-3.5 0h0m3.5 3.5h0m2.5 0.5h0m-1 4.5h0m0 12.5h0m1.5 3.5h0m-2.5 3h0m-1 4h0m2.5 1.5h0m-2 7.5h0m2.5 0h0m0 2.5h0m-7 3.5h0m2 9.5h0m9.5-71.5h0m-2 4.5h0m2 0.5h0m-3.5 2h0m1 4.5h0m6.5 2h0m-7.5 4.5h0m1 0h0m3 0.5h0m-2.5 10h0m2 1.5h0m-3.5 1h0m2 0h0m5 7.5h0m-0.5 3h0m-1 4.5h0m-1 0.5h0m-0.5 12h0m-3 9.5h0m9.5-61h0m2.5 2.5h0m0 2h0m-4.5 10h0m0 1.5h0m0.5 7.5h0m5.5 1.5h0m-4 1h0m0.5 0.5h0m0 0h0m-2 4.5h0m4 4.5h0m2.5 4h0m-3.5 1h0m5.5-29.5h0m4.5 1h0m-6 0.5h0m1 16h0m1 6.5h0m0 3.5h0m1 5h0m2 2h0m6-34.5h0m-1.5 5h0m-1 6.5h0m0.5 10.5h0m6.5 2.5h0m-2 12h0m6.5-40h0m-2.5 1h0m0.5 8h0m-2 8.5h0m8.5 5h0m7 0.5h0m20.5-1h0m7 6h0m-3 8.5h0m13 2.5h0m-1.5 12.5h0m4 2h0m-2 3h0m4.5-29h0m4.5 3h0m0 0h0m-3 4.5h0m-3 0.5h0m5 0.5h0m-0.5 0.5h0m-2.5 4h0m1 1h0m-3.5 6h0m0 15.5h0m1.5 3h0m-0.5 2h0m0.5 3h0m3 4h0m10-54.5h0m-4 2h0m5 4.5h0m-3.5 0.5h0m-3 1.5h0m-0.5 0.5h0m3 1h0m-1.5 0h0m0 45.5h0m2.5 0h0m-0.5 0h0m1 0.5h0m-0.5 1.5h0m2 3h0m7-59h0m-1 1h0m0.5 1h0m-5 0h0m6.5 0h0m0.5 3.5h0m-1 1h0m0.5 0.5h0m-6 50h0m4.5 3h0m2 9.5h0m0.5-77h0m1 3.5h0m2.5 4h0m-1 5h0m3 2.5h0m-3 2h0m4.5 3h0m0.5 42.5h0m-3.5 2h0m2 0h0m-4 1.5h0m0.5 0h0m-1.5 1h0m4 4.5h0m-3 6.5h0m6.5-67h0m0.5 0.5h0m6.5 24.5h0m-2 1.5h0m1 6h0m1 4.5h0m-3.5 11h0m-0.5 5h0m2 0.5h0m-4.5 3h0m-0.5 4h0m8-45h0m1 31h0m0.5 7h0m-0.5 2h0"/>
<path d="M119 747h0m-0.5 0.5h0m1 3h0m0 8h0m-2 7h0m0.5 17.5h0m0 1.5h0m-4.5 2.5h0m6.5 6h0m-2 5.5h0m-1.5 1.5h0m0.5 38.5h0m-0.5 6.5h0m8-132.5h0m3 17h0m-1 1.5h0m-3.5 0.5h0m4 5h0m-2 1.5h0m-1.5 5.5h0m1 2h0m-1.5 0h0m0 1.5h0m-1.5 1.5h0m2.5 3h0m-4 5h0m3.5 1h0m1.5 1h0m-3 3h0m-2 0h0m0.5 3.5h0m0 3.5h0m-0.5 2h0m5.5 2h0m2 2.5h0m-1.5 2h0m0.5 1h0m-4.5 5h0m1.5 1.5h0m-1 1h0m4.5 0h0m-6 1.5h0m6 2.5h0m-6.5 4h0m1 55.5h0m0.5 3h0m-1 0h0m2.5 1h0m3 2h0m-3 1.5h0m2.5 5.5h0m1.5 2h0m6.5-138h0m-2 0.5h0m2 1.5h0m0.5 1h0m-3 0h0m0 0.5h0m-1.5 1h0m-1 4.5h0m0 40.5h0m2 2h0m0 1.5h0m0 0h0m2 0.5h0m-4.5 0.5h0m1.5 2h0m-0.5 0.5h0m5.5 26h0m0.5 43h0m-6 3h0m6.5 1.5h0m-3 2.5h0m-3.5 0.5h0m0 1h0m3 6h0m11-149h0m-1 2h0m-4.5 5h0m1 2h0m1.5 1h0m-1.5 0h0m-0.5 55.5h0m3 3h0m0.5 1.5h0m-3.5 1.5h0m1.5 2h0m-3.5 1h0m4 3.5h0m3 0.5h0m-7 20h0m3.5 9h0m1 5h0m0.5 4.5h0m-1.5 9h0m1 1.5h0m-1.5 1.5h0m-0.5 0h0m1.5 1.5h0m-4 2.5h0m3 0h0m-2 11.5h0m4 5h0m3-155h0m1 1.5h0m2.5 8.5h0m0 2h0m-1.5 1.5h0m2.5 0.5h0m0.5 58h0m-1 0.5h0m1.5 1h0m1 3.5h0m-2.5 2.5h0m0.5 0h0m-1 0.5h0m-3 11h0m-0.5 33.5h0m3.5 0.5h0m-2.5 5h0m3.5 6.5h0m-1.5 4h0m-2.5 2h0m0 2.5h0m14.5-138.5h0m-5.5 2.5h0m2 1h0m-1 1.5h0m2.5 0.5h0m-1.5 3.5h0m1 0h0m-2 0h0m-2 2h0m7 0h0m-4.5 1.5h0m0.5 0h0m3.5 47.5h0m-3 0.5h0m0 0.5h0m0.5 1.5h0m-1.5 2.5h0m0.5 2.5h0m-2 0h0m4 0.5h0m7.5-63h0m-5 0.5h0m5 7.5h0m-2 0.5h0m-3 0h0m3 2h0m1 0.5h0m2 3.5h0m-4.5 0.5h0m5 21h0m-2 3.5h0m1.5 1.5h0m0.5 3.5h0m-4.5 0.5h0m1.5 1.5h0m1.5 0h0m-4 1h0m1.5 3h0m1 1.5h0m-3.5 1h0m1 3.5h0m1 3.5h0m6.5-70h0m0 18h0m2.5 7.5h0m-0.5 1h0m-3 0h0m2.5 0.5h0m5 1.5h0m-0.5 0.5h0m-1 1h0m0.5 0h0m-1 1h0m-4.5 0h0m6 1h0m-4.5 2.5h0m-2 4h0m7 0.5h0m0 2.5h0m-2.5 2h0m1 4h0m0.5 0.5h0m-5 3.5h0m3.5 0.5h0m1 1h0m-2.5 0.5h0m2.5 14h0m6.5-61.5h0m-2 20h0m-1 2.5h0m1.5 1h0m-0.5 1h0m0.5 0.5h0m2 0h0m-4 1.5h0m-1 1.5h0m7 1.5h0m-2 4.5h0m-2.5 2h0m-0.5 1h0m0.5 0h0m5.5 5h0m-5.5 0.5h0m4 2.5h0m-5 1.5h0m0.5 6.5h0m1 1h0m1.5 0h0m3.5-41.5h0m1 8h0m3.5 10h0m-1 1.5h0m2.5 0h0m-3.5 5h0m7.5-9h0m3 19h0m10.5-9.5h0m2-22h0m4.5 2.5h0m2.5 37h0m22.5-28h0m17.5 23.5h0m3 0h0m-0.5 4h0m-2 5h0m-1 7h0m2 6.5h0m-1.5 2.5h0m1.5 2h0m-1.5 5h0m2.5 6h0m9.5-55h0m2 1h0m-3 10h0m2.5 2h0m-6 3h0m1.5 42.5h0m3.5 3.5h0m2.5 2h0m-3 1h0m3 0.5h0m2-63h0m3.5 2.5h0m-0.5 6.5h0m3.5 1h0m-0.5 1h0m-1 50h0m-1.5 1.5h0m-4 0h0m7 1h0m-1 1h0m-6 0h0m7.5-85h0m1 26h0m-0.5 2.5h0m3.5 0h0m-2.5 1.5h0m0 4h0m4.5 0.5h0m-1 1.5h0m-3.5 44.5h0m-1 1h0m6 1h0m2-56h0m0.5 3h0m0.5 7.5h0m-0.5 1h0m2.5 2h0m1.5 12h0m1.5 6h0m-1 3.5h0m1 8h0m-1.5 4h0m-3 1.5h0m-1.5 1.5h0m0.5 5h0m-0.5 0.5h0m4.5 1.5h0m0 4.5h0m4-36.5h0m-0.5 4h0m-0.5 7.5h0m2 9.5h0m-1.5 2h0m-0.5 7h0"/>
<path d="M116 719h0m3.5 25.5h0m-5.5 3.5h0m3.5 1h0m-3.5 16h0m3.5 11.5h0m0 8.5h0m1.5 2.5h0m0.5 0h0m-0.5 0.5h0m-4 4h0m3.5 2h0m0.5 0.5h0m-3 0h0m0.5 42h0m3 11h0m4-120h0m0 0.5h0m2 2h0m-3.5 2.5h0m4.5 0h0m1.5 3.5h0m-7.5 0.5h0m1.5 0h0m3.5 1h0m0.5 3h0m-5 10h0m1.5 6h0m3 0.5h0m0 0.5h0m-3 3h0m0 2h0m2 1.5h0m-0.5 3h0m-2.5 1h0m5.5 2h0m-3.5 2h0m-1 1h0m0 2h0m3 0.5h0m0.5 1h0m1 1.5h0m-5.5 5.5h0m1 1.5h0m-1 5.5h0m0 2h0m0 60.5h0m2 2h0m2 0.5h0m0.5 0.5h0m-0.5 2h0m7-151.5h0m3 10.5h0m-6.5 3.5h0m-0.5 1h0m6.5 1h0m-4.5 0.5h0m4 1.5h0m-2 2h0m1.5 2.5h0m-6 0.5h0m3 4.5h0m4 47h0m-3 0h0m-0.5 0h0m-2.5 2.5h0m6.5 2h0m-4 0.5h0m4 0.5h0m-6 2h0m1 7.5h0m0.5 0.5h0m2 0h0m2.5 22h0m-0.5 35.5h0m-0.5 2h0m-4 0.5h0m-2 3.5h0m-0.5 7.5h0m11.5-165h0m-2.5 2h0m5 6.5h0m-6 5h0m5.5 0h0m2 3h0m-4 0.5h0m1.5 0.5h0m-2 0h0m4.5 1.5h0m-1 2.5h0m-2 0h0m-1.5 0h0m-0.5 2h0m1 57.5h0m0.5 4.5h0m-2.5 1h0m5.5 0.5h0m-4.5 0.5h0m2 0h0m-2.5 0h0m-1.5 22.5h0m1.5 8h0m3.5 15h0m0.5 5h0m1.5 1h0m-3 7.5h0m1.5 3h0m-4.5 1h0m2.5 3h0m-4 0.5h0m0 1h0m3 2h0m-1 9h0m9.5-156h0m-2 0.5h0m-0.5 3h0m0 4h0m-0.5 0.5h0m3.5 1.5h0m-1.5 0.5h0m2.5 1.5h0m-1 2h0m0.5 0.5h0m1 56.5h0m-2.5 2h0m0.5 0.5h0m-3.5 0h0m0.5 4.5h0m7 6.5h0m-5.5 63.5h0m-0.5 9h0m13.5-154.5h0m-5.5 2.5h0m5 4h0m0 0.5h0m-1 3h0m1 0h0m1.5 2h0m0 4.5h0m0 44h0m-1.5 3.5h0m-5.5 3h0m6 0.5h0m1 2.5h0m-6.5 0.5h0m3 2.5h0m1 61h0m5.5-127h0m2.5 4h0m-1 1.5h0m0 3.5h0m3.5 0h0m0 0.5h0m-3 6.5h0m-1 1h0m1.5 6.5h0m1 1h0m-1 1h0m1.5 0.5h0m-0.5 11.5h0m-1 1h0m-0.5 8.5h0m-3 0.5h0m-1 2h0m1 0.5h0m-0.5 0.5h0m-1 1h0m7.5 1.5h0m-1.5 3h0m-2.5 1h0m9.5-48.5h0m-4 0h0m0.5 1h0m1.5 5.5h0m-2 2h0m5 3.5h0m0 0.5h0m-3 3.5h0m-2.5 2.5h0m6 4h0m0.5 4h0m-3 5.5h0m3 0h0m-6 1h0m2 0.5h0m-0.5 5h0m1.5 3.5h0m-4 2.5h0m4.5 4h0m6-60.5h0m1.5 8.5h0m3 6h0m-1 0h0m-6.5 2.5h0m6 1h0m0 6.5h0m-0.5 5h0m1 13h0m0 0.5h0m-0.5 5.5h0m-1.5 4h0m0.5 1h0m6-54h0m1.5 14.5h0m-0.5 12.5h0m-3 7.5h0m7 12.5h0m-3 1h0m3.5-32.5h0m6.5 45h0m6-46.5h0m-1 6h0m-3 7.5h0m4.5 0.5h0m7 9.5h0m20.5-19.5h0m15-1.5h0m1.5 45.5h0m5 29.5h0m7.5-39h0m-1.5 1h0m0 0.5h0m1.5 0h0m-2.5 7h0m-0.5 22h0m0.5 3.5h0m1 3h0m1.5 1h0m-4 3h0m6-50h0m6 1h0m-4 0.5h0m2.5 3h0m-3 1.5h0m-1 44.5h0m-0.5 0.5h0m1.5 1h0m1.5 5h0m12.5-59.5h0m-6.5 1.5h0m4.5 0h0m-5 0.5h0m6 55.5h0m0.5 0.5h0m-4 1h0m0 4.5h0m11.5-66h0m-5 1.5h0m2 1.5h0m-0.5 0h0m-1.5 1h0m1 0.5h0m-0.5 1.5h0m5 1h0m1 1h0m-8 1h0m7.5 3h0m-2 1.5h0m0.5 1h0m1.5 41.5h0m-2 3h0m1 1h0m-4 1h0m3.5 2h0m-6 2h0m2.5 1.5h0m2 1h0m6.5-53.5h0m-2.5 3h0m2 6h0m3.5 0h0m1.5 2h0m-3 2.5h0m0 0.5h0m1.5 9h0m0.5 10.5h0m-1 2h0m0 0.5h0m-0.5 2h0m-1.5 1.5h0m-3 8h0m7 2h0m-5 2.5h0m5.5-40.5h0m3 8.5h0m0 8h0m-2.5 0.5h0m0 0h0m0.5 4h0"/>
<path d="M119.5 735.5h0m-2.5 5h0m-0.5 8h0m3.5 13.5h0m-2.5 3h0m0.5 17.5h0m-2.5 10.5h0m1 8h0m1 49.5h0m2.5 4h0m6.5-124.5h0m1 0.5h0m-4 7h0m3 0.5h0m0 0.5h0m1 3.5h0m-3.5 1h0m-1.5 3h0m1.5 1.5h0m1.5 2h0m0.5 0.5h0m-5.5 1.5h0m2.5 0h0m0 2.5h0m1 6.5h0m0.5 0h0m-2 3.5h0m2 1h0m0 1h0m2.5 3h0m-5 2h0m-0.5 1h0m3.5 2h0m1.5 7h0m-5.5 1.5h0m3 1h0m-3 1.5h0m2 2.5h0m0 1h0m4.5 2h0m-3.5 1.5h0m-2.5 1.5h0m-0.5 2h0m1 55h0m1.5 2h0m0.5 2h0m0.5 2.5h0m-2 0.5h0m13.5-140h0m-4.5 7.5h0m3 0h0m1 0.5h0m-2 2h0m-5 1h0m5 0.5h0m-2.5 0.5h0m2.5 0h0m-1 2h0m-0.5 1.5h0m-2 1h0m-1.5 3.5h0m0.5 39h0m-0.5 2h0m0.5 0h0m3.5 0h0m2 2.5h0m-1.5 0h0m-4.5 1.5h0m6.5 4h0m-6.5 2.5h0m3 2h0m-0.5 1.5h0m3 0h0m-1.5 0h0m-2.5 2h0m1 0h0m-0.5 2.5h0m4.5 1.5h0m-3.5 0.5h0m1.5 0.5h0m3 19h0m-2.5 40h0m5-146h0m0.5 2h0m0 1.5h0m3.5 6.5h0m-1 2.5h0m1 0.5h0m-2 58h0m-4.5 1h0m5 3.5h0m-3 2h0m3 0.5h0m-0.5 1h0m-1 1.5h0m-0.5 0.5h0m0.5 0h0m2 24h0m-1.5 2h0m-3.5 0.5h0m6.5 6.5h0m-1.5 20.5h0m-3 0.5h0m4 0h0m1 2h0m-7 0h0m0.5 6.5h0m4.5 4h0m-0.5 5.5h0m8-160h0m-3.5 9h0m-0.5 2h0m2.5 1.5h0m3 1h0m-1 1h0m-3.5 2h0m3 3.5h0m2.5 57.5h0m-7 1.5h0m4.5 1h0m2 4h0m-1 0h0m-3.5 55.5h0m13-138.5h0m-3.5 10.5h0m-2.5 0.5h0m-0.5 3h0m0.5 7.5h0m2.5 1h0m2 1.5h0m-2.5 0h0m1.5 1h0m1 45h0m0.5 3h0m-4.5 1h0m3 0.5h0m2 5h0m0.5 1h0m-7.5 1h0m7.5 0.5h0m-0.5 1h0m-4.5 0h0m1 3h0m-3 0h0m7 4h0m1-93.5h0m5.5 13h0m-3.5 11.5h0m2 4h0m2 0h0m1 2.5h0m-4 1h0m2 3h0m1 7h0m-0.5 1.5h0m1.5 4h0m0 1h0m0.5 2h0m-3 7h0m0 0.5h0m0.5 4h0m-0.5 2h0m-2.5 1h0m0.5 1h0m-0.5 0.5h0m5 4.5h0m-2.5 0.5h0m-1.5 2h0m3.5 3.5h0m-1.5 2h0m0.5 7.5h0m5.5-76h0m3 6.5h0m-5.5 3h0m3 20.5h0m0 2.5h0m3.5 6h0m-7 2h0m1 2.5h0m-1 2h0m1.5 3h0m0.5 0.5h0m0.5 2h0m4.5 1h0m-1 1h0m-0.5 3h0m7.5-49h0m-2 7h0m-2.5 4.5h0m3.5 4.5h0m-3 1h0m0.5 2.5h0m3.5 1.5h0m-2.5 4h0m-2 3.5h0m4 1h0m0.5 4h0m-5 4.5h0m3.5 1h0m0 3.5h0m0 12h0m6.5-43h0m-1 1.5h0m6 23h0m-6 2.5h0m0.5 6.5h0m11.5-32h0m-4 3h0m2 15h0m9-29.5h0m11 4.5h0m-2.5 21.5h0m-1.5 18h0m31-33h0m12.5 35.5h0m-1 33h0m3-46h0m6.5 1h0m0 10h0m-4.5 3h0m-2.5 3.5h0m3.5 0.5h0m0.5 0.5h0m-0.5 2.5h0m-2.5 1h0m0.5 8h0m2 17h0m-2 2h0m3 0h0m-1.5 0.5h0m0 0h0m-1.5 4h0m-1 3.5h0m6 2h0m1-66.5h0m7.5 5h0m-0.5 1.5h0m-2 6.5h0m-4 4.5h0m5 0h0m2 0.5h0m-2.5 1h0m-4 45.5h0m2 0.5h0m0.5 1.5h0m1 5h0m-2.5 3.5h0m8.5-66h0m-2.5 2.5h0m5 1h0m0.5 2h0m0 2h0m-0.5 54h0m-0.5 0h0m-3 5h0m13-68.5h0m-2.5 5h0m-0.5 1.5h0m-3.5 5.5h0m1.5 0h0m0 0h0m-1 1.5h0m2.5 0.5h0m0 0.5h0m3.5 1.5h0m-1 0.5h0m1 44h0m-3.5 0.5h0m2.5 0h0m-2 0h0m2.5 0h0m-4 0.5h0m-1 0.5h0m-0.5 0.5h0m6 1.5h0m-2.5 1h0m0.5 0.5h0m2.5 0.5h0m4-39h0m2 3.5h0m2 9h0m-2 11h0m0 3h0m-1.5 2.5h0m4 1h0m-5 7.5h0m6.5-44h0m0.5 5.5h0m0 16h0"/>
<path d="M117.5 759h0m-3.5 2h0m0 3h0m5.5 24h0m-1 0.5h0m3-54.5h0m5.5 2h0m-3 5h0m3 1h0m-1.5 1.5h0m-4.5 0h0m3.5 4h0m-1.5 1h0m-1 2h0m2 1h0m-1.5 0.5h0m1 0.5h0m-1.5 0.5h0m2 0.5h0m-0.5 4.5h0m0 5h0m1.5 0.5h0m0.5 1h0m-3 2h0m4 5.5h0m-4 0.5h0m5.5 0.5h0m-7 4.5h0m2.5 1h0m0.5 2.5h0m0 0h0m-2.5 1h0m0.5 0h0m2 1.5h0m4 2.5h0m0 1h0m0 3h0m-1 1.5h0m0 0h0m-4.5 2h0m-2 4h0m1.5 54h0m1 2.5h0m-2 2.5h0m6.5 3h0m-1 0.5h0m-3.5 0.5h0m1.5 2h0m-1.5 1h0m2 0.5h0m6.5-149h0m4 8h0m-2.5 0.5h0m0.5 1.5h0m-2 0.5h0m-0.5 2h0m1.5 3h0m-4 42.5h0m3.5 5h0m-0.5 1h0m-2 0.5h0m6 3h0m-0.5 0.5h0m0.5 0.5h0m-5.5 0h0m4.5 0h0m-2.5 0.5h0m-0.5 1.5h0m4 4.5h0m-3.5 0.5h0m-2.5 2.5h0m4 9.5h0m0 5h0m0.5 3.5h0m0.5 41h0m-1.5 0h0m-3.5 1.5h0m6.5 2.5h0m-7 0.5h0m1.5 2h0m0.5 0h0m4 1h0m-4.5 0.5h0m1 1h0m4 2.5h0m-2.5 4h0m7.5-151h0m-3.5 2.5h0m1.5 0.5h0m2.5 1.5h0m1 1h0m0.5 3h0m-1.5 1.5h0m-3 0h0m-0.5 56h0m0.5 5h0m3 5.5h0m-3.5 27.5h0m4 13.5h0m-0.5 10h0m-0.5 3.5h0m2 0h0m-3.5 1h0m-2.5 1.5h0m4.5 4.5h0m-3.5 0h0m3.5 1.5h0m-2 1h0m0 3.5h0m-2.5 1h0m0.5 2h0m0.5 4h0m9.5-148h0m1.5 1h0m-0.5 0.5h0m3 1.5h0m0.5 0h0m-6.5 1.5h0m1.5 0.5h0m2.5 2h0m-1 58h0m1.5 1.5h0m-5 2h0m1 1.5h0m1 0.5h0m4.5 2.5h0m0.5 2h0m-2.5 0.5h0m-2 1h0m-1.5 4.5h0m-1 6h0m1.5 51h0m10.5-145h0m-4 2h0m3.5 1.5h0m0 3h0m0 6h0m-0.5 0.5h0m1.5 1h0m-3 2.5h0m-1 0h0m3.5 2h0m2.5 1h0m0.5 2.5h0m-1 44h0m1 0.5h0m-5.5 3h0m5.5 0h0m-7 0h0m2 0.5h0m0 0h0m3 0.5h0m-3 1.5h0m3 4h0m-2.5 4h0m6-78h0m1 4.5h0m5.5 3h0m0.5 3.5h0m-2.5 5h0m-3.5 0h0m6 1.5h0m-4 3.5h0m-3 1.5h0m1.5 0.5h0m2 0.5h0m0 1h0m-2 0h0m2 1h0m-1.5 0.5h0m1.5 1.5h0m0.5 4h0m0.5 0.5h0m0.5 3.5h0m1 2.5h0m-2 13.5h0m-2.5 2.5h0m2.5 2.5h0m-3 3h0m2.5 1h0m2.5 1h0m-5 5h0m2.5 2h0m-4 1h0m2.5 1.5h0m6-60.5h0m3.5 1h0m2.5 8.5h0m-5 2h0m3 4h0m0.5 8h0m-1 2h0m-4 3h0m4.5 5h0m2 2h0m-1.5 0.5h0m-3 0h0m-0.5 0.5h0m0.5 7h0m-0.5 0h0m2.5 2.5h0m-2.5 11.5h0m1 0h0m-1.5 0.5h0m-1 0.5h0m8-68.5h0m0 11.5h0m5 8.5h0m-5 11h0m0.5 1h0m0 1.5h0m0 6.5h0m7 3.5h0m-4 1.5h0m-1.5 3.5h0m-1.5 3.5h0m3 10.5h0m10-37h0m-2.5 9h0m-1.5 7.5h0m0.5 4.5h0m-2 0h0m9.5-45h0m2 14.5h0m-1 12h0m3 39h0m2-62.5h0m11.5 15h0m0 45h0m43.5-2.5h0m-2.5 6.5h0m1 4h0m-3 5h0m2.5 5h0m3 1h0m6-40.5h0m0.5 2h0m1 1.5h0m-3 11.5h0m-0.5 1.5h0m-3 8h0m1 10h0m-1.5 0h0m2 9h0m0.5 4h0m1 4h0m0 0.5h0m-1 2h0m5 4.5h0m-2.5 11.5h0m8-76.5h0m-4 12h0m6 2.5h0m-5.5 1h0m-0.5 0h0m2 44.5h0m5.5-53.5h0m0 0.5h0m5 1h0m-5 2.5h0m0.5 1h0m2.5 1h0m-3 1h0m3.5 53.5h0m2.5 1h0m-5.5 6h0m7.5-70h0m7 9.5h0m0 0.5h0m-3.5 0h0m2 6h0m-5.5 45h0m2.5 1.5h0m-3 2.5h0m5.5 1h0m6-51.5h0m2.5 10h0m1 7h0m-1.5 3h0m-0.5 2.5h0m1 4h0m-3.5 14.5h0m1 2h0m-3.5 2.5h0m1.5 1h0m5.5 1.5h0m1.5-32h0m0 2.5h0m-0.5 15.5h0"/>
<path d="M116 722.5h0m2 9h0m1.5 17h0m0 5.5h0m-4.5 13h0m4 23h0m-1.5 7.5h0m1.5 0.5h0m0.5 0h0m-2.5 4.5h0m0 35.5h0m-0.5 6h0m8-126h0m3.5 0h0m-2 4h0m-1 8.5h0m-1 2.5h0m-0.5 2.5h0m3 3h0m-4 1.5h0m3 0h0m0.5 3h0m0.5 2.5h0m-1.5 0h0m-0.5 2.5h0m1 4.5h0m0 1.5h0m-1 2.5h0m-3 4h0m3 4.5h0m-3 1.5h0m5 2.5h0m0 0h0m0 1.5h0m-5 3h0m2.5 2.5h0m3.5 4.5h0m-4 0.5h0m2.5 1h0m-5 1h0m2.5 1h0m0 4h0m4.5 4.5h0m-7 3h0m0 55.5h0m2 2.5h0m3.5 3h0m-1.5 0.5h0m9-143h0m-1.5 7.5h0m1.5 0h0m-1 1h0m0 1.5h0m-5 2.5h0m5.5 1h0m-1 0.5h0m0 0.5h0m1.5 0.5h0m0.5 0h0m-2 1h0m-0.5 0.5h0m-1.5 1.5h0m-1.5 4h0m-0.5 36h0m0.5 1.5h0m-0.5 0.5h0m0.5 2.5h0m1 0.5h0m0 1.5h0m1.5 3h0m-2 0.5h0m6.5 5.5h0m-4.5 5h0m-0.5 2.5h0m4 0.5h0m-3.5 1.5h0m3 10h0m-1 45h0m0 0.5h0m-3 0.5h0m-1.5 0.5h0m10-140.5h0m-0.5 3.5h0m2 6h0m-2.5 4.5h0m1 0h0m-2.5 55h0m0 1.5h0m3 0h0m2 2h0m2 0.5h0m-1 0h0m1 1.5h0m-6 6h0m0 15.5h0m-0.5 5.5h0m0 6.5h0m6 7.5h0m-2 1h0m0.5 11h0m-1 4.5h0m-2.5 3h0m0.5 1.5h0m-1 0.5h0m-0.5 6.5h0m9-159.5h0m5 13.5h0m-3 6h0m0 0.5h0m-3.5 1h0m5.5 0.5h0m-3.5 0.5h0m-2.5 5h0m7.5 2h0m-2 59.5h0m0.5 1h0m1 1h0m-1 0.5h0m-4.5 1.5h0m6.5 3.5h0m-6.5 8h0m2.5 39h0m0.5 13.5h0m-1 4.5h0m-3 1h0m2 5.5h0m12-151.5h0m-4.5 5.5h0m-1.5 2.5h0m2.5 7.5h0m4.5 47.5h0m-2.5 2h0m-2.5 2.5h0m1.5 0.5h0m2.5 3.5h0m-6 3.5h0m0.5 3h0m3.5 13h0m-4 61.5h0m9-149.5h0m-1.5 6.5h0m5 3.5h0m2 0.5h0m-5 2h0m6 0.5h0m-5.5 3.5h0m1.5 0.5h0m-1.5 3.5h0m0.5 2.5h0m1 0h0m2 3h0m-0.5 3.5h0m2 11.5h0m-3 6.5h0m-0.5 7h0m-0.5 0.5h0m2.5 1h0m-4.5 4.5h0m0.5 0h0m-1 6.5h0m0 1.5h0m0.5 4h0m2 5h0m5.5-73.5h0m4 4.5h0m-0.5 0h0m1 1.5h0m-3 0.5h0m2.5 6.5h0m1 1.5h0m-4.5 5.5h0m2 1h0m-0.5 0.5h0m4.5 6.5h0m-0.5 0.5h0m-7 5h0m1 1h0m-1 1.5h0m2 2.5h0m5.5 1.5h0m-0.5 1.5h0m-4.5 1h0m2 3h0m-4 1.5h0m4 1h0m-1.5 1.5h0m0.5 1h0m-2.5 2.5h0m3 1h0m1 0.5h0m0 0.5h0m1 7.5h0m-5.5 9.5h0m8-71h0m1.5 5.5h0m-0.5 4h0m6 2h0m-7 2h0m3 4.5h0m3 1h0m-1.5 1.5h0m-2 10h0m1.5 8h0m0.5 3.5h0m-4.5 15h0m13-29h0m-4 9.5h0m3 6.5h0m-0.5 0.5h0m10-53h0m-6 27.5h0m5 4.5h0m-4 2h0m4.5 3h0m0 2.5h0m-1.5 6.5h0m12-5h0m-7 7h0m26 17.5h0m26-13h0m7-5h0m2.5 0h0m-6.5 1.5h0m7 2h0m0 1h0m-1 3.5h0m1 2h0m-7 20.5h0m1.5 11h0m1 2h0m-0.5 2.5h0m0.5 1h0m7-56.5h0m1.5 6h0m4.5 5.5h0m-1.5 0.5h0m-0.5 2.5h0m-0.5 1.5h0m-4.5 3h0m4.5 44h0m2 1.5h0m1 0.5h0m1.5-66.5h0m3.5 14h0m2.5 0.5h0m0 2h0m0.5 0.5h0m-6 50h0m5 0h0m-6 1h0m2.5 0.5h0m3.5 0.5h0m0 3h0m0 3.5h0m-3.5 0.5h0m0.5 0h0m9.5-75h0m-4.5 7h0m3.5 3h0m-2.5 0.5h0m1.5 1h0m3 4h0m0 0.5h0m-2.5 1h0m4 4h0m-0.5 51.5h0m-0.5 0h0m-6 3h0m3.5 0.5h0m8.5-62h0m0 9.5h0m0 5h0m1 14h0m2 1h0m-1 0.5h0m1 4h0m-0.5 11.5h0m-4 2h0m-2.5 1h0m0 3h0m1 3.5h0m-2 10h0m10-65h0m0.5 16h0m-2 3h0m2 12.5h0m-1 2h0m-1 2.5h0m2.5 6h0"/>
<path d="M113.5 761.5h0m4.5 7h0m1 20.5h0m-0.5 3h0m0.5 3.5h0m1 0h0m-1.5 2.5h0m-1.5 5h0m1 0h0m-1.5 0.5h0m-0.5 1.5h0m0 31.5h0m9.5-115h0m0.5 3h0m-4 5.5h0m3 6h0m-0.5 2.5h0m-1 1.5h0m2 2h0m0 0h0m-1.5 0.5h0m3 0.5h0m-3 1h0m2 2.5h0m-4.5 1h0m0 1.5h0m2.5 4h0m1.5 2.5h0m-5 2.5h0m3 2h0m0.5 4h0m1 6h0m2.5 7h0m-0.5 1h0m0 4.5h0m-6 3.5h0m5.5 0h0m-5 0.5h0m4.5 3.5h0m0 1h0m-4 2.5h0m-2 0h0m3 58.5h0m-0.5 1.5h0m1 4h0m4 1.5h0m0.5 0h0m-2 1h0m9.5-144h0m-1.5 5.5h0m-1 6.5h0m1 2h0m-5.5 9h0m0.5 39h0m1.5 9.5h0m-2 1.5h0m7 2h0m-4.5 1h0m0 5h0m1 5h0m3.5 4.5h0m-1 5h0m0 41h0m-2 0h0m-2 0.5h0m4.5 2.5h0m1 0h0m-6 1h0m-1.5 2h0m5 1h0m-2 3.5h0m-2.5 0.5h0m4 0h0m8.5-165.5h0m-0.5 17h0m1 1h0m0.5 0.5h0m-6.5 2h0m5.5 0h0m-1.5 0.5h0m-2 1h0m5 0h0m-5.5 1h0m4.5 2.5h0m-1 0.5h0m-2 0.5h0m-1.5 1h0m-1.5 58h0m5 0.5h0m1.5 6h0m-3.5 0.5h0m-1.5 5h0m5.5 7h0m-2.5 11.5h0m-3 7h0m3 8h0m2.5 8h0m-1 8.5h0m1.5 3h0m-1.5 1.5h0m1.5 4h0m-3.5 2.5h0m-2 0.5h0m-1 6h0m9-150.5h0m4 6h0m2 2h0m-3 5.5h0m1.5 57.5h0m-0.5 2h0m1 0.5h0m-2 3.5h0m-3.5 2.5h0m-1 0h0m3 4.5h0m-3.5 42h0m4 9h0m7.5-136.5h0m1 12h0m-1.5 1h0m4 0h0m-1 0h0m0 0.5h0m0.5 1h0m-0.5 1h0m-2 2.5h0m4 3.5h0m-3 47h0m0.5 1h0m0.5 0h0m-2.5 1.5h0m-1 3.5h0m2 1h0m-2 0.5h0m2.5 8.5h0m1.5 5.5h0m7-78.5h0m-3.5 6h0m1.5 4h0m-3 1h0m4.5 0.5h0m1.5 2.5h0m-3 2.5h0m1 0.5h0m0.5 7h0m1 0h0m-0.5 1h0m1 2.5h0m-0.5 9.5h0m1.5 3h0m-3.5 2.5h0m0.5 0h0m-2 4.5h0m-1 2.5h0m5 3h0m-5 0.5h0m3 2h0m1 3h0m-4 2h0m-1 3.5h0m7.5-58.5h0m7.5 8h0m-3.5 0.5h0m0.5 1.5h0m1 0h0m-3 7h0m2 1h0m3 4h0m-4 0.5h0m-3.5 2.5h0m3.5 2h0m0.5 0.5h0m2.5 0.5h0m-4 2.5h0m5.5 0.5h0m-2 0.5h0m-5 1.5h0m2.5 0.5h0m3.5 3h0m-1.5 2.5h0m-5 0h0m1.5 3.5h0m0 2h0m6 1.5h0m-7.5 2.5h0m1 1h0m2.5 2h0m8-54h0m-3 5h0m6 5.5h0m-6.5 0h0m5.5 2.5h0m-4 2h0m0 1.5h0m-1.5 1h0m5.5 0.5h0m-2.5 3h0m-0.5 1.5h0m-0.5 3.5h0m-1 3h0m5.5 1.5h0m-2.5 0.5h0m1.5 2h0m-4 0h0m1 15.5h0m-2.5 8.5h0m11.5-47.5h0m-1.5 7.5h0m-2.5 4.5h0m0 23h0m14.5-11.5h0m-6 19h0m7.5-50.5h0m4.5 7h0m-1 9h0m5 3h0m3.5 11.5h0m1 10h0m1 5h0m7-6.5h0m10.5-7h0m20 6h0m4.5 3h0m-5 8.5h0m3.5 10.5h0m0 15.5h0m7-41.5h0m0.5 1h0m-2 3.5h0m1 1.5h0m-4.5 7h0m5 0h0m-3.5 7h0m-1.5 5h0m2 12.5h0m0 2h0m-0.5 8h0m0 2.5h0m6 12h0m0.5-77h0m3.5 11.5h0m4 2h0m-3.5 2.5h0m-1.5 2h0m0.5 2.5h0m1 0.5h0m-2.5 44.5h0m1.5 7.5h0m-1 0.5h0m9.5-72h0m-0.5 12h0m1 2h0m0.5 4h0m0.5 51.5h0m-2.5 0h0m2 0.5h0m1.5 1h0m-2.5 1.5h0m1.5 0.5h0m1 0h0m-1 1h0m-0.5 3.5h0m4.5-77h0m5 11.5h0m-2 4.5h0m-4.5 2.5h0m5 3h0m1.5 3.5h0m-4.5 44.5h0m0 0h0m4 2.5h0m-5.5 0h0m-0.5 4h0m1 0h0m11.5-62.5h0m-3 14.5h0m2.5 6h0m0 1.5h0m1 24h0m-1.5 1.5h0m-3 2h0m6.5 1h0m-3 3.5h0m-3 1.5h0m10.5-35h0m-3 12.5h0m1.5 1h0m0 1h0m-1.5 0.5h0"/>
<path d="M111 744.5h0m8 13.5h0m-1 6h0m1.5 1.5h0m-3.5 14.5h0m2 0h0m1 8h0m-0.5 7h0m1 3h0m-1.5 2h0m0 1.5h0m-2.5 6h0m2 38.5h0m2 2.5h0m0 0.5h0m-3 7h0m5.5-138h0m6 2h0m-4 1.5h0m0.5 5h0m2 7h0m-6 7.5h0m3.5 0.5h0m-0.5 0.5h0m-3 1.5h0m3.5 3.5h0m1 1.5h0m-4 2h0m1.5 5.5h0m2.5 3h0m-1.5 1h0m2 0.5h0m-4.5 0h0m2.5 6h0m2 0.5h0m0.5 0.5h0m0.5 0h0m-3 1.5h0m-3 0h0m3.5 0.5h0m3.5 2h0m-1 0h0m1 0h0m-2.5 1h0m-0.5 0h0m-3 3h0m2 5h0m1.5 2.5h0m-0.5 0h0m3.5 3h0m-6 1h0m3.5 3h0m-2.5 0.5h0m-3 6h0m0 1.5h0m2 52.5h0m1 0.5h0m3.5 4h0m0 4h0m-0.5 0.5h0m2.5-145.5h0m2 1h0m4 2h0m0 3.5h0m-0.5 1h0m0 7h0m-1 1.5h0m-1 1.5h0m-2 2.5h0m-2 5h0m1 35h0m0.5 1.5h0m-0.5 2.5h0m5 8.5h0m0 4h0m-2 63.5h0m-4 3h0m4.5 1.5h0m-3 0.5h0m6 2h0m-3.5 4h0m9.5-152.5h0m1.5 6.5h0m-2.5 1.5h0m3.5 1.5h0m-7 0h0m6 2.5h0m-4 1h0m-1 1h0m-2 1h0m4.5 58.5h0m-4 3h0m7.5 2h0m-4 1.5h0m0.5 3h0m0.5 0.5h0m-2.5 2h0m0 1h0m1.5 9.5h0m4 3h0m-3.5 3.5h0m-1 0.5h0m4.5 20.5h0m-3.5 6h0m-1 5.5h0m-2 2h0m-0.5 0h0m5 1h0m-0.5 0.5h0m-3.5 0.5h0m4 5h0m-4.5 0.5h0m0.5 5.5h0m12-141h0m-4 3.5h0m5.5 3h0m-2 55h0m-1.5 1h0m2.5 1h0m-0.5 2h0m-0.5 1.5h0m1 0.5h0m-4 1.5h0m2.5 0h0m2 2h0m-6 27.5h0m1 18.5h0m4.5 4.5h0m-5.5 10h0m-0.5 11h0m13.5-146h0m1.5 2h0m-1 2.5h0m0 4h0m-4.5 0.5h0m0 2.5h0m1.5 1h0m4 43.5h0m-2 7.5h0m1.5 0.5h0m-1.5 2.5h0m-3 0.5h0m0 1h0m-2.5 2.5h0m3.5 2.5h0m3.5 5h0m-5 9.5h0m8.5-86h0m-2 0.5h0m2.5 4.5h0m-2.5 2.5h0m6 0h0m-3 7h0m-1.5 1.5h0m2 7.5h0m1 3h0m0.5 1.5h0m1.5 2h0m0.5 2h0m0.5 5h0m-4 7.5h0m3.5 3.5h0m-1.5 2h0m0 0h0m0.5 6.5h0m-1 1h0m-4 3h0m-1.5 1.5h0m4.5 6h0m5-78h0m4.5 3h0m1.5 2h0m-1 4.5h0m-5.5 8h0m1 4h0m4.5 4h0m-3.5 2.5h0m2.5 0.5h0m-3 0.5h0m2.5 11h0m-3 4h0m-1.5 5.5h0m2.5 1h0m-1 3.5h0m5 3.5h0m-7 10.5h0m8 0.5h0m5-58.5h0m-3.5 2.5h0m1 13.5h0m2 0.5h0m-3 8.5h0m0.5 4h0m5 1h0m-4 2.5h0m1 0.5h0m-2 4.5h0m-1 0.5h0m2 1h0m3 3h0m-2 0.5h0m3 2h0m-4.5 9.5h0m0 8h0m3.5 6.5h0m6.5-34.5h0m2 2.5h0m-1 6h0m-5.5 4h0m2.5 13.5h0m6.5-20.5h0m5.5 1.5h0m9-41.5h0m-6.5 15h0m0 0h0m13 1.5h0m1.5 18h0m-7.5 1.5h0m13.5-11.5h0m-0.5 8.5h0m34.5 26h0m0.5 8h0m-2.5 12.5h0m5-42.5h0m5 6h0m-0.5 2h0m-2 2h0m-1 4.5h0m3.5 0.5h0m-6 0h0m4 0.5h0m1 0.5h0m-2 0h0m-2.5 6.5h0m0 7.5h0m-1.5 10h0m2.5 6.5h0m-2.5 1h0m1.5 3.5h0m2.5 0h0m3 4.5h0m6.5-58h0m1.5 2.5h0m-1.5 2h0m0.5 2.5h0m-4.5 0.5h0m1 3h0m4 1h0m-3 1.5h0m-3 0h0m4.5 50.5h0m0 7.5h0m4.5-73h0m4.5 4.5h0m-2.5 3.5h0m0.5 4.5h0m-3.5 50.5h0m0.5 1.5h0m6 0.5h0m0 1h0m-4.5 4h0m4 2h0m-4 1h0m4 1h0m-3 3h0m9.5-66.5h0m-4.5 1h0m4.5 1.5h0m1 0h0m-1 2h0m0 3h0m-1 0.5h0m2.5 46h0m-4 1h0m1 11.5h0m4-72h0m6 8.5h0m1 20h0m1 0h0m-1 2h0m0 1.5h0m0 1.5h0m-1 12.5h0m-0.5 3h0m-1 3h0m0 0.5h0m-1.5 3.5h0m4.5 2h0m3.5-17.5h0"/>
<path d="M118.5 728.5h0m-6 30.5h0m4 16.5h0m0 6h0m2 2.5h0m0 2h0m-1.5 8.5h0m2 1h0m-1 0h0m1.5 0.5h0m0 0.5h0m-0.5 3h0m-2.5 35.5h0m-1.5 7h0m1.5 1h0m2 6.5h0m8.5-128.5h0m-0.5 12.5h0m1 1h0m-3.5 2h0m-2.5 5h0m0.5 0.5h0m2.5 1.5h0m0 3h0m-3 0.5h0m3 0h0m-2.5 0.5h0m4 0.5h0m-1 2h0m-0.5 1h0m0 1h0m-0.5 3h0m0 3h0m1.5 0.5h0m-1 2h0m-1.5 2h0m-2 2h0m2 4.5h0m0.5 1h0m4 1h0m-5 0.5h0m4 1.5h0m-6 0.5h0m6 1h0m0 2.5h0m-4.5 0.5h0m3 5h0m1.5 5h0m-3.5 4h0m4.5 1h0m-7 1.5h0m0 54h0m0 3h0m4 2.5h0m-2 1h0m1 7.5h0m12-149.5h0m-7.5 1h0m6 6.5h0m-6 2h0m1 1.5h0m1.5 3.5h0m1 2h0m-2.5 3h0m1.5 0.5h0m-1 4h0m-0.5 36.5h0m1 4.5h0m4 5.5h0m-4 2h0m5 0.5h0m-3.5 0.5h0m0.5 7.5h0m-1 2.5h0m2 2h0m0.5 4h0m1 50.5h0m-2.5 0.5h0m-2 0.5h0m-1 0.5h0m0.5 1h0m5.5 4h0m-2 1h0m0.5 0.5h0m-5 3.5h0m5.5 0h0m8-147h0m-1.5 1.5h0m0.5 2.5h0m-1 5h0m1 0h0m-4 56.5h0m4 2h0m1.5 2.5h0m-4 2h0m2 8h0m-2 0.5h0m-1.5 1.5h0m0.5 15.5h0m1.5 5.5h0m-0.5 2h0m1.5 5.5h0m1 2.5h0m1.5 11h0m-1.5 4.5h0m-2.5 1.5h0m-2 4h0m3 0.5h0m0.5 2h0m0.5 0.5h0m6-152.5h0m4 17h0m-0.5 3h0m0.5 2h0m-5 1h0m1.5 0h0m2.5 1.5h0m-0.5 1h0m-2 57h0m4.5 0.5h0m-3 0.5h0m-1.5 1h0m-1 3.5h0m3.5 0.5h0m-2 1h0m3.5 0h0m-4.5 2h0m-2 2.5h0m2.5 65.5h0m-2.5 7h0m14-157.5h0m-5.5 5.5h0m1.5 5h0m1.5 3h0m3.5 9h0m0 1h0m0 40.5h0m-1.5 7h0m1 2.5h0m-0.5 0.5h0m-2 0.5h0m3 5h0m8-65.5h0m-3 2.5h0m2.5 4h0m-4.5 1h0m-2 3.5h0m7 0.5h0m-4 4h0m0 1.5h0m0.5 1.5h0m3.5 1.5h0m0.5 5h0m0 0.5h0m-5.5 18.5h0m-0.5 1h0m4.5 2.5h0m-3 0h0m-1.5 1h0m0 4.5h0m1 2h0m-0.5 6.5h0m-1 2h0m10-70h0m2 7h0m2 6.5h0m-1 1.5h0m-1 1.5h0m-3 4h0m5.5 3.5h0m-5.5 0.5h0m-0.5 3.5h0m5.5 0h0m0 1.5h0m-7 4.5h0m6.5 5.5h0m-0.5 0.5h0m-2.5 5h0m4 2.5h0m-4.5 2.5h0m-3 1h0m3.5 7h0m0 0.5h0m-2.5 2h0m8.5-49h0m1.5 8.5h0m-2.5 1.5h0m5.5 0.5h0m-6 0h0m6 3h0m-6.5 2h0m0 0.5h0m0.5 1.5h0m1 2.5h0m1.5 1.5h0m3.5 0.5h0m-3 6.5h0m-3 0h0m6.5 2.5h0m-2 0.5h0m-1 0.5h0m0 2h0m2 2.5h0m-2.5 12h0m9-46h0m3 4h0m-6 2h0m2 0.5h0m-1.5 2.5h0m6 1h0m-7 4.5h0m-0.5 1h0m4.5 1h0m2.5 1h0m-7 1.5h0m3 2h0m-2.5 5h0m13.5-30.5h0m-6.5 24.5h0m4 1h0m-0.5 3.5h0m5.5-12h0m1 25h0m9-9.5h0m43 35h0m4-40h0m2.5 9.5h0m0.5 1h0m0.5 3h0m-1 0.5h0m-4.5 13.5h0m2 5.5h0m4.5 19h0m1 2.5h0m0.5 4h0m-0.5 0h0m0 0h0m1.5-65.5h0m1 3.5h0m4 7h0m2 4h0m-5 0.5h0m0.5 2h0m-3.5 4.5h0m5.5 46h0m2.5 3.5h0m-4.5 0h0m4.5 3h0m-3 0h0m3.5-71h0m1 2h0m-0.5 4h0m5.5 4.5h0m0.5 1.5h0m-3.5 54h0m0 2h0m-1 7h0m12-68h0m-1.5 3h0m-4 3h0m5.5 2.5h0m-3.5 2h0m2 1h0m-4.5 46h0m4 1h0m3 1h0m0 2.5h0m-7 0h0m8-57.5h0m2.5 9h0m-0.5 0.5h0m-1 2.5h0m1 1.5h0m3.5 0.5h0m-1.5 1h0m1 6.5h0m1 3h0m-1 16.5h0m0.5 1h0m1 1.5h0m0.5 1h0m-2.5 0h0m-4 7h0m2 0.5h0m2.5 3.5h0m-1 6h0m6-43.5h0m-2 15.5h0m2 22.5h0"/>
</g>
<path d="M142.8 725.5L145.5 724.4L147.3 725.5L155.5 729.7L161.2 735.5L165.4 745.5L165.5 745.9L168.7 755.5L165.5 761.1L164.5 765.5L159.5 775.5L155.5 780.3L145.7 785.5L145.5 785.6L145.2 785.5L135.5 782.5L129.2 775.5L125.5 765.6L125.4 765.5L124.7 755.5L125.5 745.5L125.5 745.5L129.1 735.5L135.5 727.6ZM270.5 765.5L275.5 763L278.3 765.5L285.5 769.9L290.1 775.5L293.3 785.5L294.6 795.5L293.8 805.5L285.5 815.3L283.4 815.5L275.5 817.4L273 815.5L265.5 811.2L260.4 805.5L257.4 795.5L257.7 785.5L259.6 775.5L265.5 767.3ZM120.5 795.5L125.5 789L130.5 795.5L134.2 805.5L135.4 815.5L135.5 816.9L139.7 825.5L141.8 835.5L140.3 845.5L135.5 852.2L125.5 854.9L117.8 845.5L115.8 835.5L115.5 830.5L113.2 825.5L113.5 815.5L115.5 810.5L116.1 805.5Z" fill="#fff" fill-rule="evenodd" shape-rendering="crispEdges"/>
<g shape-rendering="crispEdges">
<path fill="rgb(250,250,250)" fill-opacity="0.02" d="M110.5 790.5h10v10h-10zM110.5 840.5h10v10h-10zM120.5 720.5h10v10h-10zM130.5 710.5h10v10h-10zM130.5 790.5h10v10h-10zM130.5 800.5h10v10h-10zM140.5 710.5h10v10h-10zM140.5 790.5h10v10h-10zM140.5 840.5h10v10h-10zM160.5 720.5h10v10h-10zM160.5 770.5h10v10h-10zM170.5 730.5h10v10h-10zM170.5 760.5h10v10h-10zM180.5 740.5h10v10h-10zM180.5 750.5h10v10h-10zM250.5 770.5h10v10h-10zM250.5 780.5h10v10h-10zM250.5 790.5h10v10h-10zM250.5 800.5h10v10h-10zM260.5 810.5h10v10h-10zM270.5 750.5h10v10h-10zM280.5 760.5h10v10h-10zM290.5 780.5h10v10h-10z"/>
<path fill="rgb(245,245,245)" fill-opacity="0.04" d="M110.5 830.5h10v10h-10zM120.5 730.5h10v10h-10zM120.5 770.5h10v10h-10zM120.5 780.5h10v10h-10zM130.5 780.5h10v10h-10zM130.5 850.5h10v10h-10zM150.5 720.5h10v10h-10zM150.5 780.5h10v10h-10zM160.5 730.5h10v10h-10zM170.5 740.5h10v10h-10zM170.5 750.5h10v10h-10zM290.5 790.5h10v10h-10zM290.5 800.5h10v10h-10z"/>
<path fill="rgb(240,240,240)" fill-opacity="0.06" d="M110.5 800.5h10v10h-10zM120.5 850.5h10v10h-10zM130.5 720.5h10v10h-10zM130.5 810.5h10v10h-10zM160.5 740.5h10v10h-10zM160.5 760.5h10v10h-10zM260.5 760.5h10v10h-10zM280.5 810.5h10v10h-10z"/>
<path fill="rgb(235,235,235)" fill-opacity="0.08" d="M110.5 810.5h10v10h-10zM120.5 740.5h10v10h-10zM120.5 750.5h10v10h-10zM120.5 760.5h10v10h-10zM140.5 720.5h10v10h-10zM140.5 780.5h10v10h-10zM160.5 750.5h10v10h-10zM270.5 760.5h10v10h-10zM270.5 810.5h10v10h-10z"/>
<path fill="rgb(230,230,230)" fill-opacity="0.10" d="M110.5 820.5h10v10h-10zM150.5 770.5h10v10h-10z"/>
<path fill="rgb(224,224,224)" fill-opacity="0.12" d="M120.5 790.5h10v10h-10zM130.5 770.5h10v10h-10zM130.5 820.5h10v10h-10zM130.5 840.5h10v10h-10zM150.5 730.5h10v10h-10zM260.5 800.5h10v10h-10zM280.5 770.5h10v10h-10z"/>
<path fill="rgb(219,219,219)" fill-opacity="0.14" d="M130.5 730.5h10v10h-10zM260.5 770.5h10v10h-10z"/>
<path fill="rgb(214,214,214)" fill-opacity="0.16" d="M140.5 730.5h10v10h-10zM140.5 770.5h10v10h-10z"/>
<path fill="rgb(209,209,209)" fill-opacity="0.18" d="M130.5 830.5h10v10h-10zM150.5 760.5h10v10h-10z"/>
<path fill="rgb(204,204,204)" fill-opacity="0.20" d="M150.5 740.5h10v10h-10zM150.5 750.5h10v10h-10z"/>
<path fill="rgb(194,194,194)" fill-opacity="0.24" d="M130.5 740.5h10v10h-10zM130.5 760.5h10v10h-10zM260.5 780.5h10v10h-10zM280.5 780.5h10v10h-10zM280.5 800.5h10v10h-10z"/>
<path fill="rgb(189,189,189)" fill-opacity="0.26" d="M120.5 840.5h10v10h-10z"/>
<path fill="rgb(184,184,184)" fill-opacity="0.28" d="M130.5 750.5h10v10h-10zM260.5 790.5h10v10h-10zM270.5 770.5h10v10h-10z"/>
<path fill="rgb(178,178,178)" fill-opacity="0.30" d="M140.5 740.5h10v10h-10z"/>
<path fill="rgb(173,173,173)" fill-opacity="0.32" d="M140.5 760.5h10v10h-10z"/>
<path fill="rgb(163,163,163)" fill-opacity="0.36" d="M120.5 800.5h10v10h-10zM280.5 790.5h10v10h-10z"/>
<path fill="rgb(158,158,158)" fill-opacity="0.38" d="M140.5 750.5h10v10h-10zM270.5 800.5h10v10h-10z"/>
<path fill="rgb(117,117,117)" fill-opacity="0.54" d="M270.5 780.5h10v10h-10z"/>
<path fill="rgb(77,77,77)" fill-opacity="0.70" d="M120.5 810.5h10v10h-10z"/>
<path fill="rgb(71,71,71)" fill-opacity="0.72" d="M270.5 790.5h10v10h-10z"/>
<path fill="rgb(61,61,61)" fill-opacity="0.76" d="M120.5 830.5h10v10h-10z"/>
<path fill="rgb(0,0,0)" fill-opacity="1.00" d="M120.5 820.5h10v10h-10z"/>
</g>
<path d="M142.8 725.5L145.5 724.4L147.3 725.5L155.5 729.7L161.2 735.5L165.4 745.5L165.5 745.9L168.7 755.5L165.5 761.1L164.5 765.5L159.5 775.5L155.5 780.3L145.7 785.5L145.5 785.6L145.2 785.5L135.5 782.5L129.2 775.5L125.5 765.6L125.4 765.5L124.7 755.5L125.5 745.5L125.5 745.5L129.1 735.5L135.5 727.6ZM270.5 765.5L275.5 763L278.3 765.5L285.5 769.9L290.1 775.5L293.3 785.5L294.6 795.5L293.8 805.5L285.5 815.3L283.4 815.5L275.5 817.4L273 815.5L265.5 811.2L260.4 805.5L257.4 795.5L257.7 785.5L259.6 775.5L265.5 767.3ZM120.5 795.5L125.5 789L130.5 795.5L134.2 805.5L135.4 815.5L135.5 816.9L139.7 825.5L141.8 835.5L140.3 845.5L135.5 852.2L125.5 854.9L117.8 845.5L115.8 835.5L115.5 830.5L113.2 825.5L113.5 815.5L115.5 810.5L116.1 805.5ZM131.9 745.5L135.5 739.7L145.5 736.1L155.5 744L156.5 745.5L157.5 755.5L155.5 763.2L155 765.5L145.5 774.8L135.5 770.8L132 765.5L130.4 755.5ZM267.9 775.5L275.5 770.2L282 775.5L285.5 780.4L288.2 785.5L291.3 795.5L288.4 805.5L285.5 808.9L275.5 812.3L267.5 805.5L265.5 802.1L261.6 795.5L262.9 785.5L265.5 779.3ZM119.6 805.5L125.5 797.9L130.9 805.5L133.7 815.5L134.8 825.5L135.5 835.5L131.2 845.5L125.5 849.3L122.4 845.5L117.3 835.5L116.5 825.5L117 815.5ZM143.9 755.5L145.5 753.4L146.4 755.5L145.5 757.8ZM269.9 785.5L275.5 778.9L281.1 785.5L285.5 795.5L276.4 805.5L275.5 805.9L275 805.5L267.5 795.5ZM120 815.5L125.5 805.8L130.7 815.5L132.7 825.5L132.2 835.5L125.5 843.2L120 835.5L118.5 825.5Z" fill="none" stroke="#000" stroke-width="2.08" stroke-linejoin="round"/>
</g>
</g>
<rect x="100.5" y="670.5" width="200" height="200" fill="none" stroke="#7f7f7f" stroke-width="1.1"/>
<path d="M130.5 870.5v4.86M175.5 870.5v4.86M221.5 870.5v4.86M266.5 870.5v4.86M100.5 854.5h-4.86M100.5 806.5h-4.86M100.5 757.5h-4.86M100.5 709.5h-4.86" stroke="#000" stroke-width="1.1" fill="none"/>
<g clip-path="url(#c31)">
<g transform="translate(-.5 -.5)">
<g filter="url(#hb)">
<path d="M453.6 723l2.4-0.7l10 4.6l6.2 8.1l4.6 10l0.2 2.6l0.8 1.4l0.1 4l0.9 3l0 3l-0.9 2l-0.1 5l-10.9 20l4.1 9.5l4 2.2l2.2 2.3l2.6 4l1 2l0.1 6l0.8 3l-0.7 1.4l-0.2 3.6l-0.9 2l-0.1 3l-7.5 12l-7.3 7.3l-9 6.9l-3 1.6l-2.6 0.2l-5.4 1.6l-2-0.7l-4-0.1l-4.1-1.8l-3.1-4l-2.6-5l-0.1-4l-0.9-2l0-2l1.8-5.4l0.2-2.6l6.8-10.3l3.8-9.7l3.2-3.2l10-6l3-1.6l2.6-0.2l0.9-1l-0.9-1l-4-3l-11-6l-7.6-2.1l-1.5 0.1l-2.1 2l-0.1 1l0.7 4.6l0.8 1.4l0 5l-2 7l-1.8 2.3l-5 3.5l-10 4l-4 0.1l-3 0.9l-10 0l-3-0.9l-5-0.1l-2-0.9l-3-0.1l-9-5.6l-3.1-2.2l-6.1-7l-1.6-3l0-3l2-9l3.6-7l3.2-3.2l11-5.6l19 0l6.4 2.8l12 4l2.2 0l0.5-1l0.1-3l0.9-2l0-10l-0.7-2l0.7-2l0.1-5l3-10l2-4l3.8-4.2l6-3.6l4-2Z" fill="#000" fill-opacity="0.100" fill-rule="evenodd"/>
<path d="M454.6 723l1.4-0.3l5 2l5 2.9l6.4 8.4l3.9 9l1.2 5l0 3l1 3l-0.2 3l-0.8 2l-0.2 5l-3.9 8l-5.4 8.5l-1.4 3.5l4.2 10l3.2 1.3l2.7 2.7l2.7 4l0.9 2l0.2 6l0.8 3l-1.8 7l-0.2 3l-3.5 5l-3.1 6l-8.7 8.7l-8 6l-3 1.6l-8 1.7l-6-0.7l-4-1.9l-2.7-3.4l-2.6-5l-1-8l2-8l6.3-9.5l4.3-10.5l2.7-2.7l11-6.7l5.5-1.6l0.7-1l-1.2-1.2l-4-3l-10.5-5.8l-8.5-2.5l-2 0.3l-2.1 2.2l1.6 8l-0.2 4l-2 7l-2.3 2.7l-6 3.6l-8 3l-4 0.2l-3 1l-10 0l-3-1l-4 0l-3-1l-3-0.2l-9-5.6l-3-2.3l-5.7-6.4l-1.6-3l-0.2-3l2.2-9l3.6-7l3.7-3.4l10-4.9l18-0.2l19 6.7l2 0.4l1-0.3l1.5-6.3l0-10l-0.5-2l0.5-6l3.2-11l1.9-4l3.4-3.7l6-3.7l4-1.9Z" fill="#000" fill-opacity="0.100" fill-rule="evenodd"/>
<path d="M452.7 724l3.3-0.9l9 4l6.3 7.9l4.6 10l2.1 11l-0.1 3l-0.8 2l-0.2 5l-4 8l-4.9 7.8l-1.9 4.2l4.4 10l3.5 1.7l1.3 1.3l4.1 6l0.6 2l0.1 5l0.8 3l-1.8 7l-0.2 3l-3.9 5.8l-2.7 5.2l-8.3 8.3l-8 6l-3 1.6l-8 1.8l-6-0.8l-3-1l-0.9-0.9l-2.4-3l-2.6-5l-1-8l2.5-9l5.4-7.8l4.7-11.2l2.3-2.3l11-6.6l6.3-2.1l0.3-1l-1.6-1.5l-4-3l-9.8-5.5l-5.2-1.9l-5-1l-1.6 0.9l-1.9 2l0.6 5l0.8 2l0.1 4l-2.1 8l-1.9 2.3l-5 3.1l-9 3.5l-4 0.2l-3 0.9l-9 0l-14-2.1l-9-5.6l-2.9-2.3l-5.4-6l-1.6-3l-0.1-3l2.1-9l3.6-7l3.3-2.9l10-5l19 0l19 6.8l2-0.1l0.9-1.8l0.2-3l0.8-2l0-10l-0.6-2l0.6-2l0.2-5l3-10l1.5-3l1.1-2l2.3-2.3l5-3l5-2.6Z" fill="#000" fill-opacity="0.136" fill-rule="evenodd"/>
<path d="M453.9 724l2.1-0.6l9 4l6.6 8.6l4 9l1.2 5l0 3l1 3l-0.2 3l-0.8 2l-0.2 5l-4 8l-4.6 7.1l-2.2 4.9l4.3 10l0.9 0.9l3 1.2l4.6 5.9l1 2l0.2 6l0.8 3l-1.8 7l-0.2 3l-3.5 5l-3.2 6l-7.9 7.9l-9 6.7l-2 1l-8 1.8l-6-0.8l-3.6-1.6l-3-4l-2-4l-1-8l2-8l5.6-8.1l2-4l1.4-4.9l1.6-2.9l3-2.7l10-6l7.1-2.4l-0.1-1l-2-1.9l-4-3l-11-6l-8-2.3l-1.8 0.2l-3.1 3l1.7 8l0 3l-2.2 8l-1.6 1.9l-6 3.7l-8 3l-4 0.2l-3 1l-9 0l-4-1l-5-0.2l-2-0.8l-3-0.2l-2-1l-9.6-6.6l-6-7l-1-2l-0.2-3l2.2-9l3.6-6.9l3-2.7l10-5l19 0l6.1 2.6l12 4l2.9 0.3l1-1.4l0.4-3.9l0.8-2l0-10l-0.6-2l0.6-2l0.2-5l3-10l2-4l2.7-3l5.9-3.6l4-2Z" fill="#000" fill-opacity="0.186" fill-rule="evenodd"/>
<path d="M454.5 724l1.5-0.3l9.2 4.3l6.1 8l4 9l1.2 5l0.2 4l0.8 2l0 2l-1 3l-0.2 5l-4 8l-4.6 7l-2.2 5l4.2 10l1.3 1.3l2 0.4l1 0.8l4.3 5.5l1.2 3l0 5l0.8 3l-1.6 6l-0.4 4l-3.6 5l-3.2 6l-7.5 7.5l-9 6.8l-2 1l-8 1.7l-6-0.7l-3-1.1l-3.3-4.2l-2-4l-0.2-4l-1-3l2.2-9l5.6-8l4.7-11.4l3-2.9l10-6l7.7-2.7l-0.3-1l-2-2l-4.4-3.3l-11-6l-7-2l-3 0l-3.3 3.3l1.8 8l0 3l-2.2 8l-1.3 1.5l-6 3.8l-8 3l-4 0.2l-3 1l-9 0l-14-2.2l-2-1l-9.2-6.3l-6.1-7l-1-2l-0.2-3l2.2-9l3.3-6.4l3-2.9l10-5l18-0.2l19 6.8l3 0.5l1.3-1.8l0.4-4l0.8-2l0-10l-0.5-2l0.5-6l3.2-11l2-4l2.9-3l5.4-3.3l4-2Z" fill="#000" fill-opacity="0.246" fill-rule="evenodd"/>
<path d="M452.1 725l3.9-0.9l8.7 3.9l6.2 8l4.1 9.1l1.2 4.9l0.2 4l0.8 2l0 2l-1 3l-0.2 4.9l-4 8l-4.6 7.1l-2.2 5l4.2 10l1.6 1.6l2 0.5l1 0.8l4 5.2l1.2 2.9l0 5l0.7 3l-2 10l-3.5 5l-3.3 6l-7.1 7.1l-9 6.8l-2.1 1.1l-7.9 1.6l-5-0.4l-3.6-1.2l-3.4-4.1l-2-4l-0.4-4.9l-0.8-2l2.2-8.9l5.6-8.1l2-4l1.5-5l1.8-3l2.1-1.9l10.1-6.1l7.9-2.7l-0.2-1.3l-1.9-2l-4.9-3.6l-11-6l-7-2l-3 0l-3.6 3.6l1 6l0.8 2l0 3l-2.2 7.8l-1 1.3l-6 3.8l-8.1 3.1l-4.9 0.4l-2 0.8l-9 0l-3-0.8l-5-0.2l-2-0.8l-3-0.2l-3-1.3l-9-6.2l-5.9-6.7l-1.1-2.1l-0.2-2.9l2.2-8.9l3.1-6.1l2.9-2.9l10.1-5.1l17.9-0.2l7 2.8l15 4.7l1.6-2.3l0.2-3l1-3l-0.4-12l0.4-6l3.2-10.9l2-4l3-3l5.1-3.1l4-2Z" fill="#000" fill-opacity="0.326" fill-rule="evenodd"/>
<path d="M453.6 725l2.4-0.4l8 3.4l4.5 5l2.5 3.9l3.8 9.1l1 4l0.3 4l0.7 2l0 2l-0.9 3l-0.1 4l-3.8 8.1l-5.5 8.9l-1.6 4l4.7 11l4 2l4.4 5.9l0.8 2.1l0.6 8l-2 10l-2.8 4l-3.1 6l-7.9 8l-10.6 7.5l-8 1.7l-5-0.4l-4-1.8l-3-3.9l-1.8-4.1l-0.1-3l-0.9-3l2.3-9l6-9l3-8l1.5-2.6l2-1.9l10.9-6.5l7.1-2.2l0.7-0.8l-0.4-1l-2.3-2.4l-4-3l-11-6.1l-8-2.4l-3 0l-2.4 1.9l-1.5 2l1.7 8l0 3l-2 7l-1.2 2l-4.5 3l-10.1 3.8l-3 0.1l-3 0.9l-9 0.1l-13-2.1l-3-1.3l-8-5.5l-6-6.4l-1.8-3.6l0-2l2.3-9l3.5-6.6l2.9-2.4l10.1-4.8l17 0l22 7.5l1.9-2.7l1.2-6l-0.3-12l0.4-6l3-10l1.8-4.1l3-3.4l5.9-3.5Z" fill="#000" fill-opacity="0.448" fill-rule="evenodd"/>
<path d="M454.9 725l1.1 0l3 1.5l2 0.4l3.4 2.1l5.6 7l4.1 9l1.2 5l0.2 4l0.8 2l0 2l-1 3l0 4l-4.3 9l-4.6 7l-2 5l4.7 11l4.9 2.9l4 5.9l0.3 6.2l0.8 3l-0.6 1l-1.5 9l-3.6 5l-2.4 5l-8 8l-10 7.1l-8 1.6l-5-0.4l-3.4-1.3l-2.6-3l-2.1-4l-0.4-5l-0.8-2l2.2-9l5.7-8l1.9-4l1.5-5.2l1-1.8l2-2l11.8-7l3.2-0.5l3.6-1.5l0.7-1l-0.4-1l-2.9-2.9l-5-3.7l-11-5.9l-7-2l-3 0l-4.5 4.5l1 6l0.8 2l0 3l-2.3 8l-1 1l-4.8 3l-8.2 3.1l-5 0.4l-2 0.8l-9 0l-3-0.8l-5-0.2l-2-0.8l-3-0.2l-3-1.3l-8-5.6l-6-6.4l-1.1-2l-0.2-3l2.2-9l3.1-6l2-2l10-5.1l18-0.2l19 6.8l3 0.8l1-0.6l1.5-2.7l0.2-3l1-3l-0.4-12l0.4-6l3.2-11l2.1-4l2-2l6.8-4Z" fill="#000" fill-opacity="0.594" fill-rule="evenodd"/>
</g>
<g fill="none" stroke="#000" stroke-opacity=".1" stroke-width="2.8" stroke-linecap="round">
<path d="M338.5 762.5h0m11.5 27h0m5.5-22h0m-3 8h0m1.5 8.5h0m-2 2.5h0m8 5.5h0m-4 2.5h0m3 4h0m2-39h0m3 12.5h0m3.5 0.5h0m-1 7.5h0m-4.5 3.5h0m1 0.5h0m2.5 2.5h0m-1 4h0m-1 2h0m-2.5 1.5h0m5 0.5h0m-5 2.5h0m2 1h0m2 0.5h0m2.5 6.5h0m-1.5 6h0m4.5-47h0m-1.5 0.5h0m3 2.5h0m3 2h0m-2.5 3.5h0m0 1h0m-2.5 28h0m-1.5 6h0m4 1.5h0m10-46.5h0m-2 1.5h0m1 2h0m-4.5 2h0m4 2h0m-5 36.5h0m6 3.5h0m1.5 1.5h0m-3.5 1h0m-3 0h0m4.5 1h0m0.5 2.5h0m6.5-57h0m3 0h0m-2.5 3.5h0m-0.5 51h0m-4 2h0m7.5 0.5h0m-6 4h0m-0.5 1.5h0m14.5-69h0m-5.5 3h0m5 2h0m-1.5 3.5h0m0 3h0m0 50.5h0m-4 2h0m5.5 1h0m8.5-73h0m-7.5 5h0m4 7h0m0.5 1h0m-2 9.5h0m0 49.5h0m1.5 1h0m11-72h0m-5 13h0m3 1.5h0m-2 0h0m-0.5 7h0m3 0.5h0m1 2.5h0m-1 45.5h0m-1.5 1.5h0m2.5 0.5h0m0.5 7.5h0m3-97.5h0m3 8.5h0m-2.5 2.5h0m5 1.5h0m-7 0h0m6 1.5h0m-0.5 1.5h0m-4 5h0m5.5 1.5h0m-0.5 5.5h0m-1.5 4h0m2 7.5h0m-2.5 2.5h0m-2.5 1.5h0m-1.5 2h0m4 1h0m0.5 39.5h0m-2.5 0.5h0m3.5 3.5h0m0 32.5h0m1 4h0m-2 4h0m3.5-131h0m1 7.5h0m3 7.5h0m-4.5 4h0m2.5 0.5h0m-2.5 4.5h0m1 0h0m1 2.5h0m0 0h0m-2 7h0m0.5 1h0m-0.5 9h0m-0.5 1h0m5 36h0m-1.5 2h0m0 2.5h0m-2 16h0m4.5 0h0m-5.5 4.5h0m2 0.5h0m0 4h0m-2.5 3h0m0.5 1.5h0m5 1.5h0m-0.5 0h0m-2 1h0m1.5 1h0m-5 0h0m5 1h0m2 0h0m0 7h0m-6 1.5h0m6.5 0h0m1-136h0m5.5 4h0m0.5 2.5h0m-1.5 1h0m-0.5 1h0m3.5 2.5h0m-3.5 54h0m3.5 0.5h0m-4 0.5h0m0.5 0.5h0m-2 0.5h0m4 1h0m-3 1h0m4 1h0m-2.5 0h0m1 1h0m-2.5 5h0m-0.5 0.5h0m0 5.5h0m1.5 3h0m-4.5 1h0m1.5 1h0m-1 0h0m5 2h0m-1 0h0m-2 0.5h0m2.5 0h0m2.5 1h0m0 0.5h0m-5 0.5h0m4.5 0.5h0m-5.5 0.5h0m1.5 41h0m-1 2h0m0.5 1h0m0.5 1h0m-1.5 0.5h0m5 0.5h0m-1.5 8h0m7.5-145h0m0 0h0m-1 2h0m3.5 1.5h0m-6.5 1.5h0m0 0.5h0m5.5 0.5h0m1 60h0m-1.5 0.5h0m0.5 0.5h0m-4 0h0m0.5 0.5h0m3.5 4h0m-5.5 0h0m5.5 1.5h0m1.5 7h0m0 2.5h0m0 51.5h0m-4.5 2.5h0m0.5 2.5h0m-1 0h0m1 7.5h0m5-181.5h0m6 24.5h0m-1.5 1.5h0m1.5 6.5h0m1.5 0.5h0m0 1.5h0m-0.5 0.5h0m-3.5 0.5h0m-3.5 5h0m5 67.5h0m-0.5 0h0m-0.5 0h0m0.5 3.5h0m1 60h0m-4.5 1.5h0m7-145.5h0m5 1.5h0m-4.5 82h0m5.5 51.5h0m0 0.5h0m-3 2h0m-3 2.5h0m7.5 0h0m-0.5 7.5h0m7.5-153.5h0m-6.5 7h0m3.5 5h0m-3 2.5h0m1.5 4.5h0m3 0.5h0m0 1h0m-1 2.5h0m3.5 0.5h0m-1 51.5h0m-2.5 1.5h0m3 2h0m0.5 4.5h0m-1 6.5h0m-2.5 44.5h0m1.5 3h0m-3.5 0.5h0m4.5 9.5h0m2-129.5h0m-0.5 4.5h0m3 0h0m2.5 6.5h0m-4 5.5h0m2.5 6.5h0m2.5 18.5h0m-1 3.5h0m-1.5 3h0m-2 3.5h0m-2 4h0m4.5 0.5h0m-1 3h0m-2 2h0m0 2h0m2.5 2.5h0m2 2h0m-0.5 1.5h0m1 0.5h0m-6 1.5h0m1.5 0.5h0m1 0.5h0m0.5 1h0m-1.5 0.5h0m4.5 1.5h0m1 24.5h0m-2.5 6h0m-4 11.5h0m-1 1.5h0m10-93.5h0m-2 0h0m3 6.5h0m-3 5.5h0m6 2.5h0m-6 1h0m-0.5 1h0m1 1.5h0m1 1h0m3.5 11.5h0m-5 5h0m2.5 2h0m1.5 3.5h0m-3.5 10.5h0m0 3.5h0m-1 0h0m0.5 0.5h0m3.5 1h0m-2.5 3.5h0m1.5 1h0m0.5 0h0m3 0.5h0m1 1.5h0m0 0.5h0m-5 0.5h0m5.5 0.5h0m-5.5 0.5h0m-0.5 0.5h0m-1 1.5h0m5.5 0.5h0m-3.5 2.5h0m-1.5 0h0m4 3h0m-4.5 4.5h0m7.5-75.5h0m5.5 28.5h0m-6 10.5h0m1 16h0m0.5 4h0m1 9.5h0m-2 20h0m8-109.5h0m0 58.5h0"/>
<path d="M347 774.5h0m8-2h0m4.5 9.5h0m0 5h0m0 2.5h0m-0.5 5h0m0 9h0m5.5-35h0m-0.5 10.5h0m2.5 1.5h0m-3.5 0.5h0m1.5 4h0m3.5 1.5h0m-2.5 2.5h0m1 0.5h0m-1 6.5h0m-1 1.5h0m0.5 8.5h0m1 2.5h0m10-48.5h0m-7 0h0m2.5 17.5h0m-3 1h0m1 25.5h0m3.5 0.5h0m-1.5 0h0m0.5 3.5h0m2 2.5h0m0.5 1.5h0m1 0h0m-5 12h0m7-74.5h0m6 19.5h0m-5 2h0m-2 35.5h0m2.5 5.5h0m4 3h0m-3.5 0.5h0m3 6.5h0m4-63h0m0.5 3.5h0m1 4.5h0m-3.5 0h0m1.5 0.5h0m-0.5 0.5h0m2 44.5h0m4.5 1.5h0m-3.5 0.5h0m5.5-80h0m3.5 24.5h0m-5.5 2.5h0m0 2.5h0m4.5 1h0m5 1.5h0m3 1h0m1.5 0.5h0m-5 46.5h0m5.5 2h0m-4.5 3h0m-0.5 0.5h0m-0.5 4.5h0m6 20h0m6-92.5h0m-3 6.5h0m3 6.5h0m2 2h0m-1 1.5h0m-2 45.5h0m-1.5 0h0m-0.5 0.5h0m3.5 1h0m-0.5 0.5h0m-1 0.5h0m-0.5 0h0m-3.5 0.5h0m5.5 5.5h0m-4 2h0m6 1.5h0m4.5-93.5h0m3.5 4h0m-1 4h0m-4.5 2.5h0m0 0.5h0m3 7h0m0 1.5h0m3 3h0m-1.5 10h0m0 0h0m0.5 2.5h0m-4.5 0.5h0m5.5 1h0m-6.5 2h0m5 39.5h0m-5 2h0m5.5 0.5h0m-3.5 2.5h0m-1.5 1.5h0m5 3h0m-6.5 14h0m5 3h0m0 0.5h0m-2 6h0m-2.5 5h0m5.5 9.5h0m2.5-139h0m3 8h0m2.5 3.5h0m-0.5 1h0m-4 2h0m2 5h0m1 4h0m-0.5 1h0m-2 0.5h0m1.5 1.5h0m0 1h0m-2 1.5h0m-1.5 9.5h0m0.5 3h0m0.5 7.5h0m1.5 3h0m-0.5 0.5h0m-2 1.5h0m4 35.5h0m2 0h0m-4 3h0m-2 0h0m4.5 5.5h0m-4.5 5h0m3 0.5h0m-1.5 9h0m2 8h0m1.5 4h0m2 3.5h0m-2 5.5h0m-0.5 8.5h0m9.5-146h0m0.5 6h0m-3.5 3h0m-2.5 1h0m3.5 1h0m-3 1h0m0.5 4.5h0m-0.5 2.5h0m1 50h0m-1 1.5h0m4.5 2h0m-1.5 0h0m-1 1h0m-1.5 0.5h0m1 0.5h0m1 4h0m2.5 1.5h0m-3.5 2h0m-0.5 0.5h0m0.5 0.5h0m-2 3.5h0m2 0.5h0m4.5 3.5h0m-2 5h0m-4 1.5h0m3.5 4.5h0m-1 2h0m-2.5 4.5h0m0.5 28h0m-1.5 1.5h0m6.5 0.5h0m0.5 0.5h0m-5.5 0.5h0m-1.5 1h0m3.5 2.5h0m-3.5 2h0m2 0.5h0m-0.5 3.5h0m0 1h0m13.5-154h0m-3 0.5h0m-1.5 8.5h0m5 4.5h0m-3.5 1.5h0m-1 62h0m-3.5 2h0m3.5 0.5h0m-0.5 2h0m4 1h0m0.5 1h0m-2.5 2h0m0.5 3h0m-5 3.5h0m2.5 51h0m5 0.5h0m-4.5 0.5h0m2 4.5h0m2.5 1.5h0m0.5-150.5h0m6 5h0m-4.5 1h0m-1 3.5h0m7 3h0m-4.5 1.5h0m-3 63.5h0m2 1.5h0m0 0.5h0m2 0.5h0m1 0h0m-3.5 0.5h0m2 62h0m0.5 7.5h0m3.5-143h0m7 0.5h0m-2.5 1h0m2 3.5h0m0 2h0m-6.5 71h0m4 0.5h0m-0.5 0.5h0m4.5 50h0m-6 3.5h0m3 1.5h0m-3.5 1h0m-1 1h0m1 6.5h0m-0.5 9h0m14.5-171.5h0m-7 15.5h0m3.5 2h0m-3.5 10h0m2.5 0.5h0m1.5 0.5h0m-2 1h0m0.5 2h0m5 1h0m-4.5 0h0m-1 56h0m4 3.5h0m0.5 0.5h0m-2.5 1h0m2 0h0m1.5 47.5h0m-1 0h0m-0.5 1.5h0m-6 14.5h0m-0.5 0h0m15.5-124.5h0m-6 6h0m3 4.5h0m-1 0h0m3 2h0m-3 2h0m2 1h0m2.5 19.5h0m-2 0.5h0m-0.5 0h0m1.5 4.5h0m-5.5 5h0m-1 2h0m-0.5 4.5h0m6 8h0m1.5 0h0m-7 0h0m2.5 0h0m5 6.5h0m-4.5 0.5h0m-0.5 0h0m4 0h0m0 1h0m-0.5 0.5h0m-1 35h0m-1.5 1h0m-3 3.5h0m4 3h0m-2 6.5h0m-1 7.5h0m13.5-124h0m-0.5 1h0m-4.5 4h0m-2 1h0m-0.5 4.5h0m4.5 8h0m-4 0h0m2.5 2.5h0m-2.5 5.5h0m3.5 5h0m-0.5 3.5h0m4.5 8h0m-3.5 12.5h0m-4.5 9.5h0m3.5 0h0m-1 2.5h0m2.5 1h0m-3.5 1h0m3.5 1h0m-2 1.5h0m-2.5 3h0m6 1h0m-6 0h0m2 10h0m-0.5 0.5h0m-1 0.5h0m0 8h0m1.5 0.5h0m2 11.5h0m-1 5.5h0m7-103.5h0m0 13h0m-1 6.5h0m3 34h0m-1.5 2.5h0m-2 13h0m-0.5 2.5h0m1.5 8.5h0"/>
<path d="M348.5 747h0m-1 11h0m1.5 31h0m7-25h0m2 5.5h0m-1.5 4h0m1 11.5h0m2 11h0m1.5-32h0m-1 9.5h0m3 2h0m2 1.5h0m-1 0h0m0 1h0m3 2h0m-2 1.5h0m-3.5 3.5h0m-1.5 1h0m1 5.5h0m0 0h0m-0.5 1.5h0m1 1h0m5 0.5h0m-2 7h0m9.5-35.5h0m-0.5 0h0m2 1h0m-2 0.5h0m-3.5 0.5h0m1.5 1h0m2.5 2.5h0m-3.5 7h0m-1 3h0m-0.5 2h0m2 17h0m-2.5 0h0m1.5 0.5h0m6 6.5h0m-4.5 0.5h0m-1.5 7.5h0m13.5-56h0m-1 6.5h0m0.5 0h0m0 0h0m-6.5 3h0m0.5 0h0m4 0h0m1 0h0m-5.5 38h0m1 1.5h0m1 1h0m-1.5 3h0m-0.5 4h0m7 1.5h0m-6.5 5.5h0m11.5-67h0m-3.5 2.5h0m-1 7h0m1 46.5h0m0.5 1h0m8.5-68h0m-0.5 15h0m-1 4.5h0m3 2.5h0m-2 50h0m2.5 3.5h0m1 10.5h0m5.5-71h0m1.5 3.5h0m0.5 0.5h0m1 50.5h0m-1 2.5h0m2 0h0m-2.5 0.5h0m8-84h0m-1.5 3.5h0m1.5 9h0m-1 1h0m2.5 22h0m-0.5 45h0m-4.5 2.5h0m4 2.5h0m7-109h0m0.5 23h0m-2 1h0m5 8.5h0m-2 4.5h0m-2 0.5h0m-1 1h0m2 1.5h0m-0.5 3h0m3 3h0m0.5 5.5h0m-3 1.5h0m1.5 2.5h0m-4.5 1h0m3 0h0m0.5 2.5h0m2.5 41.5h0m-4.5 2h0m-2.5 12h0m6.5 19.5h0m0.5 3h0m-0.5 3h0m0.5 5.5h0m-0.5 1h0m1.5-141.5h0m4.5 10.5h0m2.5 8h0m-5 2h0m4.5 0.5h0m-5 0.5h0m4.5 1h0m-2.5 1h0m-2.5 1h0m-0.5 4h0m3.5 1.5h0m-3 0h0m1 6.5h0m-1.5 6h0m2 5h0m0.5 4h0m-2.5 4.5h0m5.5 36h0m-1.5 0.5h0m2.5 2.5h0m-2 0h0m-1 7h0m2.5 6h0m-5.5 2.5h0m1.5 2h0m-1 2.5h0m0.5 6.5h0m1.5 0.5h0m-2 0.5h0m1 2h0m2 0h0m-1 1.5h0m3.5 6.5h0m0.5 1h0m-2.5 0h0m0 0h0m-0.5 0.5h0m-2.5 7.5h0m5.5 1h0m-1 1h0m1.5 1.5h0m4.5-148h0m0.5 2.5h0m-2.5 1h0m2.5 2h0m1.5 2.5h0m-2 1h0m1.5 4h0m-6 0.5h0m7.5 58.5h0m-1 1.5h0m-2 2.5h0m-1 0.5h0m-1 1.5h0m-0.5 1.5h0m5 4.5h0m-2.5 0h0m0 2.5h0m1 0h0m-0.5 1h0m-1.5 1h0m-1 0.5h0m2 0.5h0m0 1.5h0m3.5 5h0m-6.5 3h0m3.5 2h0m-3 38h0m0 0.5h0m-1.5 1.5h0m6 0.5h0m0 0.5h0m-2.5 1h0m-1 1h0m8-144.5h0m4.5 0.5h0m-4.5 7h0m0 2h0m-0.5 5h0m-2 0h0m5 59.5h0m-5 0h0m6 2.5h0m-3 1h0m-1.5 8h0m2.5 2.5h0m0.5 2h0m-1 1h0m-3 1.5h0m2.5 0.5h0m-2 0.5h0m2 50h0m2 1.5h0m0 2h0m-3.5 1.5h0m4 0.5h0m0 3h0m8-148h0m0 3.5h0m-1.5 0.5h0m-3.5 1.5h0m0.5 66h0m0 0h0m5 4.5h0m0 0h0m-2 2h0m2.5 0.5h0m-5.5 1h0m4 2.5h0m-2 1h0m-3 55.5h0m0 2h0m6.5 0.5h0m-5.5 11.5h0m9.5-164h0m0 1.5h0m1 7.5h0m0 7.5h0m-4 0h0m3.5 0h0m1 2.5h0m-4 70.5h0m3.5 2.5h0m2 52.5h0m-0.5 1h0m9-136.5h0m0.5 2h0m-4 8.5h0m-1.5 0.5h0m1.5 0h0m-2 0.5h0m5 2h0m0.5 4h0m-1 0.5h0m2 2.5h0m-1.5 45.5h0m0.5 3.5h0m-3.5 2h0m4 11h0m0 0h0m-3.5 49h0m7.5-132.5h0m0 14.5h0m2 0.5h0m-4 7.5h0m4 1h0m-2 0.5h0m3.5 5h0m-1 3h0m0 3h0m2.5 13h0m-1.5 1h0m-1 1h0m2 0h0m0 3h0m-3 2h0m-1 4h0m4 2.5h0m-4 0.5h0m-1 2h0m-1 1h0m5 2h0m-5 1.5h0m2.5 4.5h0m-2 4h0m2 6h0m-3.5 1h0m2 1h0m4.5 2.5h0m2.5-67h0m0.5 4h0m-1 0.5h0m4 1.5h0m-4 4h0m2.5 3h0m-1.5 1h0m-2 1h0m2 2.5h0m5 5.5h0m-4 4h0m1 3.5h0m-2.5 0h0m2.5 5.5h0m-3 4.5h0m0.5 4h0m3.5 0.5h0m-1.5 4h0m-2 2h0m5.5 4.5h0m-6 3h0m3.5 7h0m1 1h0m1.5 3h0m-2 6.5h0m2 4h0m-5 1h0m-1 1.5h0m6.5 9.5h0m-3.5 4.5h0m12-84h0m-5.5 7.5h0m5 1.5h0m-3 27.5h0m-1.5 16.5h0"/>
<path d="M349 779.5h0m9-4h0m0 6.5h0m0.5 12.5h0m-1 4h0m-3.5 9.5h0m3.5 8.5h0m2 0h0m7-58h0m-4.5 18h0m1.5 7h0m4 1h0m-2 5h0m-4 1.5h0m3 3h0m0.5 1.5h0m-1 0.5h0m-2.5 1h0m5 1h0m0 0h0m-6 0.5h0m6.5 1h0m0.5 0h0m-2 1h0m1 1.5h0m-5.5 1.5h0m6.5 3h0m-1 1.5h0m1 1h0m0 2.5h0m-4.5 10.5h0m9-63h0m-2.5 5h0m-0.5 4h0m1.5 2.5h0m-1.5 1.5h0m0 0.5h0m3 0h0m-2 2.5h0m-0.5 2.5h0m-1 5h0m-0.5 0.5h0m1 17h0m2 3.5h0m1.5 1h0m2 0.5h0m-1 0h0m1.5 0.5h0m-0.5 3.5h0m7.5-52h0m1 4.5h0m-3 1.5h0m2 3.5h0m-5.5 1.5h0m0 39h0m0 1.5h0m1.5 0.5h0m0 1.5h0m-1 1h0m0 0h0m3 5h0m-0.5 0h0m11-58h0m-5 0h0m0.5 3h0m5.5 2h0m-3.5 0.5h0m-4 4.5h0m6 45.5h0m-4.5 2.5h0m4 3.5h0m4-57h0m4 2h0m-1.5 0.5h0m3 1h0m-2 0.5h0m-4 48h0m3.5 0h0m-4 1.5h0m5.5 3.5h0m-0.5 2.5h0m10-67.5h0m-1 4.5h0m-0.5 0.5h0m1 4h0m0.5 52h0m-1.5 2h0m0.5 1.5h0m-6 3h0m6.5 3h0m3-92.5h0m5.5 12.5h0m-5 0h0m-0.5 8h0m5.5 3.5h0m-6.5 4.5h0m4.5 1h0m-0.5 5.5h0m-3 1h0m0 46.5h0m-0.5 10h0m5 13h0m3-126h0m5 22h0m-5.5 1h0m3 16.5h0m-1 2h0m2 2h0m1 0.5h0m-1.5 0.5h0m-0.5 4.5h0m2.5 0.5h0m-2.5 1.5h0m-3.5 6h0m4.5 2.5h0m-0.5 41h0m2 4.5h0m0 1.5h0m0 26.5h0m5.5-126.5h0m1 1h0m2 1h0m1 7.5h0m-7.5 0.5h0m5 3h0m1 1h0m0.5 0h0m-1.5 1.5h0m1.5 0.5h0m-3 3.5h0m1 0h0m-2 0h0m2.5 1h0m-4.5 1.5h0m1.5 3.5h0m0 2h0m1 1h0m-1.5 2.5h0m1.5 0.5h0m0.5 0h0m-1 1h0m-1.5 1h0m0.5 0.5h0m-1 9h0m-0.5 11.5h0m5 34h0m-3 2.5h0m5 1h0m-5.5 5h0m4 4h0m1 5.5h0m-6 3.5h0m0 6h0m3 5h0m-0.5 1.5h0m2 0.5h0m2.5 6.5h0m-1.5 0h0m-5 7.5h0m7-149.5h0m4 3h0m2.5 7h0m-6.5 5.5h0m3.5 1h0m2 1h0m-0.5 1.5h0m-0.5 1h0m0.5 1h0m-2 4h0m-1 51.5h0m3.5 2h0m-1.5 0.5h0m-3 0h0m4.5 0.5h0m0.5 2h0m-3.5 1.5h0m0 4.5h0m1.5 1h0m3 0.5h0m-0.5 6h0m-2 6h0m-5 2h0m2.5 2h0m-2 1.5h0m2 1.5h0m1.5 39h0m0 0h0m3 0.5h0m-0.5 2h0m0 10.5h0m3.5-152.5h0m4 2.5h0m-0.5 5h0m-0.5 0.5h0m3 1h0m-3 1h0m-4.5 0.5h0m2.5 2h0m-2.5 0h0m3.5 0h0m-3.5 1h0m0 0.5h0m0.5 56h0m4 1.5h0m-2 3h0m4 5h0m-6 1h0m6 0h0m-1 2h0m2 0.5h0m-3.5 1h0m-3 3.5h0m-1 0.5h0m2.5 51.5h0m2.5 0.5h0m0.5 2.5h0m0 2h0m-4 7h0m10.5-150h0m-1.5 2.5h0m2.5 3.5h0m1.5 0.5h0m-6 0.5h0m2 2h0m-3 1h0m2 64h0m0 0.5h0m1 2h0m-3 4.5h0m0.5 1h0m1.5 0.5h0m-1 1.5h0m2.5 0h0m-1.5 56h0m7.5-151.5h0m-1 2.5h0m1.5 8.5h0m-1.5 2.5h0m2 2.5h0m-0.5 1h0m2 1h0m0.5 0h0m0 0.5h0m-2.5 70.5h0m1.5 56h0m-2.5 4h0m4 2h0m8-141h0m0.5 4.5h0m1.5 2.5h0m-3 3.5h0m-2.5 1h0m5.5 5.5h0m0.5 48.5h0m0.5 6h0m-0.5 4.5h0m4-54h0m4 0.5h0m-6 1.5h0m3.5 0.5h0m-3 0h0m1.5 2.5h0m3.5 0.5h0m-4 0h0m4 5h0m1 20h0m0 2h0m-1 1h0m-3 6h0m1.5 0h0m-2.5 0.5h0m4 3h0m-1.5 3h0m-5 4h0m7 5h0m-7.5 3.5h0m2.5 0.5h0m5 7h0m-0.5 23h0m-1 2h0m-1.5 7h0m-4 4.5h0m3.5 9h0m7-103h0m-1 3h0m-1 0h0m1.5 3h0m-2 1.5h0m1 5h0m-1.5 0h0m7 1.5h0m-6 7h0m1 2.5h0m4.5 6h0m-6.5 4h0m5.5 2.5h0m0.5 7h0m-3.5 9h0m0 4.5h0m-1 0h0m2 1.5h0m-2.5 3.5h0m0 0h0m6 0.5h0m-2.5 4.5h0m-2.5 6h0m0.5 4.5h0m6-75h0m5.5 8h0m5.5 42.5h0"/>
<path d="M350 768h0m-2 24h0m1 8.5h0m9.5-39.5h0m0 17.5h0m-0.5 5h0m-0.5 10.5h0m-5 12.5h0m14.5-36.5h0m1 2h0m-4.5 1h0m1 1.5h0m3 3h0m-0.5 1.5h0m-0.5 0h0m0 2h0m1.5 1h0m-6 2h0m1 3h0m1.5 5h0m-1 0h0m-2 1.5h0m1 0.5h0m2 1.5h0m1 0.5h0m1.5 0.5h0m-1.5 2.5h0m1.5 0.5h0m1 4.5h0m-3 1.5h0m-3 0.5h0m0 4h0m5.5 0h0m-4 18.5h0m8-66.5h0m1.5 1h0m-2.5 1h0m-2 7.5h0m6 2h0m-4 2.5h0m0 2h0m-2 6h0m-0.5 16h0m3.5 2.5h0m1 2.5h0m1.5 3h0m-3 0.5h0m-1.5 0.5h0m10.5-55.5h0m0.5 7h0m2 1.5h0m-3.5 2h0m-1 1.5h0m2 1h0m-1 1h0m-0.5 4h0m0.5 39h0m2.5 3.5h0m-1 1.5h0m-2 0.5h0m4.5 1.5h0m5-68h0m3 11h0m-5 3h0m-2 0h0m7 0h0m-6 3h0m14-7.5h0m-6 5h0m3 2h0m-0.5 0h0m-1 1h0m-2.5 46.5h0m6 2h0m0.5 1h0m1 5h0m1.5-74h0m3.5 0h0m-3.5 13.5h0m2 0.5h0m3 0.5h0m1.5 0h0m-7 2.5h0m0 1.5h0m0.5 0.5h0m5.5 2h0m-3 46h0m1.5 0h0m-1.5 2.5h0m-2.5 8.5h0m5.5 3.5h0m7.5-91.5h0m-3 15.5h0m-3 11.5h0m3.5 1.5h0m-1.5 1h0m1.5 48h0m2 13h0m10.5-119h0m-4 21.5h0m3.5 3h0m-3 9h0m3 2h0m-1.5 0h0m-2 4h0m-4 8h0m5 0.5h0m-4.5 8.5h0m5.5 0.5h0m-5 1.5h0m5 1h0m2 1h0m-4.5 4h0m4 37.5h0m-0.5 0.5h0m-3.5 0.5h0m-0.5 1.5h0m3 0h0m2 16h0m-1.5 0.5h0m1 1.5h0m-4.5 1h0m-2.5 5h0m7.5 5h0m-3 7.5h0m6-132.5h0m4.5 8h0m-3 1.5h0m3 0.5h0m-1.5 3.5h0m-2.5 5.5h0m-2 2.5h0m1.5 1h0m-1.5 3h0m1 4h0m1 1h0m0 10h0m-1 2.5h0m1 1.5h0m-3 6.5h0m1.5 6h0m4 49.5h0m0.5 1.5h0m-2 1h0m1 0.5h0m-1 1h0m0.5 10.5h0m-4.5 0h0m1 0h0m4 2h0m-0.5 0.5h0m-2.5 0h0m1 0h0m-0.5 0.5h0m-0.5 2.5h0m1 0h0m2.5 5h0m-4 0.5h0m4 0h0m1.5 4h0m-4 0h0m3.5 4h0m-2 2h0m-3.5 1h0m1.5 5.5h0m-1 1.5h0m10-151.5h0m0.5 4h0m3 2h0m-5.5 0h0m1 4h0m1 1.5h0m-1 0h0m-0.5 1h0m1 1.5h0m2 0.5h0m-1.5 0.5h0m-4 1.5h0m5 52.5h0m2 8.5h0m-4 0h0m0.5 3.5h0m2 1h0m0.5 0h0m-2.5 1h0m1.5 1.5h0m-3 1h0m0 2.5h0m0 0.5h0m2.5 0.5h0m-3.5 0h0m4 2h0m-4.5 5.5h0m2 8.5h0m-2 26.5h0m5 6.5h0m2 4h0m-4 0h0m3 8.5h0m6-148h0m-3 0.5h0m1.5 2h0m0.5 2h0m-2 0h0m6 1h0m-5 1h0m-0.5 59h0m1.5 0.5h0m-0.5 0.5h0m-2 2h0m3 4h0m3.5 1.5h0m-6 1h0m0.5 8h0m3 0.5h0m2 0.5h0m-4.5 56h0m3.5 0h0m0 3.5h0m7.5-146h0m-3.5 7.5h0m-1 1h0m-0.5 68h0m-0.5 3h0m1 1.5h0m6 57h0m-5 8h0m-1 3h0m10.5-159.5h0m-2.5 7h0m2.5 3.5h0m-1.5 4.5h0m3.5 3h0m-2 70.5h0m-3 0.5h0m4 1h0m-4 1.5h0m6.5 52h0m-1.5 0.5h0m-4.5 1h0m6 10.5h0m5-149.5h0m-2.5 14.5h0m4 55.5h0m0 3h0m-1 57h0m-2 3h0m-2.5 1h0m1.5 11h0m7.5-132.5h0m2 8.5h0m-3 3h0m5 9.5h0m-0.5 0.5h0m1 6h0m2 2h0m-1.5 7h0m-1.5 9h0m0.5 2.5h0m-4 2h0m0.5 0h0m2.5 1.5h0m-2.5 0h0m5 2h0m-2 0.5h0m2.5 0.5h0m0 0h0m0.5 4h0m0 0h0m-4 10h0m3 1h0m0.5 1h0m-4 1h0m-2.5 0.5h0m3.5 0h0m3 30.5h0m-2.5 2.5h0m-0.5 3h0m2 4h0m-5 3.5h0m4 4.5h0m-3.5 1.5h0m7.5-115.5h0m-0.5 3h0m5.5 13.5h0m-3.5 8.5h0m-1 0.5h0m2 2.5h0m-3.5 3h0m2.5 4h0m-0.5 1h0m-1 0.5h0m4.5 16.5h0m-5 8.5h0m1 2h0m3 4.5h0m-4 0.5h0m5.5 5.5h0m0 1h0m-4 1.5h0m1 1.5h0m1.5 2h0m1 5h0m0 3.5h0m-3.5 0h0m4 1h0m-3 5.5h0m7-55h0m-1 39h0m8-95.5h0"/>
<path d="M346 788.5h0m4 7.5h0m0.5 4.5h0m9.5-31.5h0m0 1.5h0m-6 11h0m1.5 5.5h0m3 1.5h0m9.5-16h0m-4.5 6h0m2.5 0.5h0m-1.5 3h0m-1 1h0m1.5 0.5h0m3 1.5h0m-5 4h0m0 2.5h0m4 6.5h0m3-49.5h0m1 13h0m-2.5 3h0m2 3h0m-0.5 9.5h0m-1.5 1h0m1.5 25h0m-1.5 0.5h0m5 1.5h0m2 2.5h0m-3.5 4.5h0m-1.5 3h0m-1.5 2h0m11.5-56.5h0m0.5 2h0m0.5 0.5h0m-4.5 1h0m2 0.5h0m4.5 4h0m-3.5 1.5h0m-1.5 38.5h0m3 1h0m-1 0.5h0m2 1.5h0m-5.5 4h0m14-68.5h0m-4 8.5h0m-0.5 8h0m-0.5 2h0m4.5 1.5h0m-4 45h0m1.5 1h0m2 0.5h0m0 0.5h0m7-67h0m-3.5 6.5h0m2 2.5h0m-0.5 1h0m4 0.5h0m0.5 3.5h0m-4 1h0m2 1.5h0m1.5 1.5h0m-6.5 48h0m2 1.5h0m7.5-56.5h0m2.5 3.5h0m3 4.5h0m-5 0.5h0m2 0.5h0m-2 0h0m4.5 1.5h0m-6 46h0m-0.5 0h0m3 0.5h0m-0.5 0h0m1 1h0m1.5 8.5h0m-4 6.5h0m10-77h0m2.5 2.5h0m1.5 0.5h0m-3.5 9.5h0m-1.5 2.5h0m3 2h0m1 0.5h0m0 42h0m-5 1h0m-1 0h0m0 0.5h0m6 2h0m-0.5 4h0m1.5 1.5h0m5-100h0m-1.5 7h0m4.5 5h0m-4 10h0m2 1.5h0m-2.5 2h0m-1 0h0m1 2h0m0 7.5h0m2.5 1h0m-2 2.5h0m3.5 2.5h0m-6 5.5h0m4 2h0m1 57h0m-1 2.5h0m3 10h0m-1.5 11.5h0m5.5-129.5h0m1 4.5h0m1.5 7.5h0m-3 0.5h0m-2.5 13.5h0m2.5 2.5h0m0.5 0h0m-3.5 0h0m3 2h0m-0.5 4h0m0 5h0m0 7h0m-1 6.5h0m4 31h0m-2 3.5h0m2 1h0m-5 2.5h0m4.5 0.5h0m-5 13h0m1.5 4.5h0m0.5 8.5h0m-1.5 1.5h0m4 0.5h0m-1 0h0m-2 7.5h0m0 1.5h0m-2 1h0m6.5 2h0m-5 7.5h0m5 4h0m6-167.5h0m-0.5 19.5h0m-1 0.5h0m1.5 0h0m3 1h0m-3 5h0m-1.5 3.5h0m4.5 0.5h0m-4 2h0m-0.5 0h0m-2.5 0.5h0m0.5 0.5h0m6 52h0m-4.5 0.5h0m0 0.5h0m3.5 2h0m-2 0h0m1 2.5h0m-1 0.5h0m3.5 1.5h0m0.5 0.5h0m-6 1h0m2 3h0m-1 2h0m4 1.5h0m-5.5 1.5h0m2 5h0m1.5 0.5h0m-2 0h0m0 1h0m-2 0.5h0m3.5 2.5h0m-1.5 1h0m0.5 1.5h0m1 2h0m1 0.5h0m-1.5 3h0m0 1h0m-1.5 2h0m-1.5 1.5h0m-0.5 26h0m0.5 3.5h0m3 2h0m2 1h0m1.5 2h0m5-140.5h0m-0.5 3h0m-2 0h0m0.5 2.5h0m-0.5 1h0m4 3.5h0m-5.5 58.5h0m3 6h0m-3 0.5h0m3 2.5h0m-2.5 5.5h0m6 58h0m-5 1h0m-1 1h0m3.5 3.5h0m7.5-149.5h0m3.5 1h0m-1 6h0m-1 0.5h0m2 0.5h0m0 1h0m-3.5 0.5h0m-1.5 65h0m2 2.5h0m-1 3h0m-1 0.5h0m-1.5 2h0m4.5 2h0m-3.5 1h0m0 1h0m-0.5 1h0m-1 62h0m8-146.5h0m-0.5 2.5h0m0.5 3.5h0m3 1h0m-2.5 0h0m2.5 1h0m2.5 0h0m-0.5 0.5h0m0 0h0m-2.5 70h0m0.5 0h0m-0.5 1.5h0m12.5-85h0m-5 12.5h0m4.5 2.5h0m-1 0.5h0m-1 54.5h0m2.5 2.5h0m0.5 3h0m-4 2h0m1.5 0.5h0m0.5 3h0m-0.5 1h0m1.5 2h0m0.5 1h0m-0.5 44.5h0m-5.5 5.5h0m2 1.5h0m6-127.5h0m0 6h0m0 1h0m1.5 2h0m4 5.5h0m-5 3.5h0m5 1.5h0m-2.5 2.5h0m-1 0.5h0m4 14h0m0 5.5h0m-1.5 0.5h0m0.5 4h0m-3.5 4h0m-0.5 1h0m3.5 1h0m-3.5 0.5h0m3 2h0m-4.5 3h0m2 3.5h0m5 1.5h0m-8 0.5h0m1 6h0m-0.5 2.5h0m7 1h0m-2.5 0.5h0m-4 2h0m-0.5 0.5h0m3 34.5h0m2.5 0h0m-4 2.5h0m-0.5 3.5h0m-1 0h0m0 1.5h0m13-116h0m-0.5 16h0m1 3h0m-3.5 1h0m3 2.5h0m-4.5 5h0m3 6h0m-3.5 1h0m-0.5 0h0m0.5 21h0m0 2h0m7 5.5h0m-6.5 5h0m6 1.5h0m0 0.5h0m-7 4.5h0m4 3h0m-2.5 2h0m-1 3.5h0m0.5 1h0m1.5 0h0m5.5 4h0m-6.5 0.5h0m6 1.5h0m-3.5 1h0m0.5 14h0m5-71.5h0m-0.5 27.5h0m3.5 1.5h0m-3.5 24.5h0m4 13h0m9-74h0"/>
<path d="M337.5 768.5h0m18-8h0m1.5 17h0m0.5 14.5h0m1 1.5h0m-4.5 1h0m4 3.5h0m0 1.5h0m9-38.5h0m-2 2.5h0m-4 0.5h0m3.5 0.5h0m3 8.5h0m-4 1.5h0m-1.5 6h0m0 2.5h0m1.5 2.5h0m3.5 2h0m-6.5 0h0m4 5h0m3 5.5h0m0 5h0m-0.5 2h0m3.5-52h0m2 5.5h0m-1 2h0m-2.5 0.5h0m6.5 1h0m-5.5 1.5h0m1 0.5h0m0.5 4.5h0m0.5 0.5h0m-3 2.5h0m4 3h0m-2 1h0m-2 1.5h0m1 2.5h0m-2 3h0m0.5 17h0m5.5 5h0m1 1.5h0m-6.5 5.5h0m5 3.5h0m-2.5 3h0m10.5-61.5h0m0 8.5h0m1.5 0.5h0m-2 2h0m-3.5 1h0m0.5 39.5h0m-0.5 0.5h0m3 1.5h0m-0.5 1h0m3.5 1h0m-6 2.5h0m3.5 0.5h0m1.5 4h0m-1.5 1.5h0m5-69h0m0 0h0m-1.5 3h0m4.5 6h0m-5 2h0m7.5 2h0m-4 1.5h0m3.5 48.5h0m-4.5 0.5h0m5 4.5h0m1-61.5h0m4 5h0m-4 3h0m1 49h0m3.5 0.5h0m-3.5 0h0m5.5 2h0m4-65.5h0m0 10h0m0.5 5h0m1 1h0m-2.5 51.5h0m0.5 4h0m8-90h0m2 2h0m-0.5 10.5h0m-1 16.5h0m-0.5 0.5h0m5.5 1.5h0m0 1h0m-7 1.5h0m2 1.5h0m1 0.5h0m3 1.5h0m0.5 43h0m-7.5 5h0m12-71.5h0m-2 2.5h0m6 0h0m-4 2h0m0 0h0m-2 3h0m-1.5 5.5h0m0 8.5h0m2 2h0m-1 1h0m0.5 1h0m4.5 0.5h0m1 37.5h0m-2.5 2.5h0m1 1h0m1 0h0m0 0.5h0m0 0.5h0m-3 0.5h0m3 1h0m-2 5.5h0m-3 2.5h0m3 7.5h0m3 21.5h0m-5 14h0m9.5-147.5h0m0 2h0m3 7h0m-2.5 5.5h0m1 1.5h0m-3 2h0m1.5 0.5h0m-3 1h0m2.5 1h0m-0.5 3h0m1 1.5h0m-2.5 1h0m-0.5 3.5h0m1.5 5.5h0m-1.5 3.5h0m0.5 4.5h0m-1 0h0m1 1.5h0m-0.5 0h0m0.5 0h0m-2 1.5h0m2 0.5h0m3 40.5h0m-1 2h0m-0.5 1h0m3 0h0m-4.5 0.5h0m5 1h0m-3.5 1.5h0m-1 2.5h0m-2 4h0m0 2.5h0m5.5 6.5h0m-2.5 1.5h0m1.5 2h0m0 4.5h0m-1.5 4.5h0m0.5 3.5h0m3.5 2.5h0m-4 1h0m3 2.5h0m-1 8.5h0m9.5-136h0m1 3.5h0m-5.5 0h0m2 1h0m-3 2h0m0 0h0m6 58h0m-6 1h0m1.5 1h0m0.5 4.5h0m0.5 0h0m-1 5.5h0m2 4h0m0.5 4h0m-1 0.5h0m-0.5 9.5h0m-2.5 0.5h0m4.5 35h0m0.5 2h0m-3 1h0m0 4h0m-0.5 1h0m11-158.5h0m-2.5 15h0m-1.5 5.5h0m4.5 2.5h0m-5 60.5h0m0.5 1h0m1.5 0.5h0m3.5 1h0m-1 1h0m0.5 0.5h0m-5.5 10.5h0m4 2h0m-5 6h0m2.5 45h0m4 0.5h0m-4.5 0h0m-1 1.5h0m4 0h0m1.5 0h0m-2 1.5h0m0 0.5h0m-2.5 5h0m13-149.5h0m-0.5 9h0m-4 0.5h0m-1 1.5h0m0 71.5h0m4 2.5h0m-4.5 3h0m3 53.5h0m-1 2.5h0m10-150.5h0m-1 5h0m1.5 9.5h0m-2 1h0m4.5 4.5h0m-7.5 67h0m1 1.5h0m2.5 0.5h0m0.5 52h0m-1.5 4.5h0m12-129.5h0m-3.5 0.5h0m-0.5 1.5h0m2.5 0.5h0m-3 1.5h0m2 0h0m-2.5 1h0m5 4.5h0m1 54h0m-3.5 1h0m1 0.5h0m2.5 6h0m-0.5 43.5h0m-0.5 4h0m-5.5 3.5h0m5 2.5h0m6.5-126h0m0.5 5h0m-2.5 6h0m-1.5 0h0m2.5 1h0m2.5 2h0m-4 3h0m1 0h0m2 0.5h0m-2 5.5h0m2 4h0m2 3h0m-2 0.5h0m2 4.5h0m-0.5 15h0m-1 3h0m-2.5 1h0m1.5 0h0m-3 6h0m0.5 1.5h0m-1.5 3.5h0m3 3h0m-1.5 4h0m2 0h0m-2 0.5h0m2 1h0m-0.5 0.5h0m-1.5 0.5h0m1 0h0m2.5 2.5h0m0.5 2h0m-1 0h0m1.5 2.5h0m-4 28.5h0m-0.5 2h0m0.5 3h0m3.5 2.5h0m-1 10.5h0m-3 0h0m12-138h0m-1.5 22h0m-2.5 4.5h0m2 5h0m-3 2.5h0m-0.5 3.5h0m1.5 2.5h0m-2.5 3h0m4 0.5h0m3.5 3h0m-7 4h0m1.5 4h0m-1 10.5h0m5 1h0m-4 15.5h0m4.5 1h0m-3.5 4h0m0.5 7h0m0 3.5h0m1 0.5h0m2 3h0m0 1h0m-5 7h0m0.5 1.5h0m10.5-63h0m0 29h0m-3.5 6h0m1 3.5h0m1.5 0.5h0m-2 9h0m2.5 9.5h0"/>
<path d="M352 773.5h0m-2 11.5h0m-5.5 5h0m1.5 7h0m12.5-20.5h0m-1 0.5h0m-2.5 3.5h0m-1 11h0m-0.5 0.5h0m6 0.5h0m-6.5 0h0m2 2h0m3.5 3.5h0m-3.5 5.5h0m4.5 5h0m7.5-44.5h0m-1.5 8h0m1 1h0m-3 6h0m3.5 1.5h0m-3 0.5h0m2.5 0.5h0m-2.5 5.5h0m0.5 1.5h0m1.5 2.5h0m-2 3.5h0m2 0.5h0m-5 1.5h0m4 0.5h0m3 1h0m-2 3.5h0m1 3.5h0m-1 2.5h0m-1 4.5h0m11-56h0m-6 9.5h0m-1 3.5h0m4 3.5h0m1 1.5h0m-4 6h0m-1 2.5h0m-0.5 17h0m0 6h0m2 1.5h0m4.5 1.5h0m7-41.5h0m1.5 0h0m-4 0.5h0m-1.5 2h0m-1 42h0m5.5 2h0m-4 0.5h0m2 4h0m-3.5 2h0m5 2.5h0m9-66.5h0m1 2h0m-5 0.5h0m-1.5 1h0m1.5 1h0m-2.5 0h0m5.5 0.5h0m-1 0.5h0m0.5 3.5h0m1.5 0.5h0m-3 1.5h0m-2.5 45h0m0 0.5h0m2.5 0h0m2.5 4h0m2.5-75h0m-1 4h0m7 3.5h0m-2 3h0m-3 9h0m1 2h0m1 2h0m-1 2h0m-2 46.5h0m1.5 0.5h0m2.5 0.5h0m2 2h0m-2.5 3h0m-3 1.5h0m0 1.5h0m11.5-81.5h0m0.5 11h0m-3.5 0.5h0m3 4.5h0m-4.5 3h0m5.5 56.5h0m-3.5 3h0m2 0.5h0m2.5 3h0m8-97.5h0m-2 22.5h0m-4 8h0m6 4.5h0m0 4.5h0m-2 0.5h0m-5 1h0m5 0h0m-2.5 3.5h0m5 44h0m-3 1h0m-1.5 2h0m0.5 0.5h0m-1 6h0m3 1.5h0m10-107h0m-3.5 13.5h0m1.5 8h0m-2 0.5h0m-0.5 11.5h0m4.5 1h0m-2.5 1.5h0m0.5 1h0m1 5h0m-2.5 0.5h0m-2 7h0m2 1.5h0m3.5 41.5h0m-2.5 1.5h0m2.5 2h0m-4.5 2.5h0m4 14h0m-3 13.5h0m11-143.5h0m0.5 6.5h0m-0.5 24h0m-1.5 5h0m-3.5 0h0m2.5 1h0m-2.5 3.5h0m2.5 0.5h0m-1 20.5h0m0 4.5h0m-3 2.5h0m3 0h0m-2 5.5h0m5 34h0m-2 2h0m2 5.5h0m-2 1h0m2 1.5h0m-6 4.5h0m1 0.5h0m3.5 2.5h0m-3.5 5h0m1 7h0m-0.5 2.5h0m3.5 0.5h0m-4.5 1h0m0 10h0m3 0.5h0m2.5 4.5h0m0.5 3h0m8.5-138h0m-2 2h0m-2.5 1h0m-2 0.5h0m6 0.5h0m-6 1h0m4 1h0m-4 3h0m0.5 0.5h0m-1.5 3.5h0m0 1h0m4.5 51.5h0m3 0.5h0m-2 2h0m-3 3h0m0 4h0m0.5 1h0m-1.5 5h0m3.5 0.5h0m-2.5 1.5h0m-1 3h0m4.5 4h0m-3 0.5h0m-0.5 6.5h0m-2 30.5h0m4 4h0m1.5 9.5h0m1.5 0.5h0m-5 1h0m9-145h0m2.5 2.5h0m-6 0.5h0m0.5 1h0m5.5 1h0m-4.5 2.5h0m-0.5 0.5h0m5 61h0m0.5 8h0m0.5 6h0m-2 0.5h0m-4.5 4.5h0m3 47.5h0m-0.5 1h0m2 0.5h0m-2 0h0m-2.5 3.5h0m4.5 0.5h0m-0.5 4.5h0m8.5-153.5h0m-3 2h0m0 2h0m-1 1h0m4.5 2.5h0m-1.5 1.5h0m3 1h0m-3.5 2h0m-1 0h0m4 67.5h0m-1 5.5h0m-4 3.5h0m0.5 60h0m0 2.5h0m5.5 2h0m2.5-149h0m1 3.5h0m-3 3h0m6 124h0m-1 2.5h0m2.5 1.5h0m-2 1h0m0 0.5h0m-4 2.5h0m1.5 2h0m5.5-135h0m7 6h0m-3.5 2h0m1.5 1.5h0m0 1h0m1.5 1h0m0 1.5h0m0 47.5h0m-1.5 1.5h0m0.5 6.5h0m0.5 6h0m-2 47h0m-1.5 2.5h0m-2 3h0m5 0.5h0m-6 0h0m1 0h0m10-123h0m3 5h0m-0.5 3h0m-4 3h0m5.5 7h0m-2.5 0.5h0m0.5 3h0m0.5 4h0m1 1.5h0m1.5 0.5h0m-1.5 2h0m-1 10.5h0m2 2h0m-1 4.5h0m1 2h0m-1.5 0.5h0m-3 0.5h0m-1 0.5h0m-0.5 4.5h0m4 3.5h0m-4 2h0m5 4h0m0 1h0m0 3.5h0m1 0.5h0m-3.5 4h0m3 0.5h0m-1.5 0.5h0m2.5 24h0m-3.5 10.5h0m4-104.5h0m0 2.5h0m6.5 3.5h0m-6.5 3.5h0m3.5 2.5h0m1 1.5h0m-1.5 6h0m1 2h0m2 7h0m-3.5 2h0m5 12.5h0m-6.5 11h0m5.5 0h0m-3 1.5h0m-1.5 7h0m2.5 4.5h0m-4 0.5h0m3.5 1h0m-0.5 2h0m-1 1.5h0m5 1h0m-6 1.5h0m-1.5 8.5h0m5.5 1h0m-2 0.5h0m-1.5 0.5h0m1 6h0m7.5-88h0m-2.5 13h0m0.5 6h0m1 41h0m4 10.5h0m-3 7h0"/>
<path d="M341.5 776h0m9 21h0m9-60h0m-3 34h0m2.5 4.5h0m0 4.5h0m-5.5 0.5h0m4.5 9h0m1 0.5h0m-4.5 3.5h0m4 5.5h0m1 0.5h0m0 0.5h0m-2.5 1h0m-3 4h0m9.5-53h0m2 17.5h0m1.5 4h0m-6 4h0m5.5 0.5h0m-4 5h0m-2.5 8.5h0m2 0.5h0m5 4h0m-0.5 0.5h0m-5 3h0m6 0h0m-5 2h0m3 0.5h0m-4.5 2.5h0m4.5 2h0m1.5 3h0m8-49.5h0m-5.5 4h0m4.5 2.5h0m-2.5 11h0m-2.5 5.5h0m3 24.5h0m2.5 1.5h0m-0.5 2h0m-1 3.5h0m-2 4.5h0m11.5-59h0m0.5 0h0m-6.5 3h0m2.5 1h0m-1.5 0h0m5 1.5h0m-2 43.5h0m-1 1h0m-3 2.5h0m5 1.5h0m-5.5 4.5h0m0.5 7h0m9.5-65.5h0m-0.5 1.5h0m0.5 0.5h0m4.5 0.5h0m-1.5 3h0m1 1.5h0m1.5 49h0m-1.5 6.5h0m9-60.5h0m-6 2h0m5.5 1.5h0m-1.5 0h0m2.5 1.5h0m-5 51h0m-2 1h0m13-62h0m1.5 4.5h0m-1.5 0.5h0m-4 2.5h0m5 0.5h0m-3.5 49.5h0m0.5 1.5h0m-3 1h0m2.5 0h0m-2.5 1.5h0m2.5 0h0m4.5 6h0m-2 2h0m9.5-101.5h0m-4.5 9.5h0m2 5.5h0m1.5 10.5h0m1 9h0m-3.5 1.5h0m-0.5 5.5h0m-2.5 1h0m6 0.5h0m-1 1h0m-5.5 48.5h0m7 5.5h0m2.5-93h0m1 2.5h0m-2 10h0m4.5 2h0m2 2h0m-2.5 1h0m-1.5 3h0m-0.5 7.5h0m2.5 1.5h0m-5 7.5h0m0 1.5h0m2.5 0h0m1.5 2.5h0m2.5 0.5h0m0.5 2h0m0.5 1h0m-2.5 37h0m0 0h0m-3.5 1.5h0m1 1h0m2.5 1.5h0m-3 0.5h0m3 10h0m2.5 3h0m0 9.5h0m0 10h0m7.5-124h0m0 1.5h0m-4 0.5h0m3 4.5h0m-1.5 1h0m-3.5 2.5h0m4 0.5h0m-0.5 2.5h0m2.5 0.5h0m-2 0h0m0.5 2h0m0 1.5h0m-1.5 0.5h0m0 1h0m-1.5 3h0m-1.5 4h0m1.5 2.5h0m-1 2.5h0m0 1.5h0m-1 6h0m3 3h0m-3 1h0m3 0.5h0m-2.5 1h0m1.5 1h0m-1 2.5h0m6.5 35h0m-2 0.5h0m-5.5 6h0m2.5 0h0m3.5 1h0m0.5 9.5h0m-1.5 5.5h0m-3 3h0m0.5 7.5h0m1.5 5h0m-3.5 1.5h0m1 2h0m0 0.5h0m7-130.5h0m6.5 6.5h0m-5 1h0m5.5 1h0m-4.5 3.5h0m-1.5 54h0m-1.5 1.5h0m5.5 1.5h0m1 1.5h0m0 2h0m-2.5 4.5h0m-2.5 2.5h0m2.5 0.5h0m2 1h0m0 0h0m-1 0.5h0m-4 0.5h0m4.5 0h0m-5 1.5h0m3.5 1h0m3.5 1h0m-4 0.5h0m-1.5 2.5h0m4.5 1.5h0m-4 1h0m3.5 1h0m-2.5 3.5h0m1 0.5h0m0 0.5h0m-2.5 5.5h0m-1.5 31.5h0m1 0.5h0m4 3h0m0.5 0.5h0m0 0.5h0m-1 1.5h0m-3 0h0m-1 6h0m3 2.5h0m4-142h0m1 2.5h0m2.5 58.5h0m-2.5 0.5h0m2.5 1h0m3 3h0m-1 1.5h0m-6 4h0m0.5 1h0m7 6.5h0m-5.5 56.5h0m6.5-144h0m-0.5 2h0m4.5 2h0m-3 0.5h0m0 0h0m5 1h0m-2 3h0m-1 66h0m-1.5 1h0m0.5 3h0m3.5 2h0m-2.5 0.5h0m-3.5 58.5h0m2 4.5h0m-1 0.5h0m11-145h0m-3.5 5h0m4 4.5h0m1 0.5h0m-4 71h0m0 0h0m6 50.5h0m-3 2h0m1 3.5h0m-5 0.5h0m4.5 1h0m-4 0h0m-1 3h0m0 1.5h0m12-140h0m-2 4h0m1 2h0m-0.5 0.5h0m3 1.5h0m-1 3h0m2 3h0m0 2h0m-4 52h0m3 3.5h0m-0.5 0.5h0m-2.5 54h0m2.5 0h0m1.5 0.5h0m1 1.5h0m-7.5 13h0m8.5-133h0m3 0.5h0m3.5 8h0m-0.5 3.5h0m0 0h0m-0.5 2.5h0m0 6h0m0 3.5h0m0 19h0m-2.5 2h0m2.5 2h0m-3.5 2h0m3 7h0m-3.5 3.5h0m1.5 3.5h0m-1 1h0m5.5 1h0m-6 3.5h0m3.5 4h0m-1 1h0m1 0.5h0m2.5 3.5h0m-1 26.5h0m-4 2.5h0m3 1h0m-2 0h0m-1.5 1h0m4 7.5h0m-1.5 7h0m4-117h0m6.5 12.5h0m-2.5 5.5h0m-0.5 1.5h0m-1.5 7.5h0m-2.5 1h0m0 7h0m2 1h0m-1.5 2.5h0m0.5 2.5h0m0.5 8.5h0m0.5 6.5h0m-1.5 1.5h0m3 6h0m-3.5 4h0m3 2.5h0m-1.5 4h0m4 0.5h0m0 1h0m0.5 0h0m-5 3h0m5 8.5h0m-5 1h0m3 6h0m-2.5 10.5h0m7.5-93.5h0m2.5 72h0"/>
<path d="M342.5 767h0m1 9h0m8 10.5h0m-5.5 19.5h0m9.5-43h0m4 20h0m-6 5.5h0m2 1h0m-3 5.5h0m0 0h0m5 12h0m1.5 1h0m9-42h0m-6.5 0.5h0m6.5 2.5h0m-2.5 2h0m-3.5 6.5h0m0 0.5h0m3 2h0m-4.5 1h0m6.5 0h0m-4 2h0m3 2.5h0m0.5 2.5h0m0 2.5h0m-4.5 2h0m3 2h0m1 1.5h0m2 2.5h0m-6 0h0m3 2.5h0m3 1h0m-1.5 1h0m1 6h0m4.5-52h0m-3.5 7h0m4.5 6.5h0m-4.5 1h0m7.5 0h0m-6 0.5h0m1 0.5h0m5 0h0m-7.5 3.5h0m0 6.5h0m4.5 22.5h0m-0.5 4.5h0m0 4.5h0m4-46h0m6.5 0.5h0m-0.5 1h0m-3.5 1h0m-2 0.5h0m2 0h0m-1 44h0m5.5 3h0m-3 8h0m4.5-65h0m3.5 1h0m-1.5 0.5h0m4.5 2.5h0m-5.5 1.5h0m-1.5 0h0m0.5 1h0m4 45.5h0m-0.5 0.5h0m1.5 4h0m1.5 5h0m1.5-73h0m2.5 9.5h0m4.5 0h0m-2.5 3h0m-1.5 3h0m-2.5 1h0m4 49h0m-3 0h0m0.5 0.5h0m1.5 0.5h0m-1.5 0.5h0m11-54.5h0m-3 3h0m-0.5 1.5h0m2.5 0.5h0m-0.5 0.5h0m3.5 0h0m-4.5 48h0m7-63h0m-0.5 5.5h0m0.5 10h0m0.5 1.5h0m2 44h0m4-98.5h0m2 35.5h0m0 6.5h0m1 0h0m3 1.5h0m-2 3.5h0m-3.5 0.5h0m0.5 3.5h0m2 2h0m1.5 0.5h0m-3 2h0m4 0.5h0m-1 1.5h0m0 1.5h0m2.5 37.5h0m-1.5 6h0m-0.5 18.5h0m6-115h0m1 5.5h0m1 6h0m-1 0.5h0m-1 1h0m-1 1h0m1.5 3h0m1 3h0m-4.5 1.5h0m2.5 6.5h0m-2.5 6h0m2.5 11h0m-3.5 7.5h0m2.5 36.5h0m0 1.5h0m4 2h0m-4 1h0m1 0.5h0m-1 6h0m1 2h0m4 1h0m-4 0.5h0m1 0.5h0m-3.5 3.5h0m2 2h0m2.5 0h0m-1.5 10.5h0m-3 4h0m0.5 2h0m2.5 0.5h0m3 4.5h0m-7 0.5h0m7.5 2h0m-1 0h0m7-132h0m-1 3h0m3 57.5h0m-1.5 2.5h0m-4 0.5h0m5 2.5h0m-5.5 0.5h0m2.5 2h0m2.5 1h0m-3 2.5h0m4 2.5h0m-2 0.5h0m1.5 2h0m-2.5 4.5h0m-0.5 0.5h0m2.5 0h0m-2.5 0.5h0m-2 1.5h0m0 1.5h0m-1.5 2h0m5.5 1h0m-4.5 1.5h0m5 0.5h0m-6.5 5h0m2.5 1h0m-1 32h0m1.5 0.5h0m0.5 2h0m3 4.5h0m7.5-160h0m0 14.5h0m-1 8.5h0m-1 1.5h0m1 0h0m-1.5 1h0m2.5 71.5h0m1.5 1h0m0.5 0.5h0m-7 5h0m6 1h0m-1.5 0.5h0m-4.5 0.5h0m1.5 1.5h0m-2 1h0m-0.5 1.5h0m2.5 52.5h0m10.5-157.5h0m-2.5 11h0m5.5 3h0m-4.5 1.5h0m-3 0.5h0m1 3h0m-1 1h0m3 0h0m-0.5 67h0m-2 0h0m5.5 0.5h0m-2.5 0.5h0m-4 0h0m0 1h0m4 5h0m-1.5 0h0m4 1.5h0m-5 2.5h0m0.5 54.5h0m3 4h0m-3.5 1h0m-1.5 6.5h0m12.5-154h0m1.5 3.5h0m-2.5 0h0m0.5 0h0m-2 4h0m-0.5 2.5h0m6 2.5h0m-6.5 125h0m4.5 15h0m4.5-152h0m2.5 3.5h0m-1.5 4.5h0m4 2.5h0m-6 3h0m5 0.5h0m0 3.5h0m1 0h0m-0.5 48h0m-3 5.5h0m-1 1.5h0m1 1h0m2.5 3.5h0m-1.5 0.5h0m2.5 3h0m0.5 43.5h0m-1 4.5h0m-2.5 1h0m3 0.5h0m-4 1.5h0m4.5 0.5h0m-4.5 1.5h0m-2.5 5.5h0m13-123h0m-4 0h0m5 0.5h0m-5.5 0.5h0m-1 3.5h0m1 0.5h0m3.5 1.5h0m0.5 1.5h0m-0.5 5h0m0.5 2h0m2.5 4h0m-2.5 2.5h0m1.5 1.5h0m-0.5 1.5h0m1.5 1h0m0 7h0m0 3h0m-2.5 3.5h0m-0.5 2.5h0m1.5 1.5h0m0.5 1h0m-4 2h0m-1.5 3h0m-0.5 2.5h0m1.5 0.5h0m0 0.5h0m-1.5 7.5h0m7.5 0.5h0m-5.5 6h0m2.5 2h0m1 3.5h0m0 0h0m-0.5 30.5h0m-1 1h0m1.5 0h0m1 0.5h0m0 5.5h0m-6 0.5h0m4 0h0m-1 2h0m10-114h0m-1.5 10.5h0m-3 1.5h0m-0.5 1.5h0m0 10.5h0m-1 1h0m2.5 4h0m-2.5 0h0m7 4h0m-4.5 0.5h0m4 1.5h0m-5.5 2h0m-1 11.5h0m0 22.5h0m6.5 1h0m-3 0h0m-2 1.5h0m4 2.5h0m-3.5 5h0m-0.5 10h0m-1 1.5h0m3.5 1h0m-2 5h0m6.5-79h0m5.5 37.5h0m-5 28.5h0m3 3h0m-3 3.5h0m5 12h0"/>
<path d="M345.5 775.5h0m9.5-5h0m-1.5 3.5h0m6.5 11h0m-4.5 9h0m3 5h0m-5 7.5h0m4 2h0m4.5-47h0m5 5h0m-3.5 0.5h0m0 8h0m2 1h0m-1.5 0.5h0m2 0.5h0m1.5 2h0m-3.5 7.5h0m0.5 0.5h0m1.5 1.5h0m-4.5 2.5h0m5.5 0h0m-4.5 1h0m3.5 1h0m-5 0h0m1.5 7h0m2.5 2h0m3 0h0m-6 1h0m2 5.5h0m2.5 3h0m0.5 5.5h0m5.5-53.5h0m1 0.5h0m-1.5 1h0m-2 3h0m5.5 0.5h0m-1.5 2h0m1.5 1.5h0m0 0.5h0m-2 1.5h0m-3 1h0m-1 2h0m1.5 24h0m1 5.5h0m6.5-50h0m-2.5 9h0m6 0.5h0m0 3h0m-2 1.5h0m-3 1h0m-1 38.5h0m7 1h0m1.5-48h0m5 4h0m-4 45h0m5 10.5h0m3-66.5h0m-0.5 1.5h0m3 1.5h0m2.5 7.5h0m-4 0h0m-0.5 51h0m10.5-67.5h0m1.5 14h0m-5.5 0h0m4.5 3.5h0m1.5 50.5h0m-1.5 0h0m-4 1h0m15-64.5h0m-7 3.5h0m2 8.5h0m3.5 1.5h0m-3.5 0h0m-3 47h0m7.5 1.5h0m-4 2h0m7.5-70h0m0.5 5.5h0m3 1h0m1 3h0m-3 3.5h0m-3.5 2h0m1.5 1.5h0m-1 3h0m5.5 1.5h0m-6.5 0h0m0 2h0m2.5 41.5h0m0.5 2.5h0m0.5 3h0m0 30h0m-1 2h0m3.5 3h0m8-122.5h0m-1.5 7h0m-3 1.5h0m4.5 0.5h0m-3.5 3.5h0m-0.5 9.5h0m-1.5 7h0m1 0.5h0m4.5 46h0m-2 2h0m3.5 0h0m-0.5 0.5h0m-2.5 1.5h0m1 2h0m-4.5 1h0m1 1h0m5.5 0h0m-5 3.5h0m4 1h0m-6.5 4.5h0m0 0h0m2.5 1h0m4 0.5h0m-1.5 6.5h0m-1 2h0m-3.5 1.5h0m4.5 8h0m-1.5 1.5h0m0.5 0.5h0m1 1h0m-1 0h0m3 1.5h0m-3.5 12h0m0 1.5h0m-2.5 2.5h0m-0.5 5.5h0m11.5-156.5h0m-1 9.5h0m-0.5 3h0m1.5 1h0m0 3.5h0m-1 1.5h0m-0.5 1h0m-1.5 53.5h0m1.5 2.5h0m-0.5 1.5h0m5 1.5h0m-1 0.5h0m-1 3h0m-2.5 0h0m0.5 0.5h0m3.5 2h0m-3.5 0.5h0m-1.5 2.5h0m2 2.5h0m0.5 2.5h0m-2.5 0h0m3 0h0m-3.5 1.5h0m5 1.5h0m-0.5 1h0m-2 0.5h0m0 4.5h0m2 0.5h0m0 1h0m-3 1.5h0m1.5 1.5h0m-4.5 4.5h0m0 25h0m1.5 2.5h0m1 1h0m0 2.5h0m0.5 1h0m4 1h0m0 1h0m0.5 5h0m2-159.5h0m1 9h0m-2 11h0m2 0h0m-2 3.5h0m3 61.5h0m-0.5 0h0m2 0.5h0m2 1h0m-3.5 1h0m0.5 1h0m1.5 1.5h0m-3 0.5h0m1 3h0m-1 2h0m1 3h0m2 0.5h0m1 0h0m-1 2h0m-2.5 0.5h0m-1 1h0m-1 51.5h0m1 2h0m1 0h0m4 0h0m0 1.5h0m0.5 0.5h0m8-149.5h0m0 3h0m-3 3h0m0.5 1.5h0m-0.5 1.5h0m0.5 0.5h0m-2.5 3.5h0m2.5 66.5h0m0.5 2.5h0m1.5 2h0m-1 0.5h0m-4 1.5h0m1 1.5h0m-2.5 1.5h0m3.5 53h0m0 0.5h0m-1 0h0m-1.5 3h0m1 0h0m5 2h0m2-159h0m0.5 2.5h0m6 16.5h0m-7.5 1.5h0m3.5 0h0m2 4.5h0m-2.5 71.5h0m4 49.5h0m-3.5 6.5h0m1.5 1.5h0m-5.5 0.5h0m8-135h0m1.5 4h0m-0.5 2h0m3 1h0m-2.5 0h0m0.5 1h0m1.5 1h0m0 1.5h0m3 49h0m-1.5 9.5h0m1 5h0m1.5 47h0m-7 5h0m2.5 1.5h0m13-126.5h0m-7 2.5h0m0 2h0m-1 3.5h0m3 0.5h0m3 1.5h0m-1.5 0.5h0m-0.5 0h0m1.5 1.5h0m-2 1h0m-1.5 0h0m-1 4.5h0m2 1.5h0m1 1h0m-1.5 0h0m3 4h0m1.5 7.5h0m-1 6h0m0.5 7.5h0m0.5 0.5h0m-1.5 4.5h0m-2.5 0.5h0m1 3.5h0m2.5 1.5h0m-2.5 1.5h0m-0.5 4h0m1 0h0m1.5 9.5h0m-4 1.5h0m2 6h0m3.5 3h0m-0.5 0h0m1 0h0m-1 1.5h0m-0.5 24.5h0m1.5 1.5h0m-5 3.5h0m-2.5 7h0m1 3.5h0m13.5-108.5h0m-1.5 7.5h0m-2 4h0m-1.5 5h0m2.5 3.5h0m-1 9h0m4 7.5h0m-5.5 3h0m4.5 22.5h0m-0.5 2.5h0m-3 3.5h0m1.5 1.5h0m-0.5 1.5h0m1.5 5.5h0m-3 0.5h0m0 3h0m5 1h0m-6 0h0m5.5 1.5h0m-5.5 4h0m0 6h0m-1 6.5h0m9-40h0m0 4.5h0m1.5 0.5h0m0.5 6.5h0m-3 9h0m13.5-71h0m0 65h0"/>
<path d="M343.5 784h0m8.5 13.5h0m-1 4.5h0m3.5-37.5h0m1.5 8.5h0m-2.5 7h0m5 2.5h0m-0.5 4h0m1 9h0m-4.5 4.5h0m0 1.5h0m10.5-38h0m-0.5 12.5h0m-2.5 1.5h0m5.5 0.5h0m0 0.5h0m-0.5 2.5h0m0.5 0h0m-0.5 2h0m-3 0.5h0m1.5 2h0m1.5 1.5h0m-5 8h0m1.5 3.5h0m4 2h0m-2 2.5h0m-4.5 0.5h0m1 3.5h0m9.5-44h0m-1 2.5h0m-2 3h0m5.5 2h0m-1.5 2h0m-1.5 2.5h0m2 0h0m-0.5 0.5h0m-1.5 27h0m-2 3h0m3.5 6h0m7-61.5h0m-1.5 13h0m0 3.5h0m0 1.5h0m4.5 1h0m-3.5 2h0m0 0h0m3.5 39h0m-6 2h0m4.5 1h0m0 7h0m3.5-61.5h0m6 8h0m-2 46.5h0m0.5 3h0m-2 0.5h0m0.5 1h0m1.5 17.5h0m11-99.5h0m-4 18.5h0m-2 4h0m5 6h0m-5.5 3h0m2.5 47h0m-1.5 0.5h0m0 0h0m5 3h0m-6 0.5h0m-1 4h0m9.5-59.5h0m5 1.5h0m-0.5 1h0m-0.5 58.5h0m-4.5 13h0m13-94.5h0m-2.5 24.5h0m3 1h0m-2.5 2h0m2.5 0.5h0m0 44h0m-5.5 3h0m0.5 0h0m4 0.5h0m-5 1.5h0m3 1h0m0 34.5h0m6-118.5h0m2.5 9h0m1 8h0m2 6h0m-3.5 1h0m0 1h0m0 6h0m1 6h0m3 38h0m-6 2h0m-1 1.5h0m5 0.5h0m-5 1h0m-0.5 0.5h0m2.5 10.5h0m3.5 13h0m8-122h0m-0.5 1h0m1.5 3.5h0m-4 5.5h0m-1 6h0m-1.5 1h0m3.5 0h0m-1 5h0m1.5 0h0m-2 2.5h0m-0.5 4h0m1 1.5h0m0 3h0m-2.5 3.5h0m1 1.5h0m0 0.5h0m-0.5 4.5h0m1 3.5h0m0.5 4h0m-3 3.5h0m2 39.5h0m3 2.5h0m-3 3h0m1 3h0m3.5 4.5h0m-2.5 7.5h0m-2.5 4h0m2 8.5h0m3 0h0m-2 11h0m1 5.5h0m4-146.5h0m3 4.5h0m-4 5.5h0m0 0h0m0.5 5h0m2 2h0m-2.5 0h0m6.5 53.5h0m-0.5 0.5h0m-2 0.5h0m-3 0.5h0m2.5 0.5h0m-2 0.5h0m1.5 2h0m1 2h0m-1 1.5h0m4 0.5h0m-3.5 4h0m1 0.5h0m-2.5 1h0m4.5 2h0m-4 1h0m-0.5 3.5h0m3.5 0h0m-4.5 1h0m2 1h0m4.5 1h0m-6.5 2h0m2 0.5h0m-2.5 0.5h0m6.5 0h0m-2 4.5h0m-5 0h0m1.5 1.5h0m-1 1h0m1 1h0m-0.5 29.5h0m-1 1.5h0m2.5 1.5h0m2.5 4.5h0m-4.5 4h0m5 1.5h0m6-154.5h0m1.5 6h0m1.5 2.5h0m-4.5 9.5h0m2 1h0m-1 58h0m3.5 2.5h0m-3.5 0h0m2 3.5h0m2.5 1.5h0m-4.5 1.5h0m4 1h0m-5.5 4h0m-0.5 1h0m2.5 2h0m-3 0h0m0 3h0m1 0h0m1.5 57h0m11.5-150.5h0m0 3.5h0m-4.5 1.5h0m3 1.5h0m-2 1h0m4.5 1.5h0m-3.5 2.5h0m-2 1h0m0 66h0m2 3h0m0.5 1h0m-4 0h0m2.5 2h0m-0.5 3h0m-2 2h0m0 53.5h0m6 5h0m-3.5 4.5h0m-3 4.5h0m11-149h0m4 2h0m-0.5 3h0m-6.5 70h0m1 2h0m1 52.5h0m0.5 4h0m0 0h0m-2.5 5h0m11-142.5h0m1 7h0m-1 7h0m1.5 0.5h0m0 2h0m1.5 46.5h0m-1.5 9h0m-2 56h0m-2 3.5h0m11-125.5h0m-0.5 10h0m3.5 1h0m-6 0.5h0m2 1h0m1.5 0.5h0m-0.5 0.5h0m0 0.5h0m-2 1h0m0.5 2.5h0m3 6h0m0.5 3h0m1 3h0m-1 4h0m2 2.5h0m-1.5 4h0m-1 0.5h0m0.5 3h0m-0.5 6.5h0m0.5 0h0m-1.5 1.5h0m-3 3h0m-0.5 0.5h0m-0.5 0.5h0m0 0.5h0m4.5 0h0m2 2h0m-3 5h0m0 0.5h0m0.5 6h0m-3 1.5h0m3.5 0.5h0m-2 0.5h0m5 3.5h0m-2.5 1.5h0m1 1h0m-1 0.5h0m1 1.5h0m1 3.5h0m-0.5 25h0m-2.5 0h0m3 1h0m0 3.5h0m-5 1h0m-1.5 0.5h0m1 1.5h0m-0.5 2.5h0m0 7h0m12.5-119.5h0m-3 6h0m1.5 5.5h0m-2.5 1.5h0m2.5 1h0m2.5 2h0m-6 2.5h0m-0.5 0h0m4 0.5h0m0 3.5h0m-3.5 3h0m-0.5 2h0m0.5 0.5h0m-1 1.5h0m5.5 1h0m-3.5 30.5h0m5 3h0m-5.5 8h0m-0.5 6.5h0m6.5 6h0m-6.5 1.5h0m5 5.5h0m-1 2.5h0m-0.5 0h0m1 3.5h0m-1 9.5h0m5.5-102h0m-1.5 16.5h0m1.5 13.5h0m1 0.5h0m2 36h0m8.5-31.5h0"/>
<path d="M330 784.5h0m14-15h0m-2 31.5h0m8-4h0m0 3.5h0m2-17h0m0.5 4.5h0m1 0.5h0m4 5h0m1.5 2h0m-6.5 0h0m6.5 0.5h0m-5.5 1h0m1 0.5h0m7.5-37.5h0m3 8.5h0m-4 3h0m1.5 1h0m0.5 3h0m2.5 2.5h0m-3 3.5h0m-1 1.5h0m5.5 4.5h0m-6 0.5h0m-1 1.5h0m3.5 1.5h0m-1.5 0.5h0m3 2.5h0m2 2h0m-1 0h0m-3 0.5h0m-1.5 0h0m1.5 1h0m3 0.5h0m-6 1.5h0m6.5 5.5h0m0 9.5h0m-5.5 0.5h0m15-55.5h0m-3.5 1h0m-1 3.5h0m1.5 2h0m-2 0h0m-2.5 5h0m3.5 0h0m-2 4.5h0m-1.5 4h0m-0.5 1.5h0m2 19h0m0 1.5h0m-0.5 0h0m5 7.5h0m-2 1h0m2 2.5h0m-5 3h0m9-59.5h0m5 2h0m-7 1h0m0 2.5h0m4.5 1h0m1.5 1h0m-6.5 1.5h0m4 5h0m-3 37.5h0m-1 1h0m4.5 0.5h0m-3 2h0m1.5 0h0m9-63.5h0m3.5 4h0m-5 11h0m4 3.5h0m-2.5 0h0m1.5 0.5h0m1 0h0m9.5-13h0m0 7h0m-1 55h0m-6 0h0m2.5 8h0m7-62h0m5 2.5h0m-2 1h0m-3.5 1.5h0m6 0.5h0m0 48h0m-8 0.5h0m15-73.5h0m-4.5 16.5h0m2 4h0m-4.5 5h0m1 1.5h0m4 0h0m0 0.5h0m0.5 46.5h0m-1.5 1.5h0m-4 2.5h0m7 4.5h0m6-93h0m3 5.5h0m-4 4h0m-3.5 1h0m5.5 5h0m-3 3h0m2.5 0h0m2.5 7h0m-1.5 3h0m-1 1.5h0m0 4h0m-4 1h0m5 1h0m0 5.5h0m1 38.5h0m0 0.5h0m-5.5 2.5h0m-1.5 1h0m0 1h0m5 1h0m1.5 23.5h0m0.5 22.5h0m8.5-128.5h0m-1.5 0h0m0.5 0.5h0m0 0.5h0m-1 0.5h0m0 0.5h0m-0.5 4h0m-0.5 0.5h0m-3 13.5h0m0 4.5h0m1.5 0.5h0m-2 3h0m0.5 2h0m1.5 0.5h0m-1 1.5h0m-1.5 4.5h0m5 35.5h0m-2.5 1h0m4.5 3h0m-6.5 1.5h0m0.5 3.5h0m3.5 0.5h0m2 6h0m-4.5 5.5h0m1 5.5h0m-2 2.5h0m0 1h0m2.5 6h0m2.5 5.5h0m-3 3h0m3.5 3h0m-1 2h0m0.5 0.5h0m6-137h0m1.5 2h0m-6 1h0m2.5 4h0m3 2.5h0m-3.5 2h0m-2 4h0m2 48.5h0m0.5 2.5h0m4.5 5.5h0m-2 5.5h0m-1 5h0m-0.5 2.5h0m4 1h0m-7 16h0m0.5 0.5h0m4 34h0m0.5 0.5h0m-2 0.5h0m-4 2.5h0m12-164h0m-2.5 7h0m5 8.5h0m-2 7.5h0m-2 1h0m3.5 1.5h0m-1.5 3.5h0m1 1.5h0m2 61.5h0m0 2h0m-2.5 2h0m-1.5 0.5h0m2 1h0m-3.5 5.5h0m-1 3h0m2.5 2h0m-2 52h0m6 0h0m-5 5h0m5.5 2.5h0m-7 0.5h0m9.5-162.5h0m0 15h0m-0.5 0h0m1.5 2.5h0m4.5 1h0m-7.5 2.5h0m4.5 1h0m1 66.5h0m-2.5 0h0m-1.5 7.5h0m4 1h0m1 57.5h0m-4.5 0h0m2 0.5h0m-2.5 10.5h0m14-150h0m-6 4h0m2 0h0m-2 2.5h0m4 0.5h0m2 1h0m-8 69h0m2 0h0m0.5 1.5h0m-0.5 1.5h0m2 50.5h0m1 1h0m1 0h0m-0.5 1.5h0m1 1h0m-6.5 0.5h0m4 0.5h0m0.5 1h0m-3.5 5.5h0m5 7.5h0m3-148.5h0m2 0.5h0m0 0.5h0m0 0.5h0m-2 0.5h0m2 0.5h0m2 2h0m-1.5 0h0m-1.5 3h0m5 2.5h0m-1.5 3h0m1 51h0m0 0.5h0m-1.5 1h0m2 5h0m-1.5 2h0m2.5 5h0m0 0.5h0m-0.5 43.5h0m-2 1h0m2 3h0m-3 2h0m-3 0.5h0m-1 1.5h0m0 1.5h0m0 3.5h0m13-120h0m2 0.5h0m-4.5 2.5h0m3 7h0m-1 0.5h0m-1 1h0m0 1.5h0m2.5 1h0m1.5 2.5h0m-2 0.5h0m1 2h0m1 3h0m-0.5 2h0m-1.5 2.5h0m0 2.5h0m-2.5 11.5h0m-1.5 5h0m0 2h0m4 4h0m-4 0h0m2 0h0m0 0.5h0m0 3h0m1.5 2h0m-2.5 3.5h0m4.5 1h0m-3 1h0m0 5h0m1 28.5h0m9-107h0m-5.5 9.5h0m3 4h0m2.5 14h0m-2 3.5h0m-2.5 2.5h0m1.5 3h0m3 0.5h0m0 6h0m-6 1h0m0 1h0m0 3.5h0m3.5 28h0m-3 0.5h0m3 1h0m0.5 0h0m-0.5 2h0m-2.5 7.5h0m1 0h0m-2 1h0m7 0.5h0m-0.5 6.5h0m-6.5 17h0m8.5-41h0m1 23.5h0m8.5-34h0"/>
<path d="M350 757h0m-5 1h0m3 10.5h0m2 12.5h0m9-8h0m-2.5 1.5h0m-1 0h0m-3.5 0.5h0m4.5 4.5h0m-2 7h0m1 16.5h0m0.5 0.5h0m3.5 6h0m3-44.5h0m-1.5 6h0m3.5 4h0m-2.5 1h0m-2 4h0m6 4h0m0.5 0h0m0 3h0m-3 3.5h0m1 2h0m1 4.5h0m-2.5 1h0m3 0h0m1 4h0m3.5-51h0m-1 4h0m6 7h0m-2.5 2.5h0m-2 3h0m-1.5 4.5h0m6 0.5h0m-2 0.5h0m-1.5 0.5h0m-3.5 1h0m-0.5 1h0m3 1.5h0m-2 0.5h0m1 4h0m5.5 25.5h0m7-59.5h0m1 11h0m-7 8h0m0.5 43.5h0m4.5 2.5h0m-1 0.5h0m-0.5 2h0m-3 9h0m14.5-70.5h0m-5.5 5.5h0m-1.5 4.5h0m6 0.5h0m-6 1h0m4 1.5h0m-4.5 2h0m2.5 48h0m1 0.5h0m5.5-64h0m4.5 5.5h0m1 3.5h0m-5.5 1h0m0 0h0m2 1.5h0m-2.5 1.5h0m5.5 1h0m-5.5 48h0m1.5 1h0m0.5 1h0m3.5 0.5h0m2 3.5h0m5.5-95h0m-1.5 15h0m1 21.5h0m-3.5 0.5h0m-0.5 2h0m0 0.5h0m3.5 1.5h0m3 1.5h0m-2.5 46h0m-3 0h0m2 2.5h0m3.5 37.5h0m2.5-120.5h0m4.5 12.5h0m-5 14h0m1 0.5h0m5.5 1.5h0m-3 3.5h0m0 0h0m0 1h0m-4 0h0m1 1.5h0m-1 1h0m5.5 45h0m-1.5 0.5h0m-2 0h0m-0.5 1h0m-0.5 3h0m2.5 0h0m1.5 0.5h0m-2 37.5h0m6-132.5h0m0 5.5h0m5 11.5h0m-0.5 2.5h0m0.5 5.5h0m-4.5 4h0m-1 1h0m2.5 1.5h0m-2.5 2.5h0m4.5 6.5h0m-5 7h0m5 1h0m-3 39.5h0m1 0h0m4 0h0m-3.5 7h0m-3.5 3.5h0m6 18.5h0m-3.5 9.5h0m2 1.5h0m0 9.5h0m4-140.5h0m4.5 5h0m0.5 0.5h0m0 0.5h0m-2.5 5h0m4 2.5h0m-7.5 0.5h0m4.5 6h0m-2 1h0m-0.5 2h0m1.5 4.5h0m-3 2h0m2 8h0m0.5 0.5h0m-0.5 0.5h0m-1 0.5h0m-1.5 3h0m0.5 0h0m1 5h0m-1.5 1.5h0m1.5 4.5h0m5.5 36h0m-1 4.5h0m-0.5 0.5h0m1 6.5h0m-2 2h0m-3.5 3h0m0 2h0m3 15.5h0m-0.5 1.5h0m-3 1h0m6.5 2h0m-2 0.5h0m-2.5 0.5h0m-1 2h0m1.5 13.5h0m10.5-144h0m-4 0.5h0m5 2h0m-7 2.5h0m0.5 4h0m3.5 0.5h0m3 54h0m0 0.5h0m-4.5 4h0m5 2h0m-4 4h0m0.5 5.5h0m0.5 2h0m-2 2h0m-2 2h0m5.5 6.5h0m-0.5 0h0m-4.5 6.5h0m-1 29h0m7.5 5.5h0m-4.5 0.5h0m0 2h0m3 2h0m8.5-146h0m0.5 1.5h0m0.5 2h0m-1 4h0m0 0.5h0m0.5 0.5h0m-5.5 3.5h0m-0.5 59.5h0m-0.5 0h0m4.5 1.5h0m1.5 2.5h0m-3 2h0m1.5 2.5h0m-5 3h0m1 2.5h0m2.5 2.5h0m4 53.5h0m0 1h0m-3.5 0.5h0m-3 0.5h0m0.5 0h0m2 1h0m4.5 1h0m-0.5 0h0m-2 7h0m0.5 3h0m2.5-156h0m5 3.5h0m-5.5 1h0m6 1.5h0m-5 0.5h0m3 0h0m3.5 0.5h0m-1 0.5h0m0.5 0.5h0m-3.5 1h0m0 0h0m-1 68.5h0m5.5 1.5h0m-5 0.5h0m1.5 2.5h0m0.5 0.5h0m0.5 0h0m-1.5 3.5h0m1.5 57h0m1 4.5h0m-1.5 2.5h0m9.5-153h0m-5.5 6.5h0m1 2h0m4 6.5h0m-2.5 71h0m-0.5 0h0m5 51h0m-7 4.5h0m0 0.5h0m3.5 3h0m11-138h0m-1.5 7h0m1 55h0m-1.5 3.5h0m0.5 4h0m-2.5 1h0m3 1.5h0m-2 0.5h0m2 0h0m-1.5 1.5h0m2.5 46.5h0m-1 1.5h0m-2 4h0m3 0h0m-3 1h0m-0.5 4h0m0.5 5.5h0m8.5-142.5h0m-4.5 10h0m2.5 0.5h0m1.5 8.5h0m-3.5 2.5h0m7 1h0m-3 1h0m0.5 12.5h0m0 0.5h0m0 15.5h0m-3.5 10h0m0.5 1h0m1.5 6h0m-2.5 0.5h0m-1 1h0m3 0h0m-2.5 1.5h0m3.5 8h0m-0.5 3h0m1.5 8h0m1 25.5h0m-2.5 2.5h0m0 0h0m-1 4.5h0m2 9.5h0m-4 1h0m11-108h0m3.5 10h0m-6.5 6h0m1 0h0m4.5 0.5h0m0.5 2.5h0m-6.5 12h0m4 4.5h0m1 20h0m-5.5 2h0m3.5 2.5h0m-1.5 0h0m2.5 2h0m-1.5 3h0m-3 1.5h0m0 0h0m0.5 3.5h0m0.5 1.5h0m0 7h0m2.5 1h0m0.5 5.5h0m-3.5 15.5h0m8.5-82.5h0m0 35h0m3 10.5h0m-2.5 8.5h0m7-10.5h0"/>
<path d="M357.5 776.5h0m-1.5 8h0m2.5 2h0m-3.5 3.5h0m3 2h0m-0.5 11h0m9-44h0m0.5 17.5h0m-0.5 0.5h0m-2 9h0m0.5 0h0m1 0.5h0m-3.5 0.5h0m3.5 0h0m-3 1h0m3 1.5h0m1 0.5h0m-3 0.5h0m2 1h0m-6 4.5h0m3 2h0m4.5 0.5h0m-0.5 2h0m-5.5 0h0m3 4h0m-1.5 3h0m8.5-51h0m-2 10h0m0.5 0.5h0m4.5 4.5h0m-6 3h0m3 1.5h0m0.5 0.5h0m-3 1.5h0m1 2h0m-1.5 18.5h0m3.5 5h0m-2.5 0.5h0m0 1.5h0m2 0.5h0m4 0.5h0m-2 2.5h0m-1.5 8h0m7-61h0m-1.5 3h0m-0.5 2.5h0m0.5 1h0m4.5 1h0m1 3h0m-6 2h0m5 0h0m-5.5 2.5h0m1 0.5h0m-1 35h0m2 2.5h0m-0.5 0.5h0m4.5 6h0m4.5-60.5h0m1 2.5h0m-3 3h0m5.5 0.5h0m-3 0.5h0m1 3h0m-1 3.5h0m-0.5 48.5h0m2.5 2h0m10-86.5h0m-0.5 19h0m-3 3h0m-0.5 4h0m-1 1h0m0 5.5h0m3.5 0h0m-5.5 0.5h0m0.5 1h0m3 1h0m1.5 0h0m2.5 47.5h0m-4.5 0.5h0m0 0.5h0m11.5-81.5h0m-3.5 22h0m2.5 2h0m-5 4.5h0m6.5 1h0m-1 3h0m-3 0.5h0m2.5 0.5h0m0.5 51h0m-4 1h0m6-60.5h0m-0.5 3.5h0m3.5 1.5h0m-3 0h0m2 2h0m2 0h0m2 5h0m-2 43.5h0m2 0.5h0m1 4.5h0m-1.5 7h0m-4 3.5h0m9-115.5h0m1 5h0m1.5 0.5h0m-4 19.5h0m3.5 0.5h0m-4.5 3.5h0m6 4h0m1.5 1h0m-7 2h0m6 5.5h0m-3.5 5.5h0m1.5 1h0m-2.5 3h0m4 2.5h0m-2 3h0m-1.5 41.5h0m0.5 0.5h0m2.5 1.5h0m-1 6h0m2 16h0m-3 7h0m8-142.5h0m4 20.5h0m-2 9h0m-2 1h0m0.5 0h0m-3 1.5h0m1 0h0m4 7.5h0m-1 2h0m-4 0h0m-1 1h0m0 0.5h0m4 3h0m-4.5 4.5h0m3.5 2h0m0 0.5h0m-2 2h0m1.5 7h0m0 1.5h0m2 42.5h0m2 1.5h0m0 2h0m-4.5 3.5h0m2 0.5h0m-3.5 0h0m2.5 5h0m-0.5 11.5h0m3 0.5h0m-2 0h0m1 7h0m-2 0.5h0m-2.5 1h0m4 0.5h0m-0.5 4h0m-0.5 3h0m4.5 6h0m-0.5 5.5h0m5.5-144.5h0m-3.5 6.5h0m3 0.5h0m-4 5h0m7 2.5h0m-3.5 0.5h0m1 53h0m1 2h0m1 3.5h0m0 3h0m-3 0h0m2.5 2.5h0m0.5 3.5h0m-4 1h0m1 4.5h0m-3.5 1h0m2.5 1h0m3.5 3.5h0m-0.5 7.5h0m-4.5 34h0m-0.5 4h0m6 0.5h0m1 2h0m-2 1h0m0.5 0.5h0m0.5 0h0m-0.5 0.5h0m-0.5 6h0m1.5 1.5h0m3-147h0m5 0.5h0m-0.5 0.5h0m-3 3h0m2.5 63.5h0m1.5 0h0m-5.5 1.5h0m5.5 5.5h0m-6 2h0m3 0.5h0m2.5 1h0m-2 2.5h0m-2 1.5h0m-3.5 4h0m3 0.5h0m-3 2.5h0m2.5 46.5h0m4.5 0.5h0m-2 2.5h0m-2.5 0.5h0m1 6.5h0m9.5-152h0m-1.5 1h0m2 3.5h0m-4 1h0m-0.5 2.5h0m4 2h0m-3 2h0m0 0h0m3 68.5h0m-3 2h0m2 3.5h0m-2.5 3h0m2.5 53h0m0 1h0m-3 0.5h0m5 1.5h0m-2.5 2h0m8.5-153.5h0m3 2.5h0m-4.5 6.5h0m0 0.5h0m1.5 5h0m-0.5 2.5h0m0 0h0m4 0.5h0m-5.5 69.5h0m-1 4h0m5 50.5h0m-4 2.5h0m3.5 0h0m6-144h0m1.5 8.5h0m0.5 3h0m-1.5 8h0m2 4h0m0.5 0h0m1 0.5h0m0.5 3h0m-1 0.5h0m-1 47.5h0m1 2h0m-1.5 1.5h0m-2.5 2.5h0m4 51.5h0m-1.5 2h0m-3.5 7h0m-1.5 0.5h0m9-135h0m2 16.5h0m3 10.5h0m-3.5 0.5h0m3 10h0m-0.5 2h0m1.5 1.5h0m0.5 0h0m-1.5 6h0m0.5 5h0m-0.5 1h0m-1 1.5h0m1.5 2h0m-3 0.5h0m3 1.5h0m-1 1h0m1.5 0.5h0m-1.5 11h0m-5 0h0m3.5 1.5h0m-2.5 1h0m1.5 0h0m-0.5 9.5h0m1 0.5h0m2.5 2.5h0m-0.5 0h0m-2.5 33h0m-0.5 1.5h0m-1.5 3.5h0m14-100h0m-6.5 8.5h0m-0.5 7.5h0m6 1.5h0m-5.5 4.5h0m2 2.5h0m-2 12.5h0m7 2h0m0 17.5h0m-3.5 2.5h0m-0.5 1h0m3 1.5h0m-6 10h0m1 5h0m0 2.5h0m3.5 7h0m-4 4.5h0m7-71h0m0 14h0m0.5 8.5h0m1 5.5h0m0.5 19h0m5.5 14.5h0m4-27.5h0"/>
<path d="M340.5 754.5h0m-1 30.5h0m2 20h0m9.5-27h0m0 15.5h0m0 0h0m-4 3h0m9-52h0m2.5 34.5h0m-2.5 2.5h0m4 4.5h0m-4 1h0m3 0h0m-6.5 14.5h0m5 1.5h0m-2.5 3h0m6.5-45h0m2 0.5h0m-0.5 5h0m-1.5 0h0m-1 8.5h0m4 0.5h0m3 1h0m0.5 5h0m-5 5h0m0 7.5h0m1 0.5h0m1 0h0m1 1h0m0 0.5h0m-1 0.5h0m1 1h0m1.5 0.5h0m-2.5 5.5h0m-1 1.5h0m3.5 1h0m-2.5 1h0m-5 1.5h0m13.5-49.5h0m-4 5h0m0.5 1h0m0.5 2h0m0 0.5h0m1.5 0h0m-2.5 2h0m5.5 3h0m-3.5 1h0m2.5 0.5h0m-1.5 0h0m-2 1.5h0m1.5 0.5h0m-3 1h0m2 1.5h0m-3 2.5h0m0.5 1.5h0m0 15.5h0m-0.5 0.5h0m0 5h0m0.5 0.5h0m4.5 0.5h0m0.5 0h0m2 2.5h0m-6 0.5h0m5 2.5h0m0.5 2h0m-1.5 6h0m8.5-48.5h0m-1.5 41.5h0m-1.5 0h0m-1 4h0m5.5 0.5h0m7.5-65h0m-4.5 13.5h0m1.5 0.5h0m4 0.5h0m-3 0h0m2 0.5h0m-4.5 0.5h0m3.5 47h0m-1.5 0.5h0m-3 2h0m4 5h0m7.5-65h0m2 7h0m-2 0.5h0m3 0h0m-6.5 2.5h0m3 0.5h0m0 1h0m-1 47h0m2.5 0h0m1 3.5h0m-3.5 0.5h0m0.5 6.5h0m7.5-89h0m1.5 15h0m0 7.5h0m-2.5 0h0m-2 3.5h0m0.5 3.5h0m0 1h0m5.5 1h0m-1.5 48h0m-4 13h0m2.5 1.5h0m10.5-85h0m-5 5.5h0m6.5 3.5h0m-1 1.5h0m-5.5 7h0m2 1h0m-1.5 5h0m2 0h0m3.5 1h0m1 0.5h0m-1.5 1h0m-3 46.5h0m4 0h0m-6 1h0m-1 0h0m1 0.5h0m3.5 6.5h0m-3.5 35h0m11.5-146.5h0m-2.5 13.5h0m-1 5h0m3 18.5h0m3 5h0m-5 4.5h0m1 0.5h0m-3 8h0m2.5 3h0m4 0.5h0m-3 0h0m2 40.5h0m-2.5 1.5h0m3.5 3.5h0m1 17h0m-4.5 2h0m2.5 3.5h0m1.5 3h0m-0.5 3.5h0m1 10h0m-1.5 1h0m9.5-140h0m-4.5 7.5h0m2.5 2h0m-3 9h0m3.5 0.5h0m-1 2.5h0m-4 1.5h0m2.5 1.5h0m1.5 0h0m-0.5 1h0m-4 4.5h0m-0.5 6.5h0m1.5 2.5h0m1.5 2h0m-2 1.5h0m1.5 4h0m-0.5 6h0m0 0.5h0m-2 3.5h0m1 1h0m5 32h0m-4.5 5h0m2 3.5h0m1.5 0h0m-5 4h0m5.5 4.5h0m-5 8.5h0m1.5 2h0m-0.5 1h0m2.5 4h0m-1.5 2h0m-1.5 0h0m-0.5 4h0m6 0.5h0m7-132.5h0m-1 3.5h0m1.5 4.5h0m-3.5 1h0m3 2.5h0m-1 62.5h0m-1.5 1.5h0m-2 0h0m3 1h0m0.5 5.5h0m-1.5 2h0m-1 1h0m2 0.5h0m-3 2.5h0m5 5.5h0m-5.5 0.5h0m6.5 1h0m-0.5 3h0m-4.5 2h0m2.5 3h0m-3 35.5h0m5 2.5h0m-2 1h0m-3.5 0h0m0 4.5h0m-1 1.5h0m13.5-135.5h0m-5 0.5h0m0 1h0m4 59h0m-0.5 0.5h0m0 1h0m-2 0.5h0m4 0.5h0m-5.5 5.5h0m0 5.5h0m0 53.5h0m-1 2h0m6.5 0.5h0m0.5 1.5h0m-6.5 3.5h0m0 2h0m2.5 2h0m9.5-161.5h0m0.5 16h0m-0.5 2.5h0m-2.5 66.5h0m-1 3h0m5 0.5h0m-1 0.5h0m-4.5 5h0m5 1h0m4-88h0m-1 10h0m2 1h0m2 2h0m-2 0h0m0.5 0.5h0m3 122h0m-0.5 2h0m-4 6h0m0 13.5h0m6.5-147h0m1.5 6.5h0m5 5.5h0m0.5 46h0m0.5 1h0m-3.5 6h0m0.5 0.5h0m2.5 1.5h0m-2.5 0.5h0m0.5 1.5h0m1.5 0.5h0m-1.5 1h0m1.5 3h0m-3.5 48h0m-2 4.5h0m4.5 4.5h0m10-131.5h0m-3.5 0.5h0m-1.5 13h0m2 0.5h0m-2.5 2.5h0m2 2h0m0.5 1h0m-3 0h0m4 7h0m0.5 9h0m-0.5 7.5h0m-0.5 3.5h0m2.5 3.5h0m-3.5 6h0m3.5 9h0m0.5 4h0m-2 0.5h0m-5.5 7.5h0m5.5 0.5h0m0.5 2h0m-1 0h0m0 1.5h0m0.5 26.5h0m0 6.5h0m-2.5 0h0m-1 0.5h0m-1.5 5h0m0 3h0m0 7.5h0m8-124.5h0m-0.5 6h0m1 3h0m1.5 4.5h0m-2 3h0m-1 4h0m5.5 4h0m-4 2.5h0m6 22h0m-6.5 2.5h0m1 9h0m0 2h0m-1.5 1h0m6.5 4h0m-4.5 5.5h0m3 8.5h0m1.5 5h0m-5 3h0m1 5h0m-0.5 9h0m1 0.5h0m11-71h0m-1.5 57h0m7-22h0"/>
</g>
<path d="M445.5 725.5L455.5 721.9L463.9 725.5L465.5 726.1L472.9 735.5L475.5 742.7L477 745.5L478.8 755.5L478.1 765.5L475.5 770.4L473 775.5L467 785.5L471.1 795.5L475.5 797.3L480.9 805.5L481.6 815.5L479.6 825.5L475.5 831.5L473.9 835.5L465.5 844.3L463.4 845.5L455.5 851.9L445.5 854.7L435.5 853L429.9 845.5L428.2 835.5L430.6 825.5L435.5 818.9L437.3 815.5L441 805.5L445.5 803L455.5 796.8L460.7 795.5L455.5 791.2L445.5 785.5L445.5 785.5L435.5 782.8L433.4 785.5L435.3 795.5L432.4 805.5L425.5 810.3L415.5 814L405.5 815.1L395.5 814.4L385.5 812.7L375.5 806.5L374.3 805.5L365.7 795.5L367.2 785.5L371.7 775.5L375.5 772.1L385.5 767.3L395.5 766.6L405.5 767.3L415.5 771.2L425.5 774.5L427.3 765.5L426.4 755.5L428 745.5L431.6 735.5L435.5 730.6L445.5 725.5Z" fill="#fff" fill-rule="evenodd" shape-rendering="crispEdges"/>
<g shape-rendering="crispEdges">
<path fill="rgb(250,250,250)" fill-opacity="0.02" d="M350.5 770.5h10v10h-10zM350.5 780.5h10v10h-10zM350.5 800.5h10v10h-10zM370.5 750.5h10v10h-10zM380.5 750.5h10v10h-10zM390.5 750.5h10v10h-10zM400.5 750.5h10v10h-10zM400.5 820.5h10v10h-10zM410.5 730.5h10v10h-10zM410.5 740.5h10v10h-10zM410.5 750.5h10v10h-10zM420.5 720.5h10v10h-10zM420.5 850.5h10v10h-10zM430.5 710.5h10v10h-10zM430.5 860.5h10v10h-10zM440.5 860.5h10v10h-10zM460.5 710.5h10v10h-10zM460.5 850.5h10v10h-10zM470.5 720.5h10v10h-10zM470.5 840.5h10v10h-10zM480.5 730.5h10v10h-10zM480.5 760.5h10v10h-10zM480.5 770.5h10v10h-10zM480.5 780.5h10v10h-10zM480.5 820.5h10v10h-10z"/>
<path fill="rgb(245,245,245)" fill-opacity="0.04" d="M350.5 790.5h10v10h-10zM360.5 760.5h10v10h-10zM360.5 800.5h10v10h-10zM370.5 760.5h10v10h-10zM370.5 810.5h10v10h-10zM420.5 820.5h10v10h-10zM440.5 710.5h10v10h-10zM450.5 850.5h10v10h-10zM480.5 740.5h10v10h-10zM480.5 750.5h10v10h-10zM480.5 790.5h10v10h-10zM480.5 800.5h10v10h-10zM480.5 810.5h10v10h-10z"/>
<path fill="rgb(240,240,240)" fill-opacity="0.06" d="M360.5 770.5h10v10h-10zM380.5 810.5h10v10h-10zM410.5 760.5h10v10h-10zM420.5 730.5h10v10h-10zM420.5 810.5h10v10h-10zM420.5 830.5h10v10h-10zM420.5 840.5h10v10h-10zM440.5 790.5h10v10h-10zM450.5 710.5h10v10h-10zM470.5 780.5h10v10h-10zM470.5 830.5h10v10h-10z"/>
<path fill="rgb(235,235,235)" fill-opacity="0.08" d="M360.5 780.5h10v10h-10zM380.5 760.5h10v10h-10zM390.5 760.5h10v10h-10zM390.5 810.5h10v10h-10zM400.5 760.5h10v10h-10zM410.5 810.5h10v10h-10zM420.5 740.5h10v10h-10zM420.5 760.5h10v10h-10zM430.5 720.5h10v10h-10zM430.5 810.5h10v10h-10zM430.5 850.5h10v10h-10zM450.5 790.5h10v10h-10zM460.5 840.5h10v10h-10zM470.5 730.5h10v10h-10zM470.5 770.5h10v10h-10z"/>
<path fill="rgb(230,230,230)" fill-opacity="0.10" d="M400.5 810.5h10v10h-10zM420.5 750.5h10v10h-10zM430.5 780.5h10v10h-10zM430.5 800.5h10v10h-10zM440.5 850.5h10v10h-10zM460.5 720.5h10v10h-10zM470.5 790.5h10v10h-10z"/>
<path fill="rgb(224,224,224)" fill-opacity="0.12" d="M360.5 790.5h10v10h-10zM370.5 800.5h10v10h-10zM420.5 770.5h10v10h-10zM430.5 790.5h10v10h-10zM440.5 720.5h10v10h-10zM440.5 780.5h10v10h-10zM460.5 780.5h10v10h-10zM470.5 740.5h10v10h-10z"/>
<path fill="rgb(219,219,219)" fill-opacity="0.14" d="M370.5 770.5h10v10h-10zM430.5 770.5h10v10h-10zM440.5 800.5h10v10h-10zM450.5 720.5h10v10h-10zM450.5 780.5h10v10h-10zM460.5 790.5h10v10h-10zM470.5 760.5h10v10h-10z"/>
<path fill="rgb(214,214,214)" fill-opacity="0.16" d="M410.5 770.5h10v10h-10zM420.5 780.5h10v10h-10zM420.5 800.5h10v10h-10zM430.5 730.5h10v10h-10zM470.5 750.5h10v10h-10z"/>
<path fill="rgb(209,209,209)" fill-opacity="0.18" d="M470.5 820.5h10v10h-10z"/>
<path fill="rgb(204,204,204)" fill-opacity="0.20" d="M430.5 820.5h10v10h-10zM430.5 840.5h10v10h-10zM470.5 800.5h10v10h-10z"/>
<path fill="rgb(199,199,199)" fill-opacity="0.22" d="M420.5 790.5h10v10h-10zM460.5 730.5h10v10h-10zM460.5 770.5h10v10h-10zM470.5 810.5h10v10h-10z"/>
<path fill="rgb(194,194,194)" fill-opacity="0.24" d="M370.5 780.5h10v10h-10zM430.5 740.5h10v10h-10zM430.5 760.5h10v10h-10zM450.5 840.5h10v10h-10z"/>
<path fill="rgb(189,189,189)" fill-opacity="0.26" d="M370.5 790.5h10v10h-10zM380.5 770.5h10v10h-10zM400.5 770.5h10v10h-10z"/>
<path fill="rgb(184,184,184)" fill-opacity="0.28" d="M380.5 800.5h10v10h-10zM430.5 830.5h10v10h-10zM450.5 800.5h10v10h-10z"/>
<path fill="rgb(178,178,178)" fill-opacity="0.30" d="M390.5 770.5h10v10h-10zM410.5 800.5h10v10h-10zM430.5 750.5h10v10h-10zM440.5 730.5h10v10h-10zM440.5 770.5h10v10h-10zM440.5 810.5h10v10h-10z"/>
<path fill="rgb(173,173,173)" fill-opacity="0.32" d="M440.5 840.5h10v10h-10zM450.5 770.5h10v10h-10z"/>
<path fill="rgb(168,168,168)" fill-opacity="0.34" d="M410.5 780.5h10v10h-10z"/>
<path fill="rgb(163,163,163)" fill-opacity="0.36" d="M450.5 730.5h10v10h-10zM460.5 800.5h10v10h-10zM460.5 830.5h10v10h-10z"/>
<path fill="rgb(158,158,158)" fill-opacity="0.38" d="M400.5 800.5h10v10h-10zM460.5 760.5h10v10h-10z"/>
<path fill="rgb(153,153,153)" fill-opacity="0.40" d="M390.5 800.5h10v10h-10z"/>
<path fill="rgb(143,143,143)" fill-opacity="0.44" d="M380.5 780.5h10v10h-10zM460.5 740.5h10v10h-10z"/>
<path fill="rgb(133,133,133)" fill-opacity="0.48" d="M410.5 790.5h10v10h-10z"/>
<path fill="rgb(128,128,128)" fill-opacity="0.50" d="M400.5 780.5h10v10h-10zM460.5 750.5h10v10h-10z"/>
<path fill="rgb(122,122,122)" fill-opacity="0.52" d="M440.5 760.5h10v10h-10z"/>
<path fill="rgb(117,117,117)" fill-opacity="0.54" d="M380.5 790.5h10v10h-10zM390.5 780.5h10v10h-10zM440.5 740.5h10v10h-10z"/>
<path fill="rgb(92,92,92)" fill-opacity="0.64" d="M450.5 760.5h10v10h-10zM460.5 810.5h10v10h-10zM460.5 820.5h10v10h-10z"/>
<path fill="rgb(87,87,87)" fill-opacity="0.66" d="M440.5 750.5h10v10h-10zM450.5 740.5h10v10h-10zM450.5 810.5h10v10h-10z"/>
<path fill="rgb(77,77,77)" fill-opacity="0.70" d="M400.5 790.5h10v10h-10zM440.5 820.5h10v10h-10z"/>
<path fill="rgb(71,71,71)" fill-opacity="0.72" d="M390.5 790.5h10v10h-10zM440.5 830.5h10v10h-10zM450.5 750.5h10v10h-10z"/>
<path fill="rgb(66,66,66)" fill-opacity="0.74" d="M450.5 830.5h10v10h-10z"/>
<path fill="rgb(0,0,0)" fill-opacity="1.00" d="M450.5 820.5h10v10h-10z"/>
</g>
<path d="M445.5 725.5L455.5 721.9L463.9 725.5L465.5 726.1L472.9 735.5L475.5 742.7L477 745.5L478.8 755.5L478.1 765.5L475.5 770.4L473 775.5L467 785.5L471.1 795.5L475.5 797.3L480.9 805.5L481.6 815.5L479.6 825.5L475.5 831.5L473.9 835.5L465.5 844.3L463.4 845.5L455.5 851.9L445.5 854.7L435.5 853L429.9 845.5L428.2 835.5L430.6 825.5L435.5 818.9L437.3 815.5L441 805.5L445.5 803L455.5 796.8L460.7 795.5L455.5 791.2L445.5 785.5L445.5 785.5L435.5 782.8L433.4 785.5L435.3 795.5L432.4 805.5L425.5 810.3L415.5 814L405.5 815.1L395.5 814.4L385.5 812.7L375.5 806.5L374.3 805.5L365.7 795.5L367.2 785.5L371.7 775.5L375.5 772.1L385.5 767.3L395.5 766.6L405.5 767.3L415.5 771.2L425.5 774.5L427.3 765.5L426.4 755.5L428 745.5L431.6 735.5L435.5 730.6L445.5 725.5ZM443.3 735.5L445.5 733.8L455.5 731.5L461.8 735.5L465.5 737.7L471 745.5L472 755.5L470.3 765.5L465.5 772.4L460.5 775.5L455.5 778.5L445.5 776.8L443.9 775.5L436.7 765.5L435.5 759.5L434.3 755.5L435.5 750.9L436.5 745.5ZM388 775.5L395.5 774L404.7 775.5L405.5 775.6L415.5 781.7L419.5 785.5L423.8 795.5L417.7 805.5L415.5 806.9L405.5 809.4L395.5 809.4L385.5 805.5L385.5 805.5L375.6 795.5L377.5 785.5L385.5 776.1ZM455.2 805.5L455.5 805.3L465.5 801.5L470.8 805.5L474.4 815.5L473.5 825.5L468.5 835.5L465.5 838.6L455.5 844.9L451.7 845.5L445.5 847.8L441.5 845.5L435.5 837.2L434.8 835.5L435.5 833.8L437.1 825.5L444.3 815.5L445.5 813.8ZM445.4 745.5L445.5 745.4L455.5 741.2L461.6 745.5L464 755.5L459.7 765.5L455.5 768.9L445.5 765.5L445.5 765.5L441.8 755.5ZM394.6 785.5L395.5 785.1L397.5 785.5L405.5 787.2L413.4 795.5L405.5 800.8L395.5 801.5L385.5 796L385 795.5L385.5 794.3ZM451.7 815.5L455.5 811.9L465.5 811.4L468.3 815.5L467.9 825.5L465.5 829.3L461.1 835.5L455.5 839.8L445.5 840.3L441.1 835.5L442.2 825.5L445.5 821.3ZM446.6 825.5L455.5 817.3L462.9 825.5L456 835.5L455.5 835.9L449.9 835.5Z" fill="none" stroke="#000" stroke-width="2.08" stroke-linejoin="round"/>
</g>
</g>
<rect x="310.5" y="670.5" width="200" height="200" fill="none" stroke="#7f7f7f" stroke-width="1.1"/>
<path d="M315.5 870.5v4.86M359.5 870.5v4.86M402.5 870.5v4.86M446.5 870.5v4.86M490.5 870.5v4.86M310.5 854.5h-4.86M310.5 806.5h-4.86M310.5 757.5h-4.86M310.5 709.5h-4.86" stroke="#000" stroke-width="1.1" fill="none"/>
<g clip-path="url(#c32)">
<g transform="translate(-.5 -.5)">
<g filter="url(#hb)">
<path d="M592.9 721l3.1-0.7l7 1.1l2.6 1.6l1.4 3l8 0.2l9 3l18 10.6l7 4.9l11.2 11.3l7 9l2.8 8.8l3-0.5l2.7 1.7l0.9 2l0.2 2l-0.3 2l-1.4 3l-2.1 1.8l-2 0.5l-2-0.4l-2-1.6l-0.5 1.7l-1.5 2l3 0.2l0.7 0.8l2.4 7l-0.6 3l-1.5 1.7l-2 0.7l-2-0.4l-2-1.5l-0.1 2.5l2.1 5.2l1 0.1l2-1.6l2-0.4l2 0.7l1.6 2l0.3 2l-0.5 2l-1.4 1.5l-2 0.7l-0.4 0.8l0.4 1.5l4.2 4.5l3.6 5l0.2 5.7l2-2.2l2-0.8l2 0.7l1.1 1.6l-0.6 8l-2.9 5l-1.6 1.7l-7 3.8l-3 0.4l-4-0.7l-3 2.3l-2 0.5l-2-0.3l-2.4-2.7l-12.6-0.2l-8-2.9l-1.2 0.1l0 2l-0.8 1.3l-3 0.5l-2-1l-1.3-1.8l-0.1-1l0.8-2l-0.2-1l-2.2-0.8l-8-6l-9-11l-2 1.2l-2 0.2l-3-2.1l-0.8-2.5l0.5-2l2.3-2.6l3-0.8l0-0.8l-2.5-2.8l-1.5-0.8l-8.3-7.2l-5.7-7.4l-1-0.8l-3 0.6l-2.4-1.4l-0.4-3l1.8-1.8l3-0.2l0-3.8l-3-0.4l-1.5-0.8l-1.4-2l-0.5-2l0.7-4l3.7-4.4l2-1.1l2-0.2l1.5 0.7l1.5 1.6l1-0.2l8-5.6l5.5-2.8l0.2-1l-1.5-4l-0.1-3l-1.1-3.5l-3.2-4.5l-3.6-7l-2-6l-0.1-3l-3.1-2l-1.7-4l-0.3-2l0.3-2ZM661 794.9l0 2.3l0.7-0.2ZM662 797.4l-0.1 0.6l0.1 1l0 0.1l0.3-0.1l-0.2-1Z" fill="#000" fill-opacity="0.100" fill-rule="evenodd"/>
<path d="M593.7 722l2.3-0.5l7 1.1l1.9 1.4l1.1 2.2l9 0.5l9 3l18 10.6l6 4l11.7 11.7l1.1 2l2.9 3l3.6 5l2.7 10l3-1.2l1.8 1.2l0.8 3l-1.2 4l-2.4 1.9l-2-0.1l-1.5-1.8l0.1-2l-0.6-0.7l-0.2 1.7l-0.8 0.9l-0.6 2.1l-5.4 8.7l-0.4 3.3l3.2 9l2.2 3.4l2-2.3l1-0.4l2 0.2l1.2 1.1l0.3 3l-1.5 1.7l-2.1 0.3l0 2l0.9 2l3.9 4l3.6 5l0.7 7.1l1 1.2l1.7-3.3l1.3-0.6l1 0.3l0.7 1.3l-0.5 7l-2.3 4l-1.9 2l-5 2.9l-3 0.9l-3-0.3l-1.8-1.5l-0.5-1l-1.7-0.1l-0.5 1.1l0.2 2l-0.8 1l-1.9 0.7l-1.9-0.7l-1.1-1.4l-13-0.1l-11-3.8l-1.9 0.3l1 2l-0.8 1l-1.3 0.1l-1.6-1.1l-0.2-1l2.1-2l-5.3-2.3l-8-6l-7.8-9.7l-1.2-2.5l-3 1.8l-2-0.5l-0.9-0.8l-0.5-1l0-2l1.4-2l2-0.6l2 0.8l-0.9-4.2l-11.1-9.2l-8.9-10.8l0.4-6l-0.5-3.7l-3 0.1l-1.6-1.4l-0.6-2l0.8-4l3.4-3.6l3-0.7l2 1.8l1 0.3l9-6.5l6.1-3.3l-2.9-12l-3.6-5l-2-4l-2.9-8l-0.1-2l0.7-2l-3.3-1.9l-1.3-3.1l-0.3-3ZM665.9 791l1.1 0l2.8 5l-0.8 3l-2 1.1l-2.6-1.1l-1.4-3l0.8-3ZM584.8 793l1.8 1l-0.5 1l-1.1 0.4l-0.7-0.4l-0.4-1Z" fill="#000" fill-opacity="0.100" fill-rule="evenodd"/>
<path d="M594.2 723l1.8-0.4l6 0.8l2 1.3l1 2.3l10 0.1l11 4l22 13.6l11.3 11.3l7 9l2.6 8l0.4 4l-1.7 3l-1.7 5l-4.9 7.9l-0.9 2.1l0 2l3.9 10.2l3.7 5.8l1.3 3.2l7.9 9.8l0.3 6l1.2 3l-0.4 2l3-1.7l1 0.7l-0.1 3l-3.2 5l-5.7 3.4l-2 0.5l-3-0.7l-1-2.3l-1-0.1l-6 2.6l-3 0.6l-12 0l-18-6.1l-9.3-6.9l-7-9l-2.3-4l0.2-3l-1.1-4l-11.8-10l-7.2-9l-0.9-2l0.1-9l0.4-2l-2.1 1.2l-2-0.2l-0.8-1l-0.4-2l1-3l2.2-2.4l2-0.7l1 0.2l2 1.9l4-3.3l12.5-7.7l-2.6-11l-6.3-11l-2.5-7l0.4-3l2.3-3l-3.9 0l-1-1l-1.2-3l0-2ZM671.3 777l1.7-0.7l1 0.9l0.3 1.8l-1.3 3.9l-2 0.8l-1-0.7l-0.2-1ZM664.7 794l1.3-0.7l2 1.4l0.6 1.3l-0.6 2.1l-1 0.6l-2-0.8l-0.8-1.9ZM668.8 808l1.2-0.2l1.4 1.2l-0.2 2l-1.2 0.8l-1.9-0.8l-0.4-1l0.1-1ZM604.8 820l1.2-0.2l1.3 1.2l-0.1 2l-1.2 0.9l-1 0l-1.1-0.9l0-2Z" fill="#000" fill-opacity="0.136" fill-rule="evenodd"/>
<path d="M595.8 724l6.7 1l0.7 1l-0.8 2l0.6 0.4l3-1.2l8 0l12 4.2l5 3.5l5 2.5l11.9 7.6l11 11l7.7 10l2 7l0.2 4l-1.8 3.4l-1.4 4.6l-5.5 9l-0.3 3l1.8 4l1.5 5l5.9 10.9l4 4.2l3.6 4.9l0.2 6l1 3l-1.9 3l3.1 0.8l0.5 1.2l-1.5 3.1l-5 3.1l-2 0.7l-2.4-0.9l-0.1-2l-0.5-0.4l-11 4.1l-12 0.1l-18-6.2l-9-6.8l-7.6-9.8l-1.2-3l-0.1-3l-1.2-4l-12.8-11l-6.8-9l-0.1-10l2-6l4.9-5l12.8-8l-2.9-11.8l-4.6-7.2l-2-4l-2-6l0-2l0.6-1l5.3-5l-0.3-0.4l-6 0.4l-1-0.8l-0.9-2.2l0.3-1ZM586.3 777l1.7-0.5l0.7 0.5l0.3 2l-2 2.7l-2 0.8l-1-1.5l0.2-1Z" fill="#000" fill-opacity="0.186" fill-rule="evenodd"/>
<path d="M605.3 728l1.7-0.5l7 0l10 3.2l7 4.6l10 5.4l7 4.8l9.5 9.5l8.8 11l2.2 8l-0.1 3l-1.6 3l-1.5 5l-5.6 9l-0.2 3l3.2 9l3.1 6l3.2 5.4l7.3 8.6l0.2 6l0.9 3l-3.4 4.5l-3.6 1.5l-5.4 3.4l-9 3.1l-12-0.2l-17-6l-9-6.9l-7.3-9.4l-2.7-10.4l-12-10.1l-7.4-9.5l0-10l2.8-7l4.6-4.3l6-4l5-2.4l1.3-1.3l-3-12l-3.6-5l-3-6l-2.2-7l0.5-1.5l2-2.2ZM675.4 841l0.6-0.3l0.7 0.3l-0.5 1l-0.2 0.1l-0.5-0.1ZM671 844l1.1 0l-1.1 1.1Z" fill="#000" fill-opacity="0.246" fill-rule="evenodd"/>
<path d="M605.9 728l8.1-0.2l9.9 3.2l7.1 4.6l10 5.5l7 4.8l9.1 9.1l8.8 11l2.3 8l0.1 2l-3.4 9l-5.5 9l0 4l1.6 3.1l1.4 4.9l6 11l7.5 9l0.3 6l0.8 3l-3.5 4l-3.5 1.7l-5 3.3l-9 3.2l-11 0l-18-6.3l-8.9-6.9l-7-9l-1.4-4l-0.1-3l-1.6-3.9l-12-10l-7-9.1l-0.2-9l3.1-8l4.1-3.9l6.1-4.1l4.9-2.4l1.6-1.6l-3-12l-3.6-5.1l-2.9-5.9l-2.3-7l0.2-1l2-2.2Z" fill="#000" fill-opacity="0.326" fill-rule="evenodd"/>
<path d="M605.3 729l1.7-0.9l7 0.1l9 3l18 10.3l6.6 4.5l9.4 9.4l8.4 10.6l2.4 8l0.1 2l-3.4 9l-5 8l-0.6 4l3.2 9l3 6l3.5 6l6.8 8l1.1 9l-3.5 3.8l-8 4.7l-9 3.3l-11 0l-18-6.4l-8-6l-7.5-9.4l-1.4-4l-0.2-3l-1.5-4l-12-10l-6.9-9l-0.4-1l0-8l3.3-8l3.6-3.5l6.9-4.5l5.1-2.6l0.9-1.4l-3-12l-5.9-9.9l-2.8-8.1l2.1-3Z" fill="#000" fill-opacity="0.448" fill-rule="evenodd"/>
<path d="M605.9 729l8.1-0.3l10 3.2l7 4.7l10 5.4l6 4l10 9.9l8 10.1l2.3 8l0 2l-1.8 4l-1.5 5l-5.5 9l0 4l1.6 3l1.4 5l3 6l3.6 6l3.9 4l3 4l0.5 7l0.6 1l-0.1 1.1l-3 3.1l-3 1.4l-5 3.5l-9 3.2l-11 0l-18-6.3l-8-6l-1.1-2l-5.9-7l-1.4-4l-0.1-3l-1.6-4l-2.9-2.9l-2-1.1l-4-3.9l-3.1-2.1l-6.9-9l-0.3-9l3.2-8l3.1-3l6-4l5-2.4l2.5-2.6l-3-12l-3.5-5l-3-5.8l-2.3-7.2l0.3-1l1.9-2Z" fill="#000" fill-opacity="0.594" fill-rule="evenodd"/>
</g>
<g fill="none" stroke="#000" stroke-opacity=".1" stroke-width="2.8" stroke-linecap="round">
<path d="M560 787.5h0m7.5-60h0m-2 38.5h0m0.5 10.5h0m-1.5 18.5h0m3.5 8.5h0m-3.5 1.5h0m5.5-102.5h0m1.5 16.5h0m-2 7h0m6 25.5h0m-2 12.5h0m-4 13h0m4 20h0m9-86.5h0m-4 3.5h0m-2 0.5h0m0 4h0m6.5 0.5h0m-2 0.5h0m-4.5 18.5h0m7 5h0m0 2h0m-1 23.5h0m-5.5 1.5h0m4.5 1.5h0m0 1.5h0m1.5 1h0m-2.5 0.5h0m-1.5 2h0m1.5 2h0m1.5 1.5h0m-1.5 1.5h0m-2 1.5h0m1.5 2h0m2.5 0.5h0m-5 2h0m6.5 4.5h0m-5 2h0m4 5h0m0 8.5h0m-3 0.5h0m9.5-94.5h0m-2.5 2h0m0.5 7h0m0.5 1h0m0 0.5h0m-3.5 0.5h0m4 2h0m-3.5 0.5h0m4.5 6.5h0m-0.5 0.5h0m0.5 3h0m2 1h0m-3 1.5h0m3 6h0m-1.5 8h0m-5.5 4.5h0m6 1.5h0m-5 0.5h0m6.5 2.5h0m-2 3.5h0m0.5 2.5h0m-0.5 1.5h0m-3 0.5h0m2.5 1.5h0m-3 0.5h0m3 3.5h0m0 3.5h0m0.5 1h0m-2.5 14h0m0 2.5h0m0 1.5h0m-1.5 0.5h0m1.5 2.5h0m3.5 0.5h0m-2 3h0m-2.5 0.5h0m4.5 0.5h0m-6.5 1.5h0m0 0.5h0m3 0.5h0m4 3h0m0 13.5h0m-0.5 3h0m3.5-114.5h0m1 1.5h0m-1.5 5h0m-0.5 0h0m-0.5 3h0m5 4h0m-5 3.5h0m0.5 1.5h0m0 5h0m1.5 3.5h0m1.5 1h0m1.5 1.5h0m-3 0.5h0m2 2.5h0m1.5 0.5h0m-1 7h0m2 0.5h0m-5.5 6h0m4 0.5h0m-2.5 2h0m-1 4h0m4 2.5h0m-5 2h0m-0.5 1.5h0m3 0h0m-3 2h0m-1 0.5h0m0.5 27h0m3 8h0m3.5 0h0m-5 0.5h0m4 0.5h0m-1 1h0m-2 0h0m8.5-98.5h0m2 2.5h0m-4 0.5h0m4.5 3.5h0m1 5h0m-1 1h0m-1.5 32h0m-1.5 2.5h0m1 1.5h0m-2 6h0m0 46.5h0m-0.5 0.5h0m-1.5 3h0m1.5 1.5h0m4 0.5h0m-2.5 1h0m4 3.5h0m-4.5 1.5h0m-1.5 8h0m5.5 10.5h0m4-131h0m-1.5 6.5h0m2 0h0m2 0.5h0m-3 0h0m0.5 0.5h0m2.5 1h0m2.5 2h0m-1.5 0h0m-3.5 2.5h0m-2 93h0m0 4h0m2 4.5h0m2 2.5h0m2.5 1.5h0m0.5 1h0m-1.5 0.5h0m-1.5 4h0m1 0h0m1.5 4h0m-1 2h0m-4 3h0m-0.5 2h0m9-135h0m2.5 11h0m-3.5 1h0m1 2h0m5 1.5h0m-5 107.5h0m4 4.5h0m0.5 0.5h0m-1 1.5h0m1 4h0m-3 1.5h0m2 3.5h0m-2 0h0m-3 3.5h0m12.5-128.5h0m-4 0.5h0m3.5 5.5h0m1 0h0m-4.5 111.5h0m4.5 0.5h0m1.5 1h0m-5.5 2h0m-2 1.5h0m4 10h0m4 1.5h0m2-127h0m-0.5 1.5h0m-0.5 109h0m5 2h0m-4 2h0m0.5 1h0m-1 2h0m2.5 0h0m0 0h0m-3 14h0m9.5-131.5h0m-1 2h0m2.5 1.5h0m2 3.5h0m0.5 0.5h0m0 1h0m-4 106.5h0m3.5 0.5h0m-0.5 1.5h0m-3 1.5h0m-1 7.5h0m2.5 1h0m5.5-118.5h0m2.5 6h0m1.5 1h0m1 99h0m-1 0.5h0m-2.5 0h0m-1 0h0m5.5 0.5h0m-5.5 0.5h0m5 1.5h0m-2 7h0m-3 3.5h0m13-115.5h0m-2 1.5h0m1.5 3h0m1.5 5h0m-2.5 2h0m2.5 30.5h0m-2 5h0m-2.5 54h0m-2 0.5h0m0.5 1h0m-0.5 0.5h0m5 0h0m-0.5 1.5h0m2 1.5h0m-7 2h0m8-114.5h0m2.5 8.5h0m0.5 13.5h0m-1.5 2h0m5 7h0m-1.5 0h0m-0.5 2h0m0.5 2h0m-0.5 6.5h0m1.5 4h0m-5.5 3.5h0m6 2h0m-2 1h0m-1.5 0h0m3 0h0m0 3.5h0m-2 3.5h0m-4 1h0m2 3h0m0 1.5h0m0.5 6h0m-0.5 0h0m4 5h0m-2.5 28h0m-1.5 1.5h0m0 1h0m-3 0.5h0m6.5 1.5h0m-5.5 4h0m0.5 5.5h0m8-95.5h0m-0.5 1h0m1 1h0m-2 0.5h0m0.5 0h0m0.5 2h0m1 6.5h0m-0.5 2.5h0m5.5 1.5h0m-2.5 3h0m1 1.5h0m0 1h0m-3 3h0m3.5 0.5h0m-1 0.5h0m3 4.5h0m-1 15.5h0m-3.5 0h0m-2.5 5h0m6 1.5h0m0.5 0.5h0m-1 3.5h0m-3 2.5h0m3.5 1h0m-4.5 0.5h0m1.5 2h0m2 5.5h0m0.5 1.5h0m-0.5 7h0m-5 3.5h0m-0.5 9h0m4 9.5h0m2.5 3h0m-1 1h0m4.5-78.5h0m1 2.5h0m4 2.5h0m0 1.5h0m-5.5 1h0m3 2h0m0 11.5h0m-1 3.5h0m2.5 8.5h0m-2.5 2.5h0m-1.5 0.5h0m5 5h0m0 4h0m-1 0.5h0m-4.5 0.5h0m3 0h0m2 2h0m-6 4h0m2.5 1.5h0m1 0.5h0m-1 0.5h0m2 1h0m2 0h0m-3 0.5h0m-3.5 1h0m1.5 0.5h0m1.5 12h0m6.5-70h0m1 43h0m4.5 1h0m-4 3h0m-2.5 2.5h0m2 8.5h0m0 10.5h0m-1.5 4.5h0m5 5h0m1.5-35h0m0 8h0m3.5 2h0m-1.5 10.5h0m5.5-19h0m3 35.5h0m6.5-33.5h0"/>
<path d="M552.5 758h0m5 4h0m10 9h0m-0.5 5h0m2-45.5h0m3 5.5h0m0.5 6h0m0 25.5h0m-2 5.5h0m2.5 4.5h0m0 3.5h0m1 3.5h0m-2.5 1.5h0m-1 1h0m5 4.5h0m-2 2.5h0m0.5 1h0m2 10.5h0m-1.5 9.5h0m2-110.5h0m1 8.5h0m-0.5 11.5h0m6 6h0m-5.5 5h0m4 0.5h0m-3.5 24.5h0m5.5 2.5h0m-0.5 1h0m0.5 0.5h0m0.5 1h0m-1.5 5.5h0m-5.5 0h0m5 8h0m-0.5 1h0m-0.5 4.5h0m-4.5 6h0m6.5 0h0m1 1h0m-3.5 3h0m0.5 1.5h0m-1.5 0.5h0m1 7.5h0m1.5 24h0m5.5-112.5h0m-2 1h0m4.5 1.5h0m-2.5 0h0m-2 1.5h0m4 6h0m0.5 0.5h0m-1 1.5h0m-3 0.5h0m4.5 2h0m1.5 0h0m-6 2.5h0m2 4h0m1.5 2h0m-0.5 5h0m0.5 5.5h0m1 2h0m-6 12h0m7.5 4h0m-0.5 2.5h0m-3 0.5h0m2.5 3.5h0m-4 0.5h0m0.5 7h0m-2.5 4.5h0m1 0h0m1.5 3h0m-3 1h0m1.5 6.5h0m0.5 1.5h0m3 3.5h0m2.5 0h0m-1.5 3.5h0m0 0.5h0m-0.5 2.5h0m1.5 0.5h0m-0.5 1h0m-3 6.5h0m-4 2h0m7 0h0m-3.5 2.5h0m-1.5 0.5h0m12.5-100.5h0m-0.5 1h0m-1 1.5h0m1 1.5h0m-3 0h0m-2 2h0m1 2h0m2.5 4.5h0m-0.5 8h0m-2 10h0m2.5 2.5h0m1.5 6h0m-2 1h0m1 2.5h0m0 0.5h0m-3 0.5h0m2 3h0m-1.5 2.5h0m5 0h0m-0.5 0h0m-4.5 3.5h0m-2 31h0m5.5 4h0m1 2h0m-0.5 2h0m1 2h0m-3 2h0m-0.5 4h0m2.5 11h0m0.5 30.5h0m1.5-139.5h0m0.5 1h0m6.5 1h0m-7.5 2.5h0m3.5 2.5h0m-2.5 21h0m2 5.5h0m0 1.5h0m3 7.5h0m-4.5 0.5h0m5 1h0m1 0.5h0m-6 45.5h0m6.5 5.5h0m-1 3.5h0m-6 3h0m3 2.5h0m2 6h0m0.5 2.5h0m0 3.5h0m0 0.5h0m0 5.5h0m3.5-128h0m-0.5 10h0m-1.5 1h0m2.5 99.5h0m1.5 4.5h0m3.5 3h0m4-111.5h0m-2 2h0m2 1h0m2 1.5h0m-1.5 1.5h0m2 0.5h0m-4.5 107.5h0m3.5 2h0m-5 1h0m2 3.5h0m-0.5 2h0m5.5 3.5h0m0.5 2.5h0m2-127h0m3 2.5h0m3 5h0m-4.5 113.5h0m2.5 3h0m0 1h0m2 7h0m-1.5 9.5h0m5.5-144.5h0m4 9h0m-1 0.5h0m-3.5 0.5h0m-1.5 0.5h0m4.5 0.5h0m-0.5 1h0m-4 0.5h0m-0.5 1.5h0m4.5 0.5h0m-3 111h0m0.5 1.5h0m1.5 2h0m7-124h0m-2.5 5h0m6 2h0m-1 4.5h0m-2 3.5h0m2 108.5h0m2 0h0m-1 1.5h0m0 0.5h0m-4.5 0.5h0m3 0h0m-5.5 4h0m4.5 0.5h0m4-130h0m1.5 10.5h0m0.5 2h0m1 0h0m-0.5 4h0m-2.5 0.5h0m6.5 2h0m-2 4h0m1.5 100h0m-3 0h0m0 2h0m3 1.5h0m-4 2.5h0m1 2h0m0 4.5h0m12-110.5h0m-1.5 1.5h0m1 2h0m0.5 4.5h0m-2 34.5h0m0 0.5h0m1.5 4h0m0 3h0m0.5 2.5h0m-1.5 42h0m0 1h0m1 0.5h0m-4 2h0m-1.5 0.5h0m3.5 3.5h0m1 0.5h0m-0.5 1.5h0m-3.5 2.5h0m0 7h0m6.5-106.5h0m6 1h0m-1 2h0m0 3.5h0m1 1h0m-2 0h0m0 1h0m1 9.5h0m-3.5 11h0m3 0h0m1.5 1.5h0m-1.5 1h0m0.5 3.5h0m-1.5 2h0m-3 2.5h0m1 0.5h0m0 3h0m4 6.5h0m-1 2h0m-3 0h0m3 4.5h0m2 0.5h0m-4.5 29.5h0m4.5 3.5h0m-3.5 11h0m7-106h0m-2 3h0m1.5 3h0m1 4h0m0.5 1.5h0m-0.5 2h0m-1.5 0h0m0 2h0m4 1h0m-2 0.5h0m1 1h0m-3.5 2.5h0m1 2.5h0m1.5 1.5h0m3.5 1h0m-5 0.5h0m3.5 0.5h0m0.5 0h0m-5.5 1h0m6.5 2.5h0m-4.5 0h0m2 1h0m0 1h0m3 1.5h0m-7.5 0h0m7.5 1.5h0m-4 1h0m-1 0h0m-2 3.5h0m2.5 1h0m-2.5 3.5h0m0 7h0m3.5 1.5h0m-3.5 3h0m0 0h0m4 11h0m2 0h0m-5.5 0.5h0m5.5 1.5h0m-2.5 0.5h0m4 1h0m-0.5 2.5h0m-1.5 3h0m-0.5 2.5h0m-0.5 11h0m-2 0.5h0m1.5 7.5h0m-2 1h0m2 4.5h0m1.5 0.5h0m4-89.5h0m4.5 12.5h0m-5.5 11h0m5.5 15.5h0m-3.5 8.5h0m-1.5 0.5h0m0.5 2h0m-2 10.5h0m3.5 2h0m3.5 0.5h0m-6.5 1.5h0m5.5 0.5h0m-4 0.5h0m2.5 1h0m-2 2h0m-0.5 2h0m2.5 3.5h0m-0.5 1h0m-3 1h0m0.5 0.5h0m4 2h0m-4.5 0.5h0m2 0.5h0m3 4.5h0m-5.5 8.5h0m8.5-83.5h0m3.5 4h0m-0.5 3.5h0m-1 17.5h0m0 12.5h0m0 2h0m-1.5 6h0m2 4h0m0 0.5h0m-2.5 2.5h0m2.5 6.5h0m-1.5 5.5h0m2.5 0h0m2.5 4.5h0m-0.5 1.5h0m6-55.5h0m-4 50.5h0m3 3h0m11 14.5h0"/>
<path d="M558.5 709.5h0m-3.5 82h0m4.5 30.5h0m6-115.5h0m-1.5 10h0m4 28h0m-1.5 29h0m-2.5 5h0m11.5-75.5h0m0 13h0m-7.5 1.5h0m5 2h0m0.5 11.5h0m-4 28h0m-0.5 9.5h0m1 4h0m3.5 2h0m2.5 4h0m-2.5 1.5h0m1.5 3.5h0m-2.5 0.5h0m2 2h0m0 0.5h0m-3 0.5h0m3 7h0m0 2.5h0m0.5 31.5h0m4.5-111.5h0m4 16.5h0m0 4h0m-5.5 11.5h0m6 17.5h0m-4.5 1h0m1 6h0m0 0.5h0m-3 3.5h0m0 2h0m6.5 0.5h0m-5 2h0m-1.5 5.5h0m6 1.5h0m-5 1.5h0m4 1h0m-3.5 2h0m-0.5 2.5h0m4.5 2.5h0m1 5.5h0m-1 28h0m5.5-117.5h0m-4 0h0m4 5h0m2.5 5.5h0m0 4h0m-5.5 1h0m2.5 3.5h0m-1.5 3h0m-2.5 0h0m1 0.5h0m6 5.5h0m1 4.5h0m-2 3h0m-3.5 14.5h0m-0.5 1h0m5.5 10h0m0 2h0m-2.5 0h0m-3.5 2.5h0m1.5 4.5h0m-2 1h0m1.5 3h0m1 1.5h0m-1 0.5h0m-0.5 0.5h0m1 4.5h0m0 0.5h0m-2 2h0m-1 1h0m3 0.5h0m3.5 0.5h0m-1.5 2.5h0m1 6h0m-0.5 16.5h0m-2 2h0m2.5 4h0m7-114h0m-5 0.5h0m5.5 1.5h0m-2 0.5h0m-2 2.5h0m6 3.5h0m-5.5 0.5h0m-1.5 2h0m2.5 1.5h0m0 0.5h0m2 0.5h0m-5 11h0m4 2h0m-1.5 1.5h0m3.5 4h0m0.5 0.5h0m0.5 4h0m-5.5 5.5h0m6 0h0m-1 1h0m-5.5 1h0m1.5 3.5h0m5.5 3h0m-1.5 1.5h0m-6.5 0h0m2 1.5h0m3.5 0.5h0m0.5 1h0m-6 29.5h0m1.5 3.5h0m3 1.5h0m-4 1.5h0m1 2h0m2 1h0m2.5 1h0m-2 0.5h0m-1 1.5h0m3.5 8.5h0m-4 2.5h0m12.5-103h0m-6 2h0m1 4h0m-1 2h0m-0.5 0.5h0m0.5 21h0m0.5 0.5h0m0 3h0m2 0.5h0m0.5 0h0m1.5 3.5h0m-2.5 0h0m1.5 54.5h0m1.5 2.5h0m1 0h0m1 3h0m-1 1.5h0m0 2.5h0m-4 3.5h0m1.5 0h0m-0.5 3h0m-3 4h0m4.5 3.5h0m-2 8h0m6-124.5h0m2.5 1.5h0m-1 1h0m0 2h0m4 0.5h0m-3 1h0m0 0h0m-0.5 0.5h0m-3 98.5h0m2 3.5h0m2 1.5h0m0.5 0.5h0m-2 2h0m1 1h0m4 0h0m-2 6.5h0m-3.5 0.5h0m2 4h0m-2 10h0m11-142h0m-3.5 6.5h0m4.5 9.5h0m-2 0.5h0m-4.5 104.5h0m1 1.5h0m0 0.5h0m-0.5 1h0m3 1.5h0m-1.5 3.5h0m-0.5 7.5h0m10-120h0m-0.5 0.5h0m2.5 3h0m1 1h0m-5.5 110h0m1.5 0h0m1.5 1h0m4 0h0m-4.5 1.5h0m0 0.5h0m-1.5 5.5h0m1.5 7h0m10-125.5h0m-0.5 0h0m0 2.5h0m2.5 2.5h0m-6 106h0m0.5 4h0m4.5 1h0m1 11.5h0m1-125h0m1.5 1h0m4 1h0m-2.5 110.5h0m-2.5 0.5h0m5 1.5h0m1 1h0m0 4h0m-6.5 1h0m15-110.5h0m0 4.5h0m-2 100h0m-1.5 0.5h0m-2 1.5h0m-1 0h0m5.5 4h0m-2 4.5h0m10-130h0m-6 11.5h0m-0.5 2h0m1 1h0m0 3.5h0m5 2h0m-5 1.5h0m4.5 0.5h0m0.5 1h0m-2 2.5h0m1 0.5h0m1.5 2.5h0m-1.5 35.5h0m-1 53.5h0m-1.5 0h0m2 1.5h0m0 6.5h0m0.5 2.5h0m2 0.5h0m7-113h0m-5 9h0m6.5 2.5h0m-6.5 2h0m-1 0h0m2 4h0m2 1.5h0m3.5 6h0m-2.5 1h0m1.5 4h0m-2 3h0m-1 4h0m0 0.5h0m2.5 0.5h0m-1.5 2.5h0m-4 3.5h0m5.5 2.5h0m-1 1.5h0m1.5 5.5h0m-0.5 1h0m-2.5 2h0m0 1h0m2 0.5h0m-4 0h0m6.5 1h0m-8 0.5h0m1.5 2h0m2 4h0m1.5 1.5h0m1.5 0.5h0m-2 0.5h0m3 3.5h0m-2 24h0m-1.5 1.5h0m-4 2h0m1.5 0h0m0 0h0m5.5 3.5h0m0.5 0.5h0m-2 6.5h0m-3 4.5h0m1.5 5.5h0m1.5 2.5h0m6-99.5h0m2.5 2h0m-6 2.5h0m3 0h0m3 6h0m-1 2.5h0m-1 1h0m-3 4h0m5 8.5h0m-4 1.5h0m5 5h0m-6.5 6h0m2 0h0m4 0.5h0m-4 1h0m-0.5 1h0m-1.5 0.5h0m6 0h0m-3.5 0.5h0m4.5 6.5h0m-5 0h0m1 3.5h0m3.5 3.5h0m0.5 1.5h0m-0.5 9h0m-1.5 1h0m-1 4.5h0m1 0h0m-2 10h0m2.5 3h0m-4 10h0m7.5-116h0m3 17h0m-1.5 4h0m2.5 3h0m-2 9h0m2 0h0m2 2.5h0m-6.5 0.5h0m5.5 5h0m1.5 3.5h0m-3 8.5h0m2 2.5h0m-5.5 9h0m3.5 6h0m-4 0h0m3 2h0m-3 4.5h0m1.5 5h0m0 7h0m3 6.5h0m-1.5 4.5h0m1.5 4h0m-0.5 3h0m8-28.5h0m3 9h0m0 6h0m-8 1h0m1.5 3.5h0m-1 7.5h0m7 0.5h0m3.5-28.5h0m-3 24h0m10-62h0m4.5 23.5h0m3 20h0m0.5 6.5h0"/>
<path d="M556.5 795h0m6.5-76h0m-1 55.5h0m5.5 11h0m-0.5 12h0m-0.5 6.5h0m8.5-79h0m-6 45h0m6.5 1.5h0m-5 10h0m0 3.5h0m5 4h0m-4 1.5h0m4.5-88h0m4 11h0m0.5 13h0m-2.5 5h0m4.5 2.5h0m-4 0h0m4.5 37h0m-6 4.5h0m5 1.5h0m-1.5 2.5h0m-2.5 2h0m3.5 3h0m-1 0h0m2.5 4.5h0m0 4.5h0m0.5 0h0m0 1h0m-1 9.5h0m3-81.5h0m-0.5 2.5h0m3 1.5h0m2.5 8.5h0m-6.5 0.5h0m3 3h0m0.5 11.5h0m3.5 3.5h0m0 3.5h0m-0.5 4.5h0m-3.5 2.5h0m1 1.5h0m-1.5 6h0m0 0.5h0m3.5 1h0m-2 2h0m-2 0h0m0.5 9h0m1 5h0m1 9h0m1.5 1.5h0m-1 0.5h0m2.5 6h0m-5 9h0m4 2.5h0m-2.5 0.5h0m2.5 14.5h0m6.5-117.5h0m-4 4.5h0m5 1h0m-5.5 0.5h0m0.5 4h0m4 1h0m-0.5 0.5h0m2.5 0h0m-3 7h0m-3 3h0m0 0.5h0m1.5 1h0m0 0.5h0m0.5 1h0m-1 0h0m-1.5 1.5h0m2 0.5h0m2 2.5h0m-3.5 2.5h0m5.5 0.5h0m-4 1h0m-2 0.5h0m3.5 1.5h0m-4 1h0m8 6.5h0m-3.5 1.5h0m1 2h0m-1.5 3h0m-2.5 2.5h0m-1.5 36.5h0m1 4h0m4.5 9.5h0m2 3.5h0m-6 3.5h0m6 2.5h0m-0.5 9.5h0m-3 6h0m5.5-136h0m-1.5 5.5h0m1 3.5h0m1 1.5h0m1.5 3.5h0m-0.5 1.5h0m0.5 1.5h0m1 0.5h0m-0.5 4h0m-1 29h0m0.5 0.5h0m-1.5 0.5h0m2.5 1h0m-3.5 1h0m0.5 4h0m-1.5 3.5h0m3.5 1.5h0m-3 0.5h0m-0.5 45h0m4.5 0.5h0m-0.5 0h0m-0.5 0.5h0m4 2h0m-0.5 0.5h0m-3 0.5h0m4 1h0m-4.5 4h0m3 3h0m-1.5 0h0m2 0.5h0m-2 5.5h0m-3.5 4h0m0.5 3.5h0m3.5 3h0m1 0.5h0m-5.5 2h0m0 1.5h0m7-129h0m6 1h0m0 2h0m-3 3h0m-1 1h0m0 2.5h0m-0.5 0h0m0 99h0m-0.5 2.5h0m-0.5 0.5h0m0 0.5h0m2.5 1h0m2.5 0.5h0m-1.5 0.5h0m-1 1h0m0 5.5h0m-1.5 1h0m0 7h0m5 0h0m-3 3.5h0m3.5 0.5h0m6.5-139h0m-5 12h0m3 3.5h0m-0.5 0.5h0m-1.5 1h0m0 109.5h0m-1 1.5h0m3.5 0.5h0m3.5 0.5h0m-3.5 0.5h0m-3.5 0h0m2.5 0.5h0m-0.5 4.5h0m-1 3h0m-0.5 9h0m14-132h0m-0.5 2.5h0m-2.5 0.5h0m-1.5 1.5h0m5.5 2.5h0m-5.5 110h0m3 1h0m-2.5 7.5h0m-1 2.5h0m6 1.5h0m-0.5 6h0m-1.5 5h0m4-135.5h0m3 0h0m-3.5 1h0m0 0.5h0m0 2h0m1 2.5h0m5 111.5h0m0.5 6.5h0m0.5-118h0m-0.5 0.5h0m5.5 5h0m-0.5 0.5h0m-0.5 106.5h0m0 0.5h0m0 3h0m0.5 4h0m-4 0h0m1 0h0m6 3.5h0m3-123h0m2.5 5.5h0m1 8.5h0m0.5 101.5h0m-6 0.5h0m4.5 0.5h0m-1.5 1.5h0m-1.5 0h0m4.5 2.5h0m-1 7.5h0m5.5-125h0m4 3h0m-2 7.5h0m0 2.5h0m2.5 8h0m-0.5 30.5h0m-1.5 2h0m1 0.5h0m-1.5 0.5h0m0.5 0.5h0m0 2.5h0m-0.5 1.5h0m1.5 0.5h0m-1.5 0h0m1 1h0m1.5 3.5h0m-1 42h0m0.5 1.5h0m-3.5 1h0m-1 0h0m-2 1.5h0m4 3h0m-2.5 3h0m-1.5 4h0m11.5-114.5h0m-3 3.5h0m0 9h0m4.5 2.5h0m0.5 1.5h0m-2.5 1h0m1 1h0m0.5 0h0m-0.5 2h0m0.5 6h0m2 4h0m-2 2.5h0m1.5 5h0m-3.5 0h0m3.5 0.5h0m-5 3h0m-1 1.5h0m2 0.5h0m-2.5 1h0m4 0.5h0m-4.5 3.5h0m4 3.5h0m-2 0.5h0m-1 0.5h0m4.5 0.5h0m1 3h0m-3 0h0m2.5 0.5h0m2 0.5h0m-5 1.5h0m-2 0.5h0m7 2.5h0m-4.5 0h0m4.5 8h0m-3 28h0m-3.5 2h0m-0.5 2h0m1.5 1h0m-1 2.5h0m0.5 7.5h0m8-98h0m-1.5 8.5h0m2.5 7.5h0m0.5 2h0m-1 0h0m1.5 0.5h0m-3.5 6h0m7 2.5h0m-4.5 0.5h0m-1.5 3.5h0m1 1h0m-1.5 3.5h0m-0.5 0.5h0m6.5 3h0m-4.5 3.5h0m-1 0.5h0m-1 0.5h0m1.5 4h0m-1.5 2h0m4 1.5h0m-0.5 2h0m2 0.5h0m-3 3h0m-2 3.5h0m7 2h0m-2.5 4h0m0.5 1h0m-0.5 0.5h0m1 8h0m1 0.5h0m-3 1.5h0m-0.5 8.5h0m2.5 0.5h0m1.5 1h0m-5.5 2h0m6.5-76.5h0m0.5 5.5h0m5 1.5h0m-4.5 7h0m3.5 0.5h0m-4.5 1h0m2.5 29h0m3.5 1.5h0m-1 6.5h0m-3 2.5h0m1.5 2h0m3.5 7.5h0m-7.5 1.5h0m4 3h0m0 2h0m3.5 5h0m-2 2.5h0m-3 7h0m10.5-100h0m-4.5 35h0m4 8h0m-2.5 5h0m3.5 25.5h0m-0.5 0h0m-3 5h0m-0.5 2.5h0m5 2.5h0m-4 1h0m-2.5 3.5h0m2 1.5h0m1 1.5h0m-2.5 5h0m2.5 0h0m7.5-61.5h0m4 26h0"/>
<path d="M566 761h0m0 14h0m0.5 4.5h0m1.5 3h0m-6.5 7h0m9.5-76h0m-1 34h0m4.5 16h0m-6 3.5h0m2.5 0.5h0m4 7.5h0m0.5 0.5h0m-5 0.5h0m1 13h0m1 0.5h0m-1.5 5h0m-1.5 1.5h0m5.5 8h0m5.5-86h0m0 13h0m2 2h0m-5.5 37h0m1.5 4.5h0m2.5 10.5h0m3 0.5h0m-3 4.5h0m1.5 1h0m-1 1h0m-3.5 1h0m0.5 0.5h0m4.5 0h0m-3.5 1.5h0m-3 5h0m4.5 1.5h0m-2.5 2h0m1 5.5h0m1.5 9h0m3.5-102.5h0m6 0.5h0m-1.5 1.5h0m-3 0.5h0m3 8.5h0m1 7h0m0 2h0m-1.5 3h0m3.5 7h0m-0.5 2h0m-3 5.5h0m-1 3.5h0m-2.5 8h0m2.5 1.5h0m2.5 0.5h0m-1.5 1h0m1.5 0.5h0m-6 3h0m0.5 0h0m6.5 1.5h0m-3 0h0m3.5 0.5h0m-1.5 2h0m-6 2h0m2.5 3h0m1 4.5h0m-3 2h0m2.5 2h0m-1.5 0.5h0m3 7.5h0m-1 1h0m3 2h0m1 3h0m-5 3.5h0m4.5 0.5h0m0.5 0.5h0m-5 0.5h0m4.5 8.5h0m-6.5 6h0m10.5-120.5h0m-0.5 11h0m3.5 9.5h0m-4 4.5h0m2 5h0m-4 4.5h0m3.5 4.5h0m1 0.5h0m0 3h0m1 1h0m-3 2h0m-1.5 3h0m0.5 2.5h0m3 0.5h0m1.5 0h0m-1.5 0.5h0m3.5 3h0m-0.5 6h0m0.5 3.5h0m-0.5 0h0m-3 2.5h0m0.5 0.5h0m-1.5 0.5h0m-2 34h0m1 4.5h0m4.5 3.5h0m-3.5 0.5h0m-3.5 3.5h0m6.5 10h0m-3.5 1.5h0m4.5 17h0m5.5-132h0m-2 2.5h0m1 1.5h0m-0.5 6h0m4.5 0h0m-6 7.5h0m-1.5 20.5h0m1.5 2.5h0m1.5 1h0m-1.5 1h0m-1 2h0m4 7h0m1 3h0m-3 45h0m-2 3.5h0m5.5 2.5h0m-1 0.5h0m0 0.5h0m-2 1h0m-3 1.5h0m1.5 3h0m6 1h0m-0.5 3h0m-1 0.5h0m-1.5 2h0m0.5 5h0m-2 4.5h0m4.5 0.5h0m-3 9.5h0m3.5-133.5h0m1.5 2.5h0m5.5 0.5h0m-6 0h0m-0.5 3h0m6.5 2.5h0m0 0.5h0m-1.5 1h0m-5.5 95h0m1.5 6h0m1 2h0m3.5 1.5h0m1 3.5h0m0.5 2.5h0m-4 5.5h0m2 1.5h0m-2.5 1.5h0m10.5-126h0m-5 1.5h0m5.5 5.5h0m-2 2h0m1.5 0h0m-2 0h0m-2.5 108.5h0m3 1h0m11.5-109h0m-6 0.5h0m0.5 0.5h0m2 2.5h0m-0.5 110.5h0m3.5 1h0m-2 0.5h0m2 0h0m-2.5 0.5h0m0.5 0.5h0m-3.5 9.5h0m10-130h0m-1 1h0m-2.5 4h0m4.5 4.5h0m-1 0.5h0m1 2h0m1.5 1.5h0m-4 107h0m0.5 0.5h0m-0.5 0h0m1.5 3h0m-1.5 3h0m2.5 1.5h0m-4 1.5h0m3.5 2.5h0m8-118.5h0m1.5 1h0m1.5 3.5h0m-7.5 105.5h0m4.5 0.5h0m0.5 2.5h0m0.5 0.5h0m2 0h0m-3.5 1h0m1.5 1.5h0m2.5 5h0m3.5-128h0m1.5 1h0m-4.5 6h0m2.5 4h0m1 0.5h0m-4 0.5h0m2 0.5h0m-0.5 0.5h0m6 3.5h0m-3.5 100h0m-1 1.5h0m2.5 9.5h0m4-121h0m0 9h0m1.5 5.5h0m4 1h0m-1 2h0m1.5 3h0m-1.5 33.5h0m-0.5 0.5h0m0.5 2h0m-0.5 3.5h0m2 6.5h0m-3.5 42h0m3.5 19.5h0m3.5-109h0m0 7.5h0m4.5 1h0m0.5 4.5h0m0 1.5h0m0 2h0m-2 0.5h0m1 1h0m-1 0.5h0m0.5 5.5h0m-1 3h0m-3.5 0.5h0m1 0h0m2 2.5h0m-2 2.5h0m-3 9.5h0m2.5 1h0m3.5 1h0m-1 1h0m2 1.5h0m-3 2.5h0m0.5 1.5h0m-3 0h0m0.5 0h0m2 1.5h0m2 40.5h0m-1 1.5h0m2 0.5h0m0 2.5h0m-1 0h0m1.5 1h0m-7 0h0m8.5-93.5h0m1.5 2.5h0m-1.5 0h0m1.5 5h0m5 0.5h0m-1 4h0m-6 8h0m3.5 0h0m4 0.5h0m-7 1.5h0m1 0h0m1 2.5h0m-2.5 5h0m7 1h0m-3 11.5h0m-4 1.5h0m3 3.5h0m4 5h0m-1 1h0m0.5 0.5h0m-5.5 1h0m2.5 0h0m1 1h0m-3.5 1h0m0.5 0h0m5 0h0m0 2h0m-2.5 3h0m1 3.5h0m0 2h0m0.5 0h0m1 3h0m-5 7.5h0m5.5 3h0m0 0.5h0m-1.5 3h0m-5.5 3h0m1.5 4.5h0m1 0h0m4.5 2.5h0m-3.5 6.5h0m-2.5 3h0m13.5-86.5h0m-6 1h0m3 7h0m-3 0h0m7 9h0m-4 5.5h0m2.5 19.5h0m-5.5 8.5h0m0 0h0m1 0h0m4.5 0h0m1 1h0m-3 0.5h0m-3.5 1h0m4 1.5h0m2.5 1h0m-2 1.5h0m0.5 0h0m-4 3.5h0m5.5 2.5h0m-7 5h0m7 0h0m-5 6h0m5 1.5h0m-4.5 5.5h0m5.5-97.5h0m1 18.5h0m1 10.5h0m-0.5 1h0m2.5 20h0m2 2.5h0m-6 5.5h0m2 1h0m0.5 9h0m-1 8h0m5 2h0m-3.5 6h0m2.5 1h0m-4.5 2h0m13.5-34h0m-6 15.5h0m-0.5 6.5h0m2.5 0h0m4 11h0m2-9.5h0"/>
<path d="M537.5 771.5h0m23.5 1.5h0m5 9h0m4.5-74.5h0m-1 7.5h0m6 7h0m-5.5 36.5h0m1.5 2.5h0m-3 4h0m4.5 1.5h0m-0.5 10.5h0m3 0.5h0m-5.5 0.5h0m2.5 5h0m2.5 6.5h0m-6 2h0m6 2.5h0m-3.5 0.5h0m3.5 1.5h0m-2.5 1.5h0m6.5-88.5h0m1 3.5h0m-1 4.5h0m2.5 5.5h0m0.5 10h0m0.5 3h0m-4.5 31.5h0m-2 5h0m5 1.5h0m-0.5 3.5h0m-2.5 1.5h0m3.5 1h0m-1 0.5h0m-1 5.5h0m2.5 3.5h0m0 9.5h0m0.5 1h0m8.5-84.5h0m-3.5 8h0m-0.5 0h0m-1.5 1.5h0m4 1.5h0m2 3h0m-6 2h0m2 0.5h0m-2.5 4.5h0m1.5 1h0m0 4h0m4 3h0m-4 4.5h0m4 8.5h0m-2.5 10h0m-1.5 0.5h0m4.5 1h0m-7 8.5h0m1.5 6h0m1.5 6h0m-3 3h0m3 2.5h0m0 0.5h0m-1.5 0.5h0m-1 0.5h0m2 1h0m2 0.5h0m0 3.5h0m0.5 0h0m-1.5 1h0m4 0h0m-1 2h0m1 20h0m-6 0h0m3 1h0m11-115h0m-0.5 3h0m-4 3h0m2.5 3h0m-2 8.5h0m0.5 3.5h0m1.5 0.5h0m-0.5 1h0m-3.5 0h0m2 3.5h0m-0.5 1h0m0.5 0.5h0m-2.5 1h0m2 6h0m4 2h0m-5.5 2h0m4 1h0m1 1h0m-2 4h0m-3.5 0.5h0m2 4h0m-1.5 3h0m2 2h0m-2 3h0m0.5 3h0m-1 4.5h0m6.5 36h0m0 2h0m-3 0.5h0m-1 3h0m-0.5 3.5h0m-2 2h0m4 1.5h0m2 5.5h0m1 0.5h0m-4 9h0m-3 1h0m9-120.5h0m-2 3h0m6.5 0h0m-0.5 4h0m-1 1h0m-4 2.5h0m0 21.5h0m1 1h0m2 6h0m-0.5 0.5h0m2 2.5h0m-3 1h0m-0.5 0.5h0m-0.5 0.5h0m5 1.5h0m-2.5 0.5h0m-2 0.5h0m5 0.5h0m-1.5 1.5h0m-2 0h0m-3 45h0m2 2h0m-1 0.5h0m3.5 0.5h0m2.5 0.5h0m-2 0h0m0.5 1h0m1 1h0m-3.5 2.5h0m-0.5 1.5h0m-2 1.5h0m5.5 1h0m-6.5 1.5h0m1.5 1h0m1.5 5h0m4.5 4.5h0m0.5 2.5h0m1.5-126.5h0m0 1h0m2.5 4.5h0m-2.5 6.5h0m0 0.5h0m2 0h0m0 1.5h0m-3.5 93.5h0m0.5 1h0m0.5 12.5h0m-0.5 2h0m4 2h0m1 0.5h0m2 10.5h0m0.5 2.5h0m3.5-126.5h0m-2 112.5h0m0 1.5h0m2.5 0.5h0m3 1.5h0m-5 0.5h0m-1 4h0m2.5 1.5h0m-3.5 1.5h0m2.5 3h0m-1.5 10h0m9-18h0m-0.5 4h0m6.5 2.5h0m-7 1h0m6.5 1h0m-0.5 0.5h0m-0.5 8.5h0m-2 4h0m5-133h0m4.5 1h0m-4 2h0m2.5 1h0m2 1.5h0m-3 109h0m0.5 1.5h0m-2.5 2.5h0m-1.5 1h0m5 1.5h0m-2 2h0m4.5 1.5h0m-5.5 8h0m11-131.5h0m-2 6.5h0m1 2h0m3.5 2.5h0m-5 106.5h0m5.5 1h0m-0.5 0.5h0m-2.5 1.5h0m1.5 0h0m-4.5 0.5h0m4.5 0.5h0m-6 1h0m8.5-114.5h0m3.5 3h0m-0.5 1.5h0m3 2h0m-3 0h0m-2 103h0m1 0h0m3.5 4h0m-3 0.5h0m3 2.5h0m6-109h0m-1 3h0m4 0h0m-3.5 0.5h0m0 2h0m0 2h0m1.5 0.5h0m-1.5 0.5h0m3.5 2h0m0 2.5h0m-1 36h0m-0.5 4h0m0 1h0m1.5 2h0m-2 43h0m-0.5 0.5h0m-3 0.5h0m3 0h0m1.5 3.5h0m-2 6.5h0m7-103h0m-2.5 0.5h0m3.5 1h0m2 0.5h0m-2.5 4.5h0m1 2.5h0m-2.5 1h0m5 1.5h0m-0.5 2.5h0m0 6h0m-2.5 3.5h0m3.5 2.5h0m-5.5 3h0m4 1h0m-3 2.5h0m-1.5 1.5h0m-1.5 0h0m7 9.5h0m-4 0h0m-1.5 1.5h0m5.5 2h0m-2.5 4.5h0m-3.5 2h0m4 5.5h0m2 2.5h0m-1 1.5h0m-1.5 25.5h0m2.5 2h0m-6 1h0m0.5 7.5h0m0.5 2h0m-2.5 1.5h0m8.5-114.5h0m0.5 17.5h0m5 0.5h0m-3 6h0m3 2.5h0m-2.5 4.5h0m4.5 0.5h0m-0.5 4.5h0m0 2h0m-6 5.5h0m1.5 3h0m1 4h0m3.5 4h0m0.5 4h0m-5.5 8h0m-2 0.5h0m1 0h0m6 4h0m-4.5 2h0m-2.5 3h0m4 1h0m-1 0.5h0m-2.5 0h0m5.5 1.5h0m1 1h0m-1 1.5h0m-1 4h0m0.5 3.5h0m-4.5 16.5h0m-1 8.5h0m0 0h0m5 2.5h0m3.5-86h0m2.5 1h0m-3 1.5h0m0.5 4h0m1 2h0m3.5 1h0m-4 0h0m2.5 5h0m-1 3h0m4 1.5h0m-2 15h0m-4.5 1h0m4 1h0m0 4h0m-3 3h0m6 2.5h0m0 0h0m-2 13h0m1.5 3.5h0m-3.5 1.5h0m-2.5 6.5h0m6.5 2h0m-7.5 0h0m6 5.5h0m-0.5 7h0m1.5 2h0m7.5-76.5h0m-4 36.5h0m5 5h0m-2 3h0m-3.5 2.5h0m5.5 3.5h0m-4 1h0m-2.5 1h0m6 2h0m-2 0.5h0m-3.5 4h0m2.5 1.5h0m0 14h0m5.5-51h0m1 27.5h0m3.5 4.5h0m8-4.5h0"/>
<path d="M555 763.5h0m5 18.5h0m-0.5 21.5h0m8-35.5h0m-0.5 17h0m-1.5 5h0m0 1.5h0m6-87.5h0m4.5 25h0m-7.5 2h0m7.5 0h0m-6 16h0m-1.5 14.5h0m2 2.5h0m3.5 2h0m-0.5 12h0m-2 4.5h0m-2.5 0.5h0m4.5 1h0m-4.5 2.5h0m2.5 6.5h0m3 22h0m2.5-95.5h0m6.5 6h0m-2 12h0m1 0h0m-0.5 3.5h0m-0.5 15.5h0m-1 4.5h0m2 1h0m1.5 7.5h0m-6 2h0m0.5 4h0m4.5 1.5h0m-4.5 2h0m2.5 0.5h0m-2.5 2h0m-1.5 2.5h0m1 0h0m4.5 8h0m-3.5 1.5h0m5 4h0m-4.5 4.5h0m3.5 25h0m8-116h0m-2 1.5h0m-2 7h0m4.5 0.5h0m-2.5 3.5h0m2 1.5h0m-2 0h0m-5 0.5h0m5 1.5h0m-0.5 0.5h0m0 0h0m-2 1.5h0m3 0.5h0m-2 1h0m0.5 1h0m-3 0.5h0m-0.5 3.5h0m5 4h0m-5 0.5h0m7.5 0h0m-0.5 4.5h0m-3.5 0h0m3 9.5h0m0 13h0m0 2h0m-3 2h0m3.5 1.5h0m-7 6.5h0m4 0.5h0m0 3.5h0m-2 1h0m-2.5 3.5h0m1 0h0m1.5 0.5h0m0 2h0m-0.5 1h0m0 3h0m3 5h0m-1 0h0m2 1h0m-2 0.5h0m-3 2h0m1.5 21.5h0m7.5-111h0m4.5 6h0m-3.5 12.5h0m2.5 0.5h0m-1.5 0h0m-3.5 1.5h0m1.5 2.5h0m2 1.5h0m-3 2.5h0m1 1h0m0.5 0.5h0m0 1h0m3 2h0m0.5 2h0m-5 1.5h0m6.5 5.5h0m-6 5h0m5.5 7h0m0 3h0m-5.5 1.5h0m4.5 0h0m-5.5 32.5h0m1 2.5h0m-1.5 0.5h0m2 1.5h0m1.5 0h0m4 1.5h0m-1 4.5h0m-1 0h0m0.5 1.5h0m0 2h0m-3.5 1.5h0m2.5 4h0m-2.5 4h0m9.5-123.5h0m3.5 10h0m-5 7.5h0m4 4.5h0m-4.5 28.5h0m-0.5 3h0m0 0h0m4 2h0m-3.5 1.5h0m3 1.5h0m1 1h0m-4 0.5h0m0.5 1h0m0 1.5h0m1.5 1.5h0m-4 2h0m2.5 42.5h0m4 3.5h0m-1.5 1h0m0.5 1h0m-3.5 3h0m3 1.5h0m-2 0h0m5 0h0m-4.5 3h0m3 3h0m-5 7.5h0m10-112.5h0m0.5 1h0m3.5 1.5h0m-5.5 0h0m-0.5 0.5h0m3 1.5h0m-4.5 93.5h0m0.5 0.5h0m0 2h0m0 4h0m3 2.5h0m-1 0.5h0m3.5 1h0m-2.5 0h0m0 2.5h0m0 1h0m-0.5 3.5h0m1.5 0h0m-2 2.5h0m1.5 6.5h0m9-124.5h0m1.5 0h0m-3.5 5h0m4 1h0m-5.5 107.5h0m4.5 6h0m1.5 1.5h0m0.5 0.5h0m-2.5 1h0m-5 3h0m11-121.5h0m0 0.5h0m2.5 0.5h0m-4.5 0.5h0m0 3h0m3.5 1.5h0m1.5 1.5h0m-3 111h0m1.5 0h0m-3 0.5h0m1 2.5h0m-1.5 0.5h0m-1.5 4.5h0m7.5 1h0m-2 3h0m1.5 3.5h0m1.5-132.5h0m1 2.5h0m2.5 2.5h0m3 4.5h0m-3.5 109h0m-1.5 0.5h0m3 1.5h0m-1 1h0m-1.5 2.5h0m0.5 0h0m3.5 1.5h0m-6 0.5h0m3 1h0m8-114.5h0m1.5 0h0m-2.5 1h0m-2 105.5h0m0.5 2.5h0m6.5 4.5h0m-3 1.5h0m10-107.5h0m-1 0.5h0m0.5 1.5h0m1.5 1.5h0m-1 97.5h0m-5 3h0m4 0.5h0m-4.5 12.5h0m7.5-121h0m1.5 1.5h0m1.5 1h0m2 2h0m-2.5 3h0m2.5 0.5h0m-2 0.5h0m0 3h0m2.5 39.5h0m1.5 6h0m-1 0h0m0.5 2.5h0m-2.5 50h0m-2 5.5h0m1.5 8h0m9.5-105.5h0m-3 4h0m1.5 1.5h0m0 0h0m1 1.5h0m-1 1h0m3 2h0m0.5 1.5h0m0.5 1.5h0m-1.5 1h0m-3.5 8.5h0m2 1h0m-3.5 5.5h0m4.5 1.5h0m-1 1h0m0 0.5h0m-1 2h0m2.5 3h0m-3.5 2.5h0m-2 1.5h0m2.5 1h0m-1.5 1h0m5.5 0.5h0m-5 2h0m0.5 0h0m-2 1.5h0m7 6.5h0m0 27h0m-6 6h0m-0.5 0h0m4.5 0.5h0m-4 1h0m0.5 1h0m1.5 2.5h0m1 0.5h0m-3.5 4.5h0m11-94h0m2 2.5h0m-2.5 12.5h0m-0.5 4h0m2.5 2h0m1 6h0m-1.5 0.5h0m-4 2.5h0m-0.5 3h0m0 0h0m3.5 3.5h0m-1 7h0m-0.5 3h0m-1.5 1.5h0m0.5 7.5h0m1.5 2h0m1 2h0m1.5 0h0m-0.5 7h0m2 1.5h0m0 0.5h0m0 4.5h0m-3.5 7h0m-0.5 2h0m1 0.5h0m2 5h0m-2.5 2.5h0m4 0.5h0m-6.5 2h0m3.5 0.5h0m5-91h0m3 7h0m0.5 1h0m-1 5h0m-2 0h0m2.5 4.5h0m0 5h0m-1 18h0m-0.5 5.5h0m-0.5 2h0m0 3.5h0m1.5 1h0m-2.5 4h0m-2 1.5h0m3 4.5h0m0.5 3.5h0m2.5 3.5h0m0.5 1.5h0m-1.5 2h0m2 20.5h0m1-89h0m3 24h0m2 4h0m2 9.5h0m0 1.5h0m0 8.5h0m-3.5 7.5h0m2 5h0m1 3h0m-5.5 4h0m0.5 0.5h0m0.5 1.5h0m-0.5 1.5h0m6.5 0.5h0m-5.5 8h0m0 7.5h0m6-33.5h0m1.5 15.5h0m6.5-66.5h0"/>
<path d="M547.5 701h0m11-3h0m-3.5 60h0m10.5-28h0m1.5 43.5h0m-6 9h0m10.5-59h0m1.5 5.5h0m0 41.5h0m0 6.5h0m0 2.5h0m-1.5 15.5h0m1 6h0m-3.5 22.5h0m12.5-111h0m-0.5 5h0m2.5 1.5h0m-4 0h0m-0.5 2h0m3 1h0m-3.5 5h0m2.5 7.5h0m-0.5 5h0m3.5 24.5h0m-3.5 1h0m-1.5 5.5h0m-0.5 1.5h0m2.5 5h0m2 0.5h0m-6 2.5h0m4.5 1.5h0m-5 2h0m2 0.5h0m-0.5 5h0m5 2h0m-4 3h0m-1.5 3h0m-0.5 1h0m3 6h0m8-93h0m2.5 1.5h0m-4.5 2.5h0m5 1h0m-0.5 0.5h0m-3.5 8h0m2 2h0m1.5 0.5h0m-2.5 1h0m-1 4h0m4 2.5h0m-1.5 0h0m2 3h0m0.5 1.5h0m-1.5 0h0m-3 0.5h0m4.5 0.5h0m-0.5 1h0m-2.5 3h0m2 2h0m-4 1.5h0m1.5 15.5h0m3 0.5h0m-2 1.5h0m-5.5 6h0m0 1h0m1.5 0h0m0 3h0m5.5 1h0m-2 5h0m0 0h0m-2.5 6.5h0m-1.5 6.5h0m2 0.5h0m0 1.5h0m-0.5 0.5h0m3.5 4h0m1.5 14h0m1.5-98.5h0m1.5 4.5h0m2 5h0m-4 10h0m4 3h0m-0.5 1h0m2.5 6h0m-3.5 1h0m1 0.5h0m1 2h0m2 2.5h0m0 3h0m-3.5 1.5h0m0.5 1h0m-3 3h0m6 3.5h0m-4 0h0m2 0.5h0m-5 1.5h0m4 1.5h0m2.5 1.5h0m-3 2h0m2.5 0h0m-4.5 0h0m3.5 1h0m-4.5 0h0m0 35h0m2 0.5h0m-0.5 2.5h0m6 0.5h0m-2 0h0m0 0h0m-2.5 1h0m3.5 4h0m-3.5 0h0m2 0h0m2.5 7h0m-3 5h0m4-112h0m3 1.5h0m1.5 0.5h0m-1 3h0m-4 4h0m5.5 0.5h0m-2 1h0m0.5 1.5h0m1 31h0m-5 0h0m3.5 0.5h0m-3 2.5h0m3 1h0m0.5 0h0m-1 1h0m3.5 1h0m-1 0h0m-1.5 3h0m-3.5 0.5h0m1 1.5h0m-1 41h0m2.5 2.5h0m-1.5 2h0m0 0.5h0m4 0.5h0m1 0.5h0m-5 5.5h0m4.5 3.5h0m-3.5 0h0m-1 1.5h0m2.5 1.5h0m0.5 2h0m-4 4h0m6.5 3h0m5.5-118.5h0m3 0h0m-3 1h0m-1.5 2.5h0m-1 1h0m-0.5 1h0m5.5 2.5h0m-7 101h0m0.5 1h0m1 0h0m2.5 1.5h0m-1 4.5h0m-1 2h0m3 0h0m-3 1.5h0m8.5-112h0m-2 0.5h0m3.5 0h0m-4 107.5h0m4 4.5h0m-1.5 2.5h0m1.5 0.5h0m5-115.5h0m-1.5 0h0m4.5 4.5h0m0 1.5h0m-3.5 109.5h0m-0.5 3h0m5.5 0h0m1.5 1h0m-7 4.5h0m5.5 3.5h0m-0.5 5.5h0m4-135.5h0m4.5 5h0m-0.5 4.5h0m-4.5 1h0m0 0.5h0m1 0h0m2 1.5h0m0 0h0m3.5 2h0m-3.5 107.5h0m-2.5 0.5h0m1 2.5h0m1.5 0h0m-2.5 1.5h0m3 6.5h0m3.5-122h0m5.5 4h0m1.5 3.5h0m0 2h0m-3.5 103.5h0m-1 0.5h0m0 1.5h0m-0.5 0.5h0m2 1h0m2 0h0m-2.5 3.5h0m3 1.5h0m-4.5 0.5h0m9.5-111h0m2.5 1h0m-2.5 0h0m1 2.5h0m1.5 1h0m1 1h0m-4 101h0m-1 3.5h0m1.5 2h0m9-112.5h0m-3 6h0m5.5 41h0m-1 0h0m0.5 0.5h0m-0.5 5h0m0 2h0m1.5 0.5h0m-0.5 3.5h0m0.5 0.5h0m-1 43h0m-4.5 0.5h0m0 1h0m4 1h0m-4 0.5h0m0 2.5h0m0.5 4.5h0m7.5-101.5h0m-1 1h0m0.5 3h0m-1 1.5h0m2 1h0m1 0.5h0m-0.5 1h0m-0.5 1h0m3.5 6h0m0.5 5h0m-1.5 3h0m-2.5 7.5h0m-2 3.5h0m5 3h0m-4.5 1h0m6 1.5h0m-3.5 0.5h0m0.5 2h0m-3 2h0m2.5 0.5h0m1.5 0.5h0m0 0.5h0m-0.5 5.5h0m-3 0h0m2 1h0m2.5 0.5h0m-2.5 1.5h0m-0.5 2h0m3 5h0m-2 26.5h0m-1.5 3h0m0 3h0m1.5 1.5h0m-3.5 0.5h0m7.5 4.5h0m-5 0h0m-2.5 1h0m1 1.5h0m3 0h0m-1 2h0m1 1.5h0m6-100.5h0m-1 4.5h0m0 4h0m1 5h0m0.5 4h0m1 3.5h0m-0.5 0h0m-1 2.5h0m-1.5 5h0m2 9h0m2.5 1.5h0m-0.5 2h0m-3 7h0m-1.5 1.5h0m4.5 1h0m-2.5 2h0m5 4.5h0m-0.5 0h0m-1 3h0m1 3.5h0m0.5 6h0m-1 3.5h0m0 0.5h0m-0.5 1.5h0m1.5 0.5h0m-4 1.5h0m3 1h0m-4 3h0m-2.5 1.5h0m7 2h0m-3 0h0m1.5 2h0m-1.5 0h0m-3.5 15h0m7.5-111h0m6.5 19.5h0m-6 3h0m4 2h0m-2 22.5h0m-0.5 17h0m0.5 7h0m-1.5 1.5h0m0.5 4.5h0m-1 1h0m1.5 2h0m-1.5 4h0m4.5 4h0m-4 4h0m5 2h0m-6 6.5h0m5.5 9h0m2.5-67.5h0m5.5 2.5h0m1 36.5h0m-4.5 2h0m1 4h0m2 13.5h0m5.5-34h0m5 9h0m-4 6.5h0m2 4h0m0.5 8.5h0m-1 1.5h0m-4.5 5h0m13-13.5h0"/>
<path d="M559.5 714.5h0m-1.5 59h0m-4 2h0m5 13.5h0m7.5-59h0m-4.5 43h0m2.5 24.5h0m11-100.5h0m-3.5 2.5h0m2 4h0m0.5 55.5h0m-6 19.5h0m1 5h0m-1 1h0m3 5.5h0m0 2.5h0m1 4.5h0m2.5 0h0m0 5h0m8.5-76.5h0m-5 15h0m2.5 29h0m-2.5 6.5h0m-2.5 10.5h0m2.5 2h0m-1.5 7.5h0m0.5 2h0m4 2.5h0m-2.5 0.5h0m4.5 0.5h0m-4.5 0.5h0m1 4h0m2.5 2.5h0m-1 0.5h0m-1 8.5h0m5.5-115.5h0m5.5 3.5h0m-6.5 17h0m4 1.5h0m1 3h0m0.5 7h0m-5 2.5h0m3.5 0.5h0m1 2.5h0m1 0h0m-5.5 9h0m5.5 8h0m0 3h0m-5 7h0m-2 4.5h0m7 1.5h0m0.5 1.5h0m-2.5 1.5h0m2 2h0m-2 3.5h0m0 0.5h0m-2 1.5h0m-3 6.5h0m1 1h0m1 3h0m1.5 0.5h0m-0.5 2h0m-1 3h0m5 1h0m0.5 3.5h0m-1 5h0m-2.5 9.5h0m3 21.5h0m6-126h0m-4 1.5h0m5 1.5h0m-0.5 1.5h0m-2 1h0m3.5 0.5h0m-6 0.5h0m2.5 1.5h0m-0.5 0.5h0m2.5 1h0m-3 5h0m3.5 3h0m-4 5.5h0m1 4h0m0 0.5h0m-2.5 0.5h0m3 6h0m3.5 0h0m0 3h0m-2.5 4.5h0m3 4h0m-0.5 0.5h0m-5.5 2.5h0m5 1.5h0m-1.5 5h0m-0.5 1h0m1 1.5h0m-4.5 3h0m2.5 31.5h0m-1.5 4h0m-1.5 3.5h0m3 0h0m0 1h0m4.5 14.5h0m-1 1h0m1.5-107h0m6 0h0m-5.5 0.5h0m2.5 0h0m1.5 0.5h0m-1 0h0m0.5 1.5h0m2.5 0h0m1 2h0m-3.5 0.5h0m-3 1.5h0m1 0.5h0m-1.5 21h0m0 1h0m2.5 2.5h0m0.5 3h0m0.5 3.5h0m-2.5 0.5h0m1.5 0.5h0m3 1h0m-3.5 2.5h0m-1 1h0m0.5 46h0m2.5 11.5h0m0.5 3h0m-3.5 5.5h0m3.5 0.5h0m7-109.5h0m3.5 2.5h0m-3.5 1h0m-4 98.5h0m3.5 3.5h0m0.5 0.5h0m0.5 1h0m-2 0h0m1.5 2h0m-2.5 3.5h0m-0.5 2h0m14-118h0m-7 0.5h0m1.5 0.5h0m1.5 3.5h0m2.5 3h0m-3.5 0h0m2.5 0.5h0m-4 108.5h0m0 3h0m2 0.5h0m1.5 0h0m3 1h0m-0.5 8.5h0m-3.5 7h0m5.5-150h0m4.5 18.5h0m-4.5 0.5h0m1.5 4h0m4.5 0.5h0m-4 1h0m0.5 0h0m2.5 0.5h0m-2 112h0m4 2h0m-3.5 1.5h0m2.5 1h0m0.5 0h0m-5.5 4h0m6.5-129.5h0m4 3.5h0m-4.5 4.5h0m5.5 0h0m-0.5 1.5h0m-3.5 1.5h0m4.5 2h0m-3 111h0m2 1h0m-3 2.5h0m0.5 1.5h0m4.5 3.5h0m-2.5 10h0m4-134h0m1.5 5h0m5.5 1h0m-4 4.5h0m2 0.5h0m1.5 107h0m-5.5 3.5h0m5 0.5h0m-4 3.5h0m0.5 7.5h0m-2 2h0m7.5-131.5h0m2.5 3.5h0m-1.5 4.5h0m1 2.5h0m3.5 2.5h0m-1 0h0m1.5 2.5h0m0 100h0m-2 3.5h0m-3.5 14.5h0m8-117h0m1.5 0.5h0m-2.5 0h0m2 0.5h0m1 1h0m1.5 2h0m3.5 0.5h0m-3.5 0h0m2.5 1h0m-2.5 0h0m0.5 0.5h0m2.5 2.5h0m-0.5 38h0m-4 51h0m-1 0.5h0m3 1h0m-1.5 0.5h0m-2.5 3.5h0m0 5.5h0m12.5-107h0m-1 3h0m-4 2.5h0m-0.5 0h0m1.5 0h0m3 1h0m-3 1h0m-1.5 1h0m6 6.5h0m-2 0.5h0m0.5 0h0m2.5 3.5h0m0.5 7h0m-1.5 3h0m-1 1.5h0m-3 2.5h0m4 4.5h0m-1.5 0.5h0m0.5 3h0m2.5 0h0m-6 1h0m5.5 4h0m-6 3h0m4.5 7.5h0m1.5 6.5h0m0 27h0m-4 2h0m0 1h0m3 3.5h0m1.5 3.5h0m-4.5 5h0m3.5 1.5h0m-3.5 0h0m-1.5 9.5h0m12-98.5h0m-1.5 0h0m2 8h0m-3 2h0m4 1h0m-2 0.5h0m0.5 0.5h0m-1.5 5.5h0m-3.5 0h0m0.5 1.5h0m-0.5 1.5h0m5.5 0h0m-5 2.5h0m-0.5 2.5h0m5.5 0.5h0m0 0.5h0m-3.5 1h0m1.5 0.5h0m-3.5 8h0m2.5 4.5h0m-0.5 1.5h0m4 5h0m-6 1h0m-0.5 0.5h0m8 0h0m-3.5 1h0m-3.5 0.5h0m1.5 1h0m1.5 4.5h0m3.5 2h0m-2 3h0m-1 8h0m0.5 0.5h0m-1.5 0h0m3.5 1.5h0m0.5 4h0m-4.5 0.5h0m2.5 3h0m1 5.5h0m9-84h0m-5.5 3h0m0.5 6h0m2.5 3h0m-4 0.5h0m1 1.5h0m-2 0.5h0m0.5 3.5h0m7 2h0m-2 1.5h0m-3.5 11.5h0m-1 3h0m6 9.5h0m-3.5 5h0m-2 7.5h0m-0.5 1.5h0m0.5 0h0m1.5 1.5h0m3 3.5h0m-2.5 0h0m2.5 1h0m-2.5 2.5h0m3.5 1h0m-3 0.5h0m2 1.5h0m-3 0.5h0m1.5 2h0m-2 0h0m4.5 4h0m-2.5 1h0m3 9.5h0m-3.5 2h0m6.5-96.5h0m-2.5 18.5h0m2.5 19h0m0.5 9h0m-1.5 27h0m0 1h0m1.5 2h0m4 4h0m4.5-21h0m-1 10.5h0m-2 3h0m-0.5 0h0m1.5 11h0m0 0.5h0m9-42h0"/>
<path d="M548.5 776h0m7 22.5h0m8.5-44h0m-1.5 8h0m0.5 10.5h0m0 25h0m0 1h0m8.5-79h0m0.5 1.5h0m3.5 51h0m-4 2h0m3 8h0m-5.5 1.5h0m0.5 1h0m6 4.5h0m-3 2h0m3.5 2h0m-0.5 1h0m0.5 15.5h0m7-91h0m-3.5 2.5h0m-2.5 1h0m7 2h0m-2 2h0m-3 8h0m0.5 31h0m-1 6.5h0m0 7h0m4.5 2h0m0.5 4h0m-3 0.5h0m2 2.5h0m-3.5 0h0m3.5 3.5h0m-6.5 6.5h0m4.5 1h0m0.5 1.5h0m4-82.5h0m3.5 1h0m-1 2.5h0m-1.5 0h0m5 6h0m-3.5 0h0m0.5 2h0m4 1.5h0m0 0h0m-6 1h0m5 0.5h0m-3 1h0m2 1h0m-0.5 0.5h0m2 2h0m-1 10.5h0m-0.5 0h0m-3 3.5h0m3 6h0m-5.5 10h0m1.5 2h0m4 1h0m-2 0.5h0m-3.5 3.5h0m4 1h0m2 1h0m0 1.5h0m-0.5 3.5h0m-1 0.5h0m-1.5 6.5h0m-2.5 2.5h0m0 1h0m1.5 0h0m1 2h0m-1 2.5h0m-2 1h0m6.5 2.5h0m-6 0.5h0m1 2.5h0m5.5 0.5h0m-1.5 2h0m-0.5 1.5h0m1.5 1h0m0 3h0m-3.5 0.5h0m-1.5 10.5h0m9.5-100h0m-1.5 0.5h0m3 8.5h0m1 0.5h0m-6 1.5h0m1.5 0.5h0m0 2h0m1.5 3h0m-1 1h0m3 3h0m0 3.5h0m1.5 1h0m-3 1h0m0 0.5h0m-2 2h0m0 7.5h0m4 1.5h0m-1.5 1h0m1 11h0m-4 2.5h0m0 30h0m0.5 9h0m4 0.5h0m2 0.5h0m-5.5 0.5h0m5 2.5h0m-4.5 4h0m4 3h0m-4.5 0h0m-1.5 4.5h0m4.5 3.5h0m-0.5 1h0m1 1.5h0m2.5-128.5h0m6 12h0m1 2.5h0m-2 3.5h0m-2.5 4h0m-1 1h0m-1.5 19.5h0m3 5h0m-2 2h0m5 9h0m0.5 2h0m-2 1h0m-3 2h0m5 47h0m-0.5 0.5h0m-1.5 1.5h0m-3.5 0.5h0m1.5 2.5h0m-1 3.5h0m4 2.5h0m-4.5 4h0m3.5 0h0m2.5 0h0m0 0.5h0m-6 3h0m3.5 2.5h0m-1.5 1h0m11-119h0m0.5 3h0m-2 0h0m-1.5 4.5h0m-1 0h0m-0.5 102h0m-1.5 2h0m4.5 4h0m-1 0h0m0.5 5h0m3.5 1.5h0m-1.5 2.5h0m3.5-117h0m-0.5 0.5h0m2 0.5h0m-0.5 109h0m0.5 0.5h0m2.5 1h0m6-117h0m0 6h0m-3.5 3h0m6.5 0.5h0m-0.5 114.5h0m-4 0.5h0m3.5 2h0m-1 10h0m4-128h0m3 1h0m-2 4.5h0m4 2.5h0m2.5 1h0m-7.5 105.5h0m2.5 2.5h0m-2 0.5h0m-1 2h0m4 4.5h0m-3.5 3h0m0.5 5.5h0m8-130h0m6 7.5h0m-4 108.5h0m-1 1.5h0m0.5 3h0m4 0h0m-3 1.5h0m-2 4h0m3 5.5h0m5.5-118h0m1.5 2h0m4.5 4.5h0m-5.5 98h0m-2.5 0h0m7 1.5h0m-4 0.5h0m-1 1.5h0m1 0.5h0m0 2.5h0m1 2h0m3.5 5h0m5-121h0m-3.5 0.5h0m6 7.5h0m-6 1.5h0m1 0.5h0m3.5 1.5h0m-1 0h0m-1.5 0.5h0m3 3.5h0m-1.5 37h0m2 0.5h0m-1 2.5h0m1 4.5h0m0.5 44.5h0m0 2.5h0m-7 0h0m5.5 1.5h0m-3.5 5h0m9-100.5h0m-1.5 2.5h0m3.5 1.5h0m1 0.5h0m-4 1h0m1.5 2.5h0m0.5 2h0m1.5 2h0m0 1h0m1 1h0m1 1h0m0.5 0.5h0m-1 4.5h0m0 1h0m-0.5 0.5h0m-1 5.5h0m0.5 1.5h0m-4 3.5h0m-1 1h0m0 0h0m6.5 0.5h0m-1 1.5h0m-2 0h0m0 1.5h0m-4.5 3h0m5.5 3.5h0m-2.5 2.5h0m4 3.5h0m-1 2h0m-3.5 3.5h0m3 0.5h0m-1.5 0h0m0.5 1h0m2 2.5h0m0.5 1.5h0m-1.5 27.5h0m0 5h0m-1 0.5h0m-4 2.5h0m0 3.5h0m8-97h0m2 9.5h0m1.5 5h0m4 0.5h0m0 0.5h0m0 6h0m-2.5 0.5h0m2.5 2h0m-3 1h0m3 1h0m-4.5 0.5h0m-0.5 1.5h0m0.5 1h0m0 1h0m0.5 1h0m-3 6h0m0 2.5h0m0.5 2.5h0m-1.5 1.5h0m4 5.5h0m-2.5 0.5h0m4.5 4.5h0m-1 3h0m0 0h0m-3 0.5h0m0.5 7h0m1 0.5h0m1.5 2h0m2 2h0m-1.5 3.5h0m0.5 3.5h0m0.5 8h0m-2.5 0.5h0m2.5 0h0m1 1h0m-4.5 2h0m3 3.5h0m0.5 1.5h0m4.5-92.5h0m-2 4h0m-0.5 14h0m7 1.5h0m-6 3h0m1.5 6h0m0.5 12.5h0m3 0.5h0m-2 8h0m-1.5 2.5h0m2.5 0.5h0m-4 7h0m6 3.5h0m-3.5 6h0m0 2.5h0m0 2.5h0m4 0h0m-6 4h0m-0.5 0h0m4 1.5h0m1 3.5h0m-4 0.5h0m4.5 2h0m-6 2.5h0m5.5 2.5h0m0.5 0.5h0m-5.5 3h0m2 1.5h0m4.5 4h0m2.5-64.5h0m-2.5 0h0m1 13.5h0m-0.5 20.5h0m4 6.5h0m1 3h0m-2.5 0.5h0m1.5 0.5h0m1.5 0h0m-3 7.5h0m6-30h0m1.5 14.5h0m-1 7h0m6 14.5h0m3-12h0"/>
<path d="M541 684.5h0m-0.5 109.5h0m25-98h0m2.5 22.5h0m-2 6h0m1 0h0m0.5 32.5h0m-4 7h0m6-66h0m5 28h0m-1 5.5h0m-3.5 24.5h0m-1.5 5.5h0m1.5 8h0m0.5 0.5h0m0.5 2.5h0m4 11.5h0m-4.5 8.5h0m1.5 10h0m5-91h0m4 4.5h0m-3 7h0m-1.5 6h0m0 1h0m5 11h0m0.5 22.5h0m-3.5 4.5h0m-0.5 5.5h0m5 2h0m-1.5 2.5h0m-4.5 5.5h0m4.5 1.5h0m2 3h0m-6.5 0.5h0m6.5 8h0m-0.5 1.5h0m-1.5 0.5h0m10.5-83.5h0m-3 2h0m2.5 3.5h0m-1 1.5h0m0 0.5h0m-3.5 3h0m5 0.5h0m-4.5 1h0m0 2h0m3.5 1.5h0m-5 0.5h0m4.5 0h0m-1 3h0m0 3.5h0m1 3h0m0 1.5h0m-4.5 0.5h0m1.5 3h0m1 1h0m1.5 0h0m-2.5 0.5h0m0 2.5h0m3.5 2.5h0m-3.5 1h0m-1 0.5h0m4.5 6.5h0m-3 14h0m-3 0.5h0m2.5 2h0m-1 0h0m4.5 0.5h0m-6.5 3h0m2 0.5h0m1.5 4.5h0m-2.5 0h0m-0.5 0.5h0m2.5 4h0m0 2h0m-3 0h0m0 2h0m0 2h0m5 2.5h0m-3.5 1.5h0m4 1.5h0m1.5 16h0m-1 1.5h0m0 1.5h0m-1 25.5h0m5-126.5h0m2 2.5h0m-3.5 1h0m4.5 2h0m0.5 7.5h0m-2.5 5h0m1 6h0m-2 1h0m1.5 0h0m1 0.5h0m-4 4h0m-1 0h0m0 3h0m6 11.5h0m-1 0.5h0m0 1h0m2 3h0m-4.5 4.5h0m-1.5 2.5h0m0 29h0m0.5 1h0m-1 2h0m4.5 0.5h0m1 9h0m-3 22.5h0m1.5 3.5h0m4.5-125h0m7 0.5h0m-2 0h0m-5 1h0m2.5 0.5h0m1.5 2.5h0m-4 1h0m2 5.5h0m-2.5 21h0m0 1.5h0m2 7h0m0.5 1.5h0m-0.5 3.5h0m2 0h0m-3.5 1h0m4.5 0.5h0m-3 1h0m3.5 1.5h0m-5.5 0.5h0m0.5 46.5h0m0.5 2h0m-1 0h0m6 5.5h0m-5 4.5h0m4 0h0m-2.5 2.5h0m-2.5 0.5h0m1.5 2h0m3 1h0m-1 1h0m4 5h0m-6.5 1.5h0m8-121h0m0 4.5h0m1.5 3.5h0m-0.5 0.5h0m-2.5 97h0m3 4.5h0m-2.5 0h0m2.5 2h0m2 0.5h0m-1 0h0m-4 1.5h0m6 0.5h0m-0.5 0h0m2 2h0m0 3h0m-2 1.5h0m-3 1h0m5 4.5h0m0.5 1.5h0m5-125h0m-1 0h0m-3.5 2.5h0m3.5 0.5h0m-2 1.5h0m4 0h0m-5 0.5h0m5.5 0.5h0m-5.5 1h0m1.5 109h0m-2 3h0m1 2h0m1.5 1h0m5 0.5h0m-4 1.5h0m2 1h0m-3 3.5h0m5 11.5h0m8-129.5h0m-0.5 3h0m-3 109h0m7-116.5h0m-3 2.5h0m1 6h0m0.5 109.5h0m0.5 0.5h0m4 2h0m0.5 1h0m-6 4h0m2 5.5h0m8-123.5h0m-2.5 1h0m5.5 5.5h0m-2 0.5h0m4 2h0m-4 105h0m-3.5 1h0m0.5 4h0m6 0.5h0m-7 0.5h0m5 3h0m-3 1.5h0m2 4h0m6-124.5h0m0 4.5h0m0.5 1.5h0m1 2h0m0 1.5h0m0.5 0.5h0m4 0.5h0m-2.5 0.5h0m2 2.5h0m-6 101.5h0m3 4h0m-3.5 4h0m8.5-117h0m2.5 10h0m0.5 1.5h0m2.5 36h0m-1 58h0m1.5 2.5h0m-0.5 2h0m-4.5 1.5h0m3 2h0m2.5-108h0m2 5h0m0 7h0m2 0.5h0m1.5 0.5h0m-3 2h0m4 0.5h0m-3.5 0h0m2 0.5h0m2.5 11h0m-2 5h0m-1.5 0.5h0m1.5 2.5h0m1.5 0.5h0m-5.5 2.5h0m3.5 1.5h0m-1.5 0.5h0m-0.5 11.5h0m0 5h0m-1 2.5h0m6 2.5h0m-3 1h0m-2 0.5h0m1.5 0.5h0m3 0.5h0m-0.5 2.5h0m-2.5 27h0m-1 0.5h0m0.5 0.5h0m-0.5 0h0m3 6h0m-4.5 0.5h0m5.5 1.5h0m-2.5 0h0m-1.5 2h0m2 3h0m1.5 10.5h0m2-116h0m6.5 14.5h0m-5.5 0.5h0m-1 2.5h0m3 7.5h0m-1.5 3.5h0m4 2h0m0.5 3h0m0 0.5h0m-6.5 0.5h0m0 0h0m2 1h0m1 4.5h0m-3.5 2h0m5 6h0m-0.5 6.5h0m-1.5 4.5h0m5 5.5h0m-6.5 0.5h0m2.5 0.5h0m1.5 1h0m0.5 0h0m-4.5 0.5h0m4.5 1h0m-4 2.5h0m0.5 0.5h0m1 0.5h0m1 1h0m1.5 8h0m1.5 3.5h0m-2.5 3h0m-1.5 1h0m2.5 0.5h0m1.5 0.5h0m-3 2.5h0m1 8h0m-2 7.5h0m10.5-86h0m-4.5 9.5h0m1 1h0m2 5.5h0m-0.5 0.5h0m2.5 2.5h0m-2.5 1h0m2 8h0m-2.5 2h0m2.5 5h0m-0.5 3h0m-1 6h0m-3.5 1.5h0m-0.5 1h0m0 2h0m0.5 3.5h0m0 6h0m4.5 0h0m-3.5 3.5h0m1 7.5h0m1.5 2.5h0m-1 0.5h0m-1.5 3h0m4.5 3h0m1.5 0h0m-7.5 3.5h0m1.5 0.5h0m9.5-69h0m-1.5 12.5h0m0 17h0m2.5 11h0m3 4.5h0m-4.5 1h0m-2 2h0m4 2.5h0m-1.5 1h0m-2.5 2.5h0m6.5 0h0m-0.5 2h0m-6.5 5.5h0m9.5-14h0m7 9.5h0"/>
<path d="M559.5 779h0m-2 36.5h0m10-99.5h0m-1.5 4h0m-4.5 22.5h0m7.5-30.5h0m5.5 12h0m-4.5 1.5h0m2.5 10.5h0m-2.5 26h0m1 3.5h0m-1 6h0m5.5 4.5h0m-6 1h0m5.5 12h0m-1 4h0m-4.5 34h0m13-112.5h0m-0.5 1.5h0m-4.5 3h0m5 1h0m-3 2h0m-3.5 3h0m6.5 5.5h0m-5 29.5h0m1.5 8.5h0m2.5 4.5h0m-2.5 7.5h0m5 8.5h0m-2.5 4h0m-2 0h0m3 4.5h0m1 1h0m-6.5 1.5h0m3.5 0.5h0m4.5-94.5h0m2.5 9h0m-2.5 1h0m6 5.5h0m-1.5 0.5h0m-0.5 2h0m-4 3.5h0m6.5 0.5h0m-2 6.5h0m-1.5 1.5h0m2.5 2h0m-2 0.5h0m3 4h0m-4.5 7h0m-2 22h0m4.5 1h0m1 0h0m0.5 0h0m-5.5 0.5h0m5.5 1h0m1 2h0m-7 0h0m5 3.5h0m-1.5 0.5h0m-2 0.5h0m-1.5 4h0m1.5 1.5h0m-0.5 8h0m1.5 1.5h0m0 0h0m0.5 1h0m-2.5 5.5h0m5.5 1.5h0m-6 0.5h0m3 1h0m2 0.5h0m1 15.5h0m-2.5 3h0m9.5-111h0m-2.5 5.5h0m2 2h0m-1 11h0m1 0h0m-5.5 4.5h0m2.5 0h0m0.5 1h0m0.5 3h0m-0.5 3.5h0m1.5 4.5h0m-2 1h0m1 1.5h0m-3 0.5h0m1.5 1h0m0 1.5h0m1 0.5h0m-1 0h0m1 1.5h0m0 0.5h0m1.5 1h0m-0.5 3h0m2.5 3h0m-2 6h0m2.5 1.5h0m-2.5 36h0m-4 0.5h0m2.5 1h0m3.5 1.5h0m0 1.5h0m-0.5 0.5h0m1.5 0h0m-1.5 3.5h0m-4 5h0m2.5 2.5h0m-4 0.5h0m6 2h0m6-107.5h0m-2.5 4h0m2 3h0m-1.5 0h0m-0.5 1.5h0m-1.5 25.5h0m0 5.5h0m2 1h0m-1 6h0m4.5 1h0m0 1.5h0m-4.5 1.5h0m0 1h0m0.5 45h0m4 0h0m-5.5 0.5h0m4.5 3h0m2.5 2.5h0m-4 3h0m1.5 1.5h0m-3.5 0h0m2 0.5h0m3 0h0m0 4h0m-2 1h0m3 2.5h0m-5.5 8.5h0m7.5-122.5h0m2.5 6.5h0m-4 97h0m2.5 7h0m-2 1h0m6.5 4.5h0m0.5 0.5h0m-2.5 0h0m-2.5 0.5h0m0 0.5h0m3.5 5.5h0m6.5-118h0m0 3h0m-0.5 0.5h0m-1.5 110h0m0.5 0.5h0m-2.5 0h0m7 3h0m-2.5 1h0m-3.5 1.5h0m1 5.5h0m3.5 0.5h0m-3 3h0m-2 5h0m8-131h0m1.5 2.5h0m-2 0.5h0m0.5 0.5h0m4.5 0.5h0m0.5 0h0m-1.5 0.5h0m1.5 1h0m1.5 2.5h0m-7 107h0m4.5 3h0m-2 1h0m2 0.5h0m2 0.5h0m-4.5 5.5h0m4.5 2h0m-5.5 6h0m14.5-126h0m-2 0.5h0m-1 0.5h0m3 4.5h0m-6 106h0m-2 0h0m7.5 3h0m-4.5 0h0m3.5 1.5h0m-3 0.5h0m-3 0.5h0m4 7h0m1.5 0.5h0m6.5-130.5h0m3 14.5h0m-0.5 1h0m-6 106h0m4 1h0m1 1h0m-3.5 1h0m-1 5h0m4 0h0m5.5-124h0m4 6.5h0m0.5 0.5h0m-3.5 0.5h0m2.5 10.5h0m-5 97.5h0m5.5 4h0m-2 1h0m2 9h0m7.5-122.5h0m1 5.5h0m-2.5 10h0m2.5 3.5h0m0 31h0m-0.5 0.5h0m1 2.5h0m-2.5 0h0m-0.5 2h0m2 1h0m0 1.5h0m0.5 7.5h0m-7 43.5h0m4.5 2.5h0m-2 0.5h0m1 0.5h0m0 3h0m8-110h0m-1.5 1.5h0m1.5 4h0m0 4.5h0m3.5 5h0m-1 4h0m1 1h0m-3 3.5h0m1 1h0m1 0.5h0m-2 8h0m2 1.5h0m-1 1.5h0m-1.5 2h0m0.5 1h0m2 3.5h0m0.5 3h0m-2 8.5h0m1 2.5h0m-4.5 1h0m-1.5 0.5h0m1.5 3h0m6 1h0m-2 1h0m-2.5 2h0m0.5 1.5h0m4.5 0.5h0m-2.5 0h0m0.5 2h0m1.5 1.5h0m0 1.5h0m0 29h0m-6.5 0.5h0m-1 3h0m6 2h0m-5 6h0m-0.5 1h0m4.5 1.5h0m-2.5 6h0m5.5-96.5h0m3.5 1h0m-2.5 1h0m4 1h0m-1.5 3.5h0m-0.5 2h0m3 0h0m-4.5 1h0m4 4h0m0 0h0m-5 7.5h0m6 0.5h0m1 7.5h0m-7 5.5h0m6 1h0m-0.5 2.5h0m-2.5 4h0m-3 4.5h0m0.5 4.5h0m1 1h0m3.5 1h0m0.5 2.5h0m1.5 6h0m-1.5 2h0m2 3h0m-1 0h0m-5 5h0m-0.5 1h0m4.5 0h0m-1 2h0m-4 0.5h0m4.5 3.5h0m-3.5 1h0m0.5 2h0m4 0.5h0m-3 7.5h0m8-90h0m2.5 15.5h0m-2 2h0m-4 2.5h0m6.5 3.5h0m-4 8h0m5 15.5h0m-3 3h0m2 0h0m-5.5 2h0m-0.5 1h0m2 2.5h0m3.5 0.5h0m-1 6.5h0m-0.5 1.5h0m-2.5 0h0m6 4.5h0m-1.5 1.5h0m0 0.5h0m-6 1.5h0m1 1h0m5 0h0m-2 5.5h0m-2.5 3.5h0m3 11h0m8.5-57h0m-5.5 1.5h0m3.5 1.5h0m-0.5 3.5h0m1.5 10h0m-2 17.5h0m5 11h0m-7 3h0m0 6.5h0m14.5-30.5h0m-3 6.5h0m-2 0.5h0m6.5-26.5h0m1 20h0m0 8h0m1.5 4.5h0"/>
<path d="M549.5 775h0m-3 5h0m17.5-9.5h0m4 7h0m-3 3.5h0m-1 9.5h0m8-28h0m0 23.5h0m3.5 9.5h0m-1 4h0m1.5 0h0m1-89h0m1 16h0m1 3.5h0m3.5 27h0m-6 6h0m7.5 5.5h0m-7 7h0m4 5.5h0m-4 0h0m4.5 6.5h0m-0.5 2.5h0m-0.5 0.5h0m2.5 1.5h0m-4 2h0m-1 2h0m3.5 0h0m1.5 1h0m-3.5 1h0m-1.5 0.5h0m4 6h0m8.5-96.5h0m0.5 11h0m0 3.5h0m-1.5 1h0m-0.5 1h0m0.5 1h0m2 0.5h0m-4.5 3h0m2 1h0m1 0.5h0m-2.5 1.5h0m1 0h0m1 0h0m0.5 2.5h0m2 23h0m-4 4h0m2.5 7.5h0m0.5 2h0m-3.5 3h0m0.5 0.5h0m-1.5 1.5h0m2 1h0m2.5 0h0m-3.5 6.5h0m-1 8.5h0m1.5 6.5h0m3 6.5h0m0 0h0m-3.5 1.5h0m4.5 2.5h0m-2.5 5.5h0m-5 6.5h0m12-114h0m0 11h0m-1 4h0m-1 2h0m3 1h0m-3.5 1.5h0m4 4h0m-3.5 0.5h0m-1.5 3h0m2.5 0h0m-0.5 5h0m2 1h0m-3.5 1.5h0m3 0.5h0m-3.5 0h0m3.5 3h0m2 0.5h0m-4 3h0m0 1h0m5 3h0m-2.5 4h0m-2 4.5h0m-1.5 2.5h0m-0.5 0.5h0m4 1h0m1.5 1h0m1 0.5h0m-2.5 1h0m-3.5 4.5h0m-1 2h0m0.5 28.5h0m2 6h0m5 1.5h0m-3.5 2h0m1.5 7h0m-4.5 6h0m1 3h0m3.5 2.5h0m-2 0.5h0m-1.5 0.5h0m0.5 1h0m0.5 1.5h0m2.5 7.5h0m7-121.5h0m-0.5 1h0m-3.5 3.5h0m2 0h0m-2.5 0.5h0m3.5 2h0m-1.5 0.5h0m-2.5 23h0m0.5 3h0m1.5 1h0m1 1h0m1.5 2h0m-1 7h0m-2 2.5h0m2.5 1h0m1 45h0m-1.5 3.5h0m2 0h0m-0.5 0.5h0m-2.5 3h0m-1 1.5h0m6.5 1h0m-5 1h0m0.5 0.5h0m1 1h0m1.5 7.5h0m-4.5 2h0m10.5-111.5h0m0 1h0m1 3h0m-5 90.5h0m0 1.5h0m2.5 8h0m0 0.5h0m-1 3.5h0m-1.5 1.5h0m4.5 1h0m-1 1.5h0m1.5 2.5h0m3 1h0m-5 0h0m2 1.5h0m0 1.5h0m1 6.5h0m9.5-128h0m-4.5 1h0m-1 4h0m-0.5 1h0m3.5 1h0m-1 1.5h0m2 0.5h0m-3.5 107h0m-2 0.5h0m6.5 8.5h0m0 1.5h0m-3 3h0m1 0h0m1.5 8h0m6-127.5h0m-3.5 117h0m5.5 0.5h0m-1 2h0m1 2h0m5-120.5h0m-2 0h0m5.5 1h0m-3.5 1h0m4 2h0m-7.5 110h0m0 2h0m3 0.5h0m-1 2h0m2.5 6h0m9-117.5h0m-1.5 0h0m-3 109h0m2.5 3.5h0m4 0.5h0m-3 1h0m-1.5 4h0m1 0h0m-2 10.5h0m7.5-128h0m5.5 4h0m-0.5 0.5h0m-2.5 0.5h0m2 1h0m1.5 0.5h0m-5 1h0m4.5 2h0m1 0.5h0m-7.5 100h0m6 0.5h0m-2.5 0h0m1 1h0m1 0.5h0m-4.5 3.5h0m2.5 0h0m1.5 7.5h0m4-112.5h0m1 1h0m2 1.5h0m1.5 3.5h0m1.5 3h0m0 1h0m0 2.5h0m0.5 28h0m-1.5 4.5h0m1 8h0m-0.5 44h0m-2 1h0m-1.5 1h0m-1.5 0.5h0m5.5 0.5h0m-7 1h0m1.5 1.5h0m4 12.5h0m5-123h0m2.5 11h0m1.5 5.5h0m-5 2h0m5 1.5h0m-3.5 0.5h0m-0.5 3.5h0m1.5 3.5h0m0 1h0m0.5 3h0m1 5h0m-1 0h0m-0.5 0.5h0m0.5 2h0m-1 1h0m0 4.5h0m-0.5 0.5h0m0.5 0h0m3 1.5h0m-5 0.5h0m5.5 0h0m-6 0h0m2.5 1h0m-3 1h0m4 2.5h0m-3.5 2h0m5.5 0.5h0m-1 2.5h0m-0.5 6.5h0m-4 2h0m-0.5 0.5h0m0.5 1.5h0m2 2h0m0.5 3.5h0m1 1h0m2.5 33h0m-5 0.5h0m1.5 1h0m-1 2h0m2 2h0m-2 13h0m12-106.5h0m-0.5 7h0m-1.5 0.5h0m-0.5 1h0m-4.5 3.5h0m2.5 3h0m1 10.5h0m3.5 1.5h0m-1 0h0m-0.5 6h0m-2.5 0.5h0m-1.5 0.5h0m1 4h0m5 1.5h0m-1 5.5h0m1.5 4h0m-6 1.5h0m0 1h0m2.5 0.5h0m1 2.5h0m0 4h0m-2 0.5h0m-2 1h0m3 2h0m-2 0.5h0m4 0h0m-0.5 2h0m0 11.5h0m-2.5 3h0m-0.5 10h0m1.5 1.5h0m7.5-77h0m-3.5 2h0m5.5 2h0m-4.5 2h0m1.5 9h0m-2 1h0m3.5 0.5h0m-1 2h0m3.5 0.5h0m-0.5 23.5h0m-2.5 2.5h0m2 0.5h0m-0.5 3.5h0m-3 0h0m0.5 2h0m0.5 3h0m3 2.5h0m1 0.5h0m-5 3h0m3 1h0m-3 6.5h0m-1.5 1h0m1 2.5h0m-2 4h0m1 0h0m2 3h0m-1.5 1.5h0m1 0h0m-1.5 0.5h0m7-84.5h0m2.5 17.5h0m-0.5 1h0m2 10.5h0m2 25h0m-6 2.5h0m2 3h0m0.5 1.5h0m4.5 2.5h0m-5.5 1h0m3.5 14.5h0m2 0.5h0m-3.5 11h0m9.5-34.5h0m2 9.5h0m-3.5 1.5h0m5.5 21h0m7.5-11.5h0"/>
<path d="M561 787.5h0m4.5 4.5h0m2.5 4h0m-0.5 1.5h0m7.5-53h0m-6.5 30.5h0m5.5 4h0m-6 0.5h0m4.5 1h0m-2.5 2.5h0m4.5 2h0m-0.5 3.5h0m-1.5 2h0m5.5-79.5h0m1.5 18.5h0m-1 0h0m4.5 3.5h0m0 5.5h0m-1.5 3h0m0.5 8h0m-0.5 6.5h0m1.5 7h0m-0.5 1.5h0m-1 8.5h0m-2.5 1.5h0m0 1h0m-1.5 2.5h0m-1 2h0m4.5 0.5h0m-0.5 6.5h0m-2 3h0m1 3.5h0m0 7h0m-2.5 2h0m4.5 0h0m-5 2h0m5.5 0h0m-3.5 3.5h0m0 0h0m3.5 3.5h0m-4.5 15h0m11.5-114h0m3 5.5h0m-2 3h0m-3 3.5h0m5 7h0m-6 2.5h0m4.5 0h0m-2 2h0m-3 3.5h0m0.5 4h0m3.5 0.5h0m-0.5 5.5h0m0 4h0m-1.5 5.5h0m1.5 0.5h0m2 4.5h0m-5.5 2.5h0m4 3.5h0m-3.5 0h0m5.5 2h0m-2.5 2.5h0m-2.5 2h0m3 0.5h0m-3.5 6h0m1.5 3h0m-1 4.5h0m-1.5 1.5h0m-0.5 4.5h0m5 5h0m0.5 0.5h0m0.5 0h0m1.5 1.5h0m0 0.5h0m-0.5 1h0m-6 0.5h0m0.5 13h0m11-104.5h0m-1.5 2h0m-2 5h0m6 0.5h0m0.5 2h0m-4 8.5h0m0.5 0.5h0m-3 2.5h0m0.5 5h0m3 10h0m1.5 3h0m0.5 0.5h0m-2 6.5h0m1.5 2.5h0m-5 3.5h0m3 1.5h0m-2 4.5h0m-1 1.5h0m-1 28.5h0m1 1h0m-1 3h0m0.5 2.5h0m5 0h0m1.5 0.5h0m-7.5 0.5h0m8 0h0m-4.5 5h0m0 1h0m1 3h0m0 0h0m1 1.5h0m0.5 4.5h0m1 4h0m9-117.5h0m-7 7.5h0m2 2h0m3.5 2h0m1.5 1.5h0m-5.5 5h0m-2.5 23h0m0.5 3h0m3.5 0h0m-1 2.5h0m3 4.5h0m0.5 2h0m-3 0.5h0m-1.5 0.5h0m-1 3h0m-1 43.5h0m5 2.5h0m-4 2h0m2 1h0m-0.5 2h0m5 1.5h0m-4 0.5h0m-2 2h0m2.5 1h0m1.5 3.5h0m-4 0h0m0 0.5h0m1.5 3h0m1 9.5h0m8-123.5h0m-3 0.5h0m3.5 1h0m0 1.5h0m-0.5 1h0m-3.5 1h0m6.5 1.5h0m-2.5 1h0m-3 0h0m-1.5 99.5h0m1 3h0m-0.5 1h0m0.5 3.5h0m3 0.5h0m1.5 2h0m2 3.5h0m-1 6h0m1 11h0m-3 5.5h0m9-145h0m-3.5 8h0m-2 1h0m7 1h0m-3 0.5h0m-3.5 110h0m1.5 0h0m-2 2.5h0m4 1.5h0m-2 0.5h0m2 1h0m-3.5 3.5h0m6 9.5h0m6-128.5h0m-1.5 1.5h0m-2.5 116h0m6.5 1h0m-6 0.5h0m4.5 3.5h0m-0.5 3.5h0m-4.5 14.5h0m15.5-136.5h0m-5.5 0h0m-0.5 0h0m1 1h0m0 117h0m-0.5 0h0m3 0.5h0m-0.5 3.5h0m1.5 1h0m0 4h0m0.5 12.5h0m1.5-135.5h0m7 10h0m-7 103.5h0m2.5 1h0m1 0h0m0.5 0.5h0m1.5 12.5h0m5-115h0m2 3h0m-4.5 100.5h0m0 1.5h0m6.5 2.5h0m-6.5 1.5h0m6.5 9h0m6.5-134.5h0m-5 21.5h0m0 0.5h0m4 1.5h0m1.5 0h0m-3 2h0m3.5 0h0m-2.5 0.5h0m2.5 1.5h0m1 1h0m-1 41.5h0m-0.5 0.5h0m-3 48h0m2 1.5h0m-1 2h0m-3.5 2h0m2.5 7h0m-0.5 2.5h0m7.5-108.5h0m6 0h0m-4.5 10.5h0m3 2h0m-2.5 0.5h0m1.5 0.5h0m1.5 1.5h0m-2 3h0m1.5 6h0m-2.5 1.5h0m-1 4.5h0m4 0.5h0m-0.5 1.5h0m-5.5 0.5h0m1 2h0m3 0.5h0m0 1h0m-4.5 2.5h0m6 1.5h0m-4.5 2h0m1.5 0h0m1 3h0m2.5 1h0m-4.5 2h0m0 2h0m-2 2h0m1.5 2h0m-0.5 0.5h0m6 8h0m-0.5 0.5h0m-6.5 28h0m0 1.5h0m6.5 2h0m-5.5 3h0m4 4h0m-4 2.5h0m13-105.5h0m-2.5 15.5h0m1.5 3h0m-4 1.5h0m3.5 0h0m-4.5 7h0m1 4h0m0.5 4h0m4 1h0m-6 1.5h0m6.5 0.5h0m-2.5 1.5h0m-0.5 4.5h0m-1.5 0h0m3 3.5h0m1.5 2h0m-1.5 2.5h0m-4.5 2h0m-0.5 3h0m1.5 2h0m5.5 3h0m-5.5 1.5h0m-0.5 2h0m4 0.5h0m-1.5 2h0m-1 0h0m0.5 1.5h0m0 0h0m5 2.5h0m0 4.5h0m-2.5 1.5h0m1 2.5h0m1 1h0m-0.5 2h0m-0.5 1h0m-3 3h0m-3 1.5h0m2.5 0.5h0m-3 1h0m1.5 4h0m2 3.5h0m-1.5 0.5h0m-0.5 0h0m3 0.5h0m-2 2h0m-0.5 0h0m12.5-96h0m-1 27.5h0m0 7h0m-4 2h0m-1 3.5h0m6 16.5h0m-5 1.5h0m0.5 3.5h0m1.5 3.5h0m3 0.5h0m-2.5 1.5h0m-3.5 0h0m1 0h0m5.5 6h0m-1 2h0m-1 0h0m-2 1h0m2 0.5h0m-0.5 1h0m3 0.5h0m-2.5 3h0m-4 5h0m4 1.5h0m-2 0h0m-1 5.5h0m9.5-70h0m-1 5.5h0m-2 3.5h0m5.5 18.5h0m-5.5 20h0m3.5 2.5h0m1 3.5h0m-3 4h0m1.5 13.5h0m-3.5 10.5h0m8-32h0m0 13.5h0m8.5-43h0"/>
<path d="M557 782h0m8.5-57h0m1 48h0m-0.5 28.5h0m3-101h0m7 8.5h0m-3.5 8h0m3 1h0m-3.5 8.5h0m1.5 45h0m-5 1h0m4.5 0.5h0m-3 2.5h0m2.5 13h0m-1.5 6h0m5 8h0m-6.5 1h0m5 1.5h0m1 6.5h0m8.5-105h0m-6 5h0m5 9h0m-6 6.5h0m0 2h0m2 36h0m3.5 2.5h0m-5 5h0m2 5h0m1 2h0m3.5 0h0m-1 2h0m-4 2h0m4.5 1h0m0.5 2.5h0m-4 1h0m3.5 0h0m0 1h0m-6.5 1h0m1.5 2h0m1.5 1h0m0 2.5h0m-1.5 0.5h0m-1 5.5h0m7-85.5h0m5 3.5h0m0.5 0.5h0m-1 2.5h0m1.5 2.5h0m-5 0.5h0m5 1.5h0m0.5 3h0m0 3h0m-4 1h0m-0.5 1h0m0 6.5h0m3 3h0m-3.5 5h0m-1 17h0m0.5 0h0m4 2.5h0m1.5 3.5h0m-5 1h0m1 3h0m0.5 2h0m-1.5 3h0m1 3.5h0m0.5 1.5h0m-1.5 1h0m0.5 0.5h0m0.5 3h0m-1 6.5h0m2.5 1h0m-2 1h0m2.5 0.5h0m1.5 5h0m0 2h0m-2.5 3h0m1 6.5h0m-1 3h0m10.5-108h0m0 8h0m-2.5 1h0m-3 0.5h0m4.5 0.5h0m-3.5 3h0m-1 1.5h0m7 1h0m-5 0h0m-2 0h0m2.5 2.5h0m4.5 1h0m-5.5 8h0m0.5 0h0m2 1.5h0m-2.5 0.5h0m0.5 3h0m-1.5 0.5h0m4.5 0.5h0m0.5 1h0m-1.5 0.5h0m2.5 10h0m-4 4.5h0m0.5 0.5h0m2 1h0m-1 0.5h0m-2.5 4h0m1.5 2.5h0m-2.5 1.5h0m2.5 1.5h0m-3 3h0m2.5 31h0m1 2.5h0m1.5 0.5h0m-1 5.5h0m0 17.5h0m10.5-125.5h0m-7.5 5h0m2.5 1h0m3 6h0m-0.5 2h0m0 1.5h0m3 2.5h0m-2 2h0m0.5 0h0m-4 26.5h0m-1 1.5h0m-0.5 6.5h0m2.5 4.5h0m2 1h0m-4 0.5h0m-0.5 2.5h0m1.5 41.5h0m-1 1.5h0m1 0.5h0m0.5 0h0m4.5 3h0m-1.5 0.5h0m1.5 1h0m-4.5 0h0m-0.5 10h0m2.5 0.5h0m-2 3h0m3.5 2.5h0m-3.5 2h0m3.5 1h0m-1.5 3h0m1 2h0m1.5 5.5h0m6.5-125h0m-2.5 0h0m3 0.5h0m-5 1.5h0m1.5 1h0m4.5 2h0m-3.5 108h0m6.5-114h0m1 0h0m2.5 0h0m-2.5 0.5h0m-1 2h0m-1.5 2h0m3.5 1h0m-3 0.5h0m3 0.5h0m2.5 0h0m-4 109.5h0m3 1.5h0m1.5 1h0m-3 0.5h0m3 0.5h0m-5.5 0h0m1 1h0m2.5 4.5h0m4.5-125h0m4.5 0.5h0m-2 3h0m-4 2.5h0m2 1h0m3 1h0m-4.5 1.5h0m4 112.5h0m1 1h0m0 0.5h0m-1 2h0m-0.5 0.5h0m2.5 1h0m-4 1.5h0m-2.5 1.5h0m0.5 2.5h0m8.5-128h0m0 4.5h0m5 1.5h0m-2.5 1.5h0m0.5 0h0m-2 1.5h0m3.5 3h0m2 111h0m-2.5 3h0m-3.5 10h0m12.5-132h0m-3.5 2.5h0m0.5 6h0m1.5 4.5h0m-5 105h0m3 0h0m0 0.5h0m4.5 0.5h0m-2 3h0m0 1h0m0.5 0h0m-5 1.5h0m1.5 1.5h0m2.5 4.5h0m-3 7.5h0m13-137.5h0m-5.5 8.5h0m2.5 4h0m0.5 3.5h0m3.5 1h0m-2.5 0.5h0m0 1.5h0m1.5 109h0m-3 1.5h0m5-122h0m0 10.5h0m1.5 5h0m0.5 2.5h0m4.5 0h0m-1 2h0m0.5 38h0m-0.5 2h0m0 0.5h0m-0.5 1.5h0m-3.5 48h0m2 0.5h0m3.5 3h0m-4.5 4h0m2.5 5.5h0m2-102.5h0m4.5 7.5h0m1 1h0m0 3.5h0m-1 0.5h0m2 3.5h0m1.5 3.5h0m-4 4h0m-1 3.5h0m-1 2h0m0 8h0m4.5 2.5h0m-2 0.5h0m1.5 4h0m-4 0h0m3.5 1.5h0m1.5 1h0m1 1.5h0m-3.5 0.5h0m2 10.5h0m0.5 24.5h0m0.5 0.5h0m-1.5 2.5h0m-1.5 6h0m-1 13h0m4.5-109.5h0m0.5 8.5h0m1 1h0m-1 2.5h0m2 1h0m2.5 1.5h0m-1.5 1.5h0m2.5 2h0m0.5 0.5h0m-5 1.5h0m3 0h0m0.5 4h0m3 1.5h0m-2.5 1.5h0m-3 1.5h0m3.5 13h0m1 0.5h0m-4 0.5h0m3.5 1.5h0m-3 5h0m-3.5 1.5h0m0.5 1.5h0m5 0.5h0m0 3.5h0m0 2.5h0m-0.5 1.5h0m0 2h0m-3.5 0h0m5 10h0m0.5 0.5h0m-1 3.5h0m-1 7h0m-1 2h0m-3 1h0m2 1.5h0m-3 1.5h0m7 0.5h0m-2.5 1h0m2 8h0m-6 3h0m3.5 8.5h0m3 4.5h0m1-99.5h0m4 7.5h0m2.5 2.5h0m-2.5 1.5h0m-2.5 3.5h0m2 18h0m3.5 15h0m0 7.5h0m1 2.5h0m-6.5 1.5h0m1.5 1h0m-2 0.5h0m4.5 5h0m1.5 2h0m-4 3h0m4 1.5h0m0 6.5h0m-1 3h0m-6 2.5h0m2 10h0m4 1.5h0m5-85.5h0m-0.5 0.5h0m0 11h0m3 11.5h0m-3 14.5h0m3.5 14h0m-3 1h0m-1.5 7.5h0m3 8h0m-3.5 5h0m2 6h0m6-25h0m0.5 3.5h0m-1 16h0m7 14h0m4.5-64.5h0"/>
<path d="M547.5 764h0m10.5-7.5h0m6.5-44h0m0 11h0m3 54h0m-2.5 1h0m-3.5 3h0m13.5-58h0m-1.5 32h0m-1.5 12.5h0m1.5 5.5h0m-3 1h0m-0.5 2h0m5 0.5h0m-3.5 15h0m4.5 1h0m-3.5 5.5h0m10.5-78.5h0m-3.5 1h0m2 0.5h0m-2 3.5h0m0 2.5h0m2.5 8h0m-0.5 3.5h0m-5 1h0m3.5 20.5h0m1 3h0m-2.5 2h0m1 0h0m4 12h0m0 2h0m0 2h0m-7.5 3.5h0m7.5 1.5h0m-2.5 0h0m-5 0.5h0m2 6h0m5.5 3h0m-2 0.5h0m1.5 0.5h0m-1.5 0.5h0m2 0.5h0m-5.5 2h0m6 3.5h0m-4 1h0m-3.5 13h0m5.5 1h0m4-109h0m6 10.5h0m-5 2.5h0m-1 3h0m-1 1h0m1 2.5h0m2 3h0m3.5 3h0m-2.5 2.5h0m-4 2h0m5 5.5h0m-2 1h0m2.5 1h0m0 0.5h0m-0.5 0h0m1 3.5h0m-6 9h0m5 4.5h0m-1.5 2h0m-4 0.5h0m4 0.5h0m-2.5 6.5h0m5 0.5h0m-0.5 2h0m-4.5 1h0m1.5 1h0m0 4h0m0.5 0.5h0m-1 1h0m-2.5 1h0m2 2h0m0 4h0m0.5 4h0m4 8.5h0m1 0h0m0 4h0m-6.5 1h0m6.5 9.5h0m-1.5 6.5h0m-1.5 12h0m5-126h0m-0.5 2.5h0m2 0h0m0.5 1.5h0m-1 1.5h0m1 5.5h0m-3.5 1.5h0m5 5h0m-1 0.5h0m1 1h0m-2 0.5h0m1 0.5h0m3 0h0m-4.5 2.5h0m-0.5 1h0m0.5 4h0m0 3h0m1 0.5h0m1.5 4h0m1 5.5h0m-2.5 7.5h0m1 3.5h0m2.5 5h0m-6 1h0m4 3h0m-4.5 32.5h0m3 3.5h0m-2.5 1.5h0m5 1h0m0.5 1.5h0m-2 4.5h0m1 9.5h0m-2.5 12.5h0m6.5-127h0m0 3.5h0m1 0.5h0m1.5 3h0m-2 0.5h0m-2 0.5h0m5 2h0m-3 0.5h0m3.5 0h0m-4.5 29h0m0 0.5h0m1 2.5h0m0.5 10h0m0.5 0.5h0m-1 4.5h0m0 43h0m1.5 4.5h0m-1.5 4h0m1 1.5h0m0 3.5h0m1 3h0m-1 2.5h0m2.5 1.5h0m-2 0h0m-2 7h0m5.5 6h0m5-133.5h0m-2 1.5h0m1.5 5h0m2.5 2h0m-0.5 0.5h0m-5.5 2.5h0m2.5 2h0m-1 0h0m1 1.5h0m0.5 0.5h0m-3 101h0m2.5 0h0m-0.5 1h0m-0.5 1h0m2 1.5h0m4 8h0m-1 0.5h0m-5.5 5.5h0m5.5 5.5h0m-2.5 1.5h0m7.5-137.5h0m-1 13.5h0m2.5 1h0m-4.5 105.5h0m0 2h0m3 2.5h0m-0.5 0.5h0m2 1h0m-3 5h0m9-119h0m3 4.5h0m0.5 1.5h0m-2.5 111h0m-0.5 1.5h0m2.5 15h0m4-138h0m0.5 6h0m3 6.5h0m-4 1.5h0m1 0.5h0m1.5 109.5h0m0.5 0h0m-1 4h0m7-112h0m-0.5 1.5h0m-1 1h0m5.5 110h0m-5 0.5h0m1.5 0.5h0m1 0h0m3.5 0.5h0m-7 0.5h0m6.5 1h0m-1.5 4h0m-2.5 2.5h0m6-127h0m-1.5 2h0m3.5 3.5h0m-3 1.5h0m3.5 7.5h0m3.5 4h0m-4.5 98.5h0m1.5 3h0m-1.5 3h0m10-113h0m-4 3h0m7 3.5h0m-6.5 0.5h0m6.5 1h0m-7 1h0m5.5 0.5h0m-0.5 3h0m1 34.5h0m-0.5 6h0m0 6h0m-1 44.5h0m-0.5 0h0m0.5 0.5h0m-4.5 1.5h0m0 2h0m7 0h0m-2 0h0m-3.5 3.5h0m-2 3h0m4 0.5h0m-4 1h0m10-106.5h0m2 0h0m-3 7h0m5 6.5h0m-1 0.5h0m1 5.5h0m1 2h0m0 7.5h0m-5 4.5h0m-1 2h0m3.5 1.5h0m-5 0.5h0m1 1h0m0 1h0m2.5 2h0m1 1h0m-1 1.5h0m2 0h0m2 1.5h0m0.5 7.5h0m-5.5 1h0m0 5h0m1.5 2.5h0m1.5 1.5h0m1.5 1.5h0m-5.5 28.5h0m-1 0.5h0m2.5 2.5h0m-1 1h0m2.5 0h0m-1 0.5h0m-1 1h0m4.5 1h0m-6.5 4.5h0m9.5-109h0m0.5 12h0m2 2.5h0m-0.5 5h0m-3 3.5h0m3 1.5h0m-2 0h0m1 1h0m-2.5 2h0m4.5 1h0m-2 2h0m1 0.5h0m-1 0h0m-1.5 2.5h0m0.5 2.5h0m2.5 2.5h0m-0.5 2.5h0m-3 6.5h0m-1 3.5h0m4 12h0m-2 1.5h0m2 1.5h0m-3 2h0m0.5 4h0m0.5 0h0m0 1h0m2 2h0m2.5 3.5h0m-0.5 0h0m2 3.5h0m-4.5 14.5h0m0.5 5h0m1.5 7.5h0m3.5-93.5h0m-1 1.5h0m4.5 8h0m-3 2h0m4.5 8h0m-5.5 3.5h0m3 3h0m2.5 3.5h0m-5.5 0h0m-0.5 2h0m2 3h0m2 15.5h0m-2.5 6h0m5 3h0m-0.5 1.5h0m0.5 1.5h0m-5 1h0m1 1.5h0m3 0h0m0.5 5h0m-5.5 2h0m5 3.5h0m-1.5 1h0m1.5 1.5h0m-1.5 2h0m3 3.5h0m-2 8.5h0m1 11h0m3.5-98h0m-0.5 11h0m0 29h0m-0.5 3.5h0m1 22h0m0 6h0m1.5 8.5h0m11.5-20h0m-5.5 0h0m4 24h0m-3.5 3.5h0m0 14h0m10.5-41h0m8 6.5h0m-2.5 19h0"/>
</g>
<path d="M594.3 735.5L595.5 733.3L605.5 726.2L615.5 726.4L625.5 729.9L634.7 735.5L635.5 735.8L645.5 741.8L650 745.5L655.5 751.2L659.9 755.5L665.5 762.7L667.9 765.5L670.3 775.5L666.5 785.5L665.5 787.2L660.6 795.5L664.3 805.5L665.5 808.2L669.7 815.5L675.5 822.6L677.6 825.5L678.7 835.5L675.5 839.3L665.5 845.5L665.5 845.5L655.5 849.2L645.5 849.1L635.5 845.9L634.9 845.5L625.5 842.1L617 835.5L615.5 833.2L609 825.5L607.1 815.5L605.5 814.2L595.5 806L595 805.5L586.9 795.5L587 785.5L591.3 775.5L595.5 772.2L605.5 766.1L606.7 765.5L605.5 761.7L604.2 755.5L598 745.5L595.5 737.4Z" fill="#fff" fill-rule="evenodd" shape-rendering="crispEdges"/>
<g shape-rendering="crispEdges">
<path fill="rgb(250,250,250)" fill-opacity="0.02" d="M560.5 760.5h10v10h-10zM560.5 770.5h10v10h-10zM560.5 780.5h10v10h-10zM570.5 710.5h10v10h-10zM570.5 720.5h10v10h-10zM570.5 760.5h10v10h-10zM570.5 800.5h10v10h-10zM580.5 750.5h10v10h-10zM580.5 810.5h10v10h-10zM580.5 820.5h10v10h-10zM590.5 830.5h10v10h-10zM600.5 840.5h10v10h-10zM610.5 710.5h10v10h-10zM620.5 850.5h10v10h-10zM630.5 720.5h10v10h-10zM660.5 740.5h10v10h-10zM670.5 750.5h10v10h-10zM680.5 760.5h10v10h-10zM680.5 790.5h10v10h-10zM680.5 800.5h10v10h-10zM690.5 820.5h10v10h-10zM690.5 840.5h10v10h-10z"/>
<path fill="rgb(245,245,245)" fill-opacity="0.04" d="M580.5 710.5h10v10h-10zM580.5 740.5h10v10h-10zM580.5 800.5h10v10h-10zM590.5 820.5h10v10h-10zM600.5 710.5h10v10h-10zM610.5 840.5h10v10h-10zM630.5 850.5h10v10h-10zM640.5 730.5h10v10h-10zM670.5 850.5h10v10h-10zM680.5 770.5h10v10h-10zM680.5 780.5h10v10h-10zM680.5 810.5h10v10h-10zM680.5 850.5h10v10h-10z"/>
<path fill="rgb(240,240,240)" fill-opacity="0.06" d="M570.5 770.5h10v10h-10zM570.5 780.5h10v10h-10zM570.5 790.5h10v10h-10zM580.5 720.5h10v10h-10zM580.5 760.5h10v10h-10zM590.5 710.5h10v10h-10zM590.5 750.5h10v10h-10zM590.5 810.5h10v10h-10zM600.5 830.5h10v10h-10zM650.5 850.5h10v10h-10zM660.5 850.5h10v10h-10zM670.5 760.5h10v10h-10zM670.5 790.5h10v10h-10zM670.5 800.5h10v10h-10zM680.5 820.5h10v10h-10zM680.5 840.5h10v10h-10zM690.5 830.5h10v10h-10z"/>
<path fill="rgb(235,235,235)" fill-opacity="0.08" d="M580.5 730.5h10v10h-10zM590.5 760.5h10v10h-10zM620.5 720.5h10v10h-10zM640.5 850.5h10v10h-10zM650.5 740.5h10v10h-10zM660.5 750.5h10v10h-10z"/>
<path fill="rgb(230,230,230)" fill-opacity="0.10" d="M620.5 840.5h10v10h-10zM670.5 770.5h10v10h-10zM670.5 780.5h10v10h-10zM670.5 810.5h10v10h-10zM680.5 830.5h10v10h-10z"/>
<path fill="rgb(224,224,224)" fill-opacity="0.12" d="M580.5 770.5h10v10h-10zM590.5 740.5h10v10h-10zM670.5 840.5h10v10h-10z"/>
<path fill="rgb(219,219,219)" fill-opacity="0.14" d="M580.5 790.5h10v10h-10zM590.5 720.5h10v10h-10zM600.5 820.5h10v10h-10zM660.5 790.5h10v10h-10z"/>
<path fill="rgb(214,214,214)" fill-opacity="0.16" d="M580.5 780.5h10v10h-10zM600.5 810.5h10v10h-10zM610.5 720.5h10v10h-10zM610.5 830.5h10v10h-10zM660.5 800.5h10v10h-10z"/>
<path fill="rgb(209,209,209)" fill-opacity="0.18" d="M600.5 720.5h10v10h-10zM600.5 760.5h10v10h-10zM630.5 730.5h10v10h-10zM660.5 840.5h10v10h-10z"/>
<path fill="rgb(204,204,204)" fill-opacity="0.20" d="M590.5 730.5h10v10h-10zM590.5 800.5h10v10h-10zM600.5 750.5h10v10h-10zM630.5 840.5h10v10h-10zM660.5 780.5h10v10h-10z"/>
<path fill="rgb(199,199,199)" fill-opacity="0.22" d="M660.5 760.5h10v10h-10zM670.5 820.5h10v10h-10zM670.5 830.5h10v10h-10z"/>
<path fill="rgb(194,194,194)" fill-opacity="0.24" d="M590.5 770.5h10v10h-10zM640.5 840.5h10v10h-10zM650.5 780.5h10v10h-10zM650.5 790.5h10v10h-10zM660.5 810.5h10v10h-10z"/>
<path fill="rgb(189,189,189)" fill-opacity="0.26" d="M610.5 760.5h10v10h-10zM640.5 740.5h10v10h-10zM650.5 750.5h10v10h-10zM650.5 840.5h10v10h-10zM660.5 770.5h10v10h-10z"/>
<path fill="rgb(184,184,184)" fill-opacity="0.28" d="M610.5 820.5h10v10h-10z"/>
<path fill="rgb(173,173,173)" fill-opacity="0.32" d="M610.5 810.5h10v10h-10zM620.5 730.5h10v10h-10zM640.5 780.5h10v10h-10z"/>
<path fill="rgb(168,168,168)" fill-opacity="0.34" d="M650.5 800.5h10v10h-10z"/>
<path fill="rgb(163,163,163)" fill-opacity="0.36" d="M590.5 780.5h10v10h-10zM600.5 730.5h10v10h-10zM600.5 770.5h10v10h-10zM600.5 800.5h10v10h-10zM620.5 830.5h10v10h-10z"/>
<path fill="rgb(158,158,158)" fill-opacity="0.38" d="M600.5 740.5h10v10h-10z"/>
<path fill="rgb(153,153,153)" fill-opacity="0.40" d="M590.5 790.5h10v10h-10zM610.5 770.5h10v10h-10zM650.5 770.5h10v10h-10z"/>
<path fill="rgb(148,148,148)" fill-opacity="0.42" d="M620.5 770.5h10v10h-10zM660.5 820.5h10v10h-10zM660.5 830.5h10v10h-10z"/>
<path fill="rgb(143,143,143)" fill-opacity="0.44" d="M630.5 770.5h10v10h-10z"/>
<path fill="rgb(138,138,138)" fill-opacity="0.46" d="M610.5 730.5h10v10h-10zM610.5 750.5h10v10h-10zM620.5 760.5h10v10h-10zM620.5 820.5h10v10h-10zM640.5 770.5h10v10h-10zM650.5 810.5h10v10h-10z"/>
<path fill="rgb(133,133,133)" fill-opacity="0.48" d="M630.5 780.5h10v10h-10z"/>
<path fill="rgb(128,128,128)" fill-opacity="0.50" d="M630.5 830.5h10v10h-10zM650.5 760.5h10v10h-10z"/>
<path fill="rgb(122,122,122)" fill-opacity="0.52" d="M640.5 790.5h10v10h-10z"/>
<path fill="rgb(117,117,117)" fill-opacity="0.54" d="M620.5 810.5h10v10h-10zM640.5 800.5h10v10h-10z"/>
<path fill="rgb(107,107,107)" fill-opacity="0.58" d="M610.5 800.5h10v10h-10zM630.5 740.5h10v10h-10zM640.5 830.5h10v10h-10zM650.5 830.5h10v10h-10z"/>
<path fill="rgb(102,102,102)" fill-opacity="0.60" d="M600.5 780.5h10v10h-10z"/>
<path fill="rgb(97,97,97)" fill-opacity="0.62" d="M640.5 810.5h10v10h-10z"/>
<path fill="rgb(92,92,92)" fill-opacity="0.64" d="M600.5 790.5h10v10h-10zM620.5 780.5h10v10h-10zM640.5 750.5h10v10h-10zM650.5 820.5h10v10h-10z"/>
<path fill="rgb(82,82,82)" fill-opacity="0.68" d="M610.5 740.5h10v10h-10zM630.5 810.5h10v10h-10z"/>
<path fill="rgb(77,77,77)" fill-opacity="0.70" d="M630.5 800.5h10v10h-10z"/>
<path fill="rgb(66,66,66)" fill-opacity="0.74" d="M630.5 760.5h10v10h-10zM630.5 820.5h10v10h-10zM640.5 760.5h10v10h-10z"/>
<path fill="rgb(61,61,61)" fill-opacity="0.76" d="M610.5 780.5h10v10h-10z"/>
<path fill="rgb(56,56,56)" fill-opacity="0.78" d="M620.5 740.5h10v10h-10z"/>
<path fill="rgb(51,51,51)" fill-opacity="0.80" d="M620.5 800.5h10v10h-10zM630.5 790.5h10v10h-10z"/>
<path fill="rgb(46,46,46)" fill-opacity="0.82" d="M640.5 820.5h10v10h-10z"/>
<path fill="rgb(36,36,36)" fill-opacity="0.86" d="M620.5 750.5h10v10h-10z"/>
<path fill="rgb(20,20,20)" fill-opacity="0.92" d="M630.5 750.5h10v10h-10z"/>
<path fill="rgb(10,10,10)" fill-opacity="0.96" d="M610.5 790.5h10v10h-10z"/>
<path fill="rgb(0,0,0)" fill-opacity="1.00" d="M620.5 790.5h10v10h-10z"/>
</g>
<path d="M594.3 735.5L595.5 733.3L605.5 726.2L615.5 726.4L625.5 729.9L634.7 735.5L635.5 735.8L645.5 741.8L650 745.5L655.5 751.2L659.9 755.5L665.5 762.7L667.9 765.5L670.3 775.5L666.5 785.5L665.5 787.2L660.6 795.5L664.3 805.5L665.5 808.2L669.7 815.5L675.5 822.6L677.6 825.5L678.7 835.5L675.5 839.3L665.5 845.5L665.5 845.5L655.5 849.2L645.5 849.1L635.5 845.9L634.9 845.5L625.5 842.1L617 835.5L615.5 833.2L609 825.5L607.1 815.5L605.5 814.2L595.5 806L595 805.5L586.9 795.5L587 785.5L591.3 775.5L595.5 772.2L605.5 766.1L606.7 765.5L605.5 761.7L604.2 755.5L598 745.5L595.5 737.4ZM607.7 735.5L615.5 732.7L621.6 735.5L625.5 736.7L635.5 740.4L642.2 745.5L645.5 748.4L652.5 755.5L655.5 760.2L660 765.5L657.2 775.5L655.5 777L645.5 781.3L641.8 785.5L645.5 788.5L650.6 795.5L653.7 805.5L655.5 808.5L659.4 815.5L665.5 822.8L667.9 825.5L667.9 835.5L665.5 837.5L655.5 841.9L645.5 841.7L635.5 839.6L626.5 835.5L625.5 833.9L620.7 825.5L618 815.5L615.5 813.6L606.3 805.5L605.5 804.9L595.5 796.6L594.6 795.5L595.5 790.2L596.3 785.5L605.5 775.8L607.7 775.5L615.5 773.4L621.2 765.5L615.5 760L612.1 755.5L605.5 745.5ZM612.8 745.5L615.5 741.7L625.5 741.5L635 745.5L635.5 745.8L645.5 754.5L646.5 755.5L651.4 765.5L645.5 770.6L635.5 770.1L630.4 765.5L625.5 762L618.9 755.5L615.5 749.4ZM605.5 785.5L615.5 781L625.5 783.6L628.2 785.5L635.5 789.3L642.7 795.5L641.6 805.5L645.5 813L646.7 815.5L655.5 823.1L657.5 825.5L655.5 832.7L645.5 835.1L635.5 831.4L630.6 825.5L630 815.5L625.5 813L616 805.5L615.5 805.2L605.5 796.9L603.9 795.5L605.5 785.5ZM624.4 755.5L625.5 749.6L635.5 752.2L639.4 755.5L635.5 761.6L625.5 756.6ZM611.1 795.5L615.5 788.3L625.5 790.3L634.7 795.5L625.5 804.9L615.5 799.3Z" fill="none" stroke="#000" stroke-width="2.08" stroke-linejoin="round"/>
</g>
</g>
<rect x="520.5" y="670.5" width="200" height="200" fill="none" stroke="#7f7f7f" stroke-width="1.1"/>
<path d="M526.5 870.5v4.86M573.5 870.5v4.86M619.5 870.5v4.86M666.5 870.5v4.86M713.5 870.5v4.86M520.5 854.5h-4.86M520.5 806.5h-4.86M520.5 757.5h-4.86M520.5 709.5h-4.86" stroke="#000" stroke-width="1.1" fill="none"/>
<g clip-path="url(#c33)">
<path d="M730.5 870.5V869.5H740.5V855.5H750.5V813.5H760.5V757.5H770.5V741.5H780.5V744.5H790.5V719.5H800.5V688.5H810.5V713.5H820.5V758.5H830.5V750.5H840.5V740.5H850.5V773.5H860.5V813.5H870.5V847.5H880.5V861.5H890.5V868.5H900.5V869.5H910.5V870.5H920.5V870.5H930.5V870.5" stroke="#000" stroke-width="1.4" fill="none" stroke-linejoin="miter"/>
<path d="M774 870.5V670.5M808 870.5V670.5M846 870.5V670.5" stroke="#000" stroke-width="2.08" stroke-dasharray="7.71 3.33" fill="none"/>
<path d="M746.5 670.5v200M794.5 670.5v200M843.5 670.5v200M891.5 670.5v200M730.5 672.5h200M730.5 722.5h200M730.5 771.5h200M730.5 821.5h200M730.5 870.5h200" stroke="#b6b6b6" stroke-width="1" fill="none"/>
</g>
<rect x="730.5" y="670.5" width="200" height="200" fill="none" stroke="#7f7f7f" stroke-width="1.1"/>
<path d="M746.5 870.5v4.86M794.5 870.5v4.86M843.5 870.5v4.86M891.5 870.5v4.86M730.5 672.5h-4.86M730.5 722.5h-4.86M730.5 771.5h-4.86M730.5 821.5h-4.86M730.5 870.5h-4.86" stroke="#000" stroke-width="1.1" fill="none"/>
<g font-size="18.0" letter-spacing="0.5" fill="#000" opacity=".999">
<text transform="translate(130.50 900.30) rotate(-45)" x="-0.75" y="5.70" text-anchor="middle">−0.6</text>
<text transform="translate(175.50 895.39) rotate(-45)" x="-0.75" y="5.70" text-anchor="middle">0.0</text>
<text transform="translate(221.50 895.39) rotate(-45)" x="-0.75" y="5.70" text-anchor="middle">0.6</text>
<text transform="translate(266.50 895.39) rotate(-45)" x="-0.75" y="5.70" text-anchor="middle">1.2</text>
<text transform="translate(315.50 902.82) rotate(-45)" x="-0.75" y="5.70" text-anchor="middle">0.016</text>
<text transform="translate(359.50 902.82) rotate(-45)" x="-0.75" y="5.70" text-anchor="middle">0.024</text>
<text transform="translate(402.50 902.82) rotate(-45)" x="-0.75" y="5.70" text-anchor="middle">0.032</text>
<text transform="translate(446.50 902.82) rotate(-45)" x="-0.75" y="5.70" text-anchor="middle">0.040</text>
<text transform="translate(490.50 902.82) rotate(-45)" x="-0.75" y="5.70" text-anchor="middle">0.048</text>
<text transform="translate(526.50 900.30) rotate(-45)" x="-0.75" y="5.70" text-anchor="middle">−1.6</text>
<text transform="translate(573.50 900.30) rotate(-45)" x="-0.75" y="5.70" text-anchor="middle">−1.2</text>
<text transform="translate(619.50 900.30) rotate(-45)" x="-0.75" y="5.70" text-anchor="middle">−0.8</text>
<text transform="translate(666.50 900.30) rotate(-45)" x="-0.75" y="5.70" text-anchor="middle">−0.4</text>
<text transform="translate(713.50 895.39) rotate(-45)" x="-0.75" y="5.70" text-anchor="middle">0.0</text>
<text transform="translate(746.50 904.05) rotate(-45)" x="-0.75" y="5.70" text-anchor="middle">−1.45</text>
<text transform="translate(794.50 904.05) rotate(-45)" x="-0.75" y="5.70" text-anchor="middle">−1.40</text>
<text transform="translate(843.50 904.05) rotate(-45)" x="-0.75" y="5.70" text-anchor="middle">−1.35</text>
<text transform="translate(891.50 904.05) rotate(-45)" x="-0.75" y="5.70" text-anchor="middle">−1.30</text>
<text transform="translate(67.18 461.10) rotate(-45)" x="-0.75" y="5.70" text-anchor="middle">0.016</text>
<text transform="translate(67.18 417.10) rotate(-45)" x="-0.75" y="5.70" text-anchor="middle">0.024</text>
<text transform="translate(67.18 374.10) rotate(-45)" x="-0.75" y="5.70" text-anchor="middle">0.032</text>
<text transform="translate(67.18 330.10) rotate(-45)" x="-0.75" y="5.70" text-anchor="middle">0.040</text>
<text transform="translate(67.18 286.10) rotate(-45)" x="-0.75" y="5.70" text-anchor="middle">0.048</text>
<text transform="translate(69.70 667.58) rotate(-45)" x="-0.75" y="5.70" text-anchor="middle">−1.6</text>
<text transform="translate(69.70 620.58) rotate(-45)" x="-0.75" y="5.70" text-anchor="middle">−1.2</text>
<text transform="translate(69.70 574.58) rotate(-45)" x="-0.75" y="5.70" text-anchor="middle">−0.8</text>
<text transform="translate(69.70 527.58) rotate(-45)" x="-0.75" y="5.70" text-anchor="middle">−0.4</text>
<text transform="translate(74.61 475.68) rotate(-45)" x="-0.75" y="5.70" text-anchor="middle">0.0</text>
<text transform="translate(65.95 871.33) rotate(-45)" x="-0.75" y="5.70" text-anchor="middle">−1.45</text>
<text transform="translate(65.95 823.33) rotate(-45)" x="-0.75" y="5.70" text-anchor="middle">−1.40</text>
<text transform="translate(65.95 774.33) rotate(-45)" x="-0.75" y="5.70" text-anchor="middle">−1.35</text>
<text transform="translate(65.95 726.33) rotate(-45)" x="-0.75" y="5.70" text-anchor="middle">−1.30</text>
</g>
</svg>
</body></html>
